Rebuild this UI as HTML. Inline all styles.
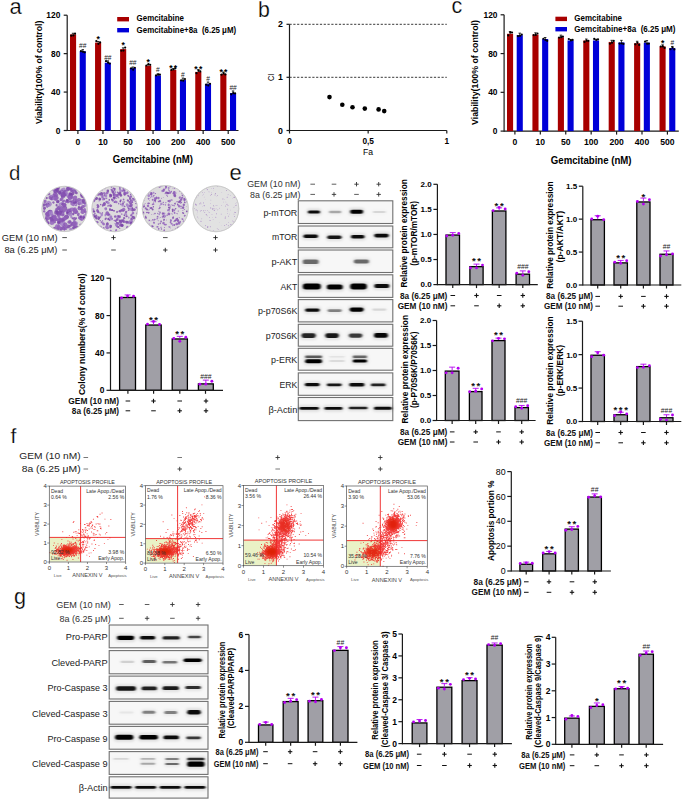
<!DOCTYPE html>
<html><head><meta charset="utf-8"><style>
html,body{margin:0;padding:0;background:#fff;width:685px;height:802px;overflow:hidden}
svg{display:block;font-family:"Liberation Sans", sans-serif}
</style></head><body>
<svg width="685" height="802" viewBox="0 0 685 802">
<rect width="685" height="802" fill="#fff"/>
<text x="9.51" y="13.90" font-size="22.00" stroke="#fff" stroke-width="0.25">a</text>
<line x1="67.20" y1="131.10" x2="67.20" y2="15.20" stroke="#1a1a1a" stroke-width="1.2"/>
<line x1="63.70" y1="130.50" x2="67.20" y2="130.50" stroke="#1a1a1a" stroke-width="1.2"/>
<text x="60.30" y="133.52" font-size="8.40" text-anchor="end" font-weight="bold">0</text>
<line x1="63.70" y1="92.07" x2="67.20" y2="92.07" stroke="#1a1a1a" stroke-width="1.2"/>
<text x="60.30" y="95.09" font-size="8.40" text-anchor="end" font-weight="bold">40</text>
<line x1="63.70" y1="53.63" x2="67.20" y2="53.63" stroke="#1a1a1a" stroke-width="1.2"/>
<text x="60.30" y="56.66" font-size="8.40" text-anchor="end" font-weight="bold">80</text>
<line x1="63.70" y1="15.20" x2="67.20" y2="15.20" stroke="#1a1a1a" stroke-width="1.2"/>
<text x="60.30" y="18.22" font-size="8.40" text-anchor="end" font-weight="bold">120</text>
<line x1="67.20" y1="130.50" x2="238.50" y2="130.50" stroke="#1a1a1a" stroke-width="1.2"/>
<line x1="77.90" y1="130.50" x2="77.90" y2="134.00" stroke="#1a1a1a" stroke-width="1.2"/>
<line x1="102.95" y1="130.50" x2="102.95" y2="134.00" stroke="#1a1a1a" stroke-width="1.2"/>
<line x1="128.00" y1="130.50" x2="128.00" y2="134.00" stroke="#1a1a1a" stroke-width="1.2"/>
<line x1="153.05" y1="130.50" x2="153.05" y2="134.00" stroke="#1a1a1a" stroke-width="1.2"/>
<line x1="178.10" y1="130.50" x2="178.10" y2="134.00" stroke="#1a1a1a" stroke-width="1.2"/>
<line x1="203.15" y1="130.50" x2="203.15" y2="134.00" stroke="#1a1a1a" stroke-width="1.2"/>
<line x1="228.20" y1="130.50" x2="228.20" y2="134.00" stroke="#1a1a1a" stroke-width="1.2"/>
<rect x="70.00" y="34.42" width="6.10" height="96.08" fill="#a80000"/>
<line x1="73.05" y1="33.26" x2="73.05" y2="34.42" stroke="#000" stroke-width="0.8"/>
<line x1="71.80" y1="33.26" x2="74.30" y2="33.26" stroke="#000" stroke-width="0.8"/>
<circle cx="71.25" cy="35.70" r="1.10" fill="#000"/>
<circle cx="73.35" cy="35.41" r="1.10" fill="#000"/>
<circle cx="75.05" cy="33.68" r="1.10" fill="#000"/>
<rect x="79.70" y="51.23" width="6.10" height="79.27" fill="#0000d8"/>
<line x1="82.75" y1="49.64" x2="82.75" y2="51.23" stroke="#000" stroke-width="0.8"/>
<line x1="81.50" y1="49.64" x2="84.00" y2="49.64" stroke="#000" stroke-width="0.8"/>
<circle cx="80.95" cy="51.16" r="1.10" fill="#000"/>
<circle cx="83.05" cy="51.85" r="1.10" fill="#000"/>
<circle cx="84.75" cy="52.31" r="1.10" fill="#000"/>
<text x="82.75" y="48.11" font-size="6.60" text-anchor="middle" fill="#222">##</text>
<rect x="95.05" y="42.58" width="6.10" height="87.92" fill="#a80000"/>
<line x1="98.10" y1="41.47" x2="98.10" y2="42.58" stroke="#000" stroke-width="0.8"/>
<line x1="96.85" y1="41.47" x2="99.35" y2="41.47" stroke="#000" stroke-width="0.8"/>
<circle cx="96.30" cy="41.08" r="1.10" fill="#000"/>
<circle cx="98.40" cy="43.83" r="1.10" fill="#000"/>
<circle cx="100.10" cy="42.46" r="1.10" fill="#000"/>
<text x="98.70" y="41.74" font-size="8.60" text-anchor="middle" font-weight="bold" fill="#000" letter-spacing="1.2">*</text>
<rect x="104.75" y="62.76" width="6.10" height="67.74" fill="#0000d8"/>
<line x1="107.80" y1="60.85" x2="107.80" y2="62.76" stroke="#000" stroke-width="0.8"/>
<line x1="106.55" y1="60.85" x2="109.05" y2="60.85" stroke="#000" stroke-width="0.8"/>
<circle cx="106.00" cy="61.17" r="1.10" fill="#000"/>
<circle cx="108.10" cy="62.68" r="1.10" fill="#000"/>
<circle cx="109.80" cy="63.61" r="1.10" fill="#000"/>
<text x="107.80" y="59.64" font-size="6.60" text-anchor="middle" fill="#222">##</text>
<rect x="120.10" y="49.12" width="6.10" height="81.38" fill="#a80000"/>
<line x1="123.15" y1="47.84" x2="123.15" y2="49.12" stroke="#000" stroke-width="0.8"/>
<line x1="121.90" y1="47.84" x2="124.40" y2="47.84" stroke="#000" stroke-width="0.8"/>
<circle cx="121.35" cy="50.73" r="1.10" fill="#000"/>
<circle cx="123.45" cy="50.58" r="1.10" fill="#000"/>
<circle cx="125.15" cy="47.62" r="1.10" fill="#000"/>
<text x="123.75" y="48.28" font-size="8.60" text-anchor="middle" font-weight="bold" fill="#000" letter-spacing="1.2">*</text>
<rect x="129.80" y="68.05" width="6.10" height="62.45" fill="#0000d8"/>
<line x1="132.85" y1="67.02" x2="132.85" y2="68.05" stroke="#000" stroke-width="0.8"/>
<line x1="131.60" y1="67.02" x2="134.10" y2="67.02" stroke="#000" stroke-width="0.8"/>
<circle cx="131.05" cy="68.29" r="1.10" fill="#000"/>
<circle cx="133.15" cy="69.64" r="1.10" fill="#000"/>
<circle cx="134.85" cy="67.74" r="1.10" fill="#000"/>
<text x="132.85" y="64.92" font-size="6.60" text-anchor="middle" fill="#222">##</text>
<rect x="145.15" y="65.64" width="6.10" height="64.86" fill="#a80000"/>
<line x1="148.20" y1="64.38" x2="148.20" y2="65.64" stroke="#000" stroke-width="0.8"/>
<line x1="146.95" y1="64.38" x2="149.45" y2="64.38" stroke="#000" stroke-width="0.8"/>
<circle cx="146.40" cy="65.48" r="1.10" fill="#000"/>
<circle cx="148.50" cy="64.14" r="1.10" fill="#000"/>
<circle cx="150.20" cy="64.80" r="1.10" fill="#000"/>
<text x="148.80" y="64.80" font-size="8.60" text-anchor="middle" font-weight="bold" fill="#000" letter-spacing="1.2">*</text>
<rect x="154.85" y="75.35" width="6.10" height="55.15" fill="#0000d8"/>
<line x1="157.90" y1="73.82" x2="157.90" y2="75.35" stroke="#000" stroke-width="0.8"/>
<line x1="156.65" y1="73.82" x2="159.15" y2="73.82" stroke="#000" stroke-width="0.8"/>
<circle cx="156.10" cy="75.43" r="1.10" fill="#000"/>
<circle cx="158.20" cy="74.54" r="1.10" fill="#000"/>
<circle cx="159.90" cy="74.53" r="1.10" fill="#000"/>
<text x="157.90" y="72.22" font-size="6.60" text-anchor="middle" fill="#222">#</text>
<rect x="170.20" y="69.97" width="6.10" height="60.53" fill="#a80000"/>
<line x1="173.25" y1="68.70" x2="173.25" y2="69.97" stroke="#000" stroke-width="0.8"/>
<line x1="172.00" y1="68.70" x2="174.50" y2="68.70" stroke="#000" stroke-width="0.8"/>
<circle cx="171.45" cy="69.93" r="1.10" fill="#000"/>
<circle cx="173.55" cy="69.35" r="1.10" fill="#000"/>
<circle cx="175.25" cy="68.44" r="1.10" fill="#000"/>
<text x="173.85" y="70.53" font-size="8.60" text-anchor="middle" font-weight="bold" fill="#000" letter-spacing="1.2">**</text>
<rect x="179.90" y="80.06" width="6.10" height="50.44" fill="#0000d8"/>
<line x1="182.95" y1="78.05" x2="182.95" y2="80.06" stroke="#000" stroke-width="0.8"/>
<line x1="181.70" y1="78.05" x2="184.20" y2="78.05" stroke="#000" stroke-width="0.8"/>
<circle cx="181.15" cy="80.35" r="1.10" fill="#000"/>
<circle cx="183.25" cy="80.64" r="1.10" fill="#000"/>
<circle cx="184.95" cy="79.09" r="1.10" fill="#000"/>
<text x="182.95" y="76.93" font-size="6.60" text-anchor="middle" fill="#222">#</text>
<rect x="195.25" y="71.89" width="6.10" height="58.61" fill="#a80000"/>
<line x1="198.30" y1="69.70" x2="198.30" y2="71.89" stroke="#000" stroke-width="0.8"/>
<line x1="197.05" y1="69.70" x2="199.55" y2="69.70" stroke="#000" stroke-width="0.8"/>
<circle cx="196.50" cy="73.21" r="1.10" fill="#000"/>
<circle cx="198.60" cy="70.70" r="1.10" fill="#000"/>
<circle cx="200.30" cy="71.42" r="1.10" fill="#000"/>
<text x="198.90" y="72.45" font-size="8.60" text-anchor="middle" font-weight="bold" fill="#000" letter-spacing="1.2">**</text>
<rect x="204.95" y="83.90" width="6.10" height="46.60" fill="#0000d8"/>
<line x1="208.00" y1="82.03" x2="208.00" y2="83.90" stroke="#000" stroke-width="0.8"/>
<line x1="206.75" y1="82.03" x2="209.25" y2="82.03" stroke="#000" stroke-width="0.8"/>
<circle cx="206.20" cy="84.72" r="1.10" fill="#000"/>
<circle cx="208.30" cy="85.48" r="1.10" fill="#000"/>
<circle cx="210.00" cy="83.73" r="1.10" fill="#000"/>
<text x="208.00" y="80.78" font-size="6.60" text-anchor="middle" fill="#222">#</text>
<rect x="220.30" y="74.00" width="6.10" height="56.50" fill="#a80000"/>
<line x1="223.35" y1="72.01" x2="223.35" y2="74.00" stroke="#000" stroke-width="0.8"/>
<line x1="222.10" y1="72.01" x2="224.60" y2="72.01" stroke="#000" stroke-width="0.8"/>
<circle cx="221.55" cy="74.68" r="1.10" fill="#000"/>
<circle cx="223.65" cy="73.43" r="1.10" fill="#000"/>
<circle cx="225.35" cy="74.40" r="1.10" fill="#000"/>
<text x="223.95" y="74.56" font-size="8.60" text-anchor="middle" font-weight="bold" fill="#000" letter-spacing="1.2">**</text>
<rect x="230.00" y="93.03" width="6.10" height="37.47" fill="#0000d8"/>
<line x1="233.05" y1="90.97" x2="233.05" y2="93.03" stroke="#000" stroke-width="0.8"/>
<line x1="231.80" y1="90.97" x2="234.30" y2="90.97" stroke="#000" stroke-width="0.8"/>
<circle cx="231.25" cy="94.30" r="1.10" fill="#000"/>
<circle cx="233.35" cy="93.15" r="1.10" fill="#000"/>
<circle cx="235.05" cy="93.43" r="1.10" fill="#000"/>
<text x="233.05" y="89.90" font-size="6.60" text-anchor="middle" fill="#222">##</text>
<text x="77.90" y="145.30" font-size="8.60" text-anchor="middle" font-weight="bold">0</text>
<text x="102.95" y="145.30" font-size="8.60" text-anchor="middle" font-weight="bold">10</text>
<text x="128.00" y="145.30" font-size="8.60" text-anchor="middle" font-weight="bold">50</text>
<text x="153.05" y="145.30" font-size="8.60" text-anchor="middle" font-weight="bold">100</text>
<text x="178.10" y="145.30" font-size="8.60" text-anchor="middle" font-weight="bold">200</text>
<text x="203.15" y="145.30" font-size="8.60" text-anchor="middle" font-weight="bold">400</text>
<text x="228.20" y="145.30" font-size="8.60" text-anchor="middle" font-weight="bold">500</text>
<text x="112.80" y="163.31" font-size="10.30" font-weight="bold" textLength="80.20" lengthAdjust="spacingAndGlyphs">Gemcitabine (nM)</text>
<text x="41.53" y="72.35" font-size="9.10" text-anchor="middle" transform="rotate(-90 41.53 72.35)" font-weight="bold" textLength="103.30" lengthAdjust="spacingAndGlyphs">Viability(100% of control)</text>
<rect x="117.20" y="17.00" width="11.80" height="4.40" fill="#a80000"/>
<rect x="117.20" y="28.00" width="11.80" height="4.40" fill="#0000d8"/>
<text x="136.60" y="21.49" font-size="8.30" font-weight="bold" textLength="47.40" lengthAdjust="spacingAndGlyphs">Gemcitabine</text>
<text x="136.60" y="32.99" font-size="8.30" font-weight="bold" textLength="99.60" lengthAdjust="spacingAndGlyphs">Gemcitabine+8a  (6.25 μM)</text>
<text x="451.43" y="12.80" font-size="21.50" stroke="#fff" stroke-width="0.25">c</text>
<line x1="504.10" y1="131.70" x2="504.10" y2="14.80" stroke="#1a1a1a" stroke-width="1.2"/>
<line x1="500.60" y1="131.10" x2="504.10" y2="131.10" stroke="#1a1a1a" stroke-width="1.2"/>
<text x="497.50" y="134.12" font-size="8.40" text-anchor="end" font-weight="bold">0</text>
<line x1="500.60" y1="92.33" x2="504.10" y2="92.33" stroke="#1a1a1a" stroke-width="1.2"/>
<text x="497.50" y="95.36" font-size="8.40" text-anchor="end" font-weight="bold">40</text>
<line x1="500.60" y1="53.57" x2="504.10" y2="53.57" stroke="#1a1a1a" stroke-width="1.2"/>
<text x="497.50" y="56.59" font-size="8.40" text-anchor="end" font-weight="bold">80</text>
<line x1="500.60" y1="14.80" x2="504.10" y2="14.80" stroke="#1a1a1a" stroke-width="1.2"/>
<text x="497.50" y="17.82" font-size="8.40" text-anchor="end" font-weight="bold">120</text>
<line x1="504.10" y1="131.10" x2="678.80" y2="131.10" stroke="#1a1a1a" stroke-width="1.2"/>
<line x1="514.90" y1="131.10" x2="514.90" y2="134.60" stroke="#1a1a1a" stroke-width="1.2"/>
<line x1="540.32" y1="131.10" x2="540.32" y2="134.60" stroke="#1a1a1a" stroke-width="1.2"/>
<line x1="565.74" y1="131.10" x2="565.74" y2="134.60" stroke="#1a1a1a" stroke-width="1.2"/>
<line x1="591.16" y1="131.10" x2="591.16" y2="134.60" stroke="#1a1a1a" stroke-width="1.2"/>
<line x1="616.58" y1="131.10" x2="616.58" y2="134.60" stroke="#1a1a1a" stroke-width="1.2"/>
<line x1="642.00" y1="131.10" x2="642.00" y2="134.60" stroke="#1a1a1a" stroke-width="1.2"/>
<line x1="667.42" y1="131.10" x2="667.42" y2="134.60" stroke="#1a1a1a" stroke-width="1.2"/>
<rect x="507.00" y="33.80" width="6.10" height="97.30" fill="#a80000"/>
<line x1="510.05" y1="31.65" x2="510.05" y2="33.80" stroke="#000" stroke-width="0.8"/>
<line x1="508.80" y1="31.65" x2="511.30" y2="31.65" stroke="#000" stroke-width="0.8"/>
<circle cx="508.25" cy="35.42" r="1.10" fill="#000"/>
<circle cx="510.35" cy="32.39" r="1.10" fill="#000"/>
<circle cx="512.05" cy="32.48" r="1.10" fill="#000"/>
<rect x="516.70" y="35.15" width="6.10" height="95.95" fill="#0000d8"/>
<line x1="519.75" y1="33.15" x2="519.75" y2="35.15" stroke="#000" stroke-width="0.8"/>
<line x1="518.50" y1="33.15" x2="521.00" y2="33.15" stroke="#000" stroke-width="0.8"/>
<circle cx="517.95" cy="36.05" r="1.10" fill="#000"/>
<circle cx="520.05" cy="35.83" r="1.10" fill="#000"/>
<circle cx="521.75" cy="34.60" r="1.10" fill="#000"/>
<rect x="532.42" y="34.57" width="6.10" height="96.53" fill="#a80000"/>
<line x1="535.47" y1="32.84" x2="535.47" y2="34.57" stroke="#000" stroke-width="0.8"/>
<line x1="534.22" y1="32.84" x2="536.72" y2="32.84" stroke="#000" stroke-width="0.8"/>
<circle cx="533.67" cy="35.03" r="1.10" fill="#000"/>
<circle cx="535.77" cy="34.95" r="1.10" fill="#000"/>
<circle cx="537.47" cy="33.51" r="1.10" fill="#000"/>
<rect x="542.12" y="39.03" width="6.10" height="92.07" fill="#0000d8"/>
<line x1="545.17" y1="37.51" x2="545.17" y2="39.03" stroke="#000" stroke-width="0.8"/>
<line x1="543.92" y1="37.51" x2="546.42" y2="37.51" stroke="#000" stroke-width="0.8"/>
<circle cx="543.37" cy="38.77" r="1.10" fill="#000"/>
<circle cx="545.47" cy="39.89" r="1.10" fill="#000"/>
<circle cx="547.17" cy="40.81" r="1.10" fill="#000"/>
<rect x="557.84" y="37.28" width="6.10" height="93.82" fill="#a80000"/>
<line x1="560.89" y1="35.15" x2="560.89" y2="37.28" stroke="#000" stroke-width="0.8"/>
<line x1="559.64" y1="35.15" x2="562.14" y2="35.15" stroke="#000" stroke-width="0.8"/>
<circle cx="559.09" cy="37.53" r="1.10" fill="#000"/>
<circle cx="561.19" cy="37.20" r="1.10" fill="#000"/>
<circle cx="562.89" cy="36.60" r="1.10" fill="#000"/>
<rect x="567.54" y="40.48" width="6.10" height="90.62" fill="#0000d8"/>
<line x1="570.59" y1="39.44" x2="570.59" y2="40.48" stroke="#000" stroke-width="0.8"/>
<line x1="569.34" y1="39.44" x2="571.84" y2="39.44" stroke="#000" stroke-width="0.8"/>
<circle cx="568.79" cy="38.98" r="1.10" fill="#000"/>
<circle cx="570.89" cy="40.46" r="1.10" fill="#000"/>
<circle cx="572.59" cy="39.97" r="1.10" fill="#000"/>
<rect x="583.26" y="40.48" width="6.10" height="90.62" fill="#a80000"/>
<line x1="586.31" y1="39.03" x2="586.31" y2="40.48" stroke="#000" stroke-width="0.8"/>
<line x1="585.06" y1="39.03" x2="587.56" y2="39.03" stroke="#000" stroke-width="0.8"/>
<circle cx="584.51" cy="41.92" r="1.10" fill="#000"/>
<circle cx="586.61" cy="40.67" r="1.10" fill="#000"/>
<circle cx="588.31" cy="40.79" r="1.10" fill="#000"/>
<rect x="592.96" y="40.48" width="6.10" height="90.62" fill="#0000d8"/>
<line x1="596.01" y1="39.20" x2="596.01" y2="40.48" stroke="#000" stroke-width="0.8"/>
<line x1="594.76" y1="39.20" x2="597.26" y2="39.20" stroke="#000" stroke-width="0.8"/>
<circle cx="594.21" cy="38.96" r="1.10" fill="#000"/>
<circle cx="596.31" cy="39.99" r="1.10" fill="#000"/>
<circle cx="598.01" cy="39.35" r="1.10" fill="#000"/>
<rect x="608.68" y="41.94" width="6.10" height="89.16" fill="#a80000"/>
<line x1="611.73" y1="40.32" x2="611.73" y2="41.94" stroke="#000" stroke-width="0.8"/>
<line x1="610.48" y1="40.32" x2="612.98" y2="40.32" stroke="#000" stroke-width="0.8"/>
<circle cx="609.93" cy="43.73" r="1.10" fill="#000"/>
<circle cx="612.03" cy="42.63" r="1.10" fill="#000"/>
<circle cx="613.73" cy="40.95" r="1.10" fill="#000"/>
<rect x="618.38" y="42.42" width="6.10" height="88.68" fill="#0000d8"/>
<line x1="621.43" y1="40.35" x2="621.43" y2="42.42" stroke="#000" stroke-width="0.8"/>
<line x1="620.18" y1="40.35" x2="622.68" y2="40.35" stroke="#000" stroke-width="0.8"/>
<circle cx="619.63" cy="43.53" r="1.10" fill="#000"/>
<circle cx="621.73" cy="43.32" r="1.10" fill="#000"/>
<circle cx="623.43" cy="43.90" r="1.10" fill="#000"/>
<rect x="634.10" y="43.20" width="6.10" height="87.90" fill="#a80000"/>
<line x1="637.15" y1="41.28" x2="637.15" y2="43.20" stroke="#000" stroke-width="0.8"/>
<line x1="635.90" y1="41.28" x2="638.40" y2="41.28" stroke="#000" stroke-width="0.8"/>
<circle cx="635.35" cy="44.28" r="1.10" fill="#000"/>
<circle cx="637.45" cy="42.80" r="1.10" fill="#000"/>
<circle cx="639.15" cy="44.93" r="1.10" fill="#000"/>
<rect x="643.80" y="42.71" width="6.10" height="88.39" fill="#0000d8"/>
<line x1="646.85" y1="40.56" x2="646.85" y2="42.71" stroke="#000" stroke-width="0.8"/>
<line x1="645.60" y1="40.56" x2="648.10" y2="40.56" stroke="#000" stroke-width="0.8"/>
<circle cx="645.05" cy="41.66" r="1.10" fill="#000"/>
<circle cx="647.15" cy="43.68" r="1.10" fill="#000"/>
<circle cx="648.85" cy="43.54" r="1.10" fill="#000"/>
<rect x="659.52" y="46.39" width="6.10" height="84.71" fill="#a80000"/>
<line x1="662.57" y1="44.84" x2="662.57" y2="46.39" stroke="#000" stroke-width="0.8"/>
<line x1="661.32" y1="44.84" x2="663.82" y2="44.84" stroke="#000" stroke-width="0.8"/>
<circle cx="660.77" cy="46.60" r="1.10" fill="#000"/>
<circle cx="662.87" cy="46.46" r="1.10" fill="#000"/>
<circle cx="664.57" cy="47.94" r="1.10" fill="#000"/>
<text x="663.17" y="45.55" font-size="8.60" text-anchor="middle" font-weight="bold" fill="#000" letter-spacing="1.2">*</text>
<rect x="669.22" y="48.04" width="6.10" height="83.06" fill="#0000d8"/>
<line x1="672.27" y1="46.44" x2="672.27" y2="48.04" stroke="#000" stroke-width="0.8"/>
<line x1="671.02" y1="46.44" x2="673.52" y2="46.44" stroke="#000" stroke-width="0.8"/>
<circle cx="670.47" cy="49.27" r="1.10" fill="#000"/>
<circle cx="672.57" cy="47.65" r="1.10" fill="#000"/>
<circle cx="674.27" cy="49.44" r="1.10" fill="#000"/>
<text x="672.27" y="44.92" font-size="6.60" text-anchor="middle" fill="#222">#</text>
<text x="514.90" y="145.40" font-size="8.60" text-anchor="middle" font-weight="bold">0</text>
<text x="540.32" y="145.40" font-size="8.60" text-anchor="middle" font-weight="bold">10</text>
<text x="565.74" y="145.40" font-size="8.60" text-anchor="middle" font-weight="bold">50</text>
<text x="591.16" y="145.40" font-size="8.60" text-anchor="middle" font-weight="bold">100</text>
<text x="616.58" y="145.40" font-size="8.60" text-anchor="middle" font-weight="bold">200</text>
<text x="642.00" y="145.40" font-size="8.60" text-anchor="middle" font-weight="bold">400</text>
<text x="667.42" y="145.40" font-size="8.60" text-anchor="middle" font-weight="bold">500</text>
<text x="550.80" y="164.41" font-size="10.30" font-weight="bold" textLength="80.70" lengthAdjust="spacingAndGlyphs">Gemcitabine (nM)</text>
<text x="478.23" y="72.50" font-size="9.10" text-anchor="middle" transform="rotate(-90 478.23 72.50)" font-weight="bold" textLength="105.00" lengthAdjust="spacingAndGlyphs">Viability(100% of control)</text>
<rect x="555.40" y="16.70" width="11.60" height="4.40" fill="#a80000"/>
<rect x="555.40" y="27.00" width="11.60" height="4.40" fill="#0000d8"/>
<text x="574.30" y="21.29" font-size="8.30" font-weight="bold" textLength="47.70" lengthAdjust="spacingAndGlyphs">Gemcitabine</text>
<text x="574.30" y="32.39" font-size="8.30" font-weight="bold" textLength="101.20" lengthAdjust="spacingAndGlyphs">Gemcitabine+8a  (6.25 μM)</text>
<text x="258.09" y="16.90" font-size="21.30" stroke="#fff" stroke-width="0.25">b</text>
<line x1="289.50" y1="131.10" x2="289.50" y2="24.30" stroke="#1a1a1a" stroke-width="1.2"/>
<line x1="289.50" y1="130.50" x2="446.80" y2="130.50" stroke="#1a1a1a" stroke-width="1.2"/>
<line x1="286.50" y1="130.50" x2="289.50" y2="130.50" stroke="#1a1a1a" stroke-width="1.2"/>
<text x="282.80" y="133.67" font-size="8.80" text-anchor="end" font-weight="bold">0</text>
<line x1="286.50" y1="77.30" x2="289.50" y2="77.30" stroke="#1a1a1a" stroke-width="1.2"/>
<text x="282.80" y="80.47" font-size="8.80" text-anchor="end" font-weight="bold">1</text>
<line x1="286.50" y1="24.30" x2="289.50" y2="24.30" stroke="#1a1a1a" stroke-width="1.2"/>
<text x="282.80" y="27.47" font-size="8.80" text-anchor="end" font-weight="bold">2</text>
<line x1="289.50" y1="130.50" x2="289.50" y2="133.50" stroke="#1a1a1a" stroke-width="1.2"/>
<text x="289.50" y="143.69" font-size="8.30" text-anchor="middle" font-weight="bold">0</text>
<line x1="368.15" y1="130.50" x2="368.15" y2="133.50" stroke="#1a1a1a" stroke-width="1.2"/>
<text x="368.15" y="143.69" font-size="8.30" text-anchor="middle" font-weight="bold">0,5</text>
<line x1="446.80" y1="130.50" x2="446.80" y2="133.50" stroke="#1a1a1a" stroke-width="1.2"/>
<text x="446.80" y="143.69" font-size="8.30" text-anchor="middle" font-weight="bold">1</text>
<line x1="289.50" y1="77.30" x2="446.80" y2="77.30" stroke="#222" stroke-width="0.9" stroke-dasharray="2.2,1.6"/>
<line x1="289.50" y1="24.30" x2="446.80" y2="24.30" stroke="#222" stroke-width="0.9" stroke-dasharray="2.2,1.6"/>
<text x="368.10" y="154.90" font-size="8.60" text-anchor="middle">Fa</text>
<text x="274.00" y="77.40" font-size="8.60" text-anchor="middle" transform="rotate(-90 274.00 77.40)" textLength="7.20" lengthAdjust="spacingAndGlyphs">CI</text>
<circle cx="329.50" cy="97.10" r="2.30" fill="#000"/>
<circle cx="342.30" cy="104.80" r="2.30" fill="#000"/>
<circle cx="352.50" cy="107.30" r="2.30" fill="#000"/>
<circle cx="364.80" cy="108.60" r="2.30" fill="#000"/>
<circle cx="378.60" cy="109.40" r="2.30" fill="#000"/>
<circle cx="384.20" cy="111.10" r="2.30" fill="#000"/>
<text x="8.98" y="180.10" font-size="20.40" stroke="#fff" stroke-width="0.25">d</text>
<defs><filter id="pb" x="-20%" y="-20%" width="140%" height="140%"><feGaussianBlur stdDeviation="0.45"/></filter><clipPath id="cp1"><circle cx="64.6" cy="208.9" r="22.3"/></clipPath><clipPath id="cp2"><circle cx="114.7" cy="208.9" r="22.6"/></clipPath><clipPath id="cp3"><circle cx="165.3" cy="208.6" r="22.8"/></clipPath><clipPath id="cp4"><circle cx="215.9" cy="208.8" r="22.8"/></clipPath></defs>
<circle cx="64.60" cy="208.90" r="23.00" fill="#d4d4d4"/>
<circle cx="64.60" cy="208.90" r="22.20" fill="#dddbdd"/>
<g clip-path="url(#cp1)" filter="url(#pb)">
<ellipse cx="48.2" cy="214.0" rx="2.46" ry="2.27" fill="#8a58b4" fill-opacity="0.82" transform="rotate(34 48.2 214.0)"/>
<ellipse cx="69.9" cy="193.9" rx="1.68" ry="1.74" fill="#9262bc" fill-opacity="0.82" transform="rotate(16 69.9 193.9)"/>
<ellipse cx="71.6" cy="191.1" rx="1.25" ry="1.14" fill="#8a58b4" fill-opacity="0.82" transform="rotate(117 71.6 191.1)"/>
<ellipse cx="49.6" cy="194.2" rx="0.82" ry="1.14" fill="#8a58b4" fill-opacity="0.82" transform="rotate(5 49.6 194.2)"/>
<ellipse cx="49.7" cy="212.3" rx="2.38" ry="2.29" fill="#a07cc6" fill-opacity="0.82" transform="rotate(1 49.7 212.3)"/>
<ellipse cx="80.6" cy="218.4" rx="1.67" ry="1.81" fill="#8450b0" fill-opacity="0.82" transform="rotate(127 80.6 218.4)"/>
<ellipse cx="60.2" cy="219.0" rx="1.14" ry="1.48" fill="#a07cc6" fill-opacity="0.82" transform="rotate(19 60.2 219.0)"/>
<ellipse cx="63.1" cy="214.7" rx="1.06" ry="0.75" fill="#8450b0" fill-opacity="0.82" transform="rotate(85 63.1 214.7)"/>
<ellipse cx="79.0" cy="207.1" rx="1.13" ry="1.11" fill="#7a44a8" fill-opacity="0.82" transform="rotate(61 79.0 207.1)"/>
<ellipse cx="63.5" cy="211.5" rx="1.96" ry="1.19" fill="#8450b0" fill-opacity="0.82" transform="rotate(2 63.5 211.5)"/>
<ellipse cx="48.9" cy="212.4" rx="1.78" ry="1.90" fill="#9262bc" fill-opacity="0.82" transform="rotate(75 48.9 212.4)"/>
<ellipse cx="53.8" cy="218.5" rx="1.99" ry="2.81" fill="#8a58b4" fill-opacity="0.82" transform="rotate(55 53.8 218.5)"/>
<ellipse cx="72.5" cy="201.9" rx="1.88" ry="1.56" fill="#8450b0" fill-opacity="0.82" transform="rotate(8 72.5 201.9)"/>
<ellipse cx="73.9" cy="221.1" rx="1.01" ry="1.02" fill="#a07cc6" fill-opacity="0.82" transform="rotate(13 73.9 221.1)"/>
<ellipse cx="79.4" cy="218.3" rx="1.42" ry="1.14" fill="#a07cc6" fill-opacity="0.82" transform="rotate(23 79.4 218.3)"/>
<ellipse cx="46.7" cy="198.0" rx="1.11" ry="1.13" fill="#7a44a8" fill-opacity="0.82" transform="rotate(164 46.7 198.0)"/>
<ellipse cx="69.3" cy="198.4" rx="1.41" ry="1.41" fill="#9262bc" fill-opacity="0.82" transform="rotate(124 69.3 198.4)"/>
<ellipse cx="52.4" cy="219.2" rx="0.84" ry="0.77" fill="#8a58b4" fill-opacity="0.82" transform="rotate(173 52.4 219.2)"/>
<ellipse cx="66.0" cy="228.2" rx="1.59" ry="1.31" fill="#7a44a8" fill-opacity="0.82" transform="rotate(94 66.0 228.2)"/>
<ellipse cx="85.1" cy="199.1" rx="1.15" ry="1.13" fill="#8a58b4" fill-opacity="0.82" transform="rotate(111 85.1 199.1)"/>
<ellipse cx="60.4" cy="230.5" rx="0.99" ry="1.02" fill="#a07cc6" fill-opacity="0.82" transform="rotate(45 60.4 230.5)"/>
<ellipse cx="76.3" cy="212.4" rx="2.25" ry="1.31" fill="#9262bc" fill-opacity="0.82" transform="rotate(160 76.3 212.4)"/>
<ellipse cx="83.1" cy="206.6" rx="2.19" ry="1.54" fill="#8450b0" fill-opacity="0.82" transform="rotate(166 83.1 206.6)"/>
<ellipse cx="51.0" cy="211.1" rx="1.14" ry="1.40" fill="#8450b0" fill-opacity="0.82" transform="rotate(87 51.0 211.1)"/>
<ellipse cx="63.0" cy="196.0" rx="2.09" ry="2.43" fill="#8450b0" fill-opacity="0.82" transform="rotate(162 63.0 196.0)"/>
<ellipse cx="63.0" cy="189.7" rx="2.73" ry="1.90" fill="#a07cc6" fill-opacity="0.82" transform="rotate(162 63.0 189.7)"/>
<ellipse cx="74.8" cy="198.1" rx="2.67" ry="2.14" fill="#8a58b4" fill-opacity="0.82" transform="rotate(119 74.8 198.1)"/>
<ellipse cx="62.7" cy="210.7" rx="0.86" ry="0.77" fill="#7a44a8" fill-opacity="0.82" transform="rotate(158 62.7 210.7)"/>
<ellipse cx="62.6" cy="194.7" rx="2.26" ry="1.91" fill="#8a58b4" fill-opacity="0.82" transform="rotate(15 62.6 194.7)"/>
<ellipse cx="64.6" cy="204.9" rx="1.94" ry="1.52" fill="#8450b0" fill-opacity="0.82" transform="rotate(90 64.6 204.9)"/>
<ellipse cx="48.0" cy="194.4" rx="1.05" ry="1.11" fill="#8a58b4" fill-opacity="0.82" transform="rotate(36 48.0 194.4)"/>
<ellipse cx="75.2" cy="228.1" rx="2.00" ry="2.24" fill="#7a44a8" fill-opacity="0.82" transform="rotate(73 75.2 228.1)"/>
<ellipse cx="64.5" cy="227.2" rx="2.57" ry="1.75" fill="#9262bc" fill-opacity="0.82" transform="rotate(69 64.5 227.2)"/>
<ellipse cx="53.4" cy="202.4" rx="1.17" ry="1.25" fill="#8450b0" fill-opacity="0.82" transform="rotate(128 53.4 202.4)"/>
<ellipse cx="76.1" cy="205.2" rx="1.20" ry="0.98" fill="#9262bc" fill-opacity="0.82" transform="rotate(150 76.1 205.2)"/>
<ellipse cx="52.3" cy="220.1" rx="2.29" ry="2.21" fill="#8a58b4" fill-opacity="0.82" transform="rotate(81 52.3 220.1)"/>
<ellipse cx="68.2" cy="210.7" rx="1.88" ry="2.42" fill="#8a58b4" fill-opacity="0.82" transform="rotate(64 68.2 210.7)"/>
<ellipse cx="54.4" cy="195.0" rx="1.93" ry="1.53" fill="#7a44a8" fill-opacity="0.82" transform="rotate(43 54.4 195.0)"/>
<ellipse cx="67.8" cy="212.8" rx="1.95" ry="1.94" fill="#7a44a8" fill-opacity="0.82" transform="rotate(173 67.8 212.8)"/>
<ellipse cx="60.5" cy="199.5" rx="1.48" ry="1.17" fill="#a07cc6" fill-opacity="0.82" transform="rotate(96 60.5 199.5)"/>
<ellipse cx="75.3" cy="211.4" rx="2.30" ry="2.52" fill="#8a58b4" fill-opacity="0.82" transform="rotate(111 75.3 211.4)"/>
<ellipse cx="65.2" cy="194.5" rx="2.72" ry="1.61" fill="#a07cc6" fill-opacity="0.82" transform="rotate(23 65.2 194.5)"/>
<ellipse cx="47.2" cy="214.1" rx="2.33" ry="2.32" fill="#8a58b4" fill-opacity="0.82" transform="rotate(143 47.2 214.1)"/>
<ellipse cx="79.3" cy="203.5" rx="1.75" ry="2.06" fill="#8450b0" fill-opacity="0.82" transform="rotate(38 79.3 203.5)"/>
<ellipse cx="83.0" cy="195.5" rx="2.63" ry="2.70" fill="#7a44a8" fill-opacity="0.82" transform="rotate(47 83.0 195.5)"/>
<ellipse cx="64.0" cy="206.1" rx="1.40" ry="1.49" fill="#a07cc6" fill-opacity="0.82" transform="rotate(138 64.0 206.1)"/>
<ellipse cx="60.7" cy="209.2" rx="1.83" ry="2.41" fill="#9262bc" fill-opacity="0.82" transform="rotate(96 60.7 209.2)"/>
<ellipse cx="56.1" cy="188.6" rx="2.15" ry="1.90" fill="#8a58b4" fill-opacity="0.82" transform="rotate(151 56.1 188.6)"/>
<ellipse cx="56.3" cy="188.1" rx="2.15" ry="1.25" fill="#9262bc" fill-opacity="0.82" transform="rotate(79 56.3 188.1)"/>
<ellipse cx="45.0" cy="201.3" rx="1.59" ry="1.72" fill="#8a58b4" fill-opacity="0.82" transform="rotate(46 45.0 201.3)"/>
<ellipse cx="53.9" cy="189.1" rx="2.53" ry="1.95" fill="#9262bc" fill-opacity="0.82" transform="rotate(174 53.9 189.1)"/>
<ellipse cx="47.4" cy="206.3" rx="1.30" ry="1.16" fill="#8a58b4" fill-opacity="0.82" transform="rotate(68 47.4 206.3)"/>
<ellipse cx="59.9" cy="207.8" rx="2.54" ry="2.83" fill="#8450b0" fill-opacity="0.82" transform="rotate(88 59.9 207.8)"/>
<ellipse cx="62.5" cy="203.4" rx="1.77" ry="2.08" fill="#a07cc6" fill-opacity="0.82" transform="rotate(48 62.5 203.4)"/>
<ellipse cx="56.5" cy="210.3" rx="1.93" ry="1.83" fill="#a07cc6" fill-opacity="0.82" transform="rotate(94 56.5 210.3)"/>
<ellipse cx="76.2" cy="218.3" rx="0.88" ry="1.00" fill="#8450b0" fill-opacity="0.82" transform="rotate(6 76.2 218.3)"/>
<ellipse cx="66.0" cy="211.0" rx="1.57" ry="1.11" fill="#a07cc6" fill-opacity="0.82" transform="rotate(19 66.0 211.0)"/>
<ellipse cx="63.6" cy="200.9" rx="1.59" ry="1.37" fill="#8a58b4" fill-opacity="0.82" transform="rotate(158 63.6 200.9)"/>
<ellipse cx="82.7" cy="211.6" rx="2.46" ry="2.15" fill="#8a58b4" fill-opacity="0.82" transform="rotate(115 82.7 211.6)"/>
<ellipse cx="43.7" cy="205.0" rx="2.31" ry="1.53" fill="#7a44a8" fill-opacity="0.82" transform="rotate(162 43.7 205.0)"/>
<ellipse cx="59.4" cy="220.7" rx="2.16" ry="2.85" fill="#8450b0" fill-opacity="0.82" transform="rotate(24 59.4 220.7)"/>
<ellipse cx="65.9" cy="228.5" rx="1.12" ry="1.47" fill="#a07cc6" fill-opacity="0.82" transform="rotate(98 65.9 228.5)"/>
<ellipse cx="61.7" cy="199.0" rx="2.28" ry="1.42" fill="#8a58b4" fill-opacity="0.82" transform="rotate(123 61.7 199.0)"/>
<ellipse cx="83.8" cy="196.9" rx="1.14" ry="1.17" fill="#8a58b4" fill-opacity="0.82" transform="rotate(180 83.8 196.9)"/>
<ellipse cx="74.9" cy="191.0" rx="1.36" ry="1.81" fill="#8a58b4" fill-opacity="0.82" transform="rotate(93 74.9 191.0)"/>
<ellipse cx="56.6" cy="205.2" rx="1.08" ry="1.34" fill="#7a44a8" fill-opacity="0.82" transform="rotate(167 56.6 205.2)"/>
<ellipse cx="69.3" cy="212.1" rx="2.50" ry="2.62" fill="#7a44a8" fill-opacity="0.82" transform="rotate(70 69.3 212.1)"/>
<ellipse cx="52.3" cy="215.0" rx="1.22" ry="1.26" fill="#8450b0" fill-opacity="0.82" transform="rotate(152 52.3 215.0)"/>
<ellipse cx="71.1" cy="223.0" rx="2.09" ry="1.66" fill="#9262bc" fill-opacity="0.82" transform="rotate(17 71.1 223.0)"/>
<ellipse cx="68.0" cy="196.3" rx="1.26" ry="1.18" fill="#a07cc6" fill-opacity="0.82" transform="rotate(103 68.0 196.3)"/>
<ellipse cx="71.0" cy="225.3" rx="1.71" ry="1.21" fill="#8450b0" fill-opacity="0.82" transform="rotate(134 71.0 225.3)"/>
<ellipse cx="68.2" cy="188.5" rx="1.93" ry="1.77" fill="#7a44a8" fill-opacity="0.82" transform="rotate(138 68.2 188.5)"/>
<ellipse cx="66.0" cy="194.3" rx="1.72" ry="1.79" fill="#a07cc6" fill-opacity="0.82" transform="rotate(18 66.0 194.3)"/>
<ellipse cx="82.1" cy="194.1" rx="1.93" ry="1.96" fill="#7a44a8" fill-opacity="0.82" transform="rotate(61 82.1 194.1)"/>
<ellipse cx="55.3" cy="194.3" rx="1.74" ry="2.10" fill="#9262bc" fill-opacity="0.82" transform="rotate(126 55.3 194.3)"/>
<ellipse cx="66.3" cy="186.2" rx="1.04" ry="1.00" fill="#7a44a8" fill-opacity="0.82" transform="rotate(80 66.3 186.2)"/>
<ellipse cx="44.5" cy="208.3" rx="1.56" ry="1.61" fill="#7a44a8" fill-opacity="0.82" transform="rotate(163 44.5 208.3)"/>
<ellipse cx="49.0" cy="203.8" rx="2.65" ry="2.93" fill="#a07cc6" fill-opacity="0.82" transform="rotate(146 49.0 203.8)"/>
<ellipse cx="80.4" cy="217.1" rx="1.74" ry="2.46" fill="#9262bc" fill-opacity="0.82" transform="rotate(69 80.4 217.1)"/>
<ellipse cx="85.5" cy="204.9" rx="1.94" ry="1.62" fill="#a07cc6" fill-opacity="0.82" transform="rotate(76 85.5 204.9)"/>
<ellipse cx="47.1" cy="205.9" rx="1.40" ry="1.53" fill="#8a58b4" fill-opacity="0.82" transform="rotate(167 47.1 205.9)"/>
<ellipse cx="54.3" cy="191.9" rx="1.12" ry="0.94" fill="#9262bc" fill-opacity="0.82" transform="rotate(74 54.3 191.9)"/>
<ellipse cx="62.5" cy="204.1" rx="1.40" ry="1.39" fill="#7a44a8" fill-opacity="0.82" transform="rotate(13 62.5 204.1)"/>
<ellipse cx="77.1" cy="200.5" rx="2.14" ry="1.37" fill="#8a58b4" fill-opacity="0.82" transform="rotate(18 77.1 200.5)"/>
<ellipse cx="72.7" cy="188.5" rx="1.45" ry="0.93" fill="#8450b0" fill-opacity="0.82" transform="rotate(9 72.7 188.5)"/>
<ellipse cx="57.7" cy="212.8" rx="2.23" ry="1.77" fill="#7a44a8" fill-opacity="0.82" transform="rotate(80 57.7 212.8)"/>
<ellipse cx="56.9" cy="195.4" rx="1.44" ry="1.20" fill="#8a58b4" fill-opacity="0.82" transform="rotate(147 56.9 195.4)"/>
<ellipse cx="72.7" cy="218.3" rx="1.15" ry="1.05" fill="#7a44a8" fill-opacity="0.82" transform="rotate(141 72.7 218.3)"/>
<ellipse cx="54.9" cy="199.2" rx="1.52" ry="1.31" fill="#8a58b4" fill-opacity="0.82" transform="rotate(34 54.9 199.2)"/>
<ellipse cx="62.6" cy="220.0" rx="2.55" ry="2.49" fill="#9262bc" fill-opacity="0.82" transform="rotate(158 62.6 220.0)"/>
<ellipse cx="70.1" cy="210.3" rx="1.35" ry="1.35" fill="#8450b0" fill-opacity="0.82" transform="rotate(40 70.1 210.3)"/>
<ellipse cx="61.1" cy="228.6" rx="2.08" ry="1.93" fill="#7a44a8" fill-opacity="0.82" transform="rotate(87 61.1 228.6)"/>
<ellipse cx="56.5" cy="219.5" rx="1.47" ry="1.92" fill="#8450b0" fill-opacity="0.82" transform="rotate(81 56.5 219.5)"/>
<ellipse cx="73.8" cy="190.0" rx="2.18" ry="2.29" fill="#a07cc6" fill-opacity="0.82" transform="rotate(146 73.8 190.0)"/>
<ellipse cx="52.0" cy="222.5" rx="2.39" ry="2.42" fill="#9262bc" fill-opacity="0.82" transform="rotate(77 52.0 222.5)"/>
<ellipse cx="59.7" cy="214.1" rx="1.93" ry="1.71" fill="#8a58b4" fill-opacity="0.82" transform="rotate(102 59.7 214.1)"/>
<ellipse cx="70.8" cy="194.5" rx="1.78" ry="1.90" fill="#8a58b4" fill-opacity="0.82" transform="rotate(15 70.8 194.5)"/>
<ellipse cx="58.1" cy="227.4" rx="1.89" ry="1.55" fill="#7a44a8" fill-opacity="0.82" transform="rotate(118 58.1 227.4)"/>
<ellipse cx="54.4" cy="228.3" rx="1.44" ry="1.41" fill="#7a44a8" fill-opacity="0.82" transform="rotate(79 54.4 228.3)"/>
<ellipse cx="68.8" cy="196.9" rx="1.41" ry="1.64" fill="#8a58b4" fill-opacity="0.82" transform="rotate(45 68.8 196.9)"/>
<ellipse cx="55.6" cy="219.5" rx="1.48" ry="1.32" fill="#9262bc" fill-opacity="0.82" transform="rotate(133 55.6 219.5)"/>
<ellipse cx="54.9" cy="219.5" rx="1.26" ry="0.91" fill="#8450b0" fill-opacity="0.82" transform="rotate(137 54.9 219.5)"/>
<ellipse cx="73.5" cy="200.6" rx="0.99" ry="0.91" fill="#8a58b4" fill-opacity="0.82" transform="rotate(53 73.5 200.6)"/>
<ellipse cx="85.5" cy="211.9" rx="1.72" ry="1.34" fill="#8a58b4" fill-opacity="0.82" transform="rotate(15 85.5 211.9)"/>
<ellipse cx="81.8" cy="218.6" rx="1.97" ry="2.38" fill="#9262bc" fill-opacity="0.82" transform="rotate(18 81.8 218.6)"/>
<ellipse cx="70.6" cy="195.2" rx="2.13" ry="2.35" fill="#7a44a8" fill-opacity="0.82" transform="rotate(138 70.6 195.2)"/>
<ellipse cx="54.1" cy="217.1" rx="2.78" ry="2.32" fill="#8a58b4" fill-opacity="0.82" transform="rotate(145 54.1 217.1)"/>
<ellipse cx="80.8" cy="216.9" rx="1.15" ry="1.16" fill="#7a44a8" fill-opacity="0.82" transform="rotate(154 80.8 216.9)"/>
<ellipse cx="71.8" cy="189.2" rx="2.97" ry="2.37" fill="#8a58b4" fill-opacity="0.82" transform="rotate(65 71.8 189.2)"/>
<ellipse cx="72.2" cy="209.4" rx="2.99" ry="1.96" fill="#9262bc" fill-opacity="0.82" transform="rotate(178 72.2 209.4)"/>
<ellipse cx="57.9" cy="215.5" rx="1.24" ry="1.04" fill="#8450b0" fill-opacity="0.82" transform="rotate(85 57.9 215.5)"/>
<ellipse cx="63.1" cy="196.3" rx="1.45" ry="1.33" fill="#a07cc6" fill-opacity="0.82" transform="rotate(3 63.1 196.3)"/>
<ellipse cx="44.2" cy="211.3" rx="1.26" ry="1.23" fill="#8a58b4" fill-opacity="0.82" transform="rotate(42 44.2 211.3)"/>
<ellipse cx="61.0" cy="191.5" rx="1.12" ry="1.06" fill="#9262bc" fill-opacity="0.82" transform="rotate(164 61.0 191.5)"/>
<ellipse cx="81.4" cy="201.9" rx="2.59" ry="2.71" fill="#a07cc6" fill-opacity="0.82" transform="rotate(160 81.4 201.9)"/>
<ellipse cx="76.1" cy="202.0" rx="2.27" ry="1.67" fill="#9262bc" fill-opacity="0.82" transform="rotate(72 76.1 202.0)"/>
<ellipse cx="66.3" cy="217.2" rx="2.80" ry="2.39" fill="#7a44a8" fill-opacity="0.82" transform="rotate(142 66.3 217.2)"/>
<ellipse cx="85.3" cy="216.8" rx="2.88" ry="2.68" fill="#a07cc6" fill-opacity="0.82" transform="rotate(143 85.3 216.8)"/>
<ellipse cx="60.5" cy="191.5" rx="1.01" ry="0.99" fill="#7a44a8" fill-opacity="0.82" transform="rotate(163 60.5 191.5)"/>
<ellipse cx="67.7" cy="201.2" rx="2.32" ry="2.00" fill="#8450b0" fill-opacity="0.82" transform="rotate(27 67.7 201.2)"/>
<ellipse cx="64.7" cy="208.1" rx="2.71" ry="2.46" fill="#8450b0" fill-opacity="0.82" transform="rotate(63 64.7 208.1)"/>
<ellipse cx="52.1" cy="197.9" rx="2.66" ry="1.72" fill="#8a58b4" fill-opacity="0.82" transform="rotate(98 52.1 197.9)"/>
<ellipse cx="61.4" cy="208.8" rx="1.08" ry="1.25" fill="#a07cc6" fill-opacity="0.82" transform="rotate(38 61.4 208.8)"/>
<ellipse cx="48.5" cy="204.4" rx="1.40" ry="0.99" fill="#7a44a8" fill-opacity="0.82" transform="rotate(73 48.5 204.4)"/>
<ellipse cx="43.1" cy="200.9" rx="1.64" ry="1.45" fill="#9262bc" fill-opacity="0.82" transform="rotate(19 43.1 200.9)"/>
<ellipse cx="52.3" cy="218.5" rx="2.97" ry="2.51" fill="#8450b0" fill-opacity="0.82" transform="rotate(155 52.3 218.5)"/>
<ellipse cx="60.8" cy="193.5" rx="1.17" ry="1.49" fill="#9262bc" fill-opacity="0.82" transform="rotate(162 60.8 193.5)"/>
<ellipse cx="75.1" cy="223.8" rx="2.82" ry="2.82" fill="#a07cc6" fill-opacity="0.82" transform="rotate(100 75.1 223.8)"/>
<ellipse cx="73.1" cy="214.1" rx="1.28" ry="1.28" fill="#7a44a8" fill-opacity="0.82" transform="rotate(101 73.1 214.1)"/>
<ellipse cx="62.4" cy="195.8" rx="1.88" ry="1.71" fill="#8450b0" fill-opacity="0.82" transform="rotate(24 62.4 195.8)"/>
<ellipse cx="58.0" cy="201.8" rx="0.99" ry="1.13" fill="#8450b0" fill-opacity="0.82" transform="rotate(18 58.0 201.8)"/>
<ellipse cx="87.0" cy="213.5" rx="1.89" ry="1.39" fill="#a07cc6" fill-opacity="0.82" transform="rotate(167 87.0 213.5)"/>
<ellipse cx="71.3" cy="216.9" rx="1.30" ry="1.07" fill="#a07cc6" fill-opacity="0.82" transform="rotate(112 71.3 216.9)"/>
<ellipse cx="62.0" cy="191.1" rx="1.68" ry="1.16" fill="#8a58b4" fill-opacity="0.82" transform="rotate(95 62.0 191.1)"/>
<ellipse cx="63.9" cy="218.9" rx="1.42" ry="1.36" fill="#9262bc" fill-opacity="0.82" transform="rotate(92 63.9 218.9)"/>
<ellipse cx="69.6" cy="188.6" rx="1.65" ry="2.03" fill="#7a44a8" fill-opacity="0.82" transform="rotate(99 69.6 188.6)"/>
<ellipse cx="54.8" cy="221.9" rx="1.30" ry="1.34" fill="#8a58b4" fill-opacity="0.82" transform="rotate(180 54.8 221.9)"/>
<ellipse cx="58.6" cy="187.5" rx="1.47" ry="1.86" fill="#8450b0" fill-opacity="0.82" transform="rotate(25 58.6 187.5)"/>
<ellipse cx="49.9" cy="211.0" rx="1.21" ry="1.63" fill="#7a44a8" fill-opacity="0.82" transform="rotate(83 49.9 211.0)"/>
<ellipse cx="80.7" cy="224.8" rx="1.40" ry="1.09" fill="#8a58b4" fill-opacity="0.82" transform="rotate(11 80.7 224.8)"/>
<ellipse cx="72.7" cy="204.1" rx="2.61" ry="1.82" fill="#9262bc" fill-opacity="0.82" transform="rotate(22 72.7 204.1)"/>
<ellipse cx="70.2" cy="197.9" rx="2.15" ry="2.30" fill="#9262bc" fill-opacity="0.82" transform="rotate(33 70.2 197.9)"/>
<ellipse cx="58.5" cy="207.0" rx="0.85" ry="1.14" fill="#9262bc" fill-opacity="0.82" transform="rotate(55 58.5 207.0)"/>
<ellipse cx="55.2" cy="191.5" rx="1.66" ry="1.66" fill="#8450b0" fill-opacity="0.82" transform="rotate(29 55.2 191.5)"/>
<ellipse cx="61.0" cy="211.1" rx="1.50" ry="1.58" fill="#7a44a8" fill-opacity="0.82" transform="rotate(94 61.0 211.1)"/>
<ellipse cx="63.1" cy="226.2" rx="1.60" ry="1.03" fill="#9262bc" fill-opacity="0.82" transform="rotate(73 63.1 226.2)"/>
<ellipse cx="57.2" cy="209.0" rx="1.81" ry="1.68" fill="#8a58b4" fill-opacity="0.82" transform="rotate(136 57.2 209.0)"/>
<ellipse cx="64.8" cy="192.9" rx="3.04" ry="2.81" fill="#a07cc6" fill-opacity="0.82" transform="rotate(149 64.8 192.9)"/>
<ellipse cx="70.4" cy="214.1" rx="2.32" ry="2.31" fill="#a07cc6" fill-opacity="0.82" transform="rotate(163 70.4 214.1)"/>
<ellipse cx="62.3" cy="213.8" rx="2.58" ry="2.20" fill="#8a58b4" fill-opacity="0.82" transform="rotate(58 62.3 213.8)"/>
<ellipse cx="69.9" cy="188.0" rx="2.12" ry="2.58" fill="#9262bc" fill-opacity="0.82" transform="rotate(90 69.9 188.0)"/>
<ellipse cx="60.4" cy="212.1" rx="2.14" ry="1.65" fill="#7a44a8" fill-opacity="0.82" transform="rotate(118 60.4 212.1)"/>
<ellipse cx="84.7" cy="201.0" rx="2.91" ry="2.84" fill="#7a44a8" fill-opacity="0.82" transform="rotate(156 84.7 201.0)"/>
<ellipse cx="46.4" cy="218.7" rx="1.47" ry="1.23" fill="#8450b0" fill-opacity="0.82" transform="rotate(18 46.4 218.7)"/>
<ellipse cx="66.7" cy="201.1" rx="2.25" ry="1.23" fill="#9262bc" fill-opacity="0.82" transform="rotate(131 66.7 201.1)"/>
<ellipse cx="74.0" cy="210.3" rx="1.65" ry="1.55" fill="#9262bc" fill-opacity="0.82" transform="rotate(64 74.0 210.3)"/>
<ellipse cx="60.4" cy="206.4" rx="1.19" ry="0.81" fill="#a07cc6" fill-opacity="0.82" transform="rotate(26 60.4 206.4)"/>
<ellipse cx="68.0" cy="188.9" rx="2.08" ry="2.60" fill="#8450b0" fill-opacity="0.82" transform="rotate(35 68.0 188.9)"/>
<ellipse cx="71.8" cy="197.2" rx="1.47" ry="1.89" fill="#8a58b4" fill-opacity="0.82" transform="rotate(36 71.8 197.2)"/>
<ellipse cx="57.8" cy="201.5" rx="1.90" ry="1.74" fill="#7a44a8" fill-opacity="0.82" transform="rotate(173 57.8 201.5)"/>
<ellipse cx="62.4" cy="223.6" rx="2.23" ry="2.72" fill="#a07cc6" fill-opacity="0.82" transform="rotate(75 62.4 223.6)"/>
<ellipse cx="75.0" cy="227.6" rx="1.25" ry="0.91" fill="#9262bc" fill-opacity="0.82" transform="rotate(90 75.0 227.6)"/>
<ellipse cx="61.2" cy="220.4" rx="2.32" ry="1.66" fill="#8a58b4" fill-opacity="0.82" transform="rotate(41 61.2 220.4)"/>
<ellipse cx="57.6" cy="229.9" rx="1.85" ry="2.01" fill="#8450b0" fill-opacity="0.82" transform="rotate(83 57.6 229.9)"/>
<ellipse cx="84.1" cy="219.1" rx="1.28" ry="0.72" fill="#8a58b4" fill-opacity="0.82" transform="rotate(51 84.1 219.1)"/>
<ellipse cx="64.5" cy="229.5" rx="0.98" ry="1.12" fill="#9262bc" fill-opacity="0.82" transform="rotate(32 64.5 229.5)"/>
<ellipse cx="64.2" cy="205.0" rx="1.89" ry="2.49" fill="#8a58b4" fill-opacity="0.82" transform="rotate(83 64.2 205.0)"/>
<ellipse cx="64.7" cy="194.6" rx="2.51" ry="1.89" fill="#8a58b4" fill-opacity="0.82" transform="rotate(140 64.7 194.6)"/>
<ellipse cx="75.6" cy="201.9" rx="1.37" ry="1.42" fill="#8a58b4" fill-opacity="0.82" transform="rotate(134 75.6 201.9)"/>
<ellipse cx="47.2" cy="205.4" rx="1.83" ry="1.96" fill="#a07cc6" fill-opacity="0.82" transform="rotate(99 47.2 205.4)"/>
<ellipse cx="63.8" cy="228.3" rx="1.91" ry="2.00" fill="#8a58b4" fill-opacity="0.82" transform="rotate(109 63.8 228.3)"/>
<ellipse cx="63.9" cy="219.2" rx="2.03" ry="2.27" fill="#9262bc" fill-opacity="0.82" transform="rotate(59 63.9 219.2)"/>
<ellipse cx="50.7" cy="197.6" rx="2.30" ry="2.32" fill="#8450b0" fill-opacity="0.82" transform="rotate(13 50.7 197.6)"/>
<ellipse cx="79.1" cy="199.4" rx="2.12" ry="1.45" fill="#9262bc" fill-opacity="0.82" transform="rotate(10 79.1 199.4)"/>
<ellipse cx="47.5" cy="217.6" rx="2.59" ry="2.41" fill="#8a58b4" fill-opacity="0.82" transform="rotate(90 47.5 217.6)"/>
<ellipse cx="54.9" cy="195.6" rx="1.39" ry="1.43" fill="#8a58b4" fill-opacity="0.82" transform="rotate(142 54.9 195.6)"/>
<ellipse cx="78.3" cy="214.4" rx="1.35" ry="1.76" fill="#8450b0" fill-opacity="0.82" transform="rotate(23 78.3 214.4)"/>
<ellipse cx="65.2" cy="191.1" rx="1.31" ry="1.07" fill="#8450b0" fill-opacity="0.82" transform="rotate(1 65.2 191.1)"/>
<ellipse cx="50.5" cy="217.8" rx="1.13" ry="0.98" fill="#8450b0" fill-opacity="0.82" transform="rotate(175 50.5 217.8)"/>
<ellipse cx="56.3" cy="191.3" rx="2.72" ry="2.09" fill="#8450b0" fill-opacity="0.82" transform="rotate(99 56.3 191.3)"/>
<ellipse cx="65.4" cy="224.5" rx="2.35" ry="2.08" fill="#8a58b4" fill-opacity="0.82" transform="rotate(39 65.4 224.5)"/>
<ellipse cx="74.0" cy="223.8" rx="2.91" ry="2.45" fill="#8a58b4" fill-opacity="0.82" transform="rotate(166 74.0 223.8)"/>
<ellipse cx="74.0" cy="228.0" rx="2.17" ry="2.13" fill="#8450b0" fill-opacity="0.82" transform="rotate(39 74.0 228.0)"/>
<ellipse cx="58.9" cy="217.0" rx="1.57" ry="1.43" fill="#9262bc" fill-opacity="0.82" transform="rotate(107 58.9 217.0)"/>
<ellipse cx="65.6" cy="193.1" rx="1.88" ry="1.33" fill="#a07cc6" fill-opacity="0.82" transform="rotate(37 65.6 193.1)"/>
<ellipse cx="60.0" cy="213.1" rx="1.97" ry="1.68" fill="#8450b0" fill-opacity="0.82" transform="rotate(93 60.0 213.1)"/>
<ellipse cx="63.7" cy="192.5" rx="2.03" ry="1.46" fill="#8450b0" fill-opacity="0.82" transform="rotate(65 63.7 192.5)"/>
<ellipse cx="77.3" cy="227.2" rx="1.75" ry="1.57" fill="#8450b0" fill-opacity="0.82" transform="rotate(4 77.3 227.2)"/>
<ellipse cx="58.4" cy="221.7" rx="1.28" ry="0.89" fill="#8a58b4" fill-opacity="0.82" transform="rotate(120 58.4 221.7)"/>
<ellipse cx="58.8" cy="225.9" rx="1.50" ry="1.61" fill="#9262bc" fill-opacity="0.82" transform="rotate(6 58.8 225.9)"/>
<ellipse cx="58.9" cy="222.7" rx="1.54" ry="1.86" fill="#7a44a8" fill-opacity="0.82" transform="rotate(56 58.9 222.7)"/>
<ellipse cx="51.1" cy="213.1" rx="2.81" ry="2.23" fill="#a07cc6" fill-opacity="0.82" transform="rotate(73 51.1 213.1)"/>
<ellipse cx="48.4" cy="222.9" rx="1.19" ry="1.10" fill="#9262bc" fill-opacity="0.82" transform="rotate(25 48.4 222.9)"/>
<ellipse cx="76.1" cy="192.7" rx="1.35" ry="1.81" fill="#7a44a8" fill-opacity="0.82" transform="rotate(119 76.1 192.7)"/>
<ellipse cx="84.0" cy="217.6" rx="1.75" ry="1.36" fill="#7a44a8" fill-opacity="0.82" transform="rotate(42 84.0 217.6)"/>
<ellipse cx="60.0" cy="203.8" rx="1.58" ry="1.16" fill="#a07cc6" fill-opacity="0.82" transform="rotate(168 60.0 203.8)"/>
<ellipse cx="60.4" cy="227.7" rx="1.58" ry="1.00" fill="#9262bc" fill-opacity="0.82" transform="rotate(63 60.4 227.7)"/>
<ellipse cx="60.7" cy="192.8" rx="2.62" ry="2.30" fill="#a07cc6" fill-opacity="0.82" transform="rotate(105 60.7 192.8)"/>
<ellipse cx="59.5" cy="192.6" rx="1.64" ry="1.81" fill="#7a44a8" fill-opacity="0.82" transform="rotate(164 59.5 192.6)"/>
<ellipse cx="74.8" cy="202.6" rx="1.84" ry="1.28" fill="#7a44a8" fill-opacity="0.82" transform="rotate(159 74.8 202.6)"/>
<ellipse cx="68.5" cy="210.8" rx="1.40" ry="1.20" fill="#9262bc" fill-opacity="0.82" transform="rotate(116 68.5 210.8)"/>
<ellipse cx="54.6" cy="217.8" rx="1.91" ry="2.46" fill="#9262bc" fill-opacity="0.82" transform="rotate(139 54.6 217.8)"/>
<ellipse cx="52.0" cy="195.9" rx="1.57" ry="1.31" fill="#a07cc6" fill-opacity="0.82" transform="rotate(158 52.0 195.9)"/>
<ellipse cx="48.4" cy="223.7" rx="0.83" ry="0.92" fill="#7a44a8" fill-opacity="0.82" transform="rotate(89 48.4 223.7)"/>
<ellipse cx="61.3" cy="209.5" rx="1.75" ry="1.55" fill="#9262bc" fill-opacity="0.82" transform="rotate(42 61.3 209.5)"/>
<ellipse cx="81.6" cy="209.0" rx="1.41" ry="1.45" fill="#8a58b4" fill-opacity="0.82" transform="rotate(14 81.6 209.0)"/>
<ellipse cx="74.2" cy="189.5" rx="2.40" ry="1.67" fill="#8450b0" fill-opacity="0.82" transform="rotate(160 74.2 189.5)"/>
<ellipse cx="57.1" cy="226.8" rx="2.30" ry="2.38" fill="#9262bc" fill-opacity="0.82" transform="rotate(29 57.1 226.8)"/>
<ellipse cx="53.0" cy="197.8" rx="1.77" ry="1.52" fill="#8a58b4" fill-opacity="0.82" transform="rotate(90 53.0 197.8)"/>
<ellipse cx="56.2" cy="197.9" rx="2.56" ry="2.17" fill="#8450b0" fill-opacity="0.82" transform="rotate(178 56.2 197.9)"/>
<ellipse cx="73.5" cy="189.2" rx="1.71" ry="1.34" fill="#a07cc6" fill-opacity="0.82" transform="rotate(7 73.5 189.2)"/>
<ellipse cx="53.9" cy="198.7" rx="1.62" ry="1.50" fill="#a07cc6" fill-opacity="0.82" transform="rotate(46 53.9 198.7)"/>
<ellipse cx="55.4" cy="198.5" rx="1.78" ry="2.25" fill="#9262bc" fill-opacity="0.82" transform="rotate(152 55.4 198.5)"/>
<ellipse cx="72.8" cy="193.6" rx="1.81" ry="1.59" fill="#7a44a8" fill-opacity="0.82" transform="rotate(144 72.8 193.6)"/>
<ellipse cx="74.6" cy="218.9" rx="1.80" ry="1.56" fill="#8450b0" fill-opacity="0.82" transform="rotate(85 74.6 218.9)"/>
<ellipse cx="57.5" cy="189.7" rx="2.23" ry="1.99" fill="#7a44a8" fill-opacity="0.82" transform="rotate(114 57.5 189.7)"/>
<ellipse cx="46.9" cy="222.3" rx="2.05" ry="2.62" fill="#8450b0" fill-opacity="0.82" transform="rotate(157 46.9 222.3)"/>
<ellipse cx="69.3" cy="221.8" rx="2.12" ry="1.59" fill="#8450b0" fill-opacity="0.82" transform="rotate(150 69.3 221.8)"/>
<ellipse cx="70.5" cy="201.4" rx="1.03" ry="1.14" fill="#7a44a8" fill-opacity="0.82" transform="rotate(40 70.5 201.4)"/>
<ellipse cx="62.0" cy="194.4" rx="1.23" ry="1.17" fill="#9262bc" fill-opacity="0.82" transform="rotate(98 62.0 194.4)"/>
<ellipse cx="67.3" cy="200.5" rx="1.01" ry="1.38" fill="#7a44a8" fill-opacity="0.82" transform="rotate(158 67.3 200.5)"/>
<ellipse cx="56.4" cy="212.6" rx="2.16" ry="2.28" fill="#7a44a8" fill-opacity="0.82" transform="rotate(113 56.4 212.6)"/>
<ellipse cx="63.0" cy="219.7" rx="1.64" ry="1.39" fill="#8450b0" fill-opacity="0.82" transform="rotate(27 63.0 219.7)"/>
<ellipse cx="84.6" cy="209.8" rx="1.58" ry="1.71" fill="#9262bc" fill-opacity="0.82" transform="rotate(179 84.6 209.8)"/>
<ellipse cx="70.9" cy="229.4" rx="1.69" ry="1.85" fill="#a07cc6" fill-opacity="0.82" transform="rotate(100 70.9 229.4)"/>
<ellipse cx="68.5" cy="226.5" rx="2.06" ry="1.77" fill="#7a44a8" fill-opacity="0.82" transform="rotate(156 68.5 226.5)"/>
<ellipse cx="79.9" cy="208.4" rx="2.60" ry="1.76" fill="#8450b0" fill-opacity="0.82" transform="rotate(170 79.9 208.4)"/>
<ellipse cx="46.3" cy="204.3" rx="1.08" ry="1.30" fill="#8450b0" fill-opacity="0.82" transform="rotate(93 46.3 204.3)"/>
<ellipse cx="75.1" cy="209.6" rx="1.96" ry="2.35" fill="#9262bc" fill-opacity="0.82" transform="rotate(143 75.1 209.6)"/>
<ellipse cx="63.3" cy="194.4" rx="2.65" ry="2.37" fill="#8450b0" fill-opacity="0.82" transform="rotate(169 63.3 194.4)"/>
</g>
<circle cx="64.6" cy="208.9" r="22.70" fill="none" stroke="#c4c4c4" stroke-width="0.7"/>
<circle cx="114.70" cy="208.90" r="23.20" fill="#d4d4d4"/>
<circle cx="114.70" cy="208.90" r="22.40" fill="#dddbdd"/>
<g clip-path="url(#cp2)" filter="url(#pb)">
<ellipse cx="93.6" cy="211.3" rx="1.31" ry="1.06" fill="#8450b0" fill-opacity="0.85" transform="rotate(104 93.6 211.3)"/>
<ellipse cx="116.8" cy="223.2" rx="1.14" ry="1.11" fill="#7a44a8" fill-opacity="0.85" transform="rotate(113 116.8 223.2)"/>
<ellipse cx="102.4" cy="212.9" rx="0.76" ry="0.67" fill="#7a44a8" fill-opacity="0.85" transform="rotate(60 102.4 212.9)"/>
<ellipse cx="114.1" cy="198.2" rx="1.52" ry="1.47" fill="#9262bc" fill-opacity="0.85" transform="rotate(63 114.1 198.2)"/>
<ellipse cx="122.6" cy="220.6" rx="0.65" ry="0.72" fill="#8450b0" fill-opacity="0.85" transform="rotate(73 122.6 220.6)"/>
<ellipse cx="107.3" cy="224.2" rx="1.49" ry="1.88" fill="#7a44a8" fill-opacity="0.85" transform="rotate(12 107.3 224.2)"/>
<ellipse cx="99.7" cy="199.5" rx="0.99" ry="1.12" fill="#a07cc6" fill-opacity="0.85" transform="rotate(73 99.7 199.5)"/>
<ellipse cx="112.0" cy="199.5" rx="1.03" ry="1.06" fill="#7a44a8" fill-opacity="0.85" transform="rotate(159 112.0 199.5)"/>
<ellipse cx="117.6" cy="192.3" rx="0.71" ry="0.63" fill="#8450b0" fill-opacity="0.85" transform="rotate(38 117.6 192.3)"/>
<ellipse cx="98.4" cy="194.3" rx="1.72" ry="1.47" fill="#8a58b4" fill-opacity="0.85" transform="rotate(166 98.4 194.3)"/>
<ellipse cx="129.1" cy="222.7" rx="1.44" ry="1.32" fill="#a07cc6" fill-opacity="0.85" transform="rotate(90 129.1 222.7)"/>
<ellipse cx="102.6" cy="220.9" rx="0.81" ry="0.62" fill="#a07cc6" fill-opacity="0.85" transform="rotate(80 102.6 220.9)"/>
<ellipse cx="99.8" cy="199.0" rx="1.42" ry="1.52" fill="#7a44a8" fill-opacity="0.85" transform="rotate(133 99.8 199.0)"/>
<ellipse cx="107.0" cy="227.3" rx="1.69" ry="1.91" fill="#9262bc" fill-opacity="0.85" transform="rotate(136 107.0 227.3)"/>
<ellipse cx="120.9" cy="204.3" rx="1.02" ry="0.88" fill="#9262bc" fill-opacity="0.85" transform="rotate(149 120.9 204.3)"/>
<ellipse cx="119.6" cy="193.0" rx="1.41" ry="1.92" fill="#7a44a8" fill-opacity="0.85" transform="rotate(45 119.6 193.0)"/>
<ellipse cx="120.2" cy="194.3" rx="1.47" ry="0.95" fill="#7a44a8" fill-opacity="0.85" transform="rotate(173 120.2 194.3)"/>
<ellipse cx="115.2" cy="216.5" rx="1.28" ry="1.23" fill="#8450b0" fill-opacity="0.85" transform="rotate(144 115.2 216.5)"/>
<ellipse cx="127.2" cy="192.8" rx="1.51" ry="1.32" fill="#9262bc" fill-opacity="0.85" transform="rotate(146 127.2 192.8)"/>
<ellipse cx="120.5" cy="221.0" rx="2.07" ry="1.31" fill="#7a44a8" fill-opacity="0.85" transform="rotate(21 120.5 221.0)"/>
<ellipse cx="120.7" cy="222.1" rx="1.70" ry="1.77" fill="#8450b0" fill-opacity="0.85" transform="rotate(16 120.7 222.1)"/>
<ellipse cx="104.7" cy="195.3" rx="1.21" ry="1.12" fill="#8a58b4" fill-opacity="0.85" transform="rotate(120 104.7 195.3)"/>
<ellipse cx="112.1" cy="210.1" rx="0.93" ry="0.99" fill="#7a44a8" fill-opacity="0.85" transform="rotate(118 112.1 210.1)"/>
<ellipse cx="117.4" cy="219.2" rx="1.28" ry="1.43" fill="#8450b0" fill-opacity="0.85" transform="rotate(23 117.4 219.2)"/>
<ellipse cx="131.5" cy="223.9" rx="1.24" ry="1.01" fill="#8450b0" fill-opacity="0.85" transform="rotate(124 131.5 223.9)"/>
<ellipse cx="113.5" cy="195.0" rx="0.95" ry="0.73" fill="#7a44a8" fill-opacity="0.85" transform="rotate(76 113.5 195.0)"/>
<ellipse cx="121.0" cy="195.5" rx="1.16" ry="1.29" fill="#7a44a8" fill-opacity="0.85" transform="rotate(92 121.0 195.5)"/>
<ellipse cx="100.5" cy="216.9" rx="0.63" ry="0.83" fill="#8450b0" fill-opacity="0.85" transform="rotate(122 100.5 216.9)"/>
<ellipse cx="93.2" cy="215.2" rx="1.20" ry="1.03" fill="#a07cc6" fill-opacity="0.85" transform="rotate(115 93.2 215.2)"/>
<ellipse cx="105.7" cy="218.8" rx="1.40" ry="1.04" fill="#8450b0" fill-opacity="0.85" transform="rotate(121 105.7 218.8)"/>
<ellipse cx="115.2" cy="223.8" rx="0.93" ry="0.62" fill="#a07cc6" fill-opacity="0.85" transform="rotate(50 115.2 223.8)"/>
<ellipse cx="132.1" cy="221.9" rx="1.23" ry="1.49" fill="#a07cc6" fill-opacity="0.85" transform="rotate(161 132.1 221.9)"/>
<ellipse cx="126.6" cy="216.3" rx="1.18" ry="1.05" fill="#7a44a8" fill-opacity="0.85" transform="rotate(178 126.6 216.3)"/>
<ellipse cx="123.4" cy="189.0" rx="1.17" ry="0.98" fill="#9262bc" fill-opacity="0.85" transform="rotate(84 123.4 189.0)"/>
<ellipse cx="107.0" cy="226.3" rx="1.63" ry="1.50" fill="#a07cc6" fill-opacity="0.85" transform="rotate(78 107.0 226.3)"/>
<ellipse cx="116.8" cy="225.8" rx="0.60" ry="0.87" fill="#a07cc6" fill-opacity="0.85" transform="rotate(142 116.8 225.8)"/>
<ellipse cx="129.9" cy="202.0" rx="1.30" ry="1.39" fill="#8a58b4" fill-opacity="0.85" transform="rotate(71 129.9 202.0)"/>
<ellipse cx="114.4" cy="202.2" rx="0.88" ry="0.79" fill="#7a44a8" fill-opacity="0.85" transform="rotate(119 114.4 202.2)"/>
<ellipse cx="130.4" cy="205.9" rx="1.60" ry="1.22" fill="#7a44a8" fill-opacity="0.85" transform="rotate(155 130.4 205.9)"/>
<ellipse cx="135.3" cy="201.4" rx="0.61" ry="0.61" fill="#8a58b4" fill-opacity="0.85" transform="rotate(175 135.3 201.4)"/>
<ellipse cx="115.9" cy="201.9" rx="1.84" ry="1.25" fill="#9262bc" fill-opacity="0.85" transform="rotate(23 115.9 201.9)"/>
<ellipse cx="128.8" cy="217.7" rx="1.10" ry="0.76" fill="#a07cc6" fill-opacity="0.85" transform="rotate(84 128.8 217.7)"/>
<ellipse cx="132.5" cy="207.8" rx="0.67" ry="0.61" fill="#8450b0" fill-opacity="0.85" transform="rotate(146 132.5 207.8)"/>
<ellipse cx="105.9" cy="208.7" rx="1.08" ry="1.23" fill="#8450b0" fill-opacity="0.85" transform="rotate(74 105.9 208.7)"/>
<ellipse cx="123.8" cy="209.5" rx="1.75" ry="1.58" fill="#9262bc" fill-opacity="0.85" transform="rotate(53 123.8 209.5)"/>
<ellipse cx="103.9" cy="198.9" rx="1.44" ry="1.11" fill="#8450b0" fill-opacity="0.85" transform="rotate(70 103.9 198.9)"/>
<ellipse cx="111.4" cy="219.1" rx="1.34" ry="1.08" fill="#a07cc6" fill-opacity="0.85" transform="rotate(37 111.4 219.1)"/>
<ellipse cx="132.0" cy="208.2" rx="0.97" ry="0.87" fill="#8450b0" fill-opacity="0.85" transform="rotate(71 132.0 208.2)"/>
<ellipse cx="108.6" cy="227.9" rx="0.87" ry="0.81" fill="#a07cc6" fill-opacity="0.85" transform="rotate(69 108.6 227.9)"/>
<ellipse cx="106.7" cy="198.1" rx="0.70" ry="0.70" fill="#9262bc" fill-opacity="0.85" transform="rotate(95 106.7 198.1)"/>
<ellipse cx="100.7" cy="204.6" rx="0.72" ry="0.75" fill="#7a44a8" fill-opacity="0.85" transform="rotate(65 100.7 204.6)"/>
<ellipse cx="130.6" cy="203.8" rx="1.38" ry="1.05" fill="#8a58b4" fill-opacity="0.85" transform="rotate(174 130.6 203.8)"/>
<ellipse cx="132.6" cy="209.7" rx="1.63" ry="1.66" fill="#7a44a8" fill-opacity="0.85" transform="rotate(151 132.6 209.7)"/>
<ellipse cx="119.8" cy="228.5" rx="0.59" ry="0.50" fill="#7a44a8" fill-opacity="0.85" transform="rotate(10 119.8 228.5)"/>
<ellipse cx="124.4" cy="215.3" rx="1.07" ry="0.82" fill="#7a44a8" fill-opacity="0.85" transform="rotate(72 124.4 215.3)"/>
<ellipse cx="110.4" cy="227.5" rx="0.90" ry="0.77" fill="#7a44a8" fill-opacity="0.85" transform="rotate(6 110.4 227.5)"/>
<ellipse cx="120.1" cy="216.3" rx="0.86" ry="1.10" fill="#a07cc6" fill-opacity="0.85" transform="rotate(9 120.1 216.3)"/>
<ellipse cx="102.5" cy="196.7" rx="1.81" ry="1.15" fill="#9262bc" fill-opacity="0.85" transform="rotate(104 102.5 196.7)"/>
<ellipse cx="134.6" cy="209.6" rx="1.21" ry="1.26" fill="#8450b0" fill-opacity="0.85" transform="rotate(31 134.6 209.6)"/>
<ellipse cx="131.3" cy="218.5" rx="0.89" ry="0.78" fill="#8450b0" fill-opacity="0.85" transform="rotate(80 131.3 218.5)"/>
<ellipse cx="130.5" cy="197.0" rx="1.94" ry="1.33" fill="#8a58b4" fill-opacity="0.85" transform="rotate(128 130.5 197.0)"/>
<ellipse cx="110.4" cy="194.9" rx="1.53" ry="1.03" fill="#9262bc" fill-opacity="0.85" transform="rotate(17 110.4 194.9)"/>
<ellipse cx="110.8" cy="216.7" rx="1.44" ry="1.37" fill="#a07cc6" fill-opacity="0.85" transform="rotate(6 110.8 216.7)"/>
<ellipse cx="101.7" cy="214.8" rx="1.70" ry="1.27" fill="#a07cc6" fill-opacity="0.85" transform="rotate(92 101.7 214.8)"/>
<ellipse cx="97.6" cy="210.9" rx="1.83" ry="1.33" fill="#8450b0" fill-opacity="0.85" transform="rotate(62 97.6 210.9)"/>
<ellipse cx="121.8" cy="220.7" rx="1.33" ry="1.12" fill="#8a58b4" fill-opacity="0.85" transform="rotate(106 121.8 220.7)"/>
<ellipse cx="94.9" cy="213.7" rx="0.88" ry="0.68" fill="#8450b0" fill-opacity="0.85" transform="rotate(126 94.9 213.7)"/>
<ellipse cx="115.9" cy="220.7" rx="1.53" ry="1.16" fill="#8450b0" fill-opacity="0.85" transform="rotate(144 115.9 220.7)"/>
<ellipse cx="114.4" cy="220.3" rx="1.05" ry="0.61" fill="#9262bc" fill-opacity="0.85" transform="rotate(176 114.4 220.3)"/>
<ellipse cx="127.9" cy="200.5" rx="1.04" ry="1.22" fill="#8450b0" fill-opacity="0.85" transform="rotate(122 127.9 200.5)"/>
<ellipse cx="105.7" cy="208.9" rx="1.65" ry="1.32" fill="#a07cc6" fill-opacity="0.85" transform="rotate(60 105.7 208.9)"/>
<ellipse cx="127.8" cy="227.3" rx="1.73" ry="1.08" fill="#9262bc" fill-opacity="0.85" transform="rotate(39 127.8 227.3)"/>
<ellipse cx="120.0" cy="225.0" rx="1.09" ry="1.38" fill="#8a58b4" fill-opacity="0.85" transform="rotate(30 120.0 225.0)"/>
<ellipse cx="128.8" cy="208.6" rx="0.82" ry="1.05" fill="#7a44a8" fill-opacity="0.85" transform="rotate(109 128.8 208.6)"/>
<ellipse cx="125.9" cy="188.8" rx="0.71" ry="0.57" fill="#7a44a8" fill-opacity="0.85" transform="rotate(120 125.9 188.8)"/>
<ellipse cx="110.8" cy="225.8" rx="0.74" ry="0.64" fill="#7a44a8" fill-opacity="0.85" transform="rotate(170 110.8 225.8)"/>
<ellipse cx="123.1" cy="220.7" rx="1.61" ry="1.15" fill="#8450b0" fill-opacity="0.85" transform="rotate(98 123.1 220.7)"/>
<ellipse cx="113.0" cy="192.0" rx="1.67" ry="1.44" fill="#7a44a8" fill-opacity="0.85" transform="rotate(55 113.0 192.0)"/>
<ellipse cx="96.3" cy="218.0" rx="1.41" ry="1.24" fill="#7a44a8" fill-opacity="0.85" transform="rotate(62 96.3 218.0)"/>
<ellipse cx="118.6" cy="227.0" rx="1.04" ry="1.03" fill="#8450b0" fill-opacity="0.85" transform="rotate(171 118.6 227.0)"/>
<ellipse cx="132.0" cy="223.3" rx="1.11" ry="1.52" fill="#8450b0" fill-opacity="0.85" transform="rotate(168 132.0 223.3)"/>
<ellipse cx="124.6" cy="206.4" rx="0.98" ry="0.77" fill="#8450b0" fill-opacity="0.85" transform="rotate(25 124.6 206.4)"/>
<ellipse cx="107.2" cy="213.4" rx="2.05" ry="1.89" fill="#8a58b4" fill-opacity="0.85" transform="rotate(98 107.2 213.4)"/>
<ellipse cx="97.1" cy="216.3" rx="0.80" ry="0.70" fill="#9262bc" fill-opacity="0.85" transform="rotate(158 97.1 216.3)"/>
<ellipse cx="121.7" cy="214.1" rx="0.93" ry="0.58" fill="#8a58b4" fill-opacity="0.85" transform="rotate(16 121.7 214.1)"/>
<ellipse cx="124.2" cy="202.0" rx="0.79" ry="0.65" fill="#8a58b4" fill-opacity="0.85" transform="rotate(171 124.2 202.0)"/>
<ellipse cx="133.9" cy="199.2" rx="1.32" ry="1.54" fill="#8a58b4" fill-opacity="0.85" transform="rotate(179 133.9 199.2)"/>
<ellipse cx="94.9" cy="199.4" rx="0.84" ry="1.03" fill="#9262bc" fill-opacity="0.85" transform="rotate(173 94.9 199.4)"/>
<ellipse cx="122.3" cy="210.4" rx="1.99" ry="1.11" fill="#8450b0" fill-opacity="0.85" transform="rotate(27 122.3 210.4)"/>
<ellipse cx="121.7" cy="225.5" rx="1.81" ry="1.59" fill="#8450b0" fill-opacity="0.85" transform="rotate(0 121.7 225.5)"/>
<ellipse cx="133.5" cy="217.5" rx="2.04" ry="1.51" fill="#7a44a8" fill-opacity="0.85" transform="rotate(39 133.5 217.5)"/>
<ellipse cx="97.6" cy="222.7" rx="0.71" ry="0.77" fill="#7a44a8" fill-opacity="0.85" transform="rotate(94 97.6 222.7)"/>
<ellipse cx="103.5" cy="223.9" rx="1.64" ry="1.30" fill="#9262bc" fill-opacity="0.85" transform="rotate(46 103.5 223.9)"/>
<ellipse cx="94.3" cy="211.6" rx="0.89" ry="0.99" fill="#7a44a8" fill-opacity="0.85" transform="rotate(107 94.3 211.6)"/>
<ellipse cx="99.0" cy="201.0" rx="0.60" ry="0.46" fill="#8a58b4" fill-opacity="0.85" transform="rotate(59 99.0 201.0)"/>
<ellipse cx="111.9" cy="190.1" rx="1.57" ry="1.09" fill="#8a58b4" fill-opacity="0.85" transform="rotate(44 111.9 190.1)"/>
<ellipse cx="117.7" cy="223.5" rx="1.66" ry="1.48" fill="#8450b0" fill-opacity="0.85" transform="rotate(178 117.7 223.5)"/>
<ellipse cx="108.2" cy="214.5" rx="1.75" ry="1.28" fill="#9262bc" fill-opacity="0.85" transform="rotate(68 108.2 214.5)"/>
<ellipse cx="110.6" cy="226.3" rx="1.47" ry="1.57" fill="#8450b0" fill-opacity="0.85" transform="rotate(9 110.6 226.3)"/>
<ellipse cx="136.9" cy="213.6" rx="0.94" ry="0.78" fill="#9262bc" fill-opacity="0.85" transform="rotate(158 136.9 213.6)"/>
<ellipse cx="136.4" cy="203.4" rx="1.24" ry="0.75" fill="#7a44a8" fill-opacity="0.85" transform="rotate(170 136.4 203.4)"/>
<ellipse cx="117.7" cy="216.9" rx="1.67" ry="1.43" fill="#a07cc6" fill-opacity="0.85" transform="rotate(66 117.7 216.9)"/>
<ellipse cx="111.5" cy="186.8" rx="0.94" ry="0.91" fill="#7a44a8" fill-opacity="0.85" transform="rotate(122 111.5 186.8)"/>
<ellipse cx="124.1" cy="218.1" rx="1.16" ry="1.19" fill="#8a58b4" fill-opacity="0.85" transform="rotate(80 124.1 218.1)"/>
<ellipse cx="118.6" cy="197.7" rx="0.79" ry="0.50" fill="#7a44a8" fill-opacity="0.85" transform="rotate(176 118.6 197.7)"/>
<ellipse cx="132.2" cy="201.2" rx="1.03" ry="0.82" fill="#8450b0" fill-opacity="0.85" transform="rotate(53 132.2 201.2)"/>
<ellipse cx="120.8" cy="186.8" rx="1.22" ry="1.24" fill="#a07cc6" fill-opacity="0.85" transform="rotate(7 120.8 186.8)"/>
<ellipse cx="124.2" cy="221.6" rx="1.37" ry="1.34" fill="#8a58b4" fill-opacity="0.85" transform="rotate(9 124.2 221.6)"/>
<ellipse cx="119.7" cy="217.1" rx="1.28" ry="1.00" fill="#9262bc" fill-opacity="0.85" transform="rotate(76 119.7 217.1)"/>
<ellipse cx="132.3" cy="204.5" rx="0.54" ry="0.58" fill="#9262bc" fill-opacity="0.85" transform="rotate(55 132.3 204.5)"/>
<ellipse cx="126.1" cy="212.0" rx="1.26" ry="1.20" fill="#8a58b4" fill-opacity="0.85" transform="rotate(134 126.1 212.0)"/>
<ellipse cx="119.1" cy="216.5" rx="1.37" ry="1.13" fill="#8a58b4" fill-opacity="0.85" transform="rotate(83 119.1 216.5)"/>
<ellipse cx="103.7" cy="228.2" rx="1.09" ry="0.97" fill="#9262bc" fill-opacity="0.85" transform="rotate(84 103.7 228.2)"/>
<ellipse cx="94.1" cy="200.5" rx="1.83" ry="1.24" fill="#8a58b4" fill-opacity="0.85" transform="rotate(105 94.1 200.5)"/>
<ellipse cx="127.1" cy="227.8" rx="0.77" ry="0.95" fill="#7a44a8" fill-opacity="0.85" transform="rotate(86 127.1 227.8)"/>
<ellipse cx="130.0" cy="221.9" rx="1.67" ry="1.54" fill="#a07cc6" fill-opacity="0.85" transform="rotate(72 130.0 221.9)"/>
<ellipse cx="93.4" cy="209.2" rx="1.01" ry="1.05" fill="#a07cc6" fill-opacity="0.85" transform="rotate(11 93.4 209.2)"/>
<ellipse cx="117.1" cy="211.9" rx="0.98" ry="1.00" fill="#8450b0" fill-opacity="0.85" transform="rotate(42 117.1 211.9)"/>
<ellipse cx="124.6" cy="190.7" rx="1.10" ry="0.84" fill="#a07cc6" fill-opacity="0.85" transform="rotate(64 124.6 190.7)"/>
<ellipse cx="120.5" cy="211.1" rx="1.35" ry="1.33" fill="#8a58b4" fill-opacity="0.85" transform="rotate(91 120.5 211.1)"/>
<ellipse cx="131.4" cy="200.6" rx="1.39" ry="1.15" fill="#9262bc" fill-opacity="0.85" transform="rotate(123 131.4 200.6)"/>
<ellipse cx="120.4" cy="190.2" rx="1.79" ry="1.17" fill="#a07cc6" fill-opacity="0.85" transform="rotate(55 120.4 190.2)"/>
<ellipse cx="115.5" cy="231.1" rx="0.66" ry="0.54" fill="#8a58b4" fill-opacity="0.85" transform="rotate(122 115.5 231.1)"/>
<ellipse cx="96.5" cy="222.1" rx="2.00" ry="1.21" fill="#7a44a8" fill-opacity="0.85" transform="rotate(177 96.5 222.1)"/>
<ellipse cx="123.6" cy="199.5" rx="0.92" ry="0.87" fill="#8a58b4" fill-opacity="0.85" transform="rotate(117 123.6 199.5)"/>
<ellipse cx="114.6" cy="189.9" rx="1.08" ry="0.97" fill="#8450b0" fill-opacity="0.85" transform="rotate(102 114.6 189.9)"/>
<ellipse cx="132.1" cy="202.4" rx="1.13" ry="1.00" fill="#8450b0" fill-opacity="0.85" transform="rotate(159 132.1 202.4)"/>
<ellipse cx="91.7" cy="208.9" rx="0.95" ry="0.65" fill="#9262bc" fill-opacity="0.85" transform="rotate(93 91.7 208.9)"/>
<ellipse cx="109.8" cy="220.0" rx="0.91" ry="0.84" fill="#8450b0" fill-opacity="0.85" transform="rotate(60 109.8 220.0)"/>
<ellipse cx="134.6" cy="199.1" rx="1.17" ry="0.93" fill="#a07cc6" fill-opacity="0.85" transform="rotate(139 134.6 199.1)"/>
<ellipse cx="108.6" cy="219.5" rx="1.23" ry="0.84" fill="#8a58b4" fill-opacity="0.85" transform="rotate(9 108.6 219.5)"/>
<ellipse cx="115.4" cy="192.1" rx="1.16" ry="0.81" fill="#a07cc6" fill-opacity="0.85" transform="rotate(59 115.4 192.1)"/>
<ellipse cx="119.5" cy="211.2" rx="1.05" ry="1.16" fill="#8a58b4" fill-opacity="0.85" transform="rotate(75 119.5 211.2)"/>
<ellipse cx="105.3" cy="215.1" rx="1.43" ry="0.85" fill="#a07cc6" fill-opacity="0.85" transform="rotate(86 105.3 215.1)"/>
<ellipse cx="98.8" cy="218.2" rx="1.88" ry="1.42" fill="#7a44a8" fill-opacity="0.85" transform="rotate(106 98.8 218.2)"/>
<ellipse cx="112.5" cy="210.1" rx="0.62" ry="0.83" fill="#8a58b4" fill-opacity="0.85" transform="rotate(27 112.5 210.1)"/>
<ellipse cx="103.2" cy="205.1" rx="1.62" ry="1.20" fill="#8450b0" fill-opacity="0.85" transform="rotate(127 103.2 205.1)"/>
<ellipse cx="100.0" cy="213.0" rx="0.74" ry="0.84" fill="#8450b0" fill-opacity="0.85" transform="rotate(99 100.0 213.0)"/>
<ellipse cx="130.5" cy="209.1" rx="1.58" ry="1.53" fill="#a07cc6" fill-opacity="0.85" transform="rotate(103 130.5 209.1)"/>
<ellipse cx="114.2" cy="194.2" rx="1.50" ry="1.32" fill="#8450b0" fill-opacity="0.85" transform="rotate(16 114.2 194.2)"/>
<ellipse cx="104.1" cy="204.4" rx="1.23" ry="1.09" fill="#a07cc6" fill-opacity="0.85" transform="rotate(131 104.1 204.4)"/>
<ellipse cx="106.9" cy="201.7" rx="1.02" ry="1.04" fill="#7a44a8" fill-opacity="0.85" transform="rotate(167 106.9 201.7)"/>
<ellipse cx="106.0" cy="198.6" rx="0.76" ry="0.66" fill="#8a58b4" fill-opacity="0.85" transform="rotate(74 106.0 198.6)"/>
<ellipse cx="97.1" cy="221.9" rx="1.06" ry="0.93" fill="#a07cc6" fill-opacity="0.85" transform="rotate(37 97.1 221.9)"/>
<ellipse cx="109.2" cy="199.9" rx="0.98" ry="0.77" fill="#7a44a8" fill-opacity="0.85" transform="rotate(112 109.2 199.9)"/>
<ellipse cx="131.6" cy="219.5" rx="1.38" ry="1.33" fill="#8a58b4" fill-opacity="0.85" transform="rotate(176 131.6 219.5)"/>
<ellipse cx="118.0" cy="194.6" rx="1.57" ry="1.14" fill="#8a58b4" fill-opacity="0.85" transform="rotate(171 118.0 194.6)"/>
<ellipse cx="104.1" cy="193.2" rx="1.22" ry="0.88" fill="#8450b0" fill-opacity="0.85" transform="rotate(97 104.1 193.2)"/>
<ellipse cx="128.2" cy="207.2" rx="1.12" ry="1.26" fill="#a07cc6" fill-opacity="0.85" transform="rotate(47 128.2 207.2)"/>
<ellipse cx="106.5" cy="201.8" rx="1.35" ry="0.83" fill="#a07cc6" fill-opacity="0.85" transform="rotate(11 106.5 201.8)"/>
<ellipse cx="96.5" cy="198.4" rx="1.51" ry="1.51" fill="#7a44a8" fill-opacity="0.85" transform="rotate(134 96.5 198.4)"/>
<ellipse cx="104.5" cy="203.4" rx="1.49" ry="1.34" fill="#8450b0" fill-opacity="0.85" transform="rotate(25 104.5 203.4)"/>
<ellipse cx="117.2" cy="195.9" rx="1.78" ry="1.17" fill="#8a58b4" fill-opacity="0.85" transform="rotate(62 117.2 195.9)"/>
<ellipse cx="127.4" cy="205.1" rx="1.93" ry="1.53" fill="#a07cc6" fill-opacity="0.85" transform="rotate(52 127.4 205.1)"/>
<ellipse cx="119.9" cy="194.8" rx="0.84" ry="0.71" fill="#8a58b4" fill-opacity="0.85" transform="rotate(100 119.9 194.8)"/>
<ellipse cx="111.5" cy="210.2" rx="0.93" ry="0.67" fill="#8450b0" fill-opacity="0.85" transform="rotate(54 111.5 210.2)"/>
<ellipse cx="107.8" cy="190.9" rx="1.50" ry="1.26" fill="#7a44a8" fill-opacity="0.85" transform="rotate(104 107.8 190.9)"/>
<ellipse cx="97.7" cy="207.4" rx="1.04" ry="1.14" fill="#8a58b4" fill-opacity="0.85" transform="rotate(45 97.7 207.4)"/>
<ellipse cx="118.2" cy="216.1" rx="0.83" ry="0.74" fill="#7a44a8" fill-opacity="0.85" transform="rotate(4 118.2 216.1)"/>
<ellipse cx="131.3" cy="215.2" rx="1.26" ry="1.15" fill="#8a58b4" fill-opacity="0.85" transform="rotate(127 131.3 215.2)"/>
<ellipse cx="110.5" cy="196.1" rx="1.42" ry="1.47" fill="#7a44a8" fill-opacity="0.85" transform="rotate(5 110.5 196.1)"/>
<ellipse cx="132.6" cy="198.7" rx="0.96" ry="0.80" fill="#8a58b4" fill-opacity="0.85" transform="rotate(40 132.6 198.7)"/>
<ellipse cx="108.1" cy="202.8" rx="1.61" ry="1.53" fill="#a07cc6" fill-opacity="0.85" transform="rotate(32 108.1 202.8)"/>
<ellipse cx="122.1" cy="225.2" rx="1.49" ry="1.44" fill="#7a44a8" fill-opacity="0.85" transform="rotate(39 122.1 225.2)"/>
<ellipse cx="130.7" cy="194.3" rx="0.83" ry="0.69" fill="#8450b0" fill-opacity="0.85" transform="rotate(153 130.7 194.3)"/>
<ellipse cx="114.1" cy="188.6" rx="1.71" ry="0.96" fill="#7a44a8" fill-opacity="0.85" transform="rotate(8 114.1 188.6)"/>
<ellipse cx="100.8" cy="227.3" rx="1.55" ry="0.92" fill="#8450b0" fill-opacity="0.85" transform="rotate(75 100.8 227.3)"/>
<ellipse cx="130.0" cy="199.0" rx="0.99" ry="0.94" fill="#7a44a8" fill-opacity="0.85" transform="rotate(10 130.0 199.0)"/>
<ellipse cx="116.7" cy="198.2" rx="0.58" ry="0.44" fill="#7a44a8" fill-opacity="0.85" transform="rotate(54 116.7 198.2)"/>
<ellipse cx="128.6" cy="210.2" rx="0.94" ry="0.83" fill="#9262bc" fill-opacity="0.85" transform="rotate(152 128.6 210.2)"/>
<ellipse cx="98.4" cy="212.1" rx="1.17" ry="1.02" fill="#8a58b4" fill-opacity="0.85" transform="rotate(144 98.4 212.1)"/>
<ellipse cx="96.2" cy="215.6" rx="1.05" ry="0.77" fill="#7a44a8" fill-opacity="0.85" transform="rotate(84 96.2 215.6)"/>
<ellipse cx="98.0" cy="205.8" rx="1.83" ry="1.19" fill="#8450b0" fill-opacity="0.85" transform="rotate(53 98.0 205.8)"/>
<ellipse cx="100.2" cy="220.7" rx="0.66" ry="0.62" fill="#7a44a8" fill-opacity="0.85" transform="rotate(156 100.2 220.7)"/>
<ellipse cx="124.6" cy="192.5" rx="1.60" ry="1.26" fill="#a07cc6" fill-opacity="0.85" transform="rotate(90 124.6 192.5)"/>
<ellipse cx="117.3" cy="226.4" rx="1.63" ry="1.05" fill="#8450b0" fill-opacity="0.85" transform="rotate(44 117.3 226.4)"/>
<ellipse cx="131.5" cy="205.8" rx="1.11" ry="1.32" fill="#8a58b4" fill-opacity="0.85" transform="rotate(64 131.5 205.8)"/>
<ellipse cx="131.0" cy="204.2" rx="0.89" ry="0.80" fill="#8450b0" fill-opacity="0.85" transform="rotate(81 131.0 204.2)"/>
<ellipse cx="136.6" cy="207.5" rx="1.34" ry="0.91" fill="#9262bc" fill-opacity="0.85" transform="rotate(12 136.6 207.5)"/>
<ellipse cx="114.3" cy="197.5" rx="1.46" ry="1.18" fill="#7a44a8" fill-opacity="0.85" transform="rotate(178 114.3 197.5)"/>
<ellipse cx="130.7" cy="200.3" rx="0.71" ry="0.71" fill="#8a58b4" fill-opacity="0.85" transform="rotate(13 130.7 200.3)"/>
<ellipse cx="115.7" cy="195.5" rx="1.78" ry="1.24" fill="#9262bc" fill-opacity="0.85" transform="rotate(47 115.7 195.5)"/>
<ellipse cx="122.5" cy="190.8" rx="1.19" ry="1.03" fill="#9262bc" fill-opacity="0.85" transform="rotate(142 122.5 190.8)"/>
<ellipse cx="101.4" cy="194.0" rx="1.77" ry="1.88" fill="#7a44a8" fill-opacity="0.85" transform="rotate(162 101.4 194.0)"/>
<ellipse cx="114.0" cy="195.8" rx="0.58" ry="0.76" fill="#8a58b4" fill-opacity="0.85" transform="rotate(55 114.0 195.8)"/>
<ellipse cx="128.3" cy="195.9" rx="1.15" ry="0.93" fill="#8450b0" fill-opacity="0.85" transform="rotate(43 128.3 195.9)"/>
<ellipse cx="110.7" cy="230.8" rx="1.12" ry="1.06" fill="#9262bc" fill-opacity="0.85" transform="rotate(69 110.7 230.8)"/>
<ellipse cx="132.1" cy="201.5" rx="0.82" ry="0.75" fill="#a07cc6" fill-opacity="0.85" transform="rotate(168 132.1 201.5)"/>
<ellipse cx="113.9" cy="210.7" rx="1.15" ry="0.80" fill="#7a44a8" fill-opacity="0.85" transform="rotate(9 113.9 210.7)"/>
<ellipse cx="137.3" cy="212.9" rx="0.97" ry="0.78" fill="#8a58b4" fill-opacity="0.85" transform="rotate(116 137.3 212.9)"/>
<ellipse cx="106.5" cy="202.3" rx="0.69" ry="0.63" fill="#9262bc" fill-opacity="0.85" transform="rotate(81 106.5 202.3)"/>
<ellipse cx="109.9" cy="209.4" rx="1.53" ry="0.92" fill="#a07cc6" fill-opacity="0.85" transform="rotate(84 109.9 209.4)"/>
<ellipse cx="124.9" cy="193.7" rx="1.68" ry="1.51" fill="#8450b0" fill-opacity="0.85" transform="rotate(63 124.9 193.7)"/>
<ellipse cx="125.8" cy="213.9" rx="1.59" ry="1.05" fill="#a07cc6" fill-opacity="0.85" transform="rotate(26 125.8 213.9)"/>
<ellipse cx="112.7" cy="200.5" rx="1.26" ry="1.08" fill="#8a58b4" fill-opacity="0.85" transform="rotate(20 112.7 200.5)"/>
<ellipse cx="112.4" cy="218.8" rx="0.65" ry="0.74" fill="#9262bc" fill-opacity="0.85" transform="rotate(13 112.4 218.8)"/>
<ellipse cx="124.2" cy="190.6" rx="1.04" ry="1.13" fill="#8450b0" fill-opacity="0.85" transform="rotate(70 124.2 190.6)"/>
<ellipse cx="110.1" cy="209.6" rx="1.14" ry="1.11" fill="#8450b0" fill-opacity="0.85" transform="rotate(76 110.1 209.6)"/>
<ellipse cx="119.9" cy="188.1" rx="0.87" ry="0.95" fill="#9262bc" fill-opacity="0.85" transform="rotate(69 119.9 188.1)"/>
<ellipse cx="111.0" cy="195.2" rx="1.73" ry="0.99" fill="#7a44a8" fill-opacity="0.85" transform="rotate(53 111.0 195.2)"/>
<ellipse cx="115.5" cy="232.0" rx="0.83" ry="0.72" fill="#a07cc6" fill-opacity="0.85" transform="rotate(156 115.5 232.0)"/>
<ellipse cx="108.4" cy="218.7" rx="1.04" ry="1.10" fill="#7a44a8" fill-opacity="0.85" transform="rotate(106 108.4 218.7)"/>
<ellipse cx="106.9" cy="193.1" rx="1.95" ry="1.32" fill="#9262bc" fill-opacity="0.85" transform="rotate(151 106.9 193.1)"/>
<ellipse cx="102.0" cy="190.0" rx="0.76" ry="0.74" fill="#9262bc" fill-opacity="0.85" transform="rotate(140 102.0 190.0)"/>
<ellipse cx="106.1" cy="196.2" rx="1.12" ry="1.46" fill="#a07cc6" fill-opacity="0.85" transform="rotate(34 106.1 196.2)"/>
<ellipse cx="94.4" cy="215.9" rx="1.57" ry="1.49" fill="#8a58b4" fill-opacity="0.85" transform="rotate(34 94.4 215.9)"/>
<ellipse cx="120.7" cy="200.5" rx="1.18" ry="0.85" fill="#8450b0" fill-opacity="0.85" transform="rotate(124 120.7 200.5)"/>
<ellipse cx="101.7" cy="195.6" rx="1.18" ry="0.80" fill="#a07cc6" fill-opacity="0.85" transform="rotate(129 101.7 195.6)"/>
<ellipse cx="116.5" cy="224.9" rx="1.71" ry="1.63" fill="#a07cc6" fill-opacity="0.85" transform="rotate(48 116.5 224.9)"/>
<ellipse cx="104.2" cy="204.6" rx="1.66" ry="1.35" fill="#8a58b4" fill-opacity="0.85" transform="rotate(27 104.2 204.6)"/>
<ellipse cx="119.4" cy="186.6" rx="0.91" ry="0.64" fill="#8450b0" fill-opacity="0.85" transform="rotate(76 119.4 186.6)"/>
<ellipse cx="124.3" cy="194.7" rx="0.93" ry="0.72" fill="#8450b0" fill-opacity="0.85" transform="rotate(66 124.3 194.7)"/>
<ellipse cx="122.6" cy="205.4" rx="1.25" ry="1.11" fill="#a07cc6" fill-opacity="0.85" transform="rotate(154 122.6 205.4)"/>
<ellipse cx="109.3" cy="214.5" rx="1.06" ry="1.06" fill="#8450b0" fill-opacity="0.85" transform="rotate(106 109.3 214.5)"/>
<ellipse cx="120.3" cy="201.5" rx="0.83" ry="1.03" fill="#7a44a8" fill-opacity="0.85" transform="rotate(165 120.3 201.5)"/>
<ellipse cx="101.7" cy="222.3" rx="1.02" ry="1.03" fill="#9262bc" fill-opacity="0.85" transform="rotate(155 101.7 222.3)"/>
<ellipse cx="104.6" cy="188.3" rx="1.09" ry="0.93" fill="#a07cc6" fill-opacity="0.85" transform="rotate(38 104.6 188.3)"/>
<ellipse cx="94.7" cy="216.6" rx="1.42" ry="0.88" fill="#7a44a8" fill-opacity="0.85" transform="rotate(11 94.7 216.6)"/>
<ellipse cx="126.9" cy="222.2" rx="1.75" ry="1.48" fill="#7a44a8" fill-opacity="0.85" transform="rotate(13 126.9 222.2)"/>
<ellipse cx="103.0" cy="199.4" rx="1.16" ry="0.95" fill="#a07cc6" fill-opacity="0.85" transform="rotate(123 103.0 199.4)"/>
<ellipse cx="118.7" cy="203.7" rx="0.84" ry="0.71" fill="#9262bc" fill-opacity="0.85" transform="rotate(80 118.7 203.7)"/>
<ellipse cx="108.1" cy="205.9" rx="0.75" ry="0.87" fill="#7a44a8" fill-opacity="0.85" transform="rotate(66 108.1 205.9)"/>
<ellipse cx="122.9" cy="202.0" rx="0.76" ry="0.58" fill="#9262bc" fill-opacity="0.85" transform="rotate(29 122.9 202.0)"/>
<ellipse cx="131.1" cy="223.1" rx="1.52" ry="1.09" fill="#7a44a8" fill-opacity="0.85" transform="rotate(80 131.1 223.1)"/>
<ellipse cx="110.6" cy="205.7" rx="1.58" ry="1.26" fill="#8450b0" fill-opacity="0.85" transform="rotate(20 110.6 205.7)"/>
<ellipse cx="132.9" cy="213.2" rx="1.40" ry="1.22" fill="#9262bc" fill-opacity="0.85" transform="rotate(149 132.9 213.2)"/>
<ellipse cx="123.0" cy="203.7" rx="1.09" ry="1.04" fill="#8450b0" fill-opacity="0.85" transform="rotate(75 123.0 203.7)"/>
<ellipse cx="123.3" cy="222.0" rx="0.66" ry="0.73" fill="#8450b0" fill-opacity="0.85" transform="rotate(147 123.3 222.0)"/>
<ellipse cx="116.2" cy="230.2" rx="1.25" ry="0.98" fill="#9262bc" fill-opacity="0.85" transform="rotate(99 116.2 230.2)"/>
<ellipse cx="110.8" cy="217.6" rx="1.67" ry="1.23" fill="#a07cc6" fill-opacity="0.85" transform="rotate(156 110.8 217.6)"/>
</g>
<circle cx="114.7" cy="208.9" r="22.90" fill="none" stroke="#c4c4c4" stroke-width="0.7"/>
<circle cx="165.30" cy="208.60" r="23.40" fill="#d4d4d4"/>
<circle cx="165.30" cy="208.60" r="22.60" fill="#dddbdd"/>
<g clip-path="url(#cp3)" filter="url(#pb)">
<ellipse cx="175.5" cy="204.3" rx="0.43" ry="0.33" fill="#9262bc" fill-opacity="0.85" transform="rotate(149 175.5 204.3)"/>
<ellipse cx="146.5" cy="209.0" rx="0.65" ry="0.52" fill="#8a58b4" fill-opacity="0.85" transform="rotate(109 146.5 209.0)"/>
<ellipse cx="178.8" cy="222.8" rx="0.95" ry="0.93" fill="#8a58b4" fill-opacity="0.85" transform="rotate(143 178.8 222.8)"/>
<ellipse cx="168.4" cy="193.5" rx="0.71" ry="0.64" fill="#7a44a8" fill-opacity="0.85" transform="rotate(22 168.4 193.5)"/>
<ellipse cx="165.3" cy="224.6" rx="0.77" ry="0.86" fill="#9262bc" fill-opacity="0.85" transform="rotate(152 165.3 224.6)"/>
<ellipse cx="151.1" cy="220.9" rx="0.54" ry="0.42" fill="#9262bc" fill-opacity="0.85" transform="rotate(166 151.1 220.9)"/>
<ellipse cx="160.6" cy="222.2" rx="0.39" ry="0.46" fill="#8450b0" fill-opacity="0.85" transform="rotate(96 160.6 222.2)"/>
<ellipse cx="168.1" cy="192.5" rx="0.36" ry="0.45" fill="#9262bc" fill-opacity="0.85" transform="rotate(144 168.1 192.5)"/>
<ellipse cx="184.5" cy="200.0" rx="0.63" ry="0.49" fill="#8a58b4" fill-opacity="0.85" transform="rotate(144 184.5 200.0)"/>
<ellipse cx="160.6" cy="217.7" rx="0.38" ry="0.50" fill="#8a58b4" fill-opacity="0.85" transform="rotate(100 160.6 217.7)"/>
<ellipse cx="166.1" cy="224.6" rx="0.73" ry="0.73" fill="#a07cc6" fill-opacity="0.85" transform="rotate(64 166.1 224.6)"/>
<ellipse cx="179.1" cy="206.2" rx="1.40" ry="1.12" fill="#9262bc" fill-opacity="0.85" transform="rotate(62 179.1 206.2)"/>
<ellipse cx="158.6" cy="201.5" rx="0.95" ry="0.72" fill="#8a58b4" fill-opacity="0.85" transform="rotate(28 158.6 201.5)"/>
<ellipse cx="183.1" cy="207.7" rx="1.42" ry="1.20" fill="#8450b0" fill-opacity="0.85" transform="rotate(85 183.1 207.7)"/>
<ellipse cx="168.6" cy="189.7" rx="0.52" ry="0.44" fill="#8a58b4" fill-opacity="0.85" transform="rotate(134 168.6 189.7)"/>
<ellipse cx="179.8" cy="197.5" rx="1.24" ry="0.97" fill="#9262bc" fill-opacity="0.85" transform="rotate(134 179.8 197.5)"/>
<ellipse cx="180.1" cy="191.1" rx="0.87" ry="0.78" fill="#9262bc" fill-opacity="0.85" transform="rotate(102 180.1 191.1)"/>
<ellipse cx="161.5" cy="228.9" rx="0.77" ry="0.70" fill="#8450b0" fill-opacity="0.85" transform="rotate(89 161.5 228.9)"/>
<ellipse cx="149.2" cy="224.0" rx="0.52" ry="0.54" fill="#8a58b4" fill-opacity="0.85" transform="rotate(137 149.2 224.0)"/>
<ellipse cx="170.9" cy="220.8" rx="0.92" ry="0.65" fill="#8450b0" fill-opacity="0.85" transform="rotate(122 170.9 220.8)"/>
<ellipse cx="172.1" cy="214.0" rx="0.55" ry="0.51" fill="#8450b0" fill-opacity="0.85" transform="rotate(173 172.1 214.0)"/>
<ellipse cx="169.6" cy="227.0" rx="0.92" ry="0.91" fill="#a07cc6" fill-opacity="0.85" transform="rotate(32 169.6 227.0)"/>
<ellipse cx="166.1" cy="187.5" rx="1.04" ry="0.87" fill="#9262bc" fill-opacity="0.85" transform="rotate(77 166.1 187.5)"/>
<ellipse cx="171.3" cy="204.9" rx="0.43" ry="0.41" fill="#8450b0" fill-opacity="0.85" transform="rotate(43 171.3 204.9)"/>
<ellipse cx="153.5" cy="192.7" rx="1.03" ry="0.94" fill="#a07cc6" fill-opacity="0.85" transform="rotate(140 153.5 192.7)"/>
<ellipse cx="169.8" cy="192.6" rx="1.43" ry="1.37" fill="#9262bc" fill-opacity="0.85" transform="rotate(28 169.8 192.6)"/>
<ellipse cx="148.0" cy="205.8" rx="1.22" ry="1.31" fill="#9262bc" fill-opacity="0.85" transform="rotate(151 148.0 205.8)"/>
<ellipse cx="178.2" cy="211.1" rx="0.63" ry="0.51" fill="#8a58b4" fill-opacity="0.85" transform="rotate(124 178.2 211.1)"/>
<ellipse cx="155.3" cy="199.4" rx="0.49" ry="0.47" fill="#9262bc" fill-opacity="0.85" transform="rotate(34 155.3 199.4)"/>
<ellipse cx="174.7" cy="187.9" rx="0.51" ry="0.49" fill="#8450b0" fill-opacity="0.85" transform="rotate(133 174.7 187.9)"/>
<ellipse cx="160.2" cy="223.5" rx="0.68" ry="0.71" fill="#7a44a8" fill-opacity="0.85" transform="rotate(168 160.2 223.5)"/>
<ellipse cx="177.1" cy="213.6" rx="0.68" ry="0.48" fill="#7a44a8" fill-opacity="0.85" transform="rotate(36 177.1 213.6)"/>
<ellipse cx="168.0" cy="200.9" rx="0.62" ry="0.68" fill="#7a44a8" fill-opacity="0.85" transform="rotate(37 168.0 200.9)"/>
<ellipse cx="182.7" cy="195.6" rx="0.65" ry="0.66" fill="#7a44a8" fill-opacity="0.85" transform="rotate(145 182.7 195.6)"/>
<ellipse cx="160.1" cy="212.5" rx="1.09" ry="0.98" fill="#a07cc6" fill-opacity="0.85" transform="rotate(132 160.1 212.5)"/>
<ellipse cx="159.3" cy="218.0" rx="0.33" ry="0.37" fill="#8a58b4" fill-opacity="0.85" transform="rotate(53 159.3 218.0)"/>
<ellipse cx="180.6" cy="200.8" rx="0.68" ry="0.48" fill="#8a58b4" fill-opacity="0.85" transform="rotate(88 180.6 200.8)"/>
<ellipse cx="156.6" cy="217.0" rx="0.37" ry="0.33" fill="#8450b0" fill-opacity="0.85" transform="rotate(43 156.6 217.0)"/>
<ellipse cx="171.3" cy="191.6" rx="0.79" ry="0.69" fill="#8a58b4" fill-opacity="0.85" transform="rotate(95 171.3 191.6)"/>
<ellipse cx="172.7" cy="209.7" rx="1.10" ry="0.96" fill="#7a44a8" fill-opacity="0.85" transform="rotate(70 172.7 209.7)"/>
<ellipse cx="163.5" cy="223.1" rx="1.35" ry="1.28" fill="#9262bc" fill-opacity="0.85" transform="rotate(121 163.5 223.1)"/>
<ellipse cx="148.7" cy="212.7" rx="0.89" ry="0.93" fill="#8450b0" fill-opacity="0.85" transform="rotate(150 148.7 212.7)"/>
<ellipse cx="173.2" cy="193.4" rx="1.03" ry="0.82" fill="#9262bc" fill-opacity="0.85" transform="rotate(68 173.2 193.4)"/>
<ellipse cx="174.3" cy="205.6" rx="0.72" ry="0.89" fill="#a07cc6" fill-opacity="0.85" transform="rotate(20 174.3 205.6)"/>
<ellipse cx="151.2" cy="192.8" rx="0.69" ry="0.82" fill="#a07cc6" fill-opacity="0.85" transform="rotate(158 151.2 192.8)"/>
<ellipse cx="167.4" cy="196.5" rx="0.48" ry="0.45" fill="#8450b0" fill-opacity="0.85" transform="rotate(106 167.4 196.5)"/>
<ellipse cx="163.3" cy="202.4" rx="0.67" ry="0.57" fill="#8a58b4" fill-opacity="0.85" transform="rotate(159 163.3 202.4)"/>
<ellipse cx="172.9" cy="205.3" rx="0.68" ry="0.76" fill="#8450b0" fill-opacity="0.85" transform="rotate(33 172.9 205.3)"/>
<ellipse cx="152.7" cy="219.8" rx="0.69" ry="0.68" fill="#8450b0" fill-opacity="0.85" transform="rotate(168 152.7 219.8)"/>
<ellipse cx="183.1" cy="196.9" rx="0.50" ry="0.51" fill="#a07cc6" fill-opacity="0.85" transform="rotate(109 183.1 196.9)"/>
<ellipse cx="151.7" cy="227.5" rx="0.50" ry="0.46" fill="#9262bc" fill-opacity="0.85" transform="rotate(178 151.7 227.5)"/>
<ellipse cx="187.0" cy="201.8" rx="0.77" ry="0.69" fill="#8450b0" fill-opacity="0.85" transform="rotate(162 187.0 201.8)"/>
<ellipse cx="164.7" cy="216.1" rx="1.51" ry="1.24" fill="#a07cc6" fill-opacity="0.85" transform="rotate(23 164.7 216.1)"/>
<ellipse cx="152.1" cy="226.5" rx="1.28" ry="1.00" fill="#7a44a8" fill-opacity="0.85" transform="rotate(134 152.1 226.5)"/>
<ellipse cx="173.1" cy="217.6" rx="1.03" ry="1.24" fill="#8450b0" fill-opacity="0.85" transform="rotate(171 173.1 217.6)"/>
<ellipse cx="184.4" cy="198.9" rx="1.30" ry="1.05" fill="#8450b0" fill-opacity="0.85" transform="rotate(159 184.4 198.9)"/>
<ellipse cx="183.8" cy="200.6" rx="0.40" ry="0.38" fill="#a07cc6" fill-opacity="0.85" transform="rotate(9 183.8 200.6)"/>
<ellipse cx="148.6" cy="198.7" rx="0.97" ry="0.92" fill="#a07cc6" fill-opacity="0.85" transform="rotate(66 148.6 198.7)"/>
<ellipse cx="161.4" cy="203.9" rx="1.30" ry="1.23" fill="#a07cc6" fill-opacity="0.85" transform="rotate(170 161.4 203.9)"/>
<ellipse cx="174.4" cy="221.2" rx="1.21" ry="0.82" fill="#a07cc6" fill-opacity="0.85" transform="rotate(165 174.4 221.2)"/>
<ellipse cx="169.7" cy="201.2" rx="1.42" ry="1.17" fill="#9262bc" fill-opacity="0.85" transform="rotate(122 169.7 201.2)"/>
<ellipse cx="186.9" cy="211.4" rx="1.01" ry="0.87" fill="#7a44a8" fill-opacity="0.85" transform="rotate(15 186.9 211.4)"/>
<ellipse cx="156.4" cy="198.0" rx="1.46" ry="1.16" fill="#8450b0" fill-opacity="0.85" transform="rotate(120 156.4 198.0)"/>
<ellipse cx="148.8" cy="195.6" rx="1.41" ry="1.39" fill="#a07cc6" fill-opacity="0.85" transform="rotate(140 148.8 195.6)"/>
<ellipse cx="150.7" cy="197.8" rx="0.60" ry="0.44" fill="#8450b0" fill-opacity="0.85" transform="rotate(1 150.7 197.8)"/>
<ellipse cx="174.3" cy="192.4" rx="1.30" ry="1.34" fill="#8a58b4" fill-opacity="0.85" transform="rotate(178 174.3 192.4)"/>
<ellipse cx="143.8" cy="213.8" rx="0.55" ry="0.59" fill="#7a44a8" fill-opacity="0.85" transform="rotate(11 143.8 213.8)"/>
<ellipse cx="153.4" cy="203.0" rx="0.50" ry="0.40" fill="#a07cc6" fill-opacity="0.85" transform="rotate(134 153.4 203.0)"/>
<ellipse cx="179.3" cy="217.7" rx="0.54" ry="0.66" fill="#9262bc" fill-opacity="0.85" transform="rotate(104 179.3 217.7)"/>
<ellipse cx="161.1" cy="221.3" rx="0.80" ry="0.83" fill="#7a44a8" fill-opacity="0.85" transform="rotate(88 161.1 221.3)"/>
<ellipse cx="153.4" cy="206.8" rx="0.67" ry="0.70" fill="#7a44a8" fill-opacity="0.85" transform="rotate(171 153.4 206.8)"/>
<ellipse cx="168.7" cy="187.9" rx="1.04" ry="1.02" fill="#a07cc6" fill-opacity="0.85" transform="rotate(10 168.7 187.9)"/>
<ellipse cx="179.1" cy="223.4" rx="1.38" ry="1.16" fill="#9262bc" fill-opacity="0.85" transform="rotate(149 179.1 223.4)"/>
<ellipse cx="177.3" cy="218.4" rx="0.74" ry="0.64" fill="#7a44a8" fill-opacity="0.85" transform="rotate(11 177.3 218.4)"/>
<ellipse cx="145.6" cy="216.4" rx="0.79" ry="0.73" fill="#9262bc" fill-opacity="0.85" transform="rotate(54 145.6 216.4)"/>
<ellipse cx="155.0" cy="200.4" rx="1.15" ry="1.09" fill="#7a44a8" fill-opacity="0.85" transform="rotate(162 155.0 200.4)"/>
<ellipse cx="154.0" cy="222.7" rx="1.08" ry="0.99" fill="#9262bc" fill-opacity="0.85" transform="rotate(40 154.0 222.7)"/>
<ellipse cx="162.2" cy="191.0" rx="0.91" ry="1.18" fill="#a07cc6" fill-opacity="0.85" transform="rotate(154 162.2 191.0)"/>
<ellipse cx="149.6" cy="209.1" rx="0.65" ry="0.41" fill="#a07cc6" fill-opacity="0.85" transform="rotate(122 149.6 209.1)"/>
<ellipse cx="180.1" cy="221.9" rx="0.91" ry="1.03" fill="#8a58b4" fill-opacity="0.85" transform="rotate(23 180.1 221.9)"/>
<ellipse cx="144.0" cy="206.5" rx="1.24" ry="0.92" fill="#8450b0" fill-opacity="0.85" transform="rotate(139 144.0 206.5)"/>
<ellipse cx="158.5" cy="216.2" rx="0.45" ry="0.38" fill="#8a58b4" fill-opacity="0.85" transform="rotate(88 158.5 216.2)"/>
<ellipse cx="143.4" cy="212.4" rx="0.92" ry="0.85" fill="#7a44a8" fill-opacity="0.85" transform="rotate(49 143.4 212.4)"/>
<ellipse cx="168.0" cy="210.2" rx="0.94" ry="1.06" fill="#a07cc6" fill-opacity="0.85" transform="rotate(66 168.0 210.2)"/>
<ellipse cx="177.8" cy="204.6" rx="1.12" ry="0.79" fill="#8450b0" fill-opacity="0.85" transform="rotate(64 177.8 204.6)"/>
<ellipse cx="153.0" cy="197.1" rx="0.48" ry="0.48" fill="#9262bc" fill-opacity="0.85" transform="rotate(44 153.0 197.1)"/>
<ellipse cx="178.1" cy="227.7" rx="1.42" ry="1.10" fill="#8450b0" fill-opacity="0.85" transform="rotate(148 178.1 227.7)"/>
<ellipse cx="171.7" cy="199.8" rx="0.56" ry="0.35" fill="#7a44a8" fill-opacity="0.85" transform="rotate(156 171.7 199.8)"/>
<ellipse cx="168.7" cy="204.9" rx="1.06" ry="1.30" fill="#9262bc" fill-opacity="0.85" transform="rotate(17 168.7 204.9)"/>
<ellipse cx="159.9" cy="207.4" rx="0.87" ry="0.60" fill="#8450b0" fill-opacity="0.85" transform="rotate(44 159.9 207.4)"/>
<ellipse cx="149.0" cy="221.5" rx="0.38" ry="0.34" fill="#a07cc6" fill-opacity="0.85" transform="rotate(171 149.0 221.5)"/>
<ellipse cx="161.5" cy="198.2" rx="0.54" ry="0.44" fill="#8a58b4" fill-opacity="0.85" transform="rotate(178 161.5 198.2)"/>
<ellipse cx="151.6" cy="207.8" rx="1.15" ry="0.78" fill="#a07cc6" fill-opacity="0.85" transform="rotate(159 151.6 207.8)"/>
<ellipse cx="147.4" cy="223.4" rx="0.58" ry="0.58" fill="#9262bc" fill-opacity="0.85" transform="rotate(179 147.4 223.4)"/>
<ellipse cx="166.1" cy="224.6" rx="0.79" ry="0.72" fill="#a07cc6" fill-opacity="0.85" transform="rotate(21 166.1 224.6)"/>
<ellipse cx="159.9" cy="201.8" rx="0.51" ry="0.47" fill="#8a58b4" fill-opacity="0.85" transform="rotate(25 159.9 201.8)"/>
<ellipse cx="162.3" cy="217.0" rx="0.62" ry="0.87" fill="#a07cc6" fill-opacity="0.85" transform="rotate(160 162.3 217.0)"/>
<ellipse cx="171.6" cy="223.8" rx="1.18" ry="0.83" fill="#9262bc" fill-opacity="0.85" transform="rotate(10 171.6 223.8)"/>
<ellipse cx="166.7" cy="192.6" rx="1.12" ry="1.09" fill="#7a44a8" fill-opacity="0.85" transform="rotate(136 166.7 192.6)"/>
<ellipse cx="181.9" cy="193.5" rx="0.64" ry="0.43" fill="#8a58b4" fill-opacity="0.85" transform="rotate(91 181.9 193.5)"/>
<ellipse cx="176.1" cy="222.6" rx="0.42" ry="0.30" fill="#a07cc6" fill-opacity="0.85" transform="rotate(86 176.1 222.6)"/>
<ellipse cx="167.1" cy="215.2" rx="0.71" ry="0.74" fill="#8450b0" fill-opacity="0.85" transform="rotate(103 167.1 215.2)"/>
<ellipse cx="157.8" cy="213.5" rx="0.62" ry="0.56" fill="#8450b0" fill-opacity="0.85" transform="rotate(118 157.8 213.5)"/>
<ellipse cx="171.2" cy="213.4" rx="0.35" ry="0.38" fill="#9262bc" fill-opacity="0.85" transform="rotate(148 171.2 213.4)"/>
<ellipse cx="181.2" cy="199.4" rx="1.25" ry="1.12" fill="#8450b0" fill-opacity="0.85" transform="rotate(36 181.2 199.4)"/>
<ellipse cx="145.8" cy="217.6" rx="1.26" ry="0.96" fill="#8450b0" fill-opacity="0.85" transform="rotate(39 145.8 217.6)"/>
<ellipse cx="153.2" cy="226.4" rx="0.81" ry="0.63" fill="#a07cc6" fill-opacity="0.85" transform="rotate(5 153.2 226.4)"/>
<ellipse cx="173.0" cy="188.2" rx="0.39" ry="0.48" fill="#9262bc" fill-opacity="0.85" transform="rotate(33 173.0 188.2)"/>
<ellipse cx="172.4" cy="230.6" rx="0.93" ry="0.78" fill="#7a44a8" fill-opacity="0.85" transform="rotate(137 172.4 230.6)"/>
<ellipse cx="164.2" cy="230.4" rx="1.15" ry="0.81" fill="#8a58b4" fill-opacity="0.85" transform="rotate(105 164.2 230.4)"/>
<ellipse cx="164.4" cy="227.4" rx="0.53" ry="0.44" fill="#8a58b4" fill-opacity="0.85" transform="rotate(45 164.4 227.4)"/>
<ellipse cx="174.6" cy="212.8" rx="1.15" ry="0.86" fill="#9262bc" fill-opacity="0.85" transform="rotate(65 174.6 212.8)"/>
<ellipse cx="184.7" cy="199.8" rx="1.37" ry="1.06" fill="#9262bc" fill-opacity="0.85" transform="rotate(112 184.7 199.8)"/>
<ellipse cx="153.7" cy="202.0" rx="0.73" ry="0.55" fill="#a07cc6" fill-opacity="0.85" transform="rotate(156 153.7 202.0)"/>
<ellipse cx="163.2" cy="197.7" rx="0.37" ry="0.34" fill="#8a58b4" fill-opacity="0.85" transform="rotate(53 163.2 197.7)"/>
<ellipse cx="181.7" cy="195.2" rx="0.34" ry="0.42" fill="#8a58b4" fill-opacity="0.85" transform="rotate(42 181.7 195.2)"/>
<ellipse cx="176.4" cy="219.5" rx="1.41" ry="0.93" fill="#8a58b4" fill-opacity="0.85" transform="rotate(71 176.4 219.5)"/>
<ellipse cx="179.7" cy="201.5" rx="1.29" ry="1.22" fill="#7a44a8" fill-opacity="0.85" transform="rotate(149 179.7 201.5)"/>
<ellipse cx="184.3" cy="209.5" rx="0.58" ry="0.50" fill="#8a58b4" fill-opacity="0.85" transform="rotate(143 184.3 209.5)"/>
<ellipse cx="168.7" cy="192.9" rx="0.49" ry="0.45" fill="#8a58b4" fill-opacity="0.85" transform="rotate(39 168.7 192.9)"/>
<ellipse cx="163.4" cy="190.8" rx="1.31" ry="1.15" fill="#9262bc" fill-opacity="0.85" transform="rotate(52 163.4 190.8)"/>
<ellipse cx="154.6" cy="219.6" rx="1.13" ry="0.77" fill="#9262bc" fill-opacity="0.85" transform="rotate(177 154.6 219.6)"/>
<ellipse cx="142.0" cy="209.3" rx="0.87" ry="0.65" fill="#8450b0" fill-opacity="0.85" transform="rotate(57 142.0 209.3)"/>
<ellipse cx="165.7" cy="187.0" rx="0.65" ry="0.65" fill="#a07cc6" fill-opacity="0.85" transform="rotate(109 165.7 187.0)"/>
<ellipse cx="153.8" cy="195.7" rx="0.99" ry="0.68" fill="#8a58b4" fill-opacity="0.85" transform="rotate(127 153.8 195.7)"/>
<ellipse cx="144.6" cy="218.7" rx="0.67" ry="0.73" fill="#7a44a8" fill-opacity="0.85" transform="rotate(54 144.6 218.7)"/>
<ellipse cx="174.3" cy="210.2" rx="0.93" ry="1.02" fill="#9262bc" fill-opacity="0.85" transform="rotate(179 174.3 210.2)"/>
<ellipse cx="183.7" cy="220.1" rx="0.46" ry="0.41" fill="#a07cc6" fill-opacity="0.85" transform="rotate(14 183.7 220.1)"/>
<ellipse cx="170.4" cy="186.1" rx="1.06" ry="0.91" fill="#8450b0" fill-opacity="0.85" transform="rotate(110 170.4 186.1)"/>
<ellipse cx="186.3" cy="206.3" rx="0.38" ry="0.32" fill="#9262bc" fill-opacity="0.85" transform="rotate(172 186.3 206.3)"/>
<ellipse cx="155.4" cy="201.5" rx="1.01" ry="0.59" fill="#9262bc" fill-opacity="0.85" transform="rotate(88 155.4 201.5)"/>
<ellipse cx="163.1" cy="217.7" rx="0.56" ry="0.50" fill="#8a58b4" fill-opacity="0.85" transform="rotate(160 163.1 217.7)"/>
<ellipse cx="147.0" cy="212.5" rx="1.13" ry="0.70" fill="#8a58b4" fill-opacity="0.85" transform="rotate(176 147.0 212.5)"/>
<ellipse cx="152.3" cy="204.7" rx="0.65" ry="0.52" fill="#7a44a8" fill-opacity="0.85" transform="rotate(109 152.3 204.7)"/>
<ellipse cx="154.9" cy="198.5" rx="1.19" ry="1.09" fill="#9262bc" fill-opacity="0.85" transform="rotate(94 154.9 198.5)"/>
<ellipse cx="148.6" cy="203.4" rx="1.36" ry="0.86" fill="#8450b0" fill-opacity="0.85" transform="rotate(3 148.6 203.4)"/>
<ellipse cx="185.3" cy="215.5" rx="0.48" ry="0.46" fill="#a07cc6" fill-opacity="0.85" transform="rotate(19 185.3 215.5)"/>
<ellipse cx="143.0" cy="214.1" rx="0.72" ry="0.56" fill="#a07cc6" fill-opacity="0.85" transform="rotate(88 143.0 214.1)"/>
<ellipse cx="183.8" cy="204.9" rx="1.18" ry="1.24" fill="#8a58b4" fill-opacity="0.85" transform="rotate(43 183.8 204.9)"/>
<ellipse cx="154.0" cy="220.3" rx="0.56" ry="0.42" fill="#9262bc" fill-opacity="0.85" transform="rotate(28 154.0 220.3)"/>
<ellipse cx="165.6" cy="192.3" rx="0.45" ry="0.55" fill="#8450b0" fill-opacity="0.85" transform="rotate(34 165.6 192.3)"/>
<ellipse cx="145.9" cy="207.9" rx="0.62" ry="0.54" fill="#8450b0" fill-opacity="0.85" transform="rotate(60 145.9 207.9)"/>
<ellipse cx="181.1" cy="208.2" rx="0.70" ry="0.58" fill="#8450b0" fill-opacity="0.85" transform="rotate(154 181.1 208.2)"/>
<ellipse cx="169.1" cy="211.7" rx="0.47" ry="0.41" fill="#8a58b4" fill-opacity="0.85" transform="rotate(80 169.1 211.7)"/>
<ellipse cx="176.9" cy="224.0" rx="1.33" ry="1.10" fill="#8a58b4" fill-opacity="0.85" transform="rotate(36 176.9 224.0)"/>
<ellipse cx="165.3" cy="193.3" rx="0.65" ry="0.88" fill="#9262bc" fill-opacity="0.85" transform="rotate(15 165.3 193.3)"/>
<ellipse cx="168.4" cy="226.8" rx="0.45" ry="0.50" fill="#a07cc6" fill-opacity="0.85" transform="rotate(47 168.4 226.8)"/>
<ellipse cx="188.5" cy="210.0" rx="0.58" ry="0.62" fill="#7a44a8" fill-opacity="0.85" transform="rotate(124 188.5 210.0)"/>
<ellipse cx="158.4" cy="224.1" rx="0.65" ry="0.71" fill="#8450b0" fill-opacity="0.85" transform="rotate(142 158.4 224.1)"/>
<ellipse cx="158.7" cy="228.9" rx="0.81" ry="0.84" fill="#8450b0" fill-opacity="0.85" transform="rotate(45 158.7 228.9)"/>
<ellipse cx="152.7" cy="199.8" rx="0.94" ry="1.02" fill="#8a58b4" fill-opacity="0.85" transform="rotate(129 152.7 199.8)"/>
<ellipse cx="147.1" cy="209.5" rx="1.01" ry="0.99" fill="#8450b0" fill-opacity="0.85" transform="rotate(133 147.1 209.5)"/>
<ellipse cx="175.6" cy="224.0" rx="0.41" ry="0.34" fill="#8450b0" fill-opacity="0.85" transform="rotate(25 175.6 224.0)"/>
<ellipse cx="153.3" cy="204.1" rx="1.15" ry="0.92" fill="#9262bc" fill-opacity="0.85" transform="rotate(8 153.3 204.1)"/>
<ellipse cx="165.9" cy="202.6" rx="0.65" ry="0.59" fill="#9262bc" fill-opacity="0.85" transform="rotate(84 165.9 202.6)"/>
<ellipse cx="182.9" cy="210.5" rx="0.54" ry="0.41" fill="#9262bc" fill-opacity="0.85" transform="rotate(52 182.9 210.5)"/>
<ellipse cx="169.2" cy="192.6" rx="0.79" ry="0.70" fill="#a07cc6" fill-opacity="0.85" transform="rotate(74 169.2 192.6)"/>
<ellipse cx="174.6" cy="194.3" rx="1.42" ry="1.22" fill="#8a58b4" fill-opacity="0.85" transform="rotate(95 174.6 194.3)"/>
<ellipse cx="160.0" cy="205.4" rx="0.66" ry="0.46" fill="#a07cc6" fill-opacity="0.85" transform="rotate(109 160.0 205.4)"/>
<ellipse cx="155.0" cy="213.5" rx="0.70" ry="0.69" fill="#7a44a8" fill-opacity="0.85" transform="rotate(84 155.0 213.5)"/>
<ellipse cx="159.3" cy="208.4" rx="1.05" ry="0.60" fill="#8a58b4" fill-opacity="0.85" transform="rotate(146 159.3 208.4)"/>
<ellipse cx="161.8" cy="185.8" rx="0.75" ry="0.75" fill="#7a44a8" fill-opacity="0.85" transform="rotate(37 161.8 185.8)"/>
<ellipse cx="164.0" cy="219.8" rx="1.05" ry="0.87" fill="#7a44a8" fill-opacity="0.85" transform="rotate(117 164.0 219.8)"/>
<ellipse cx="145.2" cy="203.6" rx="0.54" ry="0.31" fill="#7a44a8" fill-opacity="0.85" transform="rotate(143 145.2 203.6)"/>
<ellipse cx="160.1" cy="201.0" rx="1.12" ry="1.18" fill="#8a58b4" fill-opacity="0.85" transform="rotate(148 160.1 201.0)"/>
<ellipse cx="170.3" cy="200.1" rx="0.66" ry="0.69" fill="#a07cc6" fill-opacity="0.85" transform="rotate(60 170.3 200.1)"/>
<ellipse cx="164.0" cy="189.6" rx="1.17" ry="1.24" fill="#8a58b4" fill-opacity="0.85" transform="rotate(108 164.0 189.6)"/>
<ellipse cx="155.4" cy="193.6" rx="0.75" ry="0.56" fill="#8a58b4" fill-opacity="0.85" transform="rotate(157 155.4 193.6)"/>
<ellipse cx="170.7" cy="220.0" rx="0.90" ry="0.96" fill="#a07cc6" fill-opacity="0.85" transform="rotate(8 170.7 220.0)"/>
<ellipse cx="180.3" cy="203.1" rx="0.62" ry="0.53" fill="#8a58b4" fill-opacity="0.85" transform="rotate(99 180.3 203.1)"/>
<ellipse cx="164.7" cy="224.6" rx="0.73" ry="0.74" fill="#9262bc" fill-opacity="0.85" transform="rotate(135 164.7 224.6)"/>
<ellipse cx="170.6" cy="222.2" rx="0.92" ry="0.94" fill="#9262bc" fill-opacity="0.85" transform="rotate(110 170.6 222.2)"/>
<ellipse cx="158.5" cy="198.1" rx="1.09" ry="1.25" fill="#9262bc" fill-opacity="0.85" transform="rotate(35 158.5 198.1)"/>
<ellipse cx="151.8" cy="214.7" rx="0.36" ry="0.36" fill="#7a44a8" fill-opacity="0.85" transform="rotate(68 151.8 214.7)"/>
<ellipse cx="158.2" cy="220.7" rx="0.49" ry="0.36" fill="#7a44a8" fill-opacity="0.85" transform="rotate(47 158.2 220.7)"/>
<ellipse cx="175.3" cy="228.7" rx="0.45" ry="0.50" fill="#7a44a8" fill-opacity="0.85" transform="rotate(164 175.3 228.7)"/>
<ellipse cx="178.9" cy="202.2" rx="0.71" ry="0.75" fill="#7a44a8" fill-opacity="0.85" transform="rotate(72 178.9 202.2)"/>
<ellipse cx="150.7" cy="226.4" rx="0.92" ry="0.54" fill="#8450b0" fill-opacity="0.85" transform="rotate(114 150.7 226.4)"/>
<ellipse cx="176.8" cy="223.9" rx="0.61" ry="0.50" fill="#a07cc6" fill-opacity="0.85" transform="rotate(44 176.8 223.9)"/>
<ellipse cx="144.0" cy="204.9" rx="0.61" ry="0.46" fill="#8450b0" fill-opacity="0.85" transform="rotate(148 144.0 204.9)"/>
<ellipse cx="151.4" cy="193.3" rx="1.21" ry="1.18" fill="#8a58b4" fill-opacity="0.85" transform="rotate(9 151.4 193.3)"/>
<ellipse cx="171.0" cy="220.2" rx="0.48" ry="0.38" fill="#8450b0" fill-opacity="0.85" transform="rotate(122 171.0 220.2)"/>
<ellipse cx="166.0" cy="186.2" rx="1.16" ry="0.87" fill="#8a58b4" fill-opacity="0.85" transform="rotate(25 166.0 186.2)"/>
<ellipse cx="152.6" cy="209.4" rx="1.07" ry="0.98" fill="#7a44a8" fill-opacity="0.85" transform="rotate(51 152.6 209.4)"/>
<ellipse cx="163.7" cy="204.5" rx="0.66" ry="0.53" fill="#8a58b4" fill-opacity="0.85" transform="rotate(97 163.7 204.5)"/>
<ellipse cx="168.9" cy="213.9" rx="1.45" ry="1.37" fill="#8a58b4" fill-opacity="0.85" transform="rotate(24 168.9 213.9)"/>
<ellipse cx="164.3" cy="217.6" rx="0.56" ry="0.41" fill="#8a58b4" fill-opacity="0.85" transform="rotate(8 164.3 217.6)"/>
<ellipse cx="163.2" cy="216.2" rx="1.04" ry="0.84" fill="#7a44a8" fill-opacity="0.85" transform="rotate(94 163.2 216.2)"/>
<ellipse cx="161.6" cy="222.8" rx="0.29" ry="0.25" fill="#7a44a8" fill-opacity="0.85" transform="rotate(98 161.6 222.8)"/>
<ellipse cx="181.3" cy="202.4" rx="0.79" ry="0.85" fill="#8a58b4" fill-opacity="0.85" transform="rotate(113 181.3 202.4)"/>
<ellipse cx="183.5" cy="221.4" rx="0.83" ry="0.81" fill="#a07cc6" fill-opacity="0.85" transform="rotate(77 183.5 221.4)"/>
<ellipse cx="159.9" cy="207.7" rx="0.64" ry="0.44" fill="#a07cc6" fill-opacity="0.85" transform="rotate(174 159.9 207.7)"/>
<ellipse cx="166.9" cy="195.2" rx="0.83" ry="0.84" fill="#a07cc6" fill-opacity="0.85" transform="rotate(71 166.9 195.2)"/>
<ellipse cx="165.4" cy="204.9" rx="0.70" ry="0.73" fill="#9262bc" fill-opacity="0.85" transform="rotate(155 165.4 204.9)"/>
<ellipse cx="145.9" cy="207.8" rx="0.47" ry="0.49" fill="#8a58b4" fill-opacity="0.85" transform="rotate(141 145.9 207.8)"/>
<ellipse cx="164.1" cy="213.6" rx="1.07" ry="1.29" fill="#a07cc6" fill-opacity="0.85" transform="rotate(93 164.1 213.6)"/>
<ellipse cx="183.1" cy="213.0" rx="1.19" ry="0.83" fill="#8450b0" fill-opacity="0.85" transform="rotate(33 183.1 213.0)"/>
<ellipse cx="149.5" cy="207.8" rx="0.46" ry="0.39" fill="#9262bc" fill-opacity="0.85" transform="rotate(57 149.5 207.8)"/>
<ellipse cx="170.0" cy="205.3" rx="0.62" ry="0.55" fill="#a07cc6" fill-opacity="0.85" transform="rotate(26 170.0 205.3)"/>
<ellipse cx="177.9" cy="220.3" rx="1.34" ry="1.29" fill="#8450b0" fill-opacity="0.85" transform="rotate(51 177.9 220.3)"/>
<ellipse cx="181.9" cy="218.5" rx="0.35" ry="0.34" fill="#8450b0" fill-opacity="0.85" transform="rotate(144 181.9 218.5)"/>
<ellipse cx="151.8" cy="195.7" rx="0.41" ry="0.44" fill="#8450b0" fill-opacity="0.85" transform="rotate(113 151.8 195.7)"/>
<ellipse cx="159.3" cy="214.2" rx="1.07" ry="0.77" fill="#a07cc6" fill-opacity="0.85" transform="rotate(126 159.3 214.2)"/>
<ellipse cx="170.7" cy="228.1" rx="0.32" ry="0.31" fill="#8450b0" fill-opacity="0.85" transform="rotate(133 170.7 228.1)"/>
<ellipse cx="157.5" cy="216.4" rx="0.64" ry="0.67" fill="#8450b0" fill-opacity="0.85" transform="rotate(175 157.5 216.4)"/>
<ellipse cx="180.1" cy="199.0" rx="0.49" ry="0.43" fill="#a07cc6" fill-opacity="0.85" transform="rotate(90 180.1 199.0)"/>
<ellipse cx="181.0" cy="206.3" rx="0.82" ry="0.80" fill="#8a58b4" fill-opacity="0.85" transform="rotate(79 181.0 206.3)"/>
<ellipse cx="175.2" cy="220.5" rx="0.95" ry="0.84" fill="#7a44a8" fill-opacity="0.85" transform="rotate(108 175.2 220.5)"/>
<ellipse cx="148.6" cy="192.9" rx="0.96" ry="0.89" fill="#9262bc" fill-opacity="0.85" transform="rotate(178 148.6 192.9)"/>
<ellipse cx="159.6" cy="186.4" rx="1.38" ry="1.24" fill="#7a44a8" fill-opacity="0.85" transform="rotate(99 159.6 186.4)"/>
<ellipse cx="162.9" cy="213.6" rx="1.20" ry="1.14" fill="#8450b0" fill-opacity="0.85" transform="rotate(117 162.9 213.6)"/>
<ellipse cx="168.8" cy="207.6" rx="0.93" ry="0.77" fill="#7a44a8" fill-opacity="0.85" transform="rotate(81 168.8 207.6)"/>
<ellipse cx="169.1" cy="209.8" rx="0.95" ry="0.84" fill="#8450b0" fill-opacity="0.85" transform="rotate(88 169.1 209.8)"/>
<ellipse cx="158.9" cy="211.2" rx="0.50" ry="0.45" fill="#7a44a8" fill-opacity="0.85" transform="rotate(66 158.9 211.2)"/>
<ellipse cx="148.8" cy="198.8" rx="0.65" ry="0.48" fill="#9262bc" fill-opacity="0.85" transform="rotate(169 148.8 198.8)"/>
<ellipse cx="151.0" cy="208.1" rx="0.98" ry="0.96" fill="#7a44a8" fill-opacity="0.85" transform="rotate(143 151.0 208.1)"/>
<ellipse cx="157.7" cy="218.0" rx="0.76" ry="0.70" fill="#8450b0" fill-opacity="0.85" transform="rotate(121 157.7 218.0)"/>
<ellipse cx="184.8" cy="202.4" rx="0.98" ry="0.76" fill="#7a44a8" fill-opacity="0.85" transform="rotate(58 184.8 202.4)"/>
<ellipse cx="172.7" cy="211.1" rx="1.04" ry="0.77" fill="#7a44a8" fill-opacity="0.85" transform="rotate(68 172.7 211.1)"/>
<ellipse cx="167.7" cy="193.0" rx="0.99" ry="1.10" fill="#7a44a8" fill-opacity="0.85" transform="rotate(4 167.7 193.0)"/>
<ellipse cx="177.1" cy="201.8" rx="0.78" ry="0.68" fill="#8450b0" fill-opacity="0.85" transform="rotate(84 177.1 201.8)"/>
<ellipse cx="174.3" cy="224.9" rx="0.98" ry="0.85" fill="#8450b0" fill-opacity="0.85" transform="rotate(91 174.3 224.9)"/>
<ellipse cx="169.1" cy="190.4" rx="0.74" ry="0.64" fill="#8450b0" fill-opacity="0.85" transform="rotate(71 169.1 190.4)"/>
<ellipse cx="149.3" cy="220.3" rx="0.87" ry="0.66" fill="#8450b0" fill-opacity="0.85" transform="rotate(19 149.3 220.3)"/>
<ellipse cx="175.0" cy="203.5" rx="0.93" ry="0.77" fill="#7a44a8" fill-opacity="0.85" transform="rotate(142 175.0 203.5)"/>
<ellipse cx="144.1" cy="200.4" rx="0.37" ry="0.39" fill="#8450b0" fill-opacity="0.85" transform="rotate(76 144.1 200.4)"/>
<ellipse cx="151.7" cy="226.6" rx="0.79" ry="0.82" fill="#8450b0" fill-opacity="0.85" transform="rotate(132 151.7 226.6)"/>
<ellipse cx="157.1" cy="218.9" rx="0.79" ry="0.68" fill="#a07cc6" fill-opacity="0.85" transform="rotate(105 157.1 218.9)"/>
<ellipse cx="157.9" cy="226.8" rx="0.48" ry="0.36" fill="#9262bc" fill-opacity="0.85" transform="rotate(72 157.9 226.8)"/>
<ellipse cx="169.6" cy="207.5" rx="0.91" ry="0.94" fill="#8450b0" fill-opacity="0.85" transform="rotate(115 169.6 207.5)"/>
<ellipse cx="172.9" cy="225.2" rx="0.96" ry="0.63" fill="#9262bc" fill-opacity="0.85" transform="rotate(103 172.9 225.2)"/>
<ellipse cx="175.6" cy="208.7" rx="0.92" ry="0.66" fill="#7a44a8" fill-opacity="0.85" transform="rotate(145 175.6 208.7)"/>
<ellipse cx="171.9" cy="200.1" rx="0.67" ry="0.62" fill="#7a44a8" fill-opacity="0.85" transform="rotate(100 171.9 200.1)"/>
<ellipse cx="166.5" cy="220.0" rx="0.35" ry="0.42" fill="#8450b0" fill-opacity="0.85" transform="rotate(116 166.5 220.0)"/>
<ellipse cx="172.8" cy="218.4" rx="0.77" ry="0.73" fill="#a07cc6" fill-opacity="0.85" transform="rotate(69 172.8 218.4)"/>
<ellipse cx="156.9" cy="218.6" rx="0.38" ry="0.29" fill="#a07cc6" fill-opacity="0.85" transform="rotate(110 156.9 218.6)"/>
<ellipse cx="156.9" cy="226.8" rx="0.67" ry="0.90" fill="#a07cc6" fill-opacity="0.85" transform="rotate(64 156.9 226.8)"/>
<ellipse cx="165.7" cy="188.0" rx="0.76" ry="0.57" fill="#9262bc" fill-opacity="0.85" transform="rotate(146 165.7 188.0)"/>
<ellipse cx="153.9" cy="214.2" rx="0.39" ry="0.41" fill="#8450b0" fill-opacity="0.85" transform="rotate(108 153.9 214.2)"/>
<ellipse cx="182.1" cy="197.8" rx="1.10" ry="0.98" fill="#8a58b4" fill-opacity="0.85" transform="rotate(146 182.1 197.8)"/>
<ellipse cx="179.4" cy="201.5" rx="0.70" ry="0.54" fill="#8450b0" fill-opacity="0.85" transform="rotate(90 179.4 201.5)"/>
<ellipse cx="157.8" cy="226.9" rx="0.71" ry="0.72" fill="#8a58b4" fill-opacity="0.85" transform="rotate(144 157.8 226.9)"/>
<ellipse cx="145.4" cy="208.8" rx="0.82" ry="0.58" fill="#7a44a8" fill-opacity="0.85" transform="rotate(17 145.4 208.8)"/>
<ellipse cx="151.6" cy="196.4" rx="0.92" ry="0.83" fill="#a07cc6" fill-opacity="0.85" transform="rotate(47 151.6 196.4)"/>
<ellipse cx="174.8" cy="195.7" rx="1.46" ry="1.38" fill="#8450b0" fill-opacity="0.85" transform="rotate(42 174.8 195.7)"/>
<ellipse cx="174.7" cy="188.2" rx="0.57" ry="0.62" fill="#9262bc" fill-opacity="0.85" transform="rotate(106 174.7 188.2)"/>
<ellipse cx="182.9" cy="194.6" rx="0.55" ry="0.36" fill="#8a58b4" fill-opacity="0.85" transform="rotate(5 182.9 194.6)"/>
<ellipse cx="148.8" cy="210.0" rx="0.53" ry="0.48" fill="#8a58b4" fill-opacity="0.85" transform="rotate(17 148.8 210.0)"/>
<ellipse cx="151.2" cy="194.2" rx="1.35" ry="0.98" fill="#8450b0" fill-opacity="0.85" transform="rotate(172 151.2 194.2)"/>
<ellipse cx="161.0" cy="227.4" rx="0.86" ry="0.63" fill="#a07cc6" fill-opacity="0.85" transform="rotate(123 161.0 227.4)"/>
<ellipse cx="168.6" cy="201.0" rx="1.01" ry="0.69" fill="#8a58b4" fill-opacity="0.85" transform="rotate(119 168.6 201.0)"/>
<ellipse cx="182.5" cy="219.2" rx="0.88" ry="0.91" fill="#9262bc" fill-opacity="0.85" transform="rotate(89 182.5 219.2)"/>
<ellipse cx="170.7" cy="206.5" rx="0.47" ry="0.49" fill="#9262bc" fill-opacity="0.85" transform="rotate(98 170.7 206.5)"/>
<ellipse cx="169.8" cy="208.5" rx="0.52" ry="0.54" fill="#8a58b4" fill-opacity="0.85" transform="rotate(36 169.8 208.5)"/>
<ellipse cx="148.2" cy="198.4" rx="0.36" ry="0.37" fill="#a07cc6" fill-opacity="0.85" transform="rotate(167 148.2 198.4)"/>
<ellipse cx="149.3" cy="200.5" rx="0.30" ry="0.40" fill="#8a58b4" fill-opacity="0.85" transform="rotate(165 149.3 200.5)"/>
<ellipse cx="178.1" cy="221.7" rx="0.81" ry="0.66" fill="#8a58b4" fill-opacity="0.85" transform="rotate(152 178.1 221.7)"/>
<ellipse cx="176.1" cy="224.6" rx="0.49" ry="0.65" fill="#9262bc" fill-opacity="0.85" transform="rotate(3 176.1 224.6)"/>
<ellipse cx="175.9" cy="193.1" rx="0.77" ry="0.54" fill="#9262bc" fill-opacity="0.85" transform="rotate(94 175.9 193.1)"/>
<ellipse cx="184.6" cy="215.8" rx="0.82" ry="0.97" fill="#9262bc" fill-opacity="0.85" transform="rotate(14 184.6 215.8)"/>
</g>
<circle cx="165.3" cy="208.6" r="23.10" fill="none" stroke="#c4c4c4" stroke-width="0.7"/>
<circle cx="215.90" cy="208.80" r="23.30" fill="#d4d4d4"/>
<circle cx="215.90" cy="208.80" r="22.50" fill="#e2e2e2"/>
<g clip-path="url(#cp4)" filter="url(#pb)">
<ellipse cx="210.5" cy="207.9" rx="0.55" ry="0.48" fill="#a07cc6" fill-opacity="0.75" transform="rotate(60 210.5 207.9)"/>
<ellipse cx="209.6" cy="217.4" rx="0.45" ry="0.37" fill="#9262bc" fill-opacity="0.75" transform="rotate(63 209.6 217.4)"/>
<ellipse cx="197.4" cy="210.9" rx="0.38" ry="0.34" fill="#7a44a8" fill-opacity="0.75" transform="rotate(149 197.4 210.9)"/>
<ellipse cx="204.8" cy="212.6" rx="0.41" ry="0.34" fill="#8450b0" fill-opacity="0.75" transform="rotate(61 204.8 212.6)"/>
<ellipse cx="221.6" cy="225.6" rx="0.20" ry="0.18" fill="#9262bc" fill-opacity="0.75" transform="rotate(137 221.6 225.6)"/>
<ellipse cx="228.5" cy="227.3" rx="0.17" ry="0.14" fill="#8a58b4" fill-opacity="0.75" transform="rotate(92 228.5 227.3)"/>
<ellipse cx="226.6" cy="190.4" rx="0.41" ry="0.36" fill="#7a44a8" fill-opacity="0.75" transform="rotate(33 226.6 190.4)"/>
<ellipse cx="209.8" cy="220.5" rx="0.33" ry="0.41" fill="#a07cc6" fill-opacity="0.75" transform="rotate(57 209.8 220.5)"/>
<ellipse cx="225.7" cy="227.9" rx="0.24" ry="0.19" fill="#9262bc" fill-opacity="0.75" transform="rotate(17 225.7 227.9)"/>
<ellipse cx="225.2" cy="218.1" rx="0.39" ry="0.55" fill="#8a58b4" fill-opacity="0.75" transform="rotate(114 225.2 218.1)"/>
<ellipse cx="216.6" cy="213.9" rx="0.41" ry="0.44" fill="#8a58b4" fill-opacity="0.75" transform="rotate(44 216.6 213.9)"/>
<ellipse cx="234.1" cy="207.0" rx="0.19" ry="0.25" fill="#7a44a8" fill-opacity="0.75" transform="rotate(119 234.1 207.0)"/>
<ellipse cx="238.2" cy="212.1" rx="0.36" ry="0.30" fill="#a07cc6" fill-opacity="0.75" transform="rotate(16 238.2 212.1)"/>
<ellipse cx="232.4" cy="198.2" rx="0.22" ry="0.17" fill="#7a44a8" fill-opacity="0.75" transform="rotate(131 232.4 198.2)"/>
<ellipse cx="213.5" cy="188.3" rx="0.49" ry="0.39" fill="#a07cc6" fill-opacity="0.75" transform="rotate(24 213.5 188.3)"/>
<ellipse cx="236.0" cy="205.4" rx="0.63" ry="0.46" fill="#8a58b4" fill-opacity="0.75" transform="rotate(112 236.0 205.4)"/>
<ellipse cx="194.7" cy="208.5" rx="0.38" ry="0.29" fill="#7a44a8" fill-opacity="0.75" transform="rotate(124 194.7 208.5)"/>
<ellipse cx="195.5" cy="204.8" rx="0.38" ry="0.26" fill="#8a58b4" fill-opacity="0.75" transform="rotate(159 195.5 204.8)"/>
<ellipse cx="230.9" cy="224.7" rx="0.52" ry="0.59" fill="#8a58b4" fill-opacity="0.75" transform="rotate(104 230.9 224.7)"/>
<ellipse cx="210.5" cy="195.7" rx="0.30" ry="0.37" fill="#8a58b4" fill-opacity="0.75" transform="rotate(25 210.5 195.7)"/>
<ellipse cx="212.5" cy="217.3" rx="0.22" ry="0.19" fill="#7a44a8" fill-opacity="0.75" transform="rotate(103 212.5 217.3)"/>
<ellipse cx="235.9" cy="203.2" rx="0.25" ry="0.22" fill="#7a44a8" fill-opacity="0.75" transform="rotate(114 235.9 203.2)"/>
<ellipse cx="223.6" cy="202.0" rx="0.32" ry="0.33" fill="#8a58b4" fill-opacity="0.75" transform="rotate(178 223.6 202.0)"/>
<ellipse cx="234.1" cy="197.3" rx="0.63" ry="0.58" fill="#8450b0" fill-opacity="0.75" transform="rotate(130 234.1 197.3)"/>
<ellipse cx="234.6" cy="216.4" rx="0.45" ry="0.39" fill="#8450b0" fill-opacity="0.75" transform="rotate(8 234.6 216.4)"/>
<ellipse cx="219.7" cy="222.2" rx="0.20" ry="0.26" fill="#a07cc6" fill-opacity="0.75" transform="rotate(9 219.7 222.2)"/>
<ellipse cx="209.0" cy="191.9" rx="0.39" ry="0.34" fill="#8a58b4" fill-opacity="0.75" transform="rotate(10 209.0 191.9)"/>
<ellipse cx="218.3" cy="229.4" rx="0.30" ry="0.28" fill="#7a44a8" fill-opacity="0.75" transform="rotate(91 218.3 229.4)"/>
<ellipse cx="224.3" cy="199.8" rx="0.27" ry="0.23" fill="#9262bc" fill-opacity="0.75" transform="rotate(64 224.3 199.8)"/>
<ellipse cx="210.6" cy="203.6" rx="0.34" ry="0.31" fill="#a07cc6" fill-opacity="0.75" transform="rotate(117 210.6 203.6)"/>
<ellipse cx="198.3" cy="223.6" rx="0.63" ry="0.51" fill="#9262bc" fill-opacity="0.75" transform="rotate(177 198.3 223.6)"/>
<ellipse cx="233.8" cy="221.9" rx="0.46" ry="0.37" fill="#8a58b4" fill-opacity="0.75" transform="rotate(157 233.8 221.9)"/>
<ellipse cx="222.9" cy="199.0" rx="0.43" ry="0.39" fill="#7a44a8" fill-opacity="0.75" transform="rotate(113 222.9 199.0)"/>
<ellipse cx="212.0" cy="214.7" rx="0.29" ry="0.32" fill="#7a44a8" fill-opacity="0.75" transform="rotate(113 212.0 214.7)"/>
<ellipse cx="216.4" cy="208.5" rx="0.23" ry="0.24" fill="#a07cc6" fill-opacity="0.75" transform="rotate(117 216.4 208.5)"/>
<ellipse cx="206.8" cy="188.4" rx="0.31" ry="0.21" fill="#7a44a8" fill-opacity="0.75" transform="rotate(108 206.8 188.4)"/>
<ellipse cx="213.7" cy="205.5" rx="0.42" ry="0.29" fill="#7a44a8" fill-opacity="0.75" transform="rotate(100 213.7 205.5)"/>
<ellipse cx="211.3" cy="188.2" rx="0.26" ry="0.22" fill="#7a44a8" fill-opacity="0.75" transform="rotate(49 211.3 188.2)"/>
<ellipse cx="213.1" cy="219.5" rx="0.37" ry="0.34" fill="#8a58b4" fill-opacity="0.75" transform="rotate(89 213.1 219.5)"/>
<ellipse cx="233.9" cy="207.3" rx="0.27" ry="0.29" fill="#8450b0" fill-opacity="0.75" transform="rotate(3 233.9 207.3)"/>
<ellipse cx="211.7" cy="208.3" rx="0.21" ry="0.21" fill="#a07cc6" fill-opacity="0.75" transform="rotate(14 211.7 208.3)"/>
<ellipse cx="211.9" cy="207.9" rx="0.18" ry="0.21" fill="#9262bc" fill-opacity="0.75" transform="rotate(99 211.9 207.9)"/>
<ellipse cx="227.4" cy="209.1" rx="0.47" ry="0.41" fill="#8a58b4" fill-opacity="0.75" transform="rotate(152 227.4 209.1)"/>
<ellipse cx="207.7" cy="227.0" rx="0.66" ry="0.63" fill="#8a58b4" fill-opacity="0.75" transform="rotate(142 207.7 227.0)"/>
<ellipse cx="211.4" cy="194.3" rx="0.51" ry="0.39" fill="#8450b0" fill-opacity="0.75" transform="rotate(40 211.4 194.3)"/>
<ellipse cx="204.3" cy="192.5" rx="0.31" ry="0.28" fill="#9262bc" fill-opacity="0.75" transform="rotate(138 204.3 192.5)"/>
<ellipse cx="236.9" cy="202.4" rx="0.30" ry="0.26" fill="#8450b0" fill-opacity="0.75" transform="rotate(2 236.9 202.4)"/>
<ellipse cx="210.4" cy="220.4" rx="0.31" ry="0.30" fill="#8450b0" fill-opacity="0.75" transform="rotate(164 210.4 220.4)"/>
<ellipse cx="225.3" cy="217.0" rx="0.41" ry="0.36" fill="#8450b0" fill-opacity="0.75" transform="rotate(157 225.3 217.0)"/>
<ellipse cx="196.2" cy="205.0" rx="0.52" ry="0.51" fill="#7a44a8" fill-opacity="0.75" transform="rotate(28 196.2 205.0)"/>
<ellipse cx="235.1" cy="212.5" rx="0.43" ry="0.55" fill="#7a44a8" fill-opacity="0.75" transform="rotate(30 235.1 212.5)"/>
<ellipse cx="226.5" cy="224.4" rx="0.37" ry="0.48" fill="#9262bc" fill-opacity="0.75" transform="rotate(89 226.5 224.4)"/>
<ellipse cx="213.9" cy="206.2" rx="0.37" ry="0.32" fill="#8450b0" fill-opacity="0.75" transform="rotate(80 213.9 206.2)"/>
<ellipse cx="206.3" cy="214.7" rx="0.48" ry="0.57" fill="#8450b0" fill-opacity="0.75" transform="rotate(149 206.3 214.7)"/>
<ellipse cx="227.6" cy="213.3" rx="0.36" ry="0.39" fill="#a07cc6" fill-opacity="0.75" transform="rotate(162 227.6 213.3)"/>
<ellipse cx="200.8" cy="203.1" rx="0.47" ry="0.45" fill="#8450b0" fill-opacity="0.75" transform="rotate(41 200.8 203.1)"/>
<ellipse cx="217.3" cy="205.5" rx="0.21" ry="0.19" fill="#8450b0" fill-opacity="0.75" transform="rotate(155 217.3 205.5)"/>
<ellipse cx="217.2" cy="228.8" rx="0.38" ry="0.33" fill="#8450b0" fill-opacity="0.75" transform="rotate(17 217.2 228.8)"/>
<ellipse cx="202.4" cy="195.3" rx="0.30" ry="0.25" fill="#8a58b4" fill-opacity="0.75" transform="rotate(85 202.4 195.3)"/>
<ellipse cx="229.4" cy="214.1" rx="0.29" ry="0.28" fill="#a07cc6" fill-opacity="0.75" transform="rotate(109 229.4 214.1)"/>
<ellipse cx="200.3" cy="211.0" rx="0.45" ry="0.46" fill="#8a58b4" fill-opacity="0.75" transform="rotate(90 200.3 211.0)"/>
<ellipse cx="203.3" cy="194.2" rx="0.37" ry="0.41" fill="#a07cc6" fill-opacity="0.75" transform="rotate(97 203.3 194.2)"/>
<ellipse cx="196.8" cy="197.8" rx="0.39" ry="0.47" fill="#a07cc6" fill-opacity="0.75" transform="rotate(47 196.8 197.8)"/>
<ellipse cx="209.9" cy="229.9" rx="0.25" ry="0.24" fill="#a07cc6" fill-opacity="0.75" transform="rotate(67 209.9 229.9)"/>
<ellipse cx="228.6" cy="216.2" rx="0.37" ry="0.43" fill="#8a58b4" fill-opacity="0.75" transform="rotate(16 228.6 216.2)"/>
<ellipse cx="205.6" cy="225.6" rx="0.53" ry="0.47" fill="#a07cc6" fill-opacity="0.75" transform="rotate(91 205.6 225.6)"/>
<ellipse cx="215.9" cy="209.0" rx="0.29" ry="0.30" fill="#9262bc" fill-opacity="0.75" transform="rotate(83 215.9 209.0)"/>
<ellipse cx="217.5" cy="186.0" rx="0.51" ry="0.44" fill="#8450b0" fill-opacity="0.75" transform="rotate(107 217.5 186.0)"/>
<ellipse cx="197.0" cy="214.0" rx="0.28" ry="0.24" fill="#8a58b4" fill-opacity="0.75" transform="rotate(98 197.0 214.0)"/>
<ellipse cx="219.3" cy="208.2" rx="0.35" ry="0.36" fill="#8a58b4" fill-opacity="0.75" transform="rotate(83 219.3 208.2)"/>
<ellipse cx="216.1" cy="205.6" rx="0.44" ry="0.40" fill="#9262bc" fill-opacity="0.75" transform="rotate(62 216.1 205.6)"/>
<ellipse cx="198.6" cy="218.1" rx="0.23" ry="0.19" fill="#8a58b4" fill-opacity="0.75" transform="rotate(121 198.6 218.1)"/>
<ellipse cx="221.3" cy="205.4" rx="0.30" ry="0.25" fill="#8a58b4" fill-opacity="0.75" transform="rotate(57 221.3 205.4)"/>
<ellipse cx="203.5" cy="202.9" rx="0.55" ry="0.51" fill="#a07cc6" fill-opacity="0.75" transform="rotate(65 203.5 202.9)"/>
<ellipse cx="215.4" cy="193.7" rx="0.47" ry="0.45" fill="#7a44a8" fill-opacity="0.75" transform="rotate(160 215.4 193.7)"/>
<ellipse cx="201.5" cy="210.6" rx="0.51" ry="0.34" fill="#8a58b4" fill-opacity="0.75" transform="rotate(131 201.5 210.6)"/>
<ellipse cx="209.5" cy="212.5" rx="0.47" ry="0.30" fill="#a07cc6" fill-opacity="0.75" transform="rotate(102 209.5 212.5)"/>
<ellipse cx="228.1" cy="194.7" rx="0.50" ry="0.38" fill="#a07cc6" fill-opacity="0.75" transform="rotate(141 228.1 194.7)"/>
<ellipse cx="217.8" cy="209.9" rx="0.34" ry="0.44" fill="#8a58b4" fill-opacity="0.75" transform="rotate(40 217.8 209.9)"/>
<ellipse cx="228.4" cy="222.2" rx="0.29" ry="0.32" fill="#8a58b4" fill-opacity="0.75" transform="rotate(48 228.4 222.2)"/>
<ellipse cx="225.4" cy="206.1" rx="0.46" ry="0.33" fill="#8a58b4" fill-opacity="0.75" transform="rotate(149 225.4 206.1)"/>
<ellipse cx="197.6" cy="212.3" rx="0.20" ry="0.22" fill="#8450b0" fill-opacity="0.75" transform="rotate(42 197.6 212.3)"/>
<ellipse cx="228.0" cy="205.6" rx="0.38" ry="0.44" fill="#9262bc" fill-opacity="0.75" transform="rotate(63 228.0 205.6)"/>
<ellipse cx="221.8" cy="192.5" rx="0.26" ry="0.28" fill="#a07cc6" fill-opacity="0.75" transform="rotate(49 221.8 192.5)"/>
<ellipse cx="234.0" cy="214.1" rx="0.35" ry="0.30" fill="#8450b0" fill-opacity="0.75" transform="rotate(96 234.0 214.1)"/>
<ellipse cx="205.6" cy="229.0" rx="0.43" ry="0.25" fill="#9262bc" fill-opacity="0.75" transform="rotate(88 205.6 229.0)"/>
<ellipse cx="207.5" cy="215.8" rx="0.29" ry="0.35" fill="#a07cc6" fill-opacity="0.75" transform="rotate(37 207.5 215.8)"/>
<ellipse cx="237.7" cy="210.6" rx="0.21" ry="0.17" fill="#8a58b4" fill-opacity="0.75" transform="rotate(26 237.7 210.6)"/>
<ellipse cx="221.3" cy="214.1" rx="0.54" ry="0.38" fill="#a07cc6" fill-opacity="0.75" transform="rotate(164 221.3 214.1)"/>
<ellipse cx="224.6" cy="225.6" rx="0.52" ry="0.30" fill="#9262bc" fill-opacity="0.75" transform="rotate(12 224.6 225.6)"/>
<ellipse cx="222.1" cy="230.9" rx="0.42" ry="0.47" fill="#8450b0" fill-opacity="0.75" transform="rotate(170 222.1 230.9)"/>
<ellipse cx="227.8" cy="211.0" rx="0.42" ry="0.34" fill="#a07cc6" fill-opacity="0.75" transform="rotate(12 227.8 211.0)"/>
<ellipse cx="201.0" cy="221.3" rx="0.52" ry="0.56" fill="#9262bc" fill-opacity="0.75" transform="rotate(74 201.0 221.3)"/>
<ellipse cx="211.6" cy="192.6" rx="0.30" ry="0.27" fill="#9262bc" fill-opacity="0.75" transform="rotate(43 211.6 192.6)"/>
<ellipse cx="204.2" cy="205.6" rx="0.67" ry="0.61" fill="#a07cc6" fill-opacity="0.75" transform="rotate(99 204.2 205.6)"/>
<ellipse cx="197.3" cy="217.0" rx="0.40" ry="0.34" fill="#9262bc" fill-opacity="0.75" transform="rotate(130 197.3 217.0)"/>
<ellipse cx="225.9" cy="202.1" rx="0.26" ry="0.26" fill="#7a44a8" fill-opacity="0.75" transform="rotate(53 225.9 202.1)"/>
<ellipse cx="214.0" cy="208.6" rx="0.35" ry="0.42" fill="#8a58b4" fill-opacity="0.75" transform="rotate(24 214.0 208.6)"/>
<ellipse cx="207.4" cy="210.5" rx="0.36" ry="0.24" fill="#7a44a8" fill-opacity="0.75" transform="rotate(133 207.4 210.5)"/>
<ellipse cx="215.0" cy="195.0" rx="0.45" ry="0.41" fill="#8a58b4" fill-opacity="0.75" transform="rotate(132 215.0 195.0)"/>
<ellipse cx="210.3" cy="226.8" rx="0.45" ry="0.37" fill="#8a58b4" fill-opacity="0.75" transform="rotate(122 210.3 226.8)"/>
<ellipse cx="203.7" cy="210.8" rx="0.56" ry="0.42" fill="#7a44a8" fill-opacity="0.75" transform="rotate(179 203.7 210.8)"/>
<ellipse cx="210.9" cy="200.1" rx="0.33" ry="0.46" fill="#9262bc" fill-opacity="0.75" transform="rotate(3 210.9 200.1)"/>
<ellipse cx="198.3" cy="195.8" rx="0.41" ry="0.35" fill="#8a58b4" fill-opacity="0.75" transform="rotate(138 198.3 195.8)"/>
<ellipse cx="196.1" cy="209.9" rx="0.56" ry="0.40" fill="#8a58b4" fill-opacity="0.75" transform="rotate(92 196.1 209.9)"/>
<ellipse cx="232.5" cy="220.9" rx="0.49" ry="0.33" fill="#a07cc6" fill-opacity="0.75" transform="rotate(1 232.5 220.9)"/>
<ellipse cx="208.5" cy="212.0" rx="0.39" ry="0.26" fill="#a07cc6" fill-opacity="0.75" transform="rotate(160 208.5 212.0)"/>
<ellipse cx="199.4" cy="203.9" rx="0.45" ry="0.35" fill="#8a58b4" fill-opacity="0.75" transform="rotate(143 199.4 203.9)"/>
<ellipse cx="212.8" cy="209.0" rx="0.63" ry="0.55" fill="#7a44a8" fill-opacity="0.75" transform="rotate(66 212.8 209.0)"/>
<ellipse cx="234.6" cy="212.0" rx="0.29" ry="0.20" fill="#7a44a8" fill-opacity="0.75" transform="rotate(116 234.6 212.0)"/>
<ellipse cx="216.9" cy="196.3" rx="0.22" ry="0.20" fill="#9262bc" fill-opacity="0.75" transform="rotate(10 216.9 196.3)"/>
<ellipse cx="230.2" cy="195.8" rx="0.33" ry="0.26" fill="#8a58b4" fill-opacity="0.75" transform="rotate(22 230.2 195.8)"/>
<ellipse cx="202.7" cy="206.6" rx="0.23" ry="0.27" fill="#8450b0" fill-opacity="0.75" transform="rotate(102 202.7 206.6)"/>
<ellipse cx="227.2" cy="197.3" rx="0.63" ry="0.45" fill="#a07cc6" fill-opacity="0.75" transform="rotate(117 227.2 197.3)"/>
<ellipse cx="195.6" cy="204.1" rx="0.50" ry="0.38" fill="#8450b0" fill-opacity="0.75" transform="rotate(47 195.6 204.1)"/>
<ellipse cx="214.3" cy="210.3" rx="0.55" ry="0.48" fill="#8450b0" fill-opacity="0.75" transform="rotate(137 214.3 210.3)"/>
<ellipse cx="228.3" cy="225.8" rx="0.43" ry="0.40" fill="#8a58b4" fill-opacity="0.75" transform="rotate(38 228.3 225.8)"/>
<ellipse cx="213.7" cy="190.1" rx="0.22" ry="0.17" fill="#7a44a8" fill-opacity="0.75" transform="rotate(96 213.7 190.1)"/>
<ellipse cx="230.5" cy="210.0" rx="0.26" ry="0.23" fill="#8450b0" fill-opacity="0.75" transform="rotate(0 230.5 210.0)"/>
<ellipse cx="227.0" cy="204.3" rx="0.51" ry="0.42" fill="#8450b0" fill-opacity="0.75" transform="rotate(129 227.0 204.3)"/>
<ellipse cx="207.3" cy="189.6" rx="0.59" ry="0.42" fill="#9262bc" fill-opacity="0.75" transform="rotate(106 207.3 189.6)"/>
<ellipse cx="204.2" cy="197.1" rx="0.26" ry="0.32" fill="#a07cc6" fill-opacity="0.75" transform="rotate(32 204.2 197.1)"/>
<ellipse cx="201.0" cy="204.3" rx="0.31" ry="0.21" fill="#8a58b4" fill-opacity="0.75" transform="rotate(107 201.0 204.3)"/>
<ellipse cx="215.8" cy="217.3" rx="0.57" ry="0.41" fill="#9262bc" fill-opacity="0.75" transform="rotate(84 215.8 217.3)"/>
<ellipse cx="205.2" cy="210.6" rx="0.31" ry="0.25" fill="#8a58b4" fill-opacity="0.75" transform="rotate(133 205.2 210.6)"/>
<ellipse cx="201.8" cy="218.8" rx="0.35" ry="0.28" fill="#7a44a8" fill-opacity="0.75" transform="rotate(76 201.8 218.8)"/>
<ellipse cx="213.7" cy="230.6" rx="0.41" ry="0.45" fill="#a07cc6" fill-opacity="0.75" transform="rotate(10 213.7 230.6)"/>
<ellipse cx="202.7" cy="192.5" rx="0.41" ry="0.26" fill="#7a44a8" fill-opacity="0.75" transform="rotate(44 202.7 192.5)"/>
<ellipse cx="205.2" cy="199.9" rx="0.18" ry="0.21" fill="#8450b0" fill-opacity="0.75" transform="rotate(46 205.2 199.9)"/>
<ellipse cx="217.5" cy="195.3" rx="0.36" ry="0.34" fill="#7a44a8" fill-opacity="0.75" transform="rotate(37 217.5 195.3)"/>
</g>
<circle cx="215.9" cy="208.8" r="23.00" fill="none" stroke="#c4c4c4" stroke-width="0.7"/>
<text x="1.75" y="240.95" font-size="9.30" fill="#222" textLength="55.75" lengthAdjust="spacingAndGlyphs">GEM (10 nM)</text>
<line x1="62.30" y1="237.60" x2="66.90" y2="237.60" stroke="#222" stroke-width="0.8"/>
<line x1="111.30" y1="237.60" x2="115.70" y2="237.60" stroke="#222" stroke-width="0.9"/>
<line x1="113.50" y1="235.40" x2="113.50" y2="239.80" stroke="#222" stroke-width="0.9"/>
<line x1="163.00" y1="237.60" x2="167.60" y2="237.60" stroke="#222" stroke-width="0.8"/>
<line x1="213.30" y1="237.60" x2="217.70" y2="237.60" stroke="#222" stroke-width="0.9"/>
<line x1="215.50" y1="235.40" x2="215.50" y2="239.80" stroke="#222" stroke-width="0.9"/>
<text x="4.40" y="253.35" font-size="9.30" fill="#222" textLength="53.10" lengthAdjust="spacingAndGlyphs">8a (6.25 μM)</text>
<line x1="62.30" y1="250.00" x2="66.90" y2="250.00" stroke="#222" stroke-width="0.8"/>
<line x1="111.20" y1="250.00" x2="115.80" y2="250.00" stroke="#222" stroke-width="0.8"/>
<line x1="163.10" y1="250.00" x2="167.50" y2="250.00" stroke="#222" stroke-width="0.9"/>
<line x1="165.30" y1="247.80" x2="165.30" y2="252.20" stroke="#222" stroke-width="0.9"/>
<line x1="213.30" y1="250.00" x2="217.70" y2="250.00" stroke="#222" stroke-width="0.9"/>
<line x1="215.50" y1="247.80" x2="215.50" y2="252.20" stroke="#222" stroke-width="0.9"/>
<rect x="119.60" y="297.48" width="15.90" height="92.82" fill="#a09fa6" stroke="#000" stroke-width="1.3"/>
<line x1="127.55" y1="294.91" x2="127.55" y2="296.88" stroke="#b400f0" stroke-width="0.9"/>
<line x1="124.55" y1="294.91" x2="130.55" y2="294.91" stroke="#b400f0" stroke-width="0.9"/>
<circle cx="121.55" cy="298.02" r="1.45" fill="#b400f0"/>
<circle cx="127.55" cy="296.10" r="1.45" fill="#b400f0"/>
<circle cx="133.55" cy="296.20" r="1.45" fill="#b400f0"/>
<rect x="145.80" y="325.04" width="15.40" height="65.26" fill="#a09fa6" stroke="#000" stroke-width="1.3"/>
<line x1="153.50" y1="321.69" x2="153.50" y2="324.44" stroke="#b400f0" stroke-width="0.9"/>
<line x1="150.50" y1="321.69" x2="156.50" y2="321.69" stroke="#b400f0" stroke-width="0.9"/>
<circle cx="147.50" cy="324.14" r="1.45" fill="#b400f0"/>
<circle cx="153.50" cy="321.52" r="1.45" fill="#b400f0"/>
<circle cx="159.50" cy="324.45" r="1.45" fill="#b400f0"/>
<text x="154.30" y="322.80" font-size="9.60" text-anchor="middle" font-weight="bold" fill="#111" letter-spacing="1.6">**</text>
<rect x="172.20" y="338.96" width="15.20" height="51.34" fill="#a09fa6" stroke="#000" stroke-width="1.3"/>
<line x1="179.80" y1="336.34" x2="179.80" y2="338.36" stroke="#b400f0" stroke-width="0.9"/>
<line x1="176.80" y1="336.34" x2="182.80" y2="336.34" stroke="#b400f0" stroke-width="0.9"/>
<circle cx="173.80" cy="338.56" r="1.45" fill="#b400f0"/>
<circle cx="179.80" cy="341.33" r="1.45" fill="#b400f0"/>
<circle cx="185.80" cy="337.27" r="1.45" fill="#b400f0"/>
<text x="180.60" y="336.72" font-size="9.60" text-anchor="middle" font-weight="bold" fill="#111" letter-spacing="1.6">**</text>
<rect x="198.40" y="383.89" width="14.90" height="6.41" fill="#a09fa6" stroke="#000" stroke-width="1.3"/>
<line x1="205.85" y1="380.12" x2="205.85" y2="383.29" stroke="#b400f0" stroke-width="0.9"/>
<line x1="202.85" y1="380.12" x2="208.85" y2="380.12" stroke="#b400f0" stroke-width="0.9"/>
<circle cx="199.85" cy="384.22" r="1.45" fill="#b400f0"/>
<circle cx="205.85" cy="384.13" r="1.45" fill="#b400f0"/>
<circle cx="211.85" cy="381.25" r="1.45" fill="#b400f0"/>
<text x="205.85" y="378.94" font-size="6.80" text-anchor="middle" fill="#222">###</text>
<line x1="110.50" y1="390.90" x2="110.50" y2="278.20" stroke="#1a1a1a" stroke-width="1.2"/>
<line x1="106.50" y1="390.30" x2="110.50" y2="390.30" stroke="#1a1a1a" stroke-width="1.2"/>
<text x="104.40" y="393.32" font-size="8.40" text-anchor="end" font-weight="bold">0</text>
<line x1="106.50" y1="352.93" x2="110.50" y2="352.93" stroke="#1a1a1a" stroke-width="1.2"/>
<text x="104.40" y="355.96" font-size="8.40" text-anchor="end" font-weight="bold">40</text>
<line x1="106.50" y1="315.57" x2="110.50" y2="315.57" stroke="#1a1a1a" stroke-width="1.2"/>
<text x="104.40" y="318.59" font-size="8.40" text-anchor="end" font-weight="bold">80</text>
<line x1="106.50" y1="278.20" x2="110.50" y2="278.20" stroke="#1a1a1a" stroke-width="1.2"/>
<text x="104.40" y="281.22" font-size="8.40" text-anchor="end" font-weight="bold">120</text>
<line x1="110.50" y1="390.30" x2="223.00" y2="390.30" stroke="#1a1a1a" stroke-width="1.2"/>
<line x1="127.90" y1="390.30" x2="127.90" y2="393.80" stroke="#1a1a1a" stroke-width="1.2"/>
<line x1="153.60" y1="390.30" x2="153.60" y2="393.80" stroke="#1a1a1a" stroke-width="1.2"/>
<line x1="179.80" y1="390.30" x2="179.80" y2="393.80" stroke="#1a1a1a" stroke-width="1.2"/>
<line x1="205.50" y1="390.30" x2="205.50" y2="393.80" stroke="#1a1a1a" stroke-width="1.2"/>
<text x="85.35" y="334.25" font-size="8.50" text-anchor="middle" transform="rotate(-90 85.35 334.25)" font-weight="bold" textLength="121.50" lengthAdjust="spacingAndGlyphs">Colony numbers(% of control)</text>
<text x="68.30" y="404.02" font-size="8.40" font-weight="bold" fill="#111" textLength="50.80" lengthAdjust="spacingAndGlyphs">GEM (10 nM)</text>
<line x1="125.60" y1="401.00" x2="130.20" y2="401.00" stroke="#111" stroke-width="1.0"/>
<line x1="151.30" y1="401.00" x2="155.70" y2="401.00" stroke="#111" stroke-width="1.1"/>
<line x1="153.50" y1="398.80" x2="153.50" y2="403.20" stroke="#111" stroke-width="1.1"/>
<line x1="177.40" y1="401.00" x2="182.00" y2="401.00" stroke="#111" stroke-width="1.0"/>
<line x1="203.80" y1="401.00" x2="208.20" y2="401.00" stroke="#111" stroke-width="1.1"/>
<line x1="206.00" y1="398.80" x2="206.00" y2="403.20" stroke="#111" stroke-width="1.1"/>
<text x="71.80" y="413.82" font-size="8.40" font-weight="bold" fill="#111" textLength="47.30" lengthAdjust="spacingAndGlyphs">8a (6.25 μM)</text>
<line x1="125.60" y1="410.80" x2="130.20" y2="410.80" stroke="#111" stroke-width="1.0"/>
<line x1="151.20" y1="410.80" x2="155.80" y2="410.80" stroke="#111" stroke-width="1.0"/>
<line x1="177.50" y1="410.80" x2="181.90" y2="410.80" stroke="#111" stroke-width="1.1"/>
<line x1="179.70" y1="408.60" x2="179.70" y2="413.00" stroke="#111" stroke-width="1.1"/>
<line x1="203.80" y1="410.80" x2="208.20" y2="410.80" stroke="#111" stroke-width="1.1"/>
<line x1="206.00" y1="408.60" x2="206.00" y2="413.00" stroke="#111" stroke-width="1.1"/>
<defs><filter id="bb" x="-30%" y="-150%" width="160%" height="400%"><feGaussianBlur stdDeviation="0.8 0.7"/></filter><filter id="bb2" x="-30%" y="-150%" width="160%" height="400%"><feGaussianBlur stdDeviation="1.4 1.2"/></filter><linearGradient id="bg" x1="0" y1="0" x2="0" y2="1"><stop offset="0" stop-color="#f3f3f3"/><stop offset="1" stop-color="#ececec"/></linearGradient></defs>
<text x="229.51" y="180.30" font-size="22.00" stroke="#fff" stroke-width="0.25">e</text>
<text x="247.20" y="187.40" font-size="8.90" fill="#333" textLength="53.20" lengthAdjust="spacingAndGlyphs">GEM (10 nM)</text>
<line x1="310.40" y1="184.20" x2="315.00" y2="184.20" stroke="#333" stroke-width="0.8"/>
<line x1="331.70" y1="184.20" x2="336.30" y2="184.20" stroke="#333" stroke-width="0.8"/>
<line x1="354.30" y1="184.20" x2="358.70" y2="184.20" stroke="#333" stroke-width="0.9"/>
<line x1="356.50" y1="182.00" x2="356.50" y2="186.40" stroke="#333" stroke-width="0.9"/>
<line x1="376.50" y1="184.20" x2="380.90" y2="184.20" stroke="#333" stroke-width="0.9"/>
<line x1="378.70" y1="182.00" x2="378.70" y2="186.40" stroke="#333" stroke-width="0.9"/>
<text x="250.00" y="197.60" font-size="8.90" fill="#333" textLength="50.40" lengthAdjust="spacingAndGlyphs">8a (6.25 μM)</text>
<line x1="310.40" y1="194.40" x2="315.00" y2="194.40" stroke="#333" stroke-width="0.8"/>
<line x1="331.80" y1="194.40" x2="336.20" y2="194.40" stroke="#333" stroke-width="0.9"/>
<line x1="334.00" y1="192.20" x2="334.00" y2="196.60" stroke="#333" stroke-width="0.9"/>
<line x1="354.20" y1="194.40" x2="358.80" y2="194.40" stroke="#333" stroke-width="0.8"/>
<line x1="376.50" y1="194.40" x2="380.90" y2="194.40" stroke="#333" stroke-width="0.9"/>
<line x1="378.70" y1="192.20" x2="378.70" y2="196.60" stroke="#333" stroke-width="0.9"/>
<rect x="298.30" y="200.80" width="94.50" height="22.70" fill="#f7f7f7" stroke="#707070" stroke-width="1.1"/>
<rect x="306.4" y="208.4" width="15.1" height="7.0" rx="3" fill="#000" fill-opacity="0.10" filter="url(#bb2)"/>
<rect x="307.9" y="210.4" width="12.1" height="3.0" rx="1.5" fill="#000" fill-opacity="0.95" filter="url(#bb)"/>
<rect x="327.6" y="208.8" width="15.1" height="6.5" rx="3" fill="#000" fill-opacity="0.03" filter="url(#bb2)"/>
<rect x="329.1" y="210.8" width="12.1" height="2.5" rx="1.2" fill="#000" fill-opacity="0.30" filter="url(#bb)"/>
<rect x="348.7" y="207.8" width="15.9" height="8.0" rx="3" fill="#000" fill-opacity="0.10" filter="url(#bb2)"/>
<rect x="350.2" y="209.8" width="12.9" height="4.0" rx="2.0" fill="#000" fill-opacity="1.00" filter="url(#bb)"/>
<rect x="371.4" y="209.0" width="15.8" height="6.0" rx="3" fill="#000" fill-opacity="0.01" filter="url(#bb2)"/>
<rect x="372.9" y="211.0" width="12.8" height="2.0" rx="1.0" fill="#000" fill-opacity="0.12" filter="url(#bb)"/>
<text x="263.40" y="215.69" font-size="9.00" fill="#222" textLength="33.90" lengthAdjust="spacingAndGlyphs">p-mTOR</text>
<rect x="298.30" y="226.00" width="94.50" height="21.80" fill="#f7f7f7" stroke="#707070" stroke-width="1.1"/>
<rect x="302.0" y="232.5" width="17.4" height="7.4" rx="3" fill="#000" fill-opacity="0.10" filter="url(#bb2)"/>
<rect x="303.5" y="234.5" width="14.4" height="3.4" rx="1.7" fill="#000" fill-opacity="0.95" filter="url(#bb)"/>
<rect x="325.8" y="233.6" width="17.2" height="7.4" rx="3" fill="#000" fill-opacity="0.09" filter="url(#bb2)"/>
<rect x="327.3" y="235.6" width="14.2" height="3.4" rx="1.7" fill="#000" fill-opacity="0.90" filter="url(#bb)"/>
<rect x="349.5" y="233.0" width="16.5" height="7.6" rx="3" fill="#000" fill-opacity="0.10" filter="url(#bb2)"/>
<rect x="351.0" y="235.0" width="13.5" height="3.6" rx="1.8" fill="#000" fill-opacity="0.95" filter="url(#bb)"/>
<rect x="372.8" y="231.8" width="17.4" height="7.6" rx="3" fill="#000" fill-opacity="0.10" filter="url(#bb2)"/>
<rect x="374.3" y="233.8" width="14.4" height="3.6" rx="1.8" fill="#000" fill-opacity="0.95" filter="url(#bb)"/>
<text x="272.00" y="240.44" font-size="9.00" fill="#222" textLength="25.30" lengthAdjust="spacingAndGlyphs">mTOR</text>
<rect x="298.30" y="250.00" width="94.50" height="22.50" fill="#f7f7f7" stroke="#707070" stroke-width="1.1"/>
<rect x="301.3" y="257.6" width="18.8" height="8.5" rx="3" fill="#000" fill-opacity="0.06" filter="url(#bb2)"/>
<rect x="302.8" y="259.6" width="15.8" height="4.5" rx="2.2" fill="#000" fill-opacity="0.55" filter="url(#bb)"/>
<rect x="352.4" y="257.5" width="18.1" height="8.0" rx="3" fill="#000" fill-opacity="0.06" filter="url(#bb2)"/>
<rect x="353.9" y="259.5" width="15.1" height="4.0" rx="2.0" fill="#000" fill-opacity="0.55" filter="url(#bb)"/>
<text x="271.40" y="264.79" font-size="9.00" fill="#222" textLength="25.90" lengthAdjust="spacingAndGlyphs">p-AKT</text>
<rect x="298.30" y="274.80" width="94.50" height="22.60" fill="#f7f7f7" stroke="#707070" stroke-width="1.1"/>
<rect x="301.3" y="281.6" width="21.0" height="10.0" rx="3" fill="#000" fill-opacity="0.10" filter="url(#bb2)"/>
<rect x="302.8" y="283.6" width="18.0" height="6.0" rx="3.0" fill="#000" fill-opacity="1.00" filter="url(#bb)"/>
<rect x="325.4" y="282.5" width="18.8" height="9.0" rx="3" fill="#000" fill-opacity="0.10" filter="url(#bb2)"/>
<rect x="326.9" y="284.5" width="15.8" height="5.0" rx="2.5" fill="#000" fill-opacity="1.00" filter="url(#bb)"/>
<rect x="348.7" y="281.4" width="19.6" height="10.0" rx="3" fill="#000" fill-opacity="0.10" filter="url(#bb2)"/>
<rect x="350.2" y="283.4" width="16.6" height="6.0" rx="3.0" fill="#000" fill-opacity="1.00" filter="url(#bb)"/>
<rect x="372.8" y="282.0" width="18.1" height="8.0" rx="3" fill="#000" fill-opacity="0.10" filter="url(#bb2)"/>
<rect x="374.3" y="284.0" width="15.1" height="4.0" rx="2.0" fill="#000" fill-opacity="0.95" filter="url(#bb)"/>
<text x="280.50" y="289.64" font-size="9.00" fill="#222" textLength="16.80" lengthAdjust="spacingAndGlyphs">AKT</text>
<rect x="298.30" y="299.60" width="94.50" height="22.30" fill="#f7f7f7" stroke="#707070" stroke-width="1.1"/>
<rect x="303.7" y="306.5" width="17.4" height="7.2" rx="3" fill="#000" fill-opacity="0.10" filter="url(#bb2)"/>
<rect x="305.2" y="308.5" width="14.4" height="3.2" rx="1.6" fill="#000" fill-opacity="0.95" filter="url(#bb)"/>
<rect x="326.2" y="307.2" width="16.9" height="6.8" rx="3" fill="#000" fill-opacity="0.05" filter="url(#bb2)"/>
<rect x="327.7" y="309.2" width="13.9" height="2.8" rx="1.4" fill="#000" fill-opacity="0.45" filter="url(#bb)"/>
<rect x="348.2" y="305.5" width="16.9" height="8.2" rx="3" fill="#000" fill-opacity="0.10" filter="url(#bb2)"/>
<rect x="349.7" y="307.5" width="13.9" height="4.2" rx="2.1" fill="#000" fill-opacity="1.00" filter="url(#bb)"/>
<rect x="370.9" y="306.5" width="16.9" height="6.2" rx="3" fill="#000" fill-opacity="0.01" filter="url(#bb2)"/>
<rect x="372.4" y="308.5" width="13.9" height="2.2" rx="1.1" fill="#000" fill-opacity="0.12" filter="url(#bb)"/>
<text x="257.90" y="314.29" font-size="9.00" fill="#222" textLength="39.40" lengthAdjust="spacingAndGlyphs">p-p70S6K</text>
<rect x="298.30" y="324.30" width="94.50" height="21.90" fill="#f7f7f7" stroke="#707070" stroke-width="1.1"/>
<rect x="300.0" y="331.3" width="17.2" height="8.6" rx="3" fill="#000" fill-opacity="0.09" filter="url(#bb2)"/>
<rect x="301.5" y="333.3" width="14.2" height="4.6" rx="2.3" fill="#000" fill-opacity="0.85" filter="url(#bb)"/>
<rect x="323.8" y="331.3" width="16.5" height="8.6" rx="3" fill="#000" fill-opacity="0.09" filter="url(#bb2)"/>
<rect x="325.3" y="333.3" width="13.5" height="4.6" rx="2.3" fill="#000" fill-opacity="0.90" filter="url(#bb)"/>
<rect x="347.4" y="331.5" width="16.4" height="8.2" rx="3" fill="#000" fill-opacity="0.08" filter="url(#bb2)"/>
<rect x="348.9" y="333.5" width="13.4" height="4.2" rx="2.1" fill="#000" fill-opacity="0.75" filter="url(#bb)"/>
<rect x="372.5" y="331.0" width="16.9" height="8.8" rx="3" fill="#000" fill-opacity="0.10" filter="url(#bb2)"/>
<rect x="374.0" y="333.0" width="13.9" height="4.8" rx="2.4" fill="#000" fill-opacity="0.98" filter="url(#bb)"/>
<text x="265.70" y="338.79" font-size="9.00" fill="#222" textLength="31.60" lengthAdjust="spacingAndGlyphs">p70S6K</text>
<rect x="298.30" y="348.30" width="94.50" height="21.90" fill="#f7f7f7" stroke="#707070" stroke-width="1.1"/>
<rect x="303.7" y="357.2" width="19.8" height="8.0" rx="3" fill="#000" fill-opacity="0.10" filter="url(#bb2)"/>
<rect x="305.2" y="359.2" width="16.8" height="4.0" rx="2.0" fill="#000" fill-opacity="1.00" filter="url(#bb)"/>
<rect x="303.7" y="353.4" width="19.8" height="6.5" rx="3" fill="#000" fill-opacity="0.06" filter="url(#bb2)"/>
<rect x="305.2" y="355.4" width="16.8" height="2.5" rx="1.2" fill="#000" fill-opacity="0.60" filter="url(#bb)"/>
<rect x="327.8" y="358.0" width="18.4" height="6.0" rx="3" fill="#000" fill-opacity="0.01" filter="url(#bb2)"/>
<rect x="329.3" y="360.0" width="15.4" height="2.0" rx="1.0" fill="#000" fill-opacity="0.10" filter="url(#bb)"/>
<rect x="327.8" y="354.0" width="18.4" height="5.6" rx="3" fill="#000" fill-opacity="0.01" filter="url(#bb2)"/>
<rect x="329.3" y="356.0" width="15.4" height="1.6" rx="0.8" fill="#000" fill-opacity="0.07" filter="url(#bb)"/>
<rect x="351.3" y="357.4" width="17.2" height="7.2" rx="3" fill="#000" fill-opacity="0.10" filter="url(#bb2)"/>
<rect x="352.8" y="359.4" width="14.2" height="3.2" rx="1.6" fill="#000" fill-opacity="1.00" filter="url(#bb)"/>
<rect x="351.3" y="353.5" width="17.2" height="6.4" rx="3" fill="#000" fill-opacity="0.06" filter="url(#bb2)"/>
<rect x="352.8" y="355.5" width="14.2" height="2.4" rx="1.2" fill="#000" fill-opacity="0.55" filter="url(#bb)"/>
<text x="271.00" y="362.79" font-size="9.00" fill="#222" textLength="26.30" lengthAdjust="spacingAndGlyphs">p-ERK</text>
<rect x="298.30" y="372.90" width="94.50" height="22.40" fill="#f7f7f7" stroke="#707070" stroke-width="1.1"/>
<rect x="303.4" y="381.0" width="17.7" height="7.2" rx="3" fill="#000" fill-opacity="0.10" filter="url(#bb2)"/>
<rect x="304.9" y="383.0" width="14.7" height="3.2" rx="1.6" fill="#000" fill-opacity="0.95" filter="url(#bb)"/>
<rect x="325.4" y="381.4" width="17.7" height="6.8" rx="3" fill="#000" fill-opacity="0.09" filter="url(#bb2)"/>
<rect x="326.9" y="383.4" width="14.7" height="2.8" rx="1.4" fill="#000" fill-opacity="0.90" filter="url(#bb)"/>
<rect x="347.8" y="381.1" width="18.1" height="7.3" rx="3" fill="#000" fill-opacity="0.10" filter="url(#bb2)"/>
<rect x="349.3" y="383.1" width="15.1" height="3.3" rx="1.6" fill="#000" fill-opacity="0.95" filter="url(#bb)"/>
<rect x="369.4" y="381.5" width="17.6" height="6.8" rx="3" fill="#000" fill-opacity="0.09" filter="url(#bb2)"/>
<rect x="370.9" y="383.5" width="14.6" height="2.8" rx="1.4" fill="#000" fill-opacity="0.85" filter="url(#bb)"/>
<text x="279.40" y="387.64" font-size="9.00" fill="#222" textLength="17.90" lengthAdjust="spacingAndGlyphs">ERK</text>
<rect x="298.30" y="397.50" width="94.50" height="23.10" fill="#f7f7f7" stroke="#707070" stroke-width="1.1"/>
<rect x="297.9" y="404.9" width="22.4" height="6.8" rx="3" fill="#000" fill-opacity="0.10" filter="url(#bb2)"/>
<rect x="299.4" y="406.9" width="19.4" height="2.8" rx="1.4" fill="#000" fill-opacity="0.95" filter="url(#bb)"/>
<rect x="323.0" y="405.0" width="20.9" height="6.8" rx="3" fill="#000" fill-opacity="0.10" filter="url(#bb2)"/>
<rect x="324.5" y="407.0" width="17.9" height="2.8" rx="1.4" fill="#000" fill-opacity="0.95" filter="url(#bb)"/>
<rect x="347.4" y="404.7" width="21.6" height="6.6" rx="3" fill="#000" fill-opacity="0.09" filter="url(#bb2)"/>
<rect x="348.9" y="406.7" width="18.6" height="2.6" rx="1.3" fill="#000" fill-opacity="0.85" filter="url(#bb)"/>
<rect x="372.5" y="404.8" width="20.8" height="7.0" rx="3" fill="#000" fill-opacity="0.10" filter="url(#bb2)"/>
<rect x="374.0" y="406.8" width="17.8" height="3.0" rx="1.5" fill="#000" fill-opacity="0.95" filter="url(#bb)"/>
<text x="268.40" y="412.59" font-size="9.00" fill="#222" textLength="28.90" lengthAdjust="spacingAndGlyphs">β-Actin</text>
<rect x="446.00" y="235.05" width="13.50" height="49.55" fill="#a09fa6" stroke="#000" stroke-width="1.3"/>
<line x1="452.75" y1="232.62" x2="452.75" y2="234.45" stroke="#b400f0" stroke-width="0.9"/>
<line x1="449.75" y1="232.62" x2="455.75" y2="232.62" stroke="#b400f0" stroke-width="0.9"/>
<circle cx="446.75" cy="236.02" r="1.45" fill="#b400f0"/>
<circle cx="452.75" cy="235.26" r="1.45" fill="#b400f0"/>
<circle cx="458.75" cy="233.39" r="1.45" fill="#b400f0"/>
<rect x="469.90" y="266.64" width="13.20" height="17.96" fill="#a09fa6" stroke="#000" stroke-width="1.3"/>
<line x1="476.50" y1="264.11" x2="476.50" y2="266.04" stroke="#b400f0" stroke-width="0.9"/>
<line x1="473.50" y1="264.11" x2="479.50" y2="264.11" stroke="#b400f0" stroke-width="0.9"/>
<circle cx="470.50" cy="267.92" r="1.45" fill="#b400f0"/>
<circle cx="476.50" cy="267.89" r="1.45" fill="#b400f0"/>
<circle cx="482.50" cy="265.08" r="1.45" fill="#b400f0"/>
<text x="477.30" y="264.40" font-size="9.60" text-anchor="middle" font-weight="bold" fill="#111" letter-spacing="1.6">**</text>
<rect x="492.40" y="210.98" width="13.50" height="73.62" fill="#a09fa6" stroke="#000" stroke-width="1.3"/>
<line x1="499.15" y1="207.87" x2="499.15" y2="210.38" stroke="#b400f0" stroke-width="0.9"/>
<line x1="496.15" y1="207.87" x2="502.15" y2="207.87" stroke="#b400f0" stroke-width="0.9"/>
<circle cx="493.15" cy="210.59" r="1.45" fill="#b400f0"/>
<circle cx="499.15" cy="207.40" r="1.45" fill="#b400f0"/>
<circle cx="505.15" cy="208.99" r="1.45" fill="#b400f0"/>
<text x="499.95" y="208.74" font-size="9.60" text-anchor="middle" font-weight="bold" fill="#111" letter-spacing="1.6">**</text>
<rect x="516.10" y="274.17" width="13.40" height="10.43" fill="#a09fa6" stroke="#000" stroke-width="1.3"/>
<line x1="522.80" y1="270.90" x2="522.80" y2="273.57" stroke="#b400f0" stroke-width="0.9"/>
<line x1="519.80" y1="270.90" x2="525.80" y2="270.90" stroke="#b400f0" stroke-width="0.9"/>
<circle cx="516.80" cy="273.27" r="1.45" fill="#b400f0"/>
<circle cx="522.80" cy="275.33" r="1.45" fill="#b400f0"/>
<circle cx="528.80" cy="271.76" r="1.45" fill="#b400f0"/>
<text x="522.80" y="269.21" font-size="6.80" text-anchor="middle" fill="#222">###</text>
<line x1="437.40" y1="285.20" x2="437.40" y2="184.30" stroke="#1a1a1a" stroke-width="1.2"/>
<line x1="433.40" y1="284.60" x2="437.40" y2="284.60" stroke="#1a1a1a" stroke-width="1.2"/>
<text x="431.60" y="287.48" font-size="8.00" text-anchor="end" font-weight="bold">0.0</text>
<line x1="433.40" y1="259.53" x2="437.40" y2="259.53" stroke="#1a1a1a" stroke-width="1.2"/>
<text x="431.60" y="262.41" font-size="8.00" text-anchor="end" font-weight="bold">0.5</text>
<line x1="433.40" y1="234.45" x2="437.40" y2="234.45" stroke="#1a1a1a" stroke-width="1.2"/>
<text x="431.60" y="237.33" font-size="8.00" text-anchor="end" font-weight="bold">1.0</text>
<line x1="433.40" y1="209.38" x2="437.40" y2="209.38" stroke="#1a1a1a" stroke-width="1.2"/>
<text x="431.60" y="212.25" font-size="8.00" text-anchor="end" font-weight="bold">1.5</text>
<line x1="433.40" y1="184.30" x2="437.40" y2="184.30" stroke="#1a1a1a" stroke-width="1.2"/>
<text x="431.60" y="187.18" font-size="8.00" text-anchor="end" font-weight="bold">2.0</text>
<line x1="437.40" y1="284.60" x2="537.80" y2="284.60" stroke="#1a1a1a" stroke-width="1.2"/>
<line x1="452.75" y1="284.60" x2="452.75" y2="288.10" stroke="#1a1a1a" stroke-width="1.2"/>
<line x1="476.50" y1="284.60" x2="476.50" y2="288.10" stroke="#1a1a1a" stroke-width="1.2"/>
<line x1="499.15" y1="284.60" x2="499.15" y2="288.10" stroke="#1a1a1a" stroke-width="1.2"/>
<line x1="522.80" y1="284.60" x2="522.80" y2="288.10" stroke="#1a1a1a" stroke-width="1.2"/>
<text x="407.45" y="233.40" font-size="8.50" text-anchor="middle" transform="rotate(-90 407.45 233.40)" font-weight="bold" textLength="108.40" lengthAdjust="spacingAndGlyphs">Relative protein expression</text>
<text x="416.65" y="233.35" font-size="8.50" text-anchor="middle" transform="rotate(-90 416.65 233.35)" font-weight="bold" textLength="64.70" lengthAdjust="spacingAndGlyphs">(p-mTOR/mTOR)</text>
<text x="399.90" y="298.52" font-size="8.40" font-weight="bold" fill="#111" textLength="47.50" lengthAdjust="spacingAndGlyphs">8a (6.25 μM)</text>
<line x1="450.50" y1="295.50" x2="455.10" y2="295.50" stroke="#111" stroke-width="1.0"/>
<line x1="474.30" y1="295.50" x2="478.70" y2="295.50" stroke="#111" stroke-width="1.1"/>
<line x1="476.50" y1="293.30" x2="476.50" y2="297.70" stroke="#111" stroke-width="1.1"/>
<line x1="496.90" y1="295.50" x2="501.50" y2="295.50" stroke="#111" stroke-width="1.0"/>
<line x1="520.60" y1="295.50" x2="525.00" y2="295.50" stroke="#111" stroke-width="1.1"/>
<line x1="522.80" y1="293.30" x2="522.80" y2="297.70" stroke="#111" stroke-width="1.1"/>
<text x="397.70" y="308.82" font-size="8.40" font-weight="bold" fill="#111" textLength="49.70" lengthAdjust="spacingAndGlyphs">GEM (10 nM)</text>
<line x1="450.50" y1="305.80" x2="455.10" y2="305.80" stroke="#111" stroke-width="1.0"/>
<line x1="474.20" y1="305.80" x2="478.80" y2="305.80" stroke="#111" stroke-width="1.0"/>
<line x1="497.00" y1="305.80" x2="501.40" y2="305.80" stroke="#111" stroke-width="1.1"/>
<line x1="499.20" y1="303.60" x2="499.20" y2="308.00" stroke="#111" stroke-width="1.1"/>
<line x1="520.60" y1="305.80" x2="525.00" y2="305.80" stroke="#111" stroke-width="1.1"/>
<line x1="522.80" y1="303.60" x2="522.80" y2="308.00" stroke="#111" stroke-width="1.1"/>
<rect x="591.00" y="219.73" width="13.40" height="65.27" fill="#a09fa6" stroke="#000" stroke-width="1.3"/>
<line x1="597.70" y1="215.72" x2="597.70" y2="219.13" stroke="#b400f0" stroke-width="0.9"/>
<line x1="594.70" y1="215.72" x2="600.70" y2="215.72" stroke="#b400f0" stroke-width="0.9"/>
<circle cx="591.70" cy="219.05" r="1.45" fill="#b400f0"/>
<circle cx="597.70" cy="216.28" r="1.45" fill="#b400f0"/>
<circle cx="603.70" cy="219.63" r="1.45" fill="#b400f0"/>
<rect x="614.00" y="262.88" width="13.40" height="22.12" fill="#a09fa6" stroke="#000" stroke-width="1.3"/>
<line x1="620.70" y1="260.41" x2="620.70" y2="262.28" stroke="#b400f0" stroke-width="0.9"/>
<line x1="617.70" y1="260.41" x2="623.70" y2="260.41" stroke="#b400f0" stroke-width="0.9"/>
<circle cx="614.70" cy="262.14" r="1.45" fill="#b400f0"/>
<circle cx="620.70" cy="263.18" r="1.45" fill="#b400f0"/>
<circle cx="626.70" cy="260.81" r="1.45" fill="#b400f0"/>
<text x="621.50" y="260.64" font-size="9.60" text-anchor="middle" font-weight="bold" fill="#111" letter-spacing="1.6">**</text>
<rect x="636.80" y="201.95" width="13.20" height="83.05" fill="#a09fa6" stroke="#000" stroke-width="1.3"/>
<line x1="643.40" y1="198.07" x2="643.40" y2="201.35" stroke="#b400f0" stroke-width="0.9"/>
<line x1="640.40" y1="198.07" x2="646.40" y2="198.07" stroke="#b400f0" stroke-width="0.9"/>
<circle cx="637.40" cy="201.54" r="1.45" fill="#b400f0"/>
<circle cx="643.40" cy="204.11" r="1.45" fill="#b400f0"/>
<circle cx="649.40" cy="199.81" r="1.45" fill="#b400f0"/>
<text x="644.20" y="199.71" font-size="9.60" text-anchor="middle" font-weight="bold" fill="#111" letter-spacing="1.6">*</text>
<rect x="660.00" y="254.25" width="13.00" height="30.75" fill="#a09fa6" stroke="#000" stroke-width="1.3"/>
<line x1="666.50" y1="250.95" x2="666.50" y2="253.65" stroke="#b400f0" stroke-width="0.9"/>
<line x1="663.50" y1="250.95" x2="669.50" y2="250.95" stroke="#b400f0" stroke-width="0.9"/>
<circle cx="660.50" cy="255.94" r="1.45" fill="#b400f0"/>
<circle cx="666.50" cy="254.76" r="1.45" fill="#b400f0"/>
<circle cx="672.50" cy="253.92" r="1.45" fill="#b400f0"/>
<text x="666.50" y="249.30" font-size="6.80" text-anchor="middle" fill="#222">##</text>
<line x1="582.80" y1="285.60" x2="582.80" y2="186.20" stroke="#1a1a1a" stroke-width="1.2"/>
<line x1="578.80" y1="285.00" x2="582.80" y2="285.00" stroke="#1a1a1a" stroke-width="1.2"/>
<text x="577.10" y="287.88" font-size="8.00" text-anchor="end" font-weight="bold">0.0</text>
<line x1="578.80" y1="252.07" x2="582.80" y2="252.07" stroke="#1a1a1a" stroke-width="1.2"/>
<text x="577.10" y="254.95" font-size="8.00" text-anchor="end" font-weight="bold">0.5</text>
<line x1="578.80" y1="219.13" x2="582.80" y2="219.13" stroke="#1a1a1a" stroke-width="1.2"/>
<text x="577.10" y="222.01" font-size="8.00" text-anchor="end" font-weight="bold">1.0</text>
<line x1="578.80" y1="186.20" x2="582.80" y2="186.20" stroke="#1a1a1a" stroke-width="1.2"/>
<text x="577.10" y="189.08" font-size="8.00" text-anchor="end" font-weight="bold">1.5</text>
<line x1="582.80" y1="285.00" x2="681.30" y2="285.00" stroke="#1a1a1a" stroke-width="1.2"/>
<line x1="597.70" y1="285.00" x2="597.70" y2="288.50" stroke="#1a1a1a" stroke-width="1.2"/>
<line x1="620.70" y1="285.00" x2="620.70" y2="288.50" stroke="#1a1a1a" stroke-width="1.2"/>
<line x1="643.40" y1="285.00" x2="643.40" y2="288.50" stroke="#1a1a1a" stroke-width="1.2"/>
<line x1="666.50" y1="285.00" x2="666.50" y2="288.50" stroke="#1a1a1a" stroke-width="1.2"/>
<text x="552.85" y="235.05" font-size="8.50" text-anchor="middle" transform="rotate(-90 552.85 235.05)" font-weight="bold" textLength="107.30" lengthAdjust="spacingAndGlyphs">Relative protein expression</text>
<text x="562.75" y="236.70" font-size="8.50" text-anchor="middle" transform="rotate(-90 562.75 236.70)" font-weight="bold" textLength="51.40" lengthAdjust="spacingAndGlyphs">(p-AKT/AKT)</text>
<text x="546.00" y="299.42" font-size="8.40" font-weight="bold" fill="#111" textLength="47.00" lengthAdjust="spacingAndGlyphs">8a (6.25 μM)</text>
<line x1="595.40" y1="296.40" x2="600.00" y2="296.40" stroke="#111" stroke-width="1.0"/>
<line x1="618.50" y1="296.40" x2="622.90" y2="296.40" stroke="#111" stroke-width="1.1"/>
<line x1="620.70" y1="294.20" x2="620.70" y2="298.60" stroke="#111" stroke-width="1.1"/>
<line x1="641.10" y1="296.40" x2="645.70" y2="296.40" stroke="#111" stroke-width="1.0"/>
<line x1="664.30" y1="296.40" x2="668.70" y2="296.40" stroke="#111" stroke-width="1.1"/>
<line x1="666.50" y1="294.20" x2="666.50" y2="298.60" stroke="#111" stroke-width="1.1"/>
<text x="544.00" y="309.22" font-size="8.40" font-weight="bold" fill="#111" textLength="49.00" lengthAdjust="spacingAndGlyphs">GEM (10 nM)</text>
<line x1="595.40" y1="306.20" x2="600.00" y2="306.20" stroke="#111" stroke-width="1.0"/>
<line x1="618.40" y1="306.20" x2="623.00" y2="306.20" stroke="#111" stroke-width="1.0"/>
<line x1="641.20" y1="306.20" x2="645.60" y2="306.20" stroke="#111" stroke-width="1.1"/>
<line x1="643.40" y1="304.00" x2="643.40" y2="308.40" stroke="#111" stroke-width="1.1"/>
<line x1="664.30" y1="306.20" x2="668.70" y2="306.20" stroke="#111" stroke-width="1.1"/>
<line x1="666.50" y1="304.00" x2="666.50" y2="308.40" stroke="#111" stroke-width="1.1"/>
<rect x="445.30" y="371.10" width="13.70" height="49.40" fill="#a09fa6" stroke="#000" stroke-width="1.3"/>
<line x1="452.15" y1="367.15" x2="452.15" y2="370.50" stroke="#b400f0" stroke-width="0.9"/>
<line x1="449.15" y1="367.15" x2="455.15" y2="367.15" stroke="#b400f0" stroke-width="0.9"/>
<circle cx="446.15" cy="372.85" r="1.45" fill="#b400f0"/>
<circle cx="452.15" cy="372.85" r="1.45" fill="#b400f0"/>
<circle cx="458.15" cy="368.25" r="1.45" fill="#b400f0"/>
<rect x="469.40" y="391.60" width="12.60" height="28.90" fill="#a09fa6" stroke="#000" stroke-width="1.3"/>
<line x1="475.70" y1="388.32" x2="475.70" y2="391.00" stroke="#b400f0" stroke-width="0.9"/>
<line x1="472.70" y1="388.32" x2="478.70" y2="388.32" stroke="#b400f0" stroke-width="0.9"/>
<circle cx="469.70" cy="391.77" r="1.45" fill="#b400f0"/>
<circle cx="475.70" cy="391.18" r="1.45" fill="#b400f0"/>
<circle cx="481.70" cy="388.89" r="1.45" fill="#b400f0"/>
<text x="476.50" y="389.36" font-size="9.60" text-anchor="middle" font-weight="bold" fill="#111" letter-spacing="1.6">**</text>
<rect x="492.00" y="340.60" width="13.00" height="79.90" fill="#a09fa6" stroke="#000" stroke-width="1.3"/>
<line x1="498.50" y1="338.12" x2="498.50" y2="340.00" stroke="#b400f0" stroke-width="0.9"/>
<line x1="495.50" y1="338.12" x2="501.50" y2="338.12" stroke="#b400f0" stroke-width="0.9"/>
<circle cx="492.50" cy="340.83" r="1.45" fill="#b400f0"/>
<circle cx="498.50" cy="338.33" r="1.45" fill="#b400f0"/>
<circle cx="504.50" cy="338.87" r="1.45" fill="#b400f0"/>
<text x="499.30" y="338.36" font-size="9.60" text-anchor="middle" font-weight="bold" fill="#111" letter-spacing="1.6">**</text>
<rect x="515.00" y="407.60" width="13.40" height="12.90" fill="#a09fa6" stroke="#000" stroke-width="1.3"/>
<line x1="521.70" y1="405.45" x2="521.70" y2="407.00" stroke="#b400f0" stroke-width="0.9"/>
<line x1="518.70" y1="405.45" x2="524.70" y2="405.45" stroke="#b400f0" stroke-width="0.9"/>
<circle cx="515.70" cy="406.76" r="1.45" fill="#b400f0"/>
<circle cx="521.70" cy="408.26" r="1.45" fill="#b400f0"/>
<circle cx="527.70" cy="405.76" r="1.45" fill="#b400f0"/>
<text x="521.70" y="402.65" font-size="6.80" text-anchor="middle" fill="#222">###</text>
<line x1="436.60" y1="421.10" x2="436.60" y2="320.50" stroke="#1a1a1a" stroke-width="1.2"/>
<line x1="432.60" y1="420.50" x2="436.60" y2="420.50" stroke="#1a1a1a" stroke-width="1.2"/>
<text x="431.20" y="423.38" font-size="8.00" text-anchor="end" font-weight="bold">0.0</text>
<line x1="432.60" y1="395.50" x2="436.60" y2="395.50" stroke="#1a1a1a" stroke-width="1.2"/>
<text x="431.20" y="398.38" font-size="8.00" text-anchor="end" font-weight="bold">0.5</text>
<line x1="432.60" y1="370.50" x2="436.60" y2="370.50" stroke="#1a1a1a" stroke-width="1.2"/>
<text x="431.20" y="373.38" font-size="8.00" text-anchor="end" font-weight="bold">1.0</text>
<line x1="432.60" y1="345.50" x2="436.60" y2="345.50" stroke="#1a1a1a" stroke-width="1.2"/>
<text x="431.20" y="348.38" font-size="8.00" text-anchor="end" font-weight="bold">1.5</text>
<line x1="432.60" y1="320.50" x2="436.60" y2="320.50" stroke="#1a1a1a" stroke-width="1.2"/>
<text x="431.20" y="323.38" font-size="8.00" text-anchor="end" font-weight="bold">2.0</text>
<line x1="436.60" y1="420.50" x2="535.60" y2="420.50" stroke="#1a1a1a" stroke-width="1.2"/>
<line x1="452.15" y1="420.50" x2="452.15" y2="424.00" stroke="#1a1a1a" stroke-width="1.2"/>
<line x1="475.70" y1="420.50" x2="475.70" y2="424.00" stroke="#1a1a1a" stroke-width="1.2"/>
<line x1="498.50" y1="420.50" x2="498.50" y2="424.00" stroke="#1a1a1a" stroke-width="1.2"/>
<line x1="521.70" y1="420.50" x2="521.70" y2="424.00" stroke="#1a1a1a" stroke-width="1.2"/>
<text x="407.85" y="369.25" font-size="8.50" text-anchor="middle" transform="rotate(-90 407.85 369.25)" font-weight="bold" textLength="108.50" lengthAdjust="spacingAndGlyphs">Relative protein expression</text>
<text x="417.05" y="369.75" font-size="8.50" text-anchor="middle" transform="rotate(-90 417.05 369.75)" font-weight="bold" textLength="76.50" lengthAdjust="spacingAndGlyphs">(p-P70S6K/P70S6K)</text>
<text x="399.90" y="434.92" font-size="8.40" font-weight="bold" fill="#111" textLength="47.50" lengthAdjust="spacingAndGlyphs">8a (6.25 μM)</text>
<line x1="449.90" y1="431.90" x2="454.50" y2="431.90" stroke="#111" stroke-width="1.0"/>
<line x1="473.50" y1="431.90" x2="477.90" y2="431.90" stroke="#111" stroke-width="1.1"/>
<line x1="475.70" y1="429.70" x2="475.70" y2="434.10" stroke="#111" stroke-width="1.1"/>
<line x1="496.20" y1="431.90" x2="500.80" y2="431.90" stroke="#111" stroke-width="1.0"/>
<line x1="519.50" y1="431.90" x2="523.90" y2="431.90" stroke="#111" stroke-width="1.1"/>
<line x1="521.70" y1="429.70" x2="521.70" y2="434.10" stroke="#111" stroke-width="1.1"/>
<text x="397.70" y="445.02" font-size="8.40" font-weight="bold" fill="#111" textLength="49.70" lengthAdjust="spacingAndGlyphs">GEM (10 nM)</text>
<line x1="449.90" y1="442.00" x2="454.50" y2="442.00" stroke="#111" stroke-width="1.0"/>
<line x1="473.40" y1="442.00" x2="478.00" y2="442.00" stroke="#111" stroke-width="1.0"/>
<line x1="496.30" y1="442.00" x2="500.70" y2="442.00" stroke="#111" stroke-width="1.1"/>
<line x1="498.50" y1="439.80" x2="498.50" y2="444.20" stroke="#111" stroke-width="1.1"/>
<line x1="519.50" y1="442.00" x2="523.90" y2="442.00" stroke="#111" stroke-width="1.1"/>
<line x1="521.70" y1="439.80" x2="521.70" y2="444.20" stroke="#111" stroke-width="1.1"/>
<rect x="591.00" y="355.23" width="13.40" height="66.27" fill="#a09fa6" stroke="#000" stroke-width="1.3"/>
<line x1="597.70" y1="351.71" x2="597.70" y2="354.63" stroke="#b400f0" stroke-width="0.9"/>
<line x1="594.70" y1="351.71" x2="600.70" y2="351.71" stroke="#b400f0" stroke-width="0.9"/>
<circle cx="591.70" cy="356.65" r="1.45" fill="#b400f0"/>
<circle cx="597.70" cy="352.73" r="1.45" fill="#b400f0"/>
<circle cx="603.70" cy="355.13" r="1.45" fill="#b400f0"/>
<rect x="614.00" y="414.74" width="13.40" height="6.76" fill="#a09fa6" stroke="#000" stroke-width="1.3"/>
<line x1="620.70" y1="412.26" x2="620.70" y2="414.14" stroke="#b400f0" stroke-width="0.9"/>
<line x1="617.70" y1="412.26" x2="623.70" y2="412.26" stroke="#b400f0" stroke-width="0.9"/>
<circle cx="614.70" cy="415.66" r="1.45" fill="#b400f0"/>
<circle cx="620.70" cy="411.70" r="1.45" fill="#b400f0"/>
<circle cx="626.70" cy="413.92" r="1.45" fill="#b400f0"/>
<text x="621.50" y="412.50" font-size="9.60" text-anchor="middle" font-weight="bold" fill="#111" letter-spacing="1.6">***</text>
<rect x="636.80" y="366.60" width="13.20" height="54.90" fill="#a09fa6" stroke="#000" stroke-width="1.3"/>
<line x1="643.40" y1="364.20" x2="643.40" y2="366.00" stroke="#b400f0" stroke-width="0.9"/>
<line x1="640.40" y1="364.20" x2="646.40" y2="364.20" stroke="#b400f0" stroke-width="0.9"/>
<circle cx="637.40" cy="367.62" r="1.45" fill="#b400f0"/>
<circle cx="643.40" cy="367.35" r="1.45" fill="#b400f0"/>
<circle cx="649.40" cy="365.80" r="1.45" fill="#b400f0"/>
<rect x="660.00" y="417.75" width="13.00" height="3.75" fill="#a09fa6" stroke="#000" stroke-width="1.3"/>
<line x1="666.50" y1="414.77" x2="666.50" y2="417.15" stroke="#b400f0" stroke-width="0.9"/>
<line x1="663.50" y1="414.77" x2="669.50" y2="414.77" stroke="#b400f0" stroke-width="0.9"/>
<circle cx="660.50" cy="419.25" r="1.45" fill="#b400f0"/>
<circle cx="666.50" cy="420.08" r="1.45" fill="#b400f0"/>
<circle cx="672.50" cy="415.00" r="1.45" fill="#b400f0"/>
<text x="666.50" y="412.80" font-size="6.80" text-anchor="middle" fill="#222">###</text>
<line x1="582.50" y1="422.10" x2="582.50" y2="321.20" stroke="#1a1a1a" stroke-width="1.2"/>
<line x1="578.50" y1="421.50" x2="582.50" y2="421.50" stroke="#1a1a1a" stroke-width="1.2"/>
<text x="577.30" y="424.38" font-size="8.00" text-anchor="end" font-weight="bold">0.0</text>
<line x1="578.50" y1="388.07" x2="582.50" y2="388.07" stroke="#1a1a1a" stroke-width="1.2"/>
<text x="577.30" y="390.95" font-size="8.00" text-anchor="end" font-weight="bold">0.5</text>
<line x1="578.50" y1="354.63" x2="582.50" y2="354.63" stroke="#1a1a1a" stroke-width="1.2"/>
<text x="577.30" y="357.51" font-size="8.00" text-anchor="end" font-weight="bold">1.0</text>
<line x1="578.50" y1="321.20" x2="582.50" y2="321.20" stroke="#1a1a1a" stroke-width="1.2"/>
<text x="577.30" y="324.08" font-size="8.00" text-anchor="end" font-weight="bold">1.5</text>
<line x1="582.50" y1="421.50" x2="681.30" y2="421.50" stroke="#1a1a1a" stroke-width="1.2"/>
<line x1="597.70" y1="421.50" x2="597.70" y2="425.00" stroke="#1a1a1a" stroke-width="1.2"/>
<line x1="620.70" y1="421.50" x2="620.70" y2="425.00" stroke="#1a1a1a" stroke-width="1.2"/>
<line x1="643.40" y1="421.50" x2="643.40" y2="425.00" stroke="#1a1a1a" stroke-width="1.2"/>
<line x1="666.50" y1="421.50" x2="666.50" y2="425.00" stroke="#1a1a1a" stroke-width="1.2"/>
<text x="553.05" y="370.60" font-size="8.50" text-anchor="middle" transform="rotate(-90 553.05 370.60)" font-weight="bold" textLength="108.40" lengthAdjust="spacingAndGlyphs">Relative protein expression</text>
<text x="563.05" y="370.60" font-size="8.50" text-anchor="middle" transform="rotate(-90 563.05 370.60)" font-weight="bold" textLength="51.40" lengthAdjust="spacingAndGlyphs">(p-ERK/ERK)</text>
<text x="546.00" y="435.52" font-size="8.40" font-weight="bold" fill="#111" textLength="47.00" lengthAdjust="spacingAndGlyphs">8a (6.25 μM)</text>
<line x1="595.40" y1="432.50" x2="600.00" y2="432.50" stroke="#111" stroke-width="1.0"/>
<line x1="618.50" y1="432.50" x2="622.90" y2="432.50" stroke="#111" stroke-width="1.1"/>
<line x1="620.70" y1="430.30" x2="620.70" y2="434.70" stroke="#111" stroke-width="1.1"/>
<line x1="641.10" y1="432.50" x2="645.70" y2="432.50" stroke="#111" stroke-width="1.0"/>
<line x1="664.30" y1="432.50" x2="668.70" y2="432.50" stroke="#111" stroke-width="1.1"/>
<line x1="666.50" y1="430.30" x2="666.50" y2="434.70" stroke="#111" stroke-width="1.1"/>
<text x="544.00" y="445.82" font-size="8.40" font-weight="bold" fill="#111" textLength="49.00" lengthAdjust="spacingAndGlyphs">GEM (10 nM)</text>
<line x1="595.40" y1="442.80" x2="600.00" y2="442.80" stroke="#111" stroke-width="1.0"/>
<line x1="618.40" y1="442.80" x2="623.00" y2="442.80" stroke="#111" stroke-width="1.0"/>
<line x1="641.20" y1="442.80" x2="645.60" y2="442.80" stroke="#111" stroke-width="1.1"/>
<line x1="643.40" y1="440.60" x2="643.40" y2="445.00" stroke="#111" stroke-width="1.1"/>
<line x1="664.30" y1="442.80" x2="668.70" y2="442.80" stroke="#111" stroke-width="1.1"/>
<line x1="666.50" y1="440.60" x2="666.50" y2="445.00" stroke="#111" stroke-width="1.1"/>
<text x="10.46" y="442.50" font-size="21.00" stroke="#fff" stroke-width="0.25">f</text>
<defs><filter id="fb" x="-50%" y="-50%" width="200%" height="200%"><feGaussianBlur stdDeviation="1.6"/></filter></defs>
<text x="19.30" y="458.95" font-size="9.30" fill="#222" textLength="61.30" lengthAdjust="spacingAndGlyphs">GEM (10 nM)</text>
<text x="21.70" y="472.05" font-size="9.30" fill="#222" textLength="58.90" lengthAdjust="spacingAndGlyphs">8a (6.25 μM)</text>
<line x1="83.50" y1="457.50" x2="88.10" y2="457.50" stroke="#555" stroke-width="0.8"/>
<line x1="83.50" y1="469.00" x2="88.10" y2="469.00" stroke="#555" stroke-width="0.8"/>
<line x1="177.40" y1="457.50" x2="182.00" y2="457.50" stroke="#555" stroke-width="0.8"/>
<line x1="177.50" y1="469.00" x2="181.90" y2="469.00" stroke="#333" stroke-width="0.9"/>
<line x1="179.70" y1="466.80" x2="179.70" y2="471.20" stroke="#333" stroke-width="0.9"/>
<line x1="275.50" y1="457.50" x2="279.90" y2="457.50" stroke="#333" stroke-width="0.9"/>
<line x1="277.70" y1="455.30" x2="277.70" y2="459.70" stroke="#333" stroke-width="0.9"/>
<line x1="275.40" y1="469.00" x2="280.00" y2="469.00" stroke="#555" stroke-width="0.8"/>
<line x1="378.10" y1="457.50" x2="382.50" y2="457.50" stroke="#333" stroke-width="0.9"/>
<line x1="380.30" y1="455.30" x2="380.30" y2="459.70" stroke="#333" stroke-width="0.9"/>
<line x1="378.10" y1="469.00" x2="382.50" y2="469.00" stroke="#333" stroke-width="0.9"/>
<line x1="380.30" y1="466.80" x2="380.30" y2="471.20" stroke="#333" stroke-width="0.9"/>
<rect x="49.30" y="486.10" width="76.30" height="75.90" fill="#ffffff"/>
<rect x="49.70" y="537.40" width="30.90" height="24.20" fill="#eaf2c6"/>
<path d="M61.1 553.5h.9v.9h-.9zM71.0 555.6h.9v.9h-.9zM66.7 555.8h.9v.9h-.9zM73.3 549.3h.9v.9h-.9zM74.7 551.0h.9v.9h-.9zM69.5 550.8h.9v.9h-.9zM63.5 550.2h.9v.9h-.9zM60.7 551.6h.9v.9h-.9zM71.1 549.8h.9v.9h-.9zM65.2 545.0h.9v.9h-.9zM67.7 551.6h.9v.9h-.9zM68.3 551.5h.9v.9h-.9zM65.4 551.2h.9v.9h-.9zM78.2 549.4h.9v.9h-.9zM68.4 548.5h.9v.9h-.9zM78.2 550.0h.9v.9h-.9zM64.1 544.4h.9v.9h-.9zM59.6 551.7h.9v.9h-.9zM71.0 544.4h.9v.9h-.9zM62.3 556.5h.9v.9h-.9zM71.0 551.3h.9v.9h-.9zM65.4 549.3h.9v.9h-.9zM68.6 549.4h.9v.9h-.9zM65.1 547.3h.9v.9h-.9zM75.5 549.6h.9v.9h-.9zM65.0 548.6h.9v.9h-.9zM70.0 552.6h.9v.9h-.9zM65.0 547.8h.9v.9h-.9zM66.9 551.1h.9v.9h-.9zM68.6 550.2h.9v.9h-.9zM67.4 554.9h.9v.9h-.9zM76.8 549.1h.9v.9h-.9zM62.7 548.2h.9v.9h-.9zM69.1 550.1h.9v.9h-.9zM73.0 544.3h.9v.9h-.9zM70.4 546.2h.9v.9h-.9zM78.9 551.9h.9v.9h-.9zM64.6 548.5h.9v.9h-.9zM58.3 551.5h.9v.9h-.9zM74.3 547.2h.9v.9h-.9zM70.5 554.6h.9v.9h-.9zM80.0 548.0h.9v.9h-.9zM71.5 548.7h.9v.9h-.9zM58.3 554.4h.9v.9h-.9zM60.9 546.0h.9v.9h-.9zM63.0 551.1h.9v.9h-.9zM66.1 548.9h.9v.9h-.9zM70.1 549.4h.9v.9h-.9zM60.7 558.4h.9v.9h-.9zM68.3 549.5h.9v.9h-.9zM74.0 550.0h.9v.9h-.9zM64.2 549.5h.9v.9h-.9zM59.1 553.4h.9v.9h-.9zM62.0 549.9h.9v.9h-.9zM78.6 547.6h.9v.9h-.9zM73.5 549.2h.9v.9h-.9zM68.9 551.2h.9v.9h-.9zM65.9 556.3h.9v.9h-.9zM61.0 553.8h.9v.9h-.9zM71.9 548.3h.9v.9h-.9zM73.5 546.0h.9v.9h-.9zM65.8 547.8h.9v.9h-.9zM77.9 549.5h.9v.9h-.9zM73.2 550.2h.9v.9h-.9zM58.8 550.5h.9v.9h-.9zM63.0 550.3h.9v.9h-.9zM64.9 549.6h.9v.9h-.9zM56.0 545.9h.9v.9h-.9zM74.7 550.6h.9v.9h-.9zM62.6 550.6h.9v.9h-.9zM71.0 549.0h.9v.9h-.9zM69.6 554.9h.9v.9h-.9zM61.4 547.4h.9v.9h-.9zM68.7 553.9h.9v.9h-.9zM62.8 554.1h.9v.9h-.9zM62.0 547.7h.9v.9h-.9zM66.2 547.6h.9v.9h-.9zM68.4 553.9h.9v.9h-.9zM63.9 544.8h.9v.9h-.9zM63.3 553.1h.9v.9h-.9zM74.1 549.5h.9v.9h-.9zM67.4 546.6h.9v.9h-.9zM57.8 549.9h.9v.9h-.9zM61.7 554.1h.9v.9h-.9zM63.0 547.7h.9v.9h-.9zM66.7 554.9h.9v.9h-.9zM61.4 546.9h.9v.9h-.9zM73.0 552.6h.9v.9h-.9zM80.6 550.2h.9v.9h-.9zM60.9 551.0h.9v.9h-.9zM72.5 545.9h.9v.9h-.9zM73.0 550.9h.9v.9h-.9zM64.4 554.1h.9v.9h-.9zM67.0 551.7h.9v.9h-.9zM68.8 553.3h.9v.9h-.9zM64.6 552.6h.9v.9h-.9zM60.8 553.6h.9v.9h-.9zM61.9 553.6h.9v.9h-.9zM70.5 549.8h.9v.9h-.9zM60.2 549.5h.9v.9h-.9zM69.0 546.5h.9v.9h-.9zM66.4 550.8h.9v.9h-.9zM63.7 550.2h.9v.9h-.9zM70.1 549.6h.9v.9h-.9zM66.0 548.9h.9v.9h-.9zM67.9 549.6h.9v.9h-.9zM62.3 550.1h.9v.9h-.9zM62.0 552.7h.9v.9h-.9zM68.3 544.9h.9v.9h-.9zM72.9 549.8h.9v.9h-.9zM66.4 547.8h.9v.9h-.9zM75.0 546.7h.9v.9h-.9zM66.4 549.8h.9v.9h-.9zM65.6 551.1h.9v.9h-.9zM62.8 551.2h.9v.9h-.9zM55.7 554.0h.9v.9h-.9zM69.7 552.4h.9v.9h-.9zM70.4 553.3h.9v.9h-.9zM65.4 549.4h.9v.9h-.9zM61.8 552.4h.9v.9h-.9zM80.9 551.0h.9v.9h-.9zM63.6 551.9h.9v.9h-.9zM67.6 550.3h.9v.9h-.9zM72.8 547.9h.9v.9h-.9zM65.2 551.3h.9v.9h-.9zM59.7 554.5h.9v.9h-.9zM63.4 548.7h.9v.9h-.9zM68.1 548.2h.9v.9h-.9zM72.6 550.3h.9v.9h-.9zM78.9 550.7h.9v.9h-.9zM64.0 551.5h.9v.9h-.9zM73.6 550.1h.9v.9h-.9zM63.4 549.4h.9v.9h-.9zM73.6 550.1h.9v.9h-.9zM66.0 547.6h.9v.9h-.9zM72.8 547.5h.9v.9h-.9zM63.3 549.8h.9v.9h-.9zM69.4 554.6h.9v.9h-.9zM74.0 549.5h.9v.9h-.9zM65.6 544.7h.9v.9h-.9zM68.2 552.0h.9v.9h-.9zM67.1 548.9h.9v.9h-.9zM71.9 550.1h.9v.9h-.9zM62.7 552.3h.9v.9h-.9zM63.0 553.2h.9v.9h-.9zM67.3 551.5h.9v.9h-.9zM67.7 552.3h.9v.9h-.9zM62.7 551.0h.9v.9h-.9zM65.5 547.5h.9v.9h-.9zM62.5 550.1h.9v.9h-.9zM67.2 553.5h.9v.9h-.9zM71.4 549.5h.9v.9h-.9zM56.0 549.5h.9v.9h-.9zM72.5 551.9h.9v.9h-.9zM76.7 549.2h.9v.9h-.9zM61.1 549.3h.9v.9h-.9zM65.5 553.7h.9v.9h-.9zM55.7 550.4h.9v.9h-.9zM63.4 548.9h.9v.9h-.9zM69.5 551.4h.9v.9h-.9zM64.5 546.0h.9v.9h-.9zM76.7 547.7h.9v.9h-.9zM65.5 552.8h.9v.9h-.9zM65.3 546.2h.9v.9h-.9zM69.9 550.8h.9v.9h-.9zM60.7 550.3h.9v.9h-.9zM62.6 550.5h.9v.9h-.9zM71.5 547.3h.9v.9h-.9zM68.2 551.0h.9v.9h-.9zM68.7 545.7h.9v.9h-.9zM69.5 553.6h.9v.9h-.9zM75.9 549.0h.9v.9h-.9zM86.4 550.1h.9v.9h-.9zM66.9 551.0h.9v.9h-.9zM69.5 551.5h.9v.9h-.9zM59.4 555.6h.9v.9h-.9zM66.7 551.6h.9v.9h-.9zM64.3 545.2h.9v.9h-.9zM71.7 547.2h.9v.9h-.9zM64.7 549.7h.9v.9h-.9zM66.3 550.8h.9v.9h-.9zM71.5 548.5h.9v.9h-.9zM69.1 549.8h.9v.9h-.9zM59.6 552.6h.9v.9h-.9zM69.5 551.0h.9v.9h-.9zM63.2 549.6h.9v.9h-.9zM62.4 552.2h.9v.9h-.9zM72.2 550.8h.9v.9h-.9zM75.2 548.4h.9v.9h-.9zM71.8 547.1h.9v.9h-.9zM55.7 551.2h.9v.9h-.9zM60.4 551.9h.9v.9h-.9zM66.9 547.2h.9v.9h-.9zM67.2 546.2h.9v.9h-.9zM64.6 550.6h.9v.9h-.9zM67.9 547.9h.9v.9h-.9zM67.1 551.8h.9v.9h-.9zM65.6 553.8h.9v.9h-.9zM74.2 547.9h.9v.9h-.9zM69.7 549.4h.9v.9h-.9zM64.1 551.5h.9v.9h-.9zM71.8 551.9h.9v.9h-.9zM63.2 546.6h.9v.9h-.9zM75.9 548.9h.9v.9h-.9zM70.3 549.6h.9v.9h-.9zM75.1 550.8h.9v.9h-.9zM67.9 549.0h.9v.9h-.9zM75.2 550.3h.9v.9h-.9zM68.7 551.4h.9v.9h-.9zM63.9 552.1h.9v.9h-.9zM67.9 548.0h.9v.9h-.9zM63.7 552.0h.9v.9h-.9zM65.2 549.5h.9v.9h-.9zM71.2 553.1h.9v.9h-.9zM69.3 552.6h.9v.9h-.9zM71.3 552.3h.9v.9h-.9zM61.6 552.4h.9v.9h-.9zM67.1 552.7h.9v.9h-.9zM68.6 549.8h.9v.9h-.9zM67.9 549.5h.9v.9h-.9zM72.1 551.7h.9v.9h-.9zM67.4 550.3h.9v.9h-.9zM56.4 550.0h.9v.9h-.9zM63.3 552.3h.9v.9h-.9zM65.0 550.2h.9v.9h-.9zM69.2 548.9h.9v.9h-.9zM63.7 548.8h.9v.9h-.9zM69.7 551.0h.9v.9h-.9zM67.3 548.3h.9v.9h-.9zM69.7 548.4h.9v.9h-.9zM68.0 547.4h.9v.9h-.9zM79.3 548.3h.9v.9h-.9zM58.9 546.6h.9v.9h-.9zM64.4 553.8h.9v.9h-.9zM54.7 550.1h.9v.9h-.9zM73.3 547.4h.9v.9h-.9zM65.4 546.8h.9v.9h-.9zM67.0 551.7h.9v.9h-.9zM67.8 549.7h.9v.9h-.9zM67.7 549.2h.9v.9h-.9zM55.7 547.2h.9v.9h-.9zM64.4 548.9h.9v.9h-.9zM63.2 550.1h.9v.9h-.9zM66.5 554.2h.9v.9h-.9zM69.5 548.5h.9v.9h-.9zM61.5 555.8h.9v.9h-.9zM64.0 552.5h.9v.9h-.9zM68.0 550.2h.9v.9h-.9zM76.0 548.1h.9v.9h-.9zM66.1 549.9h.9v.9h-.9zM52.0 553.5h.9v.9h-.9zM62.5 550.8h.9v.9h-.9zM69.1 549.6h.9v.9h-.9zM72.4 551.6h.9v.9h-.9zM69.1 550.4h.9v.9h-.9zM67.5 549.4h.9v.9h-.9zM65.9 549.8h.9v.9h-.9zM67.2 547.8h.9v.9h-.9zM66.8 549.5h.9v.9h-.9zM81.3 547.8h.9v.9h-.9zM70.2 547.4h.9v.9h-.9zM62.0 548.9h.9v.9h-.9zM71.4 548.9h.9v.9h-.9zM72.6 548.0h.9v.9h-.9zM73.8 551.4h.9v.9h-.9zM69.7 551.4h.9v.9h-.9zM74.0 549.4h.9v.9h-.9zM60.5 550.4h.9v.9h-.9zM62.1 548.2h.9v.9h-.9zM65.6 555.7h.9v.9h-.9zM65.4 547.9h.9v.9h-.9zM69.2 551.7h.9v.9h-.9zM70.9 548.6h.9v.9h-.9zM75.3 547.5h.9v.9h-.9zM69.4 552.0h.9v.9h-.9zM68.9 549.4h.9v.9h-.9zM67.5 549.2h.9v.9h-.9zM61.1 549.3h.9v.9h-.9zM67.5 549.4h.9v.9h-.9zM66.9 551.0h.9v.9h-.9zM68.8 548.2h.9v.9h-.9zM65.7 549.6h.9v.9h-.9zM63.4 549.5h.9v.9h-.9zM67.5 553.3h.9v.9h-.9zM73.6 552.0h.9v.9h-.9zM67.8 553.4h.9v.9h-.9zM58.2 549.3h.9v.9h-.9zM60.0 555.8h.9v.9h-.9zM66.3 554.1h.9v.9h-.9zM66.3 545.9h.9v.9h-.9zM65.3 549.5h.9v.9h-.9zM70.4 549.4h.9v.9h-.9zM66.8 546.6h.9v.9h-.9zM67.0 549.4h.9v.9h-.9zM68.0 553.3h.9v.9h-.9zM69.1 550.0h.9v.9h-.9zM70.9 548.3h.9v.9h-.9zM75.7 554.3h.9v.9h-.9zM64.5 551.6h.9v.9h-.9zM62.9 549.6h.9v.9h-.9zM67.0 549.9h.9v.9h-.9zM58.8 553.1h.9v.9h-.9zM67.1 551.3h.9v.9h-.9zM64.2 550.7h.9v.9h-.9zM66.0 552.9h.9v.9h-.9zM76.2 551.3h.9v.9h-.9zM70.9 548.6h.9v.9h-.9zM72.5 551.3h.9v.9h-.9zM62.1 549.5h.9v.9h-.9zM68.8 555.8h.9v.9h-.9zM53.6 552.5h.9v.9h-.9zM65.4 551.0h.9v.9h-.9zM69.6 552.4h.9v.9h-.9zM81.4 547.1h.9v.9h-.9zM74.3 549.1h.9v.9h-.9zM56.5 550.4h.9v.9h-.9zM64.5 549.4h.9v.9h-.9zM66.8 548.7h.9v.9h-.9zM62.8 551.4h.9v.9h-.9zM67.4 552.0h.9v.9h-.9zM65.0 548.9h.9v.9h-.9zM77.6 550.0h.9v.9h-.9zM71.8 552.7h.9v.9h-.9zM65.0 549.6h.9v.9h-.9zM70.5 552.5h.9v.9h-.9zM70.6 549.7h.9v.9h-.9zM74.3 547.5h.9v.9h-.9zM70.3 551.0h.9v.9h-.9zM68.8 552.2h.9v.9h-.9zM63.1 555.0h.9v.9h-.9zM60.6 553.8h.9v.9h-.9zM66.9 550.0h.9v.9h-.9zM60.3 551.0h.9v.9h-.9zM69.5 547.9h.9v.9h-.9zM66.9 549.8h.9v.9h-.9zM65.4 548.2h.9v.9h-.9zM59.2 550.2h.9v.9h-.9zM55.2 547.0h.9v.9h-.9zM72.3 555.0h.9v.9h-.9zM64.6 553.8h.9v.9h-.9zM58.1 551.9h.9v.9h-.9zM62.8 548.1h.9v.9h-.9zM64.6 553.1h.9v.9h-.9zM67.0 549.3h.9v.9h-.9zM71.7 548.7h.9v.9h-.9zM59.5 552.8h.9v.9h-.9zM66.4 552.3h.9v.9h-.9zM71.3 550.8h.9v.9h-.9zM67.0 551.2h.9v.9h-.9zM67.6 553.9h.9v.9h-.9zM78.4 550.9h.9v.9h-.9zM63.5 554.8h.9v.9h-.9zM66.9 553.6h.9v.9h-.9zM69.1 547.3h.9v.9h-.9zM70.6 551.1h.9v.9h-.9zM74.0 550.3h.9v.9h-.9zM67.1 550.1h.9v.9h-.9zM64.8 549.4h.9v.9h-.9zM60.9 555.0h.9v.9h-.9zM73.6 551.6h.9v.9h-.9zM65.5 549.6h.9v.9h-.9zM64.9 553.3h.9v.9h-.9zM66.3 552.6h.9v.9h-.9zM70.2 551.1h.9v.9h-.9zM66.0 548.5h.9v.9h-.9zM59.2 554.4h.9v.9h-.9zM71.2 547.0h.9v.9h-.9zM67.8 551.9h.9v.9h-.9zM73.8 548.6h.9v.9h-.9zM72.7 554.3h.9v.9h-.9zM66.7 552.8h.9v.9h-.9zM61.6 549.3h.9v.9h-.9zM71.2 551.1h.9v.9h-.9zM66.0 547.1h.9v.9h-.9zM70.8 550.3h.9v.9h-.9zM70.0 549.8h.9v.9h-.9zM60.7 552.0h.9v.9h-.9zM68.8 548.7h.9v.9h-.9zM61.0 552.6h.9v.9h-.9zM64.3 554.1h.9v.9h-.9zM73.1 548.8h.9v.9h-.9zM74.2 555.0h.9v.9h-.9zM63.1 546.2h.9v.9h-.9zM59.9 555.2h.9v.9h-.9zM68.5 546.4h.9v.9h-.9zM70.7 552.3h.9v.9h-.9zM70.2 549.1h.9v.9h-.9zM68.7 549.2h.9v.9h-.9zM71.7 547.2h.9v.9h-.9zM74.5 547.2h.9v.9h-.9zM66.6 554.8h.9v.9h-.9zM70.2 553.7h.9v.9h-.9zM79.3 552.2h.9v.9h-.9zM57.6 555.4h.9v.9h-.9zM69.4 549.4h.9v.9h-.9zM70.8 549.4h.9v.9h-.9zM63.3 548.6h.9v.9h-.9zM63.7 554.1h.9v.9h-.9zM72.1 548.7h.9v.9h-.9zM62.4 551.2h.9v.9h-.9zM72.7 547.7h.9v.9h-.9zM61.7 548.0h.9v.9h-.9zM53.7 551.0h.9v.9h-.9zM69.4 550.4h.9v.9h-.9zM67.9 554.1h.9v.9h-.9zM66.7 549.1h.9v.9h-.9zM62.5 550.3h.9v.9h-.9zM66.5 555.7h.9v.9h-.9zM64.2 549.1h.9v.9h-.9zM59.2 550.8h.9v.9h-.9zM69.1 553.2h.9v.9h-.9zM66.0 548.2h.9v.9h-.9zM71.2 552.4h.9v.9h-.9zM72.7 549.1h.9v.9h-.9zM68.0 546.6h.9v.9h-.9zM71.2 549.1h.9v.9h-.9zM72.4 548.3h.9v.9h-.9zM74.1 550.1h.9v.9h-.9zM58.0 547.2h.9v.9h-.9zM71.6 548.7h.9v.9h-.9zM67.6 550.5h.9v.9h-.9zM67.9 552.5h.9v.9h-.9zM71.5 549.8h.9v.9h-.9zM62.4 550.0h.9v.9h-.9zM65.7 550.4h.9v.9h-.9zM70.3 543.6h.9v.9h-.9zM61.8 549.7h.9v.9h-.9zM71.1 549.0h.9v.9h-.9zM75.2 550.7h.9v.9h-.9zM65.7 550.4h.9v.9h-.9zM60.2 548.1h.9v.9h-.9zM60.8 549.4h.9v.9h-.9zM73.7 551.8h.9v.9h-.9zM66.5 550.8h.9v.9h-.9zM76.5 549.0h.9v.9h-.9zM58.1 548.3h.9v.9h-.9zM72.9 554.7h.9v.9h-.9zM53.0 544.9h.9v.9h-.9zM67.9 555.3h.9v.9h-.9zM73.0 546.4h.9v.9h-.9zM54.8 548.0h.9v.9h-.9zM71.2 550.0h.9v.9h-.9zM63.7 549.6h.9v.9h-.9zM63.1 550.2h.9v.9h-.9zM66.0 551.4h.9v.9h-.9zM70.3 547.7h.9v.9h-.9zM72.1 548.8h.9v.9h-.9zM76.3 552.7h.9v.9h-.9zM67.8 549.8h.9v.9h-.9zM73.8 555.3h.9v.9h-.9zM65.1 551.2h.9v.9h-.9zM68.4 544.7h.9v.9h-.9zM68.7 550.4h.9v.9h-.9zM69.7 547.7h.9v.9h-.9zM66.5 546.2h.9v.9h-.9zM61.0 547.7h.9v.9h-.9zM71.2 547.6h.9v.9h-.9zM75.6 550.3h.9v.9h-.9zM69.6 549.4h.9v.9h-.9zM64.2 552.3h.9v.9h-.9zM63.3 548.5h.9v.9h-.9zM55.3 554.2h.9v.9h-.9zM67.8 547.1h.9v.9h-.9zM66.9 547.2h.9v.9h-.9zM67.1 551.6h.9v.9h-.9zM59.1 550.4h.9v.9h-.9zM76.6 549.4h.9v.9h-.9zM61.9 549.2h.9v.9h-.9zM60.1 553.5h.9v.9h-.9zM73.3 548.8h.9v.9h-.9zM72.5 549.3h.9v.9h-.9zM66.8 549.9h.9v.9h-.9zM65.7 547.8h.9v.9h-.9zM60.6 555.3h.9v.9h-.9zM62.9 548.4h.9v.9h-.9zM64.5 556.0h.9v.9h-.9zM82.5 551.4h.9v.9h-.9zM66.4 548.9h.9v.9h-.9zM69.4 550.5h.9v.9h-.9zM59.2 549.5h.9v.9h-.9zM62.2 551.0h.9v.9h-.9zM71.4 550.9h.9v.9h-.9zM57.9 552.4h.9v.9h-.9zM70.6 548.3h.9v.9h-.9zM60.5 550.6h.9v.9h-.9zM69.0 547.5h.9v.9h-.9zM69.6 549.7h.9v.9h-.9zM65.8 549.2h.9v.9h-.9zM71.5 550.3h.9v.9h-.9zM65.9 546.1h.9v.9h-.9zM67.2 552.2h.9v.9h-.9zM71.0 553.0h.9v.9h-.9zM61.7 548.4h.9v.9h-.9zM67.5 548.3h.9v.9h-.9zM71.5 551.8h.9v.9h-.9zM70.1 551.0h.9v.9h-.9zM68.6 549.6h.9v.9h-.9zM67.0 553.4h.9v.9h-.9zM69.0 550.1h.9v.9h-.9zM70.2 552.6h.9v.9h-.9zM68.5 550.7h.9v.9h-.9zM65.2 551.0h.9v.9h-.9zM66.1 553.6h.9v.9h-.9zM64.5 551.6h.9v.9h-.9zM69.9 550.4h.9v.9h-.9zM74.9 548.3h.9v.9h-.9zM69.1 549.6h.9v.9h-.9zM59.9 549.9h.9v.9h-.9zM74.1 552.2h.9v.9h-.9zM74.4 548.3h.9v.9h-.9zM68.9 551.2h.9v.9h-.9zM67.5 552.1h.9v.9h-.9zM67.3 550.1h.9v.9h-.9zM67.8 553.1h.9v.9h-.9zM72.3 551.5h.9v.9h-.9zM69.5 548.7h.9v.9h-.9zM66.3 544.4h.9v.9h-.9zM68.1 549.2h.9v.9h-.9zM66.1 549.5h.9v.9h-.9zM60.8 549.2h.9v.9h-.9zM65.5 551.6h.9v.9h-.9zM71.4 547.8h.9v.9h-.9zM65.2 552.8h.9v.9h-.9zM56.9 553.4h.9v.9h-.9zM70.0 548.5h.9v.9h-.9zM60.8 550.6h.9v.9h-.9zM72.9 551.7h.9v.9h-.9zM64.5 552.6h.9v.9h-.9zM69.6 554.6h.9v.9h-.9zM66.7 549.2h.9v.9h-.9zM67.1 548.0h.9v.9h-.9zM70.6 551.2h.9v.9h-.9zM62.2 553.1h.9v.9h-.9zM70.0 550.4h.9v.9h-.9zM68.0 552.4h.9v.9h-.9zM73.4 547.7h.9v.9h-.9zM71.4 552.6h.9v.9h-.9zM81.0 547.3h.9v.9h-.9zM61.8 548.3h.9v.9h-.9zM66.7 552.2h.9v.9h-.9zM63.4 549.3h.9v.9h-.9zM69.0 549.6h.9v.9h-.9zM66.3 552.8h.9v.9h-.9zM68.7 550.8h.9v.9h-.9zM66.4 548.9h.9v.9h-.9zM76.3 551.1h.9v.9h-.9zM72.5 551.6h.9v.9h-.9zM71.8 548.4h.9v.9h-.9zM67.6 549.7h.9v.9h-.9zM63.4 551.3h.9v.9h-.9zM72.4 548.1h.9v.9h-.9zM79.2 551.8h.9v.9h-.9zM65.0 550.2h.9v.9h-.9zM67.7 551.4h.9v.9h-.9zM65.2 550.6h.9v.9h-.9zM74.1 550.0h.9v.9h-.9zM63.5 549.8h.9v.9h-.9zM53.8 553.2h.9v.9h-.9zM64.1 549.7h.9v.9h-.9zM55.5 551.6h.9v.9h-.9zM61.8 548.3h.9v.9h-.9zM71.6 551.0h.9v.9h-.9zM69.9 552.8h.9v.9h-.9zM68.6 549.5h.9v.9h-.9zM73.0 550.9h.9v.9h-.9zM56.2 549.1h.9v.9h-.9zM61.8 551.9h.9v.9h-.9zM65.5 546.4h.9v.9h-.9zM67.2 547.5h.9v.9h-.9zM67.8 553.5h.9v.9h-.9zM69.8 548.8h.9v.9h-.9zM64.5 554.1h.9v.9h-.9zM82.2 544.1h.9v.9h-.9zM69.6 549.0h.9v.9h-.9zM72.3 548.5h.9v.9h-.9zM59.7 554.1h.9v.9h-.9zM71.7 546.7h.9v.9h-.9zM73.0 547.9h.9v.9h-.9zM67.4 548.0h.9v.9h-.9zM75.5 548.4h.9v.9h-.9zM73.9 546.9h.9v.9h-.9zM63.7 547.7h.9v.9h-.9zM63.5 552.7h.9v.9h-.9zM75.8 553.6h.9v.9h-.9zM66.5 548.1h.9v.9h-.9zM69.5 551.0h.9v.9h-.9zM62.6 549.4h.9v.9h-.9zM70.2 550.2h.9v.9h-.9zM62.4 554.0h.9v.9h-.9zM67.4 550.3h.9v.9h-.9zM71.8 550.7h.9v.9h-.9zM72.2 552.8h.9v.9h-.9zM58.5 548.6h.9v.9h-.9zM65.2 552.4h.9v.9h-.9zM66.7 553.2h.9v.9h-.9zM65.7 553.6h.9v.9h-.9zM68.3 551.6h.9v.9h-.9zM67.2 550.2h.9v.9h-.9zM69.7 554.1h.9v.9h-.9zM68.2 550.8h.9v.9h-.9zM61.5 551.3h.9v.9h-.9zM70.0 548.9h.9v.9h-.9zM77.7 550.3h.9v.9h-.9zM68.2 545.6h.9v.9h-.9zM64.4 552.4h.9v.9h-.9zM65.1 551.8h.9v.9h-.9zM67.3 549.9h.9v.9h-.9zM63.5 553.2h.9v.9h-.9zM67.2 553.1h.9v.9h-.9zM63.2 549.7h.9v.9h-.9zM66.9 552.6h.9v.9h-.9zM60.0 553.1h.9v.9h-.9zM59.8 549.5h.9v.9h-.9zM71.3 549.3h.9v.9h-.9zM69.0 551.3h.9v.9h-.9zM68.3 550.0h.9v.9h-.9zM67.7 551.4h.9v.9h-.9zM61.9 549.9h.9v.9h-.9zM69.4 552.7h.9v.9h-.9zM66.2 550.4h.9v.9h-.9zM70.0 554.1h.9v.9h-.9zM60.2 554.0h.9v.9h-.9zM61.0 553.2h.9v.9h-.9zM71.8 552.7h.9v.9h-.9zM78.4 548.8h.9v.9h-.9zM71.0 550.1h.9v.9h-.9zM71.9 549.0h.9v.9h-.9zM71.6 548.6h.9v.9h-.9zM70.6 549.1h.9v.9h-.9zM73.1 549.8h.9v.9h-.9zM64.8 546.7h.9v.9h-.9zM65.0 549.5h.9v.9h-.9zM78.3 551.0h.9v.9h-.9zM66.0 551.9h.9v.9h-.9zM62.6 549.0h.9v.9h-.9zM66.4 550.0h.9v.9h-.9zM58.6 549.7h.9v.9h-.9zM63.7 555.0h.9v.9h-.9zM63.7 554.3h.9v.9h-.9zM75.6 553.6h.9v.9h-.9zM68.9 552.6h.9v.9h-.9zM63.2 553.5h.9v.9h-.9zM73.7 552.4h.9v.9h-.9zM64.2 549.9h.9v.9h-.9zM65.5 548.7h.9v.9h-.9zM63.6 554.3h.9v.9h-.9zM69.8 547.3h.9v.9h-.9zM70.2 552.0h.9v.9h-.9zM73.5 548.0h.9v.9h-.9zM65.5 549.3h.9v.9h-.9zM67.3 550.0h.9v.9h-.9zM70.8 547.9h.9v.9h-.9zM67.9 550.0h.9v.9h-.9zM54.6 553.0h.9v.9h-.9zM69.8 551.9h.9v.9h-.9zM69.4 550.6h.9v.9h-.9zM67.8 550.0h.9v.9h-.9zM74.2 548.6h.9v.9h-.9zM67.7 553.0h.9v.9h-.9zM69.3 552.6h.9v.9h-.9zM73.8 551.4h.9v.9h-.9zM64.2 550.8h.9v.9h-.9zM62.3 549.4h.9v.9h-.9zM69.1 551.7h.9v.9h-.9zM64.7 546.1h.9v.9h-.9zM73.4 548.5h.9v.9h-.9zM68.9 546.6h.9v.9h-.9zM65.5 551.0h.9v.9h-.9zM66.7 552.8h.9v.9h-.9zM62.9 546.2h.9v.9h-.9zM68.2 552.2h.9v.9h-.9zM66.2 551.4h.9v.9h-.9zM65.2 550.5h.9v.9h-.9zM59.9 555.0h.9v.9h-.9zM66.4 550.8h.9v.9h-.9zM61.4 550.9h.9v.9h-.9zM64.6 549.9h.9v.9h-.9zM66.4 547.7h.9v.9h-.9zM74.6 548.2h.9v.9h-.9zM67.6 548.2h.9v.9h-.9zM71.2 548.9h.9v.9h-.9zM71.4 550.8h.9v.9h-.9zM71.5 548.7h.9v.9h-.9zM69.6 550.4h.9v.9h-.9zM65.4 549.0h.9v.9h-.9zM65.0 552.9h.9v.9h-.9zM76.1 546.8h.9v.9h-.9zM63.6 547.2h.9v.9h-.9zM57.1 549.5h.9v.9h-.9zM71.0 549.4h.9v.9h-.9zM66.5 548.4h.9v.9h-.9zM70.2 552.6h.9v.9h-.9zM63.8 548.1h.9v.9h-.9zM71.3 552.6h.9v.9h-.9zM60.0 549.7h.9v.9h-.9zM63.3 552.2h.9v.9h-.9zM64.9 549.8h.9v.9h-.9zM57.2 549.1h.9v.9h-.9zM65.7 548.2h.9v.9h-.9zM61.7 552.6h.9v.9h-.9zM70.0 547.7h.9v.9h-.9zM67.3 551.0h.9v.9h-.9zM74.4 547.2h.9v.9h-.9zM69.1 550.6h.9v.9h-.9zM74.0 548.1h.9v.9h-.9zM65.7 546.9h.9v.9h-.9zM73.2 549.3h.9v.9h-.9zM70.0 548.2h.9v.9h-.9zM65.2 553.1h.9v.9h-.9zM73.6 553.5h.9v.9h-.9zM59.8 554.0h.9v.9h-.9zM70.1 547.6h.9v.9h-.9zM64.3 547.4h.9v.9h-.9zM75.9 546.4h.9v.9h-.9zM61.0 547.6h.9v.9h-.9zM79.3 551.4h.9v.9h-.9zM59.3 547.7h.9v.9h-.9zM70.2 550.1h.9v.9h-.9zM67.3 554.2h.9v.9h-.9zM63.3 550.0h.9v.9h-.9zM70.0 547.8h.9v.9h-.9zM72.3 550.9h.9v.9h-.9zM67.2 546.9h.9v.9h-.9zM60.6 549.4h.9v.9h-.9zM63.2 550.0h.9v.9h-.9zM77.0 548.6h.9v.9h-.9zM65.3 551.9h.9v.9h-.9zM60.4 550.7h.9v.9h-.9zM55.9 551.1h.9v.9h-.9zM68.2 552.2h.9v.9h-.9zM63.5 547.7h.9v.9h-.9zM73.9 544.9h.9v.9h-.9zM73.5 549.0h.9v.9h-.9zM66.5 547.4h.9v.9h-.9zM71.1 549.5h.9v.9h-.9zM76.8 549.9h.9v.9h-.9zM68.5 547.5h.9v.9h-.9zM70.1 549.8h.9v.9h-.9zM72.9 543.3h.9v.9h-.9zM65.9 548.6h.9v.9h-.9zM69.8 549.6h.9v.9h-.9zM76.2 549.7h.9v.9h-.9zM76.3 551.8h.9v.9h-.9zM68.3 552.0h.9v.9h-.9zM69.5 548.4h.9v.9h-.9zM70.5 549.4h.9v.9h-.9zM66.3 553.1h.9v.9h-.9zM72.0 549.8h.9v.9h-.9zM73.5 553.7h.9v.9h-.9zM66.3 554.2h.9v.9h-.9zM73.2 551.5h.9v.9h-.9zM62.2 548.5h.9v.9h-.9zM67.1 549.6h.9v.9h-.9zM67.1 547.6h.9v.9h-.9zM69.0 549.4h.9v.9h-.9zM67.5 547.9h.9v.9h-.9zM73.4 550.6h.9v.9h-.9zM72.0 553.4h.9v.9h-.9zM63.5 551.7h.9v.9h-.9zM63.8 549.2h.9v.9h-.9zM60.4 554.3h.9v.9h-.9zM68.5 552.1h.9v.9h-.9zM67.8 549.9h.9v.9h-.9zM64.1 551.4h.9v.9h-.9zM71.9 549.8h.9v.9h-.9zM67.9 548.6h.9v.9h-.9zM63.8 553.3h.9v.9h-.9zM65.7 546.5h.9v.9h-.9zM70.7 544.7h.9v.9h-.9zM72.7 547.7h.9v.9h-.9zM65.0 554.2h.9v.9h-.9zM56.6 550.6h.9v.9h-.9zM61.8 553.3h.9v.9h-.9zM70.4 549.3h.9v.9h-.9zM60.9 550.0h.9v.9h-.9zM74.7 547.5h.9v.9h-.9zM64.0 548.2h.9v.9h-.9zM57.3 551.6h.9v.9h-.9zM65.2 547.4h.9v.9h-.9zM61.3 552.9h.9v.9h-.9zM65.8 548.5h.9v.9h-.9zM60.3 550.1h.9v.9h-.9zM65.7 551.4h.9v.9h-.9zM61.0 549.6h.9v.9h-.9zM68.3 549.1h.9v.9h-.9zM68.4 550.4h.9v.9h-.9zM63.0 550.5h.9v.9h-.9zM71.6 549.6h.9v.9h-.9zM70.3 547.9h.9v.9h-.9zM69.3 550.6h.9v.9h-.9zM62.5 547.6h.9v.9h-.9zM66.6 550.6h.9v.9h-.9zM68.0 548.2h.9v.9h-.9zM72.0 551.5h.9v.9h-.9zM67.1 547.5h.9v.9h-.9zM64.4 550.3h.9v.9h-.9zM63.2 553.9h.9v.9h-.9zM60.9 550.3h.9v.9h-.9zM69.1 556.2h.9v.9h-.9zM66.2 550.8h.9v.9h-.9zM59.6 550.9h.9v.9h-.9zM63.5 547.3h.9v.9h-.9zM62.4 548.1h.9v.9h-.9zM61.4 553.0h.9v.9h-.9zM74.9 551.4h.9v.9h-.9zM65.3 554.1h.9v.9h-.9zM68.3 546.8h.9v.9h-.9zM66.0 550.9h.9v.9h-.9zM67.5 552.0h.9v.9h-.9zM60.9 550.5h.9v.9h-.9zM65.8 554.4h.9v.9h-.9zM55.0 549.9h.9v.9h-.9zM61.0 549.6h.9v.9h-.9zM72.1 550.0h.9v.9h-.9zM64.4 556.4h.9v.9h-.9zM75.4 547.5h.9v.9h-.9zM63.6 553.0h.9v.9h-.9zM70.0 554.7h.9v.9h-.9zM71.2 547.7h.9v.9h-.9zM61.2 553.2h.9v.9h-.9zM76.7 550.7h.9v.9h-.9zM68.3 551.0h.9v.9h-.9zM56.9 548.6h.9v.9h-.9zM75.9 551.0h.9v.9h-.9zM62.8 546.9h.9v.9h-.9zM59.7 551.5h.9v.9h-.9zM60.5 554.4h.9v.9h-.9zM64.3 556.8h.9v.9h-.9zM61.2 550.6h.9v.9h-.9zM63.7 553.1h.9v.9h-.9zM80.3 547.5h.9v.9h-.9zM64.8 547.8h.9v.9h-.9zM70.8 549.6h.9v.9h-.9zM71.3 550.8h.9v.9h-.9zM64.5 546.2h.9v.9h-.9zM67.9 546.6h.9v.9h-.9zM57.1 553.1h.9v.9h-.9zM62.7 550.2h.9v.9h-.9zM67.1 547.9h.9v.9h-.9zM70.1 550.0h.9v.9h-.9zM70.2 548.3h.9v.9h-.9zM68.9 555.9h.9v.9h-.9zM65.0 548.9h.9v.9h-.9zM65.4 547.1h.9v.9h-.9zM64.8 550.3h.9v.9h-.9zM63.2 550.8h.9v.9h-.9zM73.2 546.5h.9v.9h-.9zM72.0 548.3h.9v.9h-.9zM68.1 553.2h.9v.9h-.9zM70.7 551.5h.9v.9h-.9zM68.9 550.4h.9v.9h-.9zM71.9 551.5h.9v.9h-.9zM71.6 549.9h.9v.9h-.9zM75.9 549.9h.9v.9h-.9zM66.6 554.7h.9v.9h-.9zM72.0 549.8h.9v.9h-.9zM56.0 549.9h.9v.9h-.9zM70.0 550.8h.9v.9h-.9zM74.2 550.0h.9v.9h-.9zM66.7 549.3h.9v.9h-.9zM61.6 549.3h.9v.9h-.9zM63.0 549.9h.9v.9h-.9zM73.2 550.7h.9v.9h-.9zM64.1 546.5h.9v.9h-.9zM67.6 547.7h.9v.9h-.9zM70.5 548.9h.9v.9h-.9zM74.9 549.8h.9v.9h-.9zM59.5 551.3h.9v.9h-.9zM64.4 553.1h.9v.9h-.9zM65.4 549.4h.9v.9h-.9zM70.1 549.8h.9v.9h-.9zM66.8 550.1h.9v.9h-.9zM65.2 552.4h.9v.9h-.9zM67.9 548.1h.9v.9h-.9zM63.8 550.4h.9v.9h-.9zM71.1 552.2h.9v.9h-.9zM69.5 549.7h.9v.9h-.9zM72.8 551.9h.9v.9h-.9zM65.3 546.7h.9v.9h-.9zM78.2 548.0h.9v.9h-.9zM74.7 551.1h.9v.9h-.9zM72.8 549.1h.9v.9h-.9zM71.1 552.8h.9v.9h-.9zM68.4 548.4h.9v.9h-.9zM73.4 548.7h.9v.9h-.9zM69.8 547.7h.9v.9h-.9zM76.5 552.8h.9v.9h-.9zM58.1 550.7h.9v.9h-.9zM76.1 545.2h.9v.9h-.9zM71.5 552.0h.9v.9h-.9zM70.8 551.3h.9v.9h-.9zM72.1 550.2h.9v.9h-.9zM76.5 551.7h.9v.9h-.9zM75.3 551.3h.9v.9h-.9zM71.3 549.1h.9v.9h-.9zM60.9 555.1h.9v.9h-.9zM66.8 550.9h.9v.9h-.9zM64.6 548.6h.9v.9h-.9zM69.2 548.6h.9v.9h-.9zM62.3 550.8h.9v.9h-.9zM71.1 544.3h.9v.9h-.9zM84.3 548.6h.9v.9h-.9zM72.5 559.0h.9v.9h-.9zM91.5 543.6h.9v.9h-.9zM77.4 546.2h.9v.9h-.9zM71.1 556.3h.9v.9h-.9zM64.0 553.5h.9v.9h-.9zM70.4 553.6h.9v.9h-.9zM74.5 545.4h.9v.9h-.9zM74.2 547.6h.9v.9h-.9zM94.5 548.1h.9v.9h-.9zM66.5 546.0h.9v.9h-.9zM69.2 541.6h.9v.9h-.9zM66.4 549.6h.9v.9h-.9zM88.6 552.7h.9v.9h-.9zM82.3 545.5h.9v.9h-.9zM74.7 542.0h.9v.9h-.9zM67.1 546.7h.9v.9h-.9zM68.0 543.7h.9v.9h-.9zM61.2 550.7h.9v.9h-.9zM67.6 554.1h.9v.9h-.9zM81.9 548.6h.9v.9h-.9zM77.9 557.6h.9v.9h-.9zM63.0 554.4h.9v.9h-.9zM75.9 554.9h.9v.9h-.9zM75.6 543.8h.9v.9h-.9zM73.3 547.8h.9v.9h-.9zM68.9 553.0h.9v.9h-.9zM72.1 547.7h.9v.9h-.9zM86.3 545.3h.9v.9h-.9zM65.8 546.1h.9v.9h-.9zM62.8 559.0h.9v.9h-.9zM70.2 552.1h.9v.9h-.9zM78.3 547.9h.9v.9h-.9zM60.2 553.9h.9v.9h-.9zM67.5 540.5h.9v.9h-.9zM60.6 555.2h.9v.9h-.9zM83.8 540.3h.9v.9h-.9zM69.1 543.3h.9v.9h-.9zM71.5 552.7h.9v.9h-.9zM71.4 544.9h.9v.9h-.9zM86.0 547.2h.9v.9h-.9zM60.1 549.8h.9v.9h-.9zM68.0 552.3h.9v.9h-.9zM76.3 547.0h.9v.9h-.9zM61.0 553.6h.9v.9h-.9zM85.3 547.3h.9v.9h-.9zM89.1 556.2h.9v.9h-.9zM62.2 550.4h.9v.9h-.9zM63.1 549.5h.9v.9h-.9zM73.0 554.4h.9v.9h-.9zM89.3 538.0h.9v.9h-.9zM56.6 552.7h.9v.9h-.9zM60.0 552.6h.9v.9h-.9zM68.0 550.5h.9v.9h-.9zM82.7 541.6h.9v.9h-.9zM69.3 547.3h.9v.9h-.9zM78.5 554.4h.9v.9h-.9zM73.0 553.0h.9v.9h-.9zM83.1 541.3h.9v.9h-.9zM75.2 541.7h.9v.9h-.9zM69.7 552.5h.9v.9h-.9zM84.9 546.4h.9v.9h-.9zM75.4 553.9h.9v.9h-.9zM79.0 547.8h.9v.9h-.9zM71.0 553.6h.9v.9h-.9zM65.1 551.8h.9v.9h-.9zM73.7 542.9h.9v.9h-.9zM55.9 557.6h.9v.9h-.9zM63.3 553.4h.9v.9h-.9zM64.4 555.2h.9v.9h-.9zM65.9 547.9h.9v.9h-.9zM68.3 553.4h.9v.9h-.9zM77.9 547.1h.9v.9h-.9zM63.0 545.1h.9v.9h-.9zM66.0 554.1h.9v.9h-.9zM75.6 551.7h.9v.9h-.9zM62.8 544.4h.9v.9h-.9zM67.9 553.7h.9v.9h-.9zM73.9 549.1h.9v.9h-.9zM53.8 553.9h.9v.9h-.9zM76.7 549.9h.9v.9h-.9zM76.3 553.1h.9v.9h-.9zM80.0 548.9h.9v.9h-.9zM65.2 555.4h.9v.9h-.9zM80.9 547.4h.9v.9h-.9zM68.4 547.9h.9v.9h-.9zM70.7 550.5h.9v.9h-.9zM75.3 550.2h.9v.9h-.9zM80.7 537.1h.9v.9h-.9zM56.2 551.4h.9v.9h-.9zM68.2 546.7h.9v.9h-.9zM53.8 542.6h.9v.9h-.9zM79.6 538.4h.9v.9h-.9zM82.9 551.4h.9v.9h-.9zM70.7 541.8h.9v.9h-.9zM82.8 550.2h.9v.9h-.9zM74.6 542.3h.9v.9h-.9zM84.5 548.2h.9v.9h-.9zM76.0 545.6h.9v.9h-.9zM70.1 550.1h.9v.9h-.9zM81.4 547.1h.9v.9h-.9zM71.7 543.6h.9v.9h-.9zM83.1 544.3h.9v.9h-.9zM68.4 552.8h.9v.9h-.9zM62.0 553.2h.9v.9h-.9zM75.2 553.8h.9v.9h-.9zM64.2 554.5h.9v.9h-.9zM74.1 550.2h.9v.9h-.9zM86.6 540.4h.9v.9h-.9zM72.8 549.1h.9v.9h-.9zM82.5 550.7h.9v.9h-.9zM81.4 552.6h.9v.9h-.9zM68.8 547.8h.9v.9h-.9zM73.6 555.4h.9v.9h-.9zM64.7 549.4h.9v.9h-.9zM57.5 543.4h.9v.9h-.9zM65.8 549.1h.9v.9h-.9zM98.5 545.2h.9v.9h-.9zM75.0 545.6h.9v.9h-.9zM71.0 553.3h.9v.9h-.9zM57.9 550.1h.9v.9h-.9zM70.3 543.1h.9v.9h-.9zM74.1 545.4h.9v.9h-.9zM62.5 551.7h.9v.9h-.9zM76.4 549.5h.9v.9h-.9zM78.6 549.3h.9v.9h-.9zM69.7 547.4h.9v.9h-.9zM61.4 539.2h.9v.9h-.9zM60.5 544.3h.9v.9h-.9zM86.7 547.2h.9v.9h-.9zM76.3 543.7h.9v.9h-.9zM75.8 545.2h.9v.9h-.9zM69.3 546.9h.9v.9h-.9zM67.2 554.5h.9v.9h-.9zM70.3 545.7h.9v.9h-.9zM75.1 546.5h.9v.9h-.9zM68.7 548.7h.9v.9h-.9zM64.9 550.5h.9v.9h-.9zM73.2 552.0h.9v.9h-.9zM86.4 554.7h.9v.9h-.9zM78.4 549.0h.9v.9h-.9zM81.9 549.2h.9v.9h-.9zM80.2 550.6h.9v.9h-.9zM65.1 550.8h.9v.9h-.9zM72.6 552.9h.9v.9h-.9zM83.3 551.4h.9v.9h-.9zM70.0 548.6h.9v.9h-.9zM71.0 544.3h.9v.9h-.9zM63.5 545.9h.9v.9h-.9zM82.9 546.7h.9v.9h-.9zM90.6 552.4h.9v.9h-.9zM66.7 555.9h.9v.9h-.9zM74.8 553.0h.9v.9h-.9zM49.6 552.4h.9v.9h-.9zM60.0 552.8h.9v.9h-.9zM67.2 543.4h.9v.9h-.9zM49.4 551.9h.9v.9h-.9zM103.9 543.2h.9v.9h-.9zM74.9 548.6h.9v.9h-.9zM80.0 545.6h.9v.9h-.9zM77.8 552.8h.9v.9h-.9zM72.0 546.7h.9v.9h-.9zM72.2 546.4h.9v.9h-.9zM82.0 541.3h.9v.9h-.9zM74.2 545.9h.9v.9h-.9zM68.5 551.0h.9v.9h-.9zM79.1 553.1h.9v.9h-.9zM83.2 551.8h.9v.9h-.9zM71.3 552.4h.9v.9h-.9zM63.9 548.1h.9v.9h-.9zM55.8 545.4h.9v.9h-.9zM56.5 548.3h.9v.9h-.9zM69.5 550.5h.9v.9h-.9zM75.3 542.5h.9v.9h-.9zM73.9 551.6h.9v.9h-.9zM72.2 544.4h.9v.9h-.9zM62.6 549.2h.9v.9h-.9zM83.8 549.5h.9v.9h-.9zM70.6 545.0h.9v.9h-.9zM66.6 549.8h.9v.9h-.9zM69.5 548.2h.9v.9h-.9zM61.6 558.0h.9v.9h-.9zM82.5 550.5h.9v.9h-.9zM63.0 546.5h.9v.9h-.9zM66.6 550.6h.9v.9h-.9zM61.4 551.9h.9v.9h-.9zM75.5 543.6h.9v.9h-.9zM79.2 552.9h.9v.9h-.9zM68.8 546.4h.9v.9h-.9zM63.9 554.3h.9v.9h-.9zM69.0 544.5h.9v.9h-.9zM61.0 547.2h.9v.9h-.9zM78.8 550.5h.9v.9h-.9zM60.3 552.1h.9v.9h-.9zM68.6 552.2h.9v.9h-.9zM72.6 538.6h.9v.9h-.9zM81.0 541.9h.9v.9h-.9zM71.5 543.7h.9v.9h-.9zM65.5 548.9h.9v.9h-.9zM82.9 536.9h.9v.9h-.9zM77.3 547.2h.9v.9h-.9zM71.5 553.1h.9v.9h-.9zM77.8 540.5h.9v.9h-.9zM78.7 547.9h.9v.9h-.9zM69.6 553.5h.9v.9h-.9zM85.0 546.6h.9v.9h-.9zM83.3 550.8h.9v.9h-.9zM79.2 544.0h.9v.9h-.9zM70.7 551.4h.9v.9h-.9zM97.1 537.2h.9v.9h-.9zM84.5 549.6h.9v.9h-.9zM85.8 543.7h.9v.9h-.9zM88.8 546.4h.9v.9h-.9zM70.0 553.8h.9v.9h-.9zM57.5 558.8h.9v.9h-.9zM68.4 549.4h.9v.9h-.9zM86.6 537.5h.9v.9h-.9zM66.6 559.8h.9v.9h-.9zM74.9 546.6h.9v.9h-.9zM68.1 553.7h.9v.9h-.9zM65.4 549.1h.9v.9h-.9zM73.6 556.2h.9v.9h-.9zM70.7 553.6h.9v.9h-.9zM62.6 550.1h.9v.9h-.9zM63.9 549.3h.9v.9h-.9zM73.8 550.7h.9v.9h-.9zM63.7 557.4h.9v.9h-.9zM61.0 543.0h.9v.9h-.9zM75.6 548.7h.9v.9h-.9zM65.6 552.9h.9v.9h-.9zM60.4 549.6h.9v.9h-.9zM80.7 552.1h.9v.9h-.9zM77.7 549.9h.9v.9h-.9zM75.0 552.5h.9v.9h-.9zM79.3 540.2h.9v.9h-.9zM66.2 551.2h.9v.9h-.9zM80.9 550.4h.9v.9h-.9zM66.6 544.8h.9v.9h-.9zM64.7 551.1h.9v.9h-.9zM69.8 552.4h.9v.9h-.9zM66.8 555.3h.9v.9h-.9zM62.5 545.5h.9v.9h-.9zM60.4 545.3h.9v.9h-.9zM58.6 545.7h.9v.9h-.9zM70.5 546.4h.9v.9h-.9zM85.3 527.3h.9v.9h-.9zM107.5 538.9h.9v.9h-.9zM82.0 529.1h.9v.9h-.9zM99.8 534.5h.9v.9h-.9zM87.7 523.7h.9v.9h-.9zM82.9 531.3h.9v.9h-.9zM89.6 522.2h.9v.9h-.9zM91.0 525.9h.9v.9h-.9zM81.7 535.4h.9v.9h-.9zM106.3 532.1h.9v.9h-.9zM84.1 535.8h.9v.9h-.9zM87.9 535.9h.9v.9h-.9zM93.6 532.9h.9v.9h-.9zM82.3 542.4h.9v.9h-.9zM83.2 542.3h.9v.9h-.9zM84.8 527.4h.9v.9h-.9zM72.8 522.0h.9v.9h-.9zM94.3 526.0h.9v.9h-.9zM84.1 524.0h.9v.9h-.9zM91.1 531.6h.9v.9h-.9zM88.7 528.5h.9v.9h-.9zM80.1 522.9h.9v.9h-.9zM75.6 531.0h.9v.9h-.9zM79.4 533.1h.9v.9h-.9zM85.4 529.4h.9v.9h-.9zM100.8 528.4h.9v.9h-.9zM92.2 525.4h.9v.9h-.9zM89.6 537.1h.9v.9h-.9zM87.3 541.4h.9v.9h-.9zM97.2 516.1h.9v.9h-.9zM88.9 525.6h.9v.9h-.9zM87.2 542.6h.9v.9h-.9zM84.7 524.2h.9v.9h-.9zM86.7 535.8h.9v.9h-.9zM62.3 531.3h.9v.9h-.9zM101.6 512.6h.9v.9h-.9zM109.5 537.3h.9v.9h-.9zM87.6 525.1h.9v.9h-.9zM82.6 529.8h.9v.9h-.9zM97.4 530.4h.9v.9h-.9zM92.9 534.6h.9v.9h-.9zM66.0 537.2h.9v.9h-.9zM91.8 524.7h.9v.9h-.9zM94.5 534.5h.9v.9h-.9zM93.0 550.0h.9v.9h-.9zM89.1 538.6h.9v.9h-.9zM87.5 538.3h.9v.9h-.9zM88.9 523.2h.9v.9h-.9zM96.8 530.3h.9v.9h-.9zM99.5 523.5h.9v.9h-.9zM99.5 525.9h.9v.9h-.9zM78.0 532.7h.9v.9h-.9zM79.4 539.6h.9v.9h-.9zM68.9 535.2h.9v.9h-.9zM98.8 533.7h.9v.9h-.9zM85.3 541.4h.9v.9h-.9zM90.7 521.0h.9v.9h-.9zM86.8 525.3h.9v.9h-.9zM93.4 529.2h.9v.9h-.9zM93.9 539.6h.9v.9h-.9zM85.9 529.4h.9v.9h-.9zM92.9 518.8h.9v.9h-.9zM85.4 536.8h.9v.9h-.9zM83.3 533.6h.9v.9h-.9zM79.3 542.8h.9v.9h-.9zM89.7 537.7h.9v.9h-.9zM87.0 530.1h.9v.9h-.9zM86.5 523.0h.9v.9h-.9zM90.5 527.5h.9v.9h-.9zM100.0 528.1h.9v.9h-.9zM75.3 538.1h.9v.9h-.9zM95.7 534.1h.9v.9h-.9zM79.8 529.4h.9v.9h-.9zM108.4 525.5h.9v.9h-.9zM96.6 516.0h.9v.9h-.9zM82.5 536.5h.9v.9h-.9zM85.1 535.8h.9v.9h-.9zM87.1 538.7h.9v.9h-.9zM84.9 531.8h.9v.9h-.9zM105.1 533.4h.9v.9h-.9zM87.9 535.3h.9v.9h-.9zM86.7 533.4h.9v.9h-.9zM79.9 534.3h.9v.9h-.9zM80.5 531.2h.9v.9h-.9zM95.7 523.6h.9v.9h-.9zM87.9 525.3h.9v.9h-.9zM85.3 527.4h.9v.9h-.9zM110.4 519.0h.9v.9h-.9zM104.5 518.7h.9v.9h-.9zM83.6 529.4h.9v.9h-.9zM78.2 529.4h.9v.9h-.9zM97.5 523.2h.9v.9h-.9zM94.7 526.9h.9v.9h-.9zM83.4 544.2h.9v.9h-.9zM91.3 522.0h.9v.9h-.9zM94.5 529.2h.9v.9h-.9zM92.2 524.5h.9v.9h-.9zM92.7 532.7h.9v.9h-.9zM77.2 547.5h.9v.9h-.9zM83.3 534.4h.9v.9h-.9zM79.9 531.7h.9v.9h-.9zM75.7 532.7h.9v.9h-.9zM100.4 526.7h.9v.9h-.9zM71.8 536.0h.9v.9h-.9zM81.8 531.9h.9v.9h-.9zM84.2 535.7h.9v.9h-.9zM89.5 522.3h.9v.9h-.9zM85.3 530.3h.9v.9h-.9zM73.4 521.1h.9v.9h-.9zM79.2 533.1h.9v.9h-.9zM74.6 531.4h.9v.9h-.9zM78.7 533.0h.9v.9h-.9zM81.4 534.6h.9v.9h-.9zM83.7 537.7h.9v.9h-.9zM85.3 536.7h.9v.9h-.9zM83.8 534.6h.9v.9h-.9zM77.5 532.5h.9v.9h-.9zM91.9 527.8h.9v.9h-.9zM73.3 531.8h.9v.9h-.9zM93.7 540.0h.9v.9h-.9zM95.2 544.0h.9v.9h-.9zM89.1 525.4h.9v.9h-.9zM97.3 516.8h.9v.9h-.9zM90.2 523.1h.9v.9h-.9zM99.6 513.8h.9v.9h-.9zM89.0 524.2h.9v.9h-.9zM76.4 539.7h.9v.9h-.9zM98.4 523.7h.9v.9h-.9zM76.7 535.2h.9v.9h-.9zM72.2 536.4h.9v.9h-.9z" fill="#f01010" fill-opacity="0.8"/>
<ellipse cx="67.4" cy="550.2" rx="6.1" ry="2.8" fill="#dc1c00" fill-opacity="0.90" filter="url(#fb)" transform="rotate(0 67.4 550.2)"/>
<line x1="80.60" y1="486.10" x2="80.60" y2="562.00" stroke="#ee2020" stroke-width="0.9"/>
<line x1="49.30" y1="537.40" x2="125.60" y2="537.40" stroke="#ee2020" stroke-width="0.9"/>
<rect x="49.30" y="486.10" width="76.30" height="75.90" fill="none" stroke="#505050" stroke-width="0.7"/>
<line x1="47.30" y1="562.00" x2="49.30" y2="562.00" stroke="#444" stroke-width="0.6"/>
<line x1="49.30" y1="562.00" x2="49.30" y2="564.00" stroke="#444" stroke-width="0.6"/>
<text x="46.90" y="564.16" font-size="6.00" text-anchor="end" fill="#333">0</text>
<text x="49.30" y="569.96" font-size="6.00" text-anchor="middle" fill="#333">0</text>
<line x1="47.30" y1="543.02" x2="49.30" y2="543.02" stroke="#444" stroke-width="0.6"/>
<line x1="68.38" y1="562.00" x2="68.38" y2="564.00" stroke="#444" stroke-width="0.6"/>
<text x="46.90" y="545.18" font-size="6.00" text-anchor="end" fill="#333">1</text>
<text x="68.38" y="569.96" font-size="6.00" text-anchor="middle" fill="#333">1</text>
<line x1="47.30" y1="524.05" x2="49.30" y2="524.05" stroke="#444" stroke-width="0.6"/>
<line x1="87.45" y1="562.00" x2="87.45" y2="564.00" stroke="#444" stroke-width="0.6"/>
<text x="46.90" y="526.21" font-size="6.00" text-anchor="end" fill="#333">2</text>
<text x="87.45" y="569.96" font-size="6.00" text-anchor="middle" fill="#333">2</text>
<line x1="47.30" y1="505.08" x2="49.30" y2="505.08" stroke="#444" stroke-width="0.6"/>
<line x1="106.52" y1="562.00" x2="106.52" y2="564.00" stroke="#444" stroke-width="0.6"/>
<text x="46.90" y="507.24" font-size="6.00" text-anchor="end" fill="#333">3</text>
<text x="106.52" y="569.96" font-size="6.00" text-anchor="middle" fill="#333">3</text>
<line x1="47.30" y1="486.10" x2="49.30" y2="486.10" stroke="#444" stroke-width="0.6"/>
<line x1="125.60" y1="562.00" x2="125.60" y2="564.00" stroke="#444" stroke-width="0.6"/>
<text x="46.90" y="488.26" font-size="6.00" text-anchor="end" fill="#333">4</text>
<text x="125.60" y="569.96" font-size="6.00" text-anchor="middle" fill="#333">4</text>
<text x="87.45" y="484.06" font-size="6.00" text-anchor="middle" fill="#333" textLength="54.94" lengthAdjust="spacingAndGlyphs">APOPTOSIS PROFILE</text>
<text x="50.90" y="492.74" font-size="5.10" fill="#333">Dead</text>
<text x="50.90" y="498.94" font-size="5.10" fill="#333">0.64 %</text>
<text x="124.20" y="492.74" font-size="5.10" text-anchor="end" fill="#333">Late Apop./Dead</text>
<text x="124.20" y="498.94" font-size="5.10" text-anchor="end" fill="#333">2.56 %</text>
<text x="50.90" y="553.64" font-size="5.10" fill="#333">92.82 %</text>
<text x="50.90" y="559.84" font-size="5.10" fill="#333">Live</text>
<text x="124.20" y="553.64" font-size="5.10" text-anchor="end" fill="#333">3.98 %</text>
<text x="124.20" y="559.84" font-size="5.10" text-anchor="end" fill="#333">Early Apop.</text>
<text x="53.80" y="577.01" font-size="4.20" fill="#555">Live</text>
<text x="87.45" y="577.32" font-size="5.60" text-anchor="middle" fill="#444">ANNEXIN V</text>
<text x="126.60" y="577.01" font-size="4.20" text-anchor="end" fill="#555">Apoptosis</text>
<text x="38.72" y="524.05" font-size="5.60" text-anchor="middle" transform="rotate(-90 38.72 524.05)" fill="#444" textLength="24.00" lengthAdjust="spacingAndGlyphs">VIABILITY</text>
<rect x="145.40" y="485.70" width="77.60" height="77.40" fill="#ffffff"/>
<rect x="145.80" y="538.60" width="31.80" height="24.10" fill="#eaf2c6"/>
<path d="M169.9 556.2h.9v.9h-.9zM164.0 550.8h.9v.9h-.9zM163.5 551.5h.9v.9h-.9zM160.4 554.3h.9v.9h-.9zM164.6 556.9h.9v.9h-.9zM163.8 556.0h.9v.9h-.9zM160.1 547.8h.9v.9h-.9zM162.2 553.2h.9v.9h-.9zM169.3 553.5h.9v.9h-.9zM161.0 552.1h.9v.9h-.9zM168.0 554.1h.9v.9h-.9zM164.3 557.0h.9v.9h-.9zM157.1 552.5h.9v.9h-.9zM160.6 551.3h.9v.9h-.9zM168.8 557.3h.9v.9h-.9zM166.3 551.2h.9v.9h-.9zM162.5 551.4h.9v.9h-.9zM159.9 550.9h.9v.9h-.9zM165.4 546.5h.9v.9h-.9zM153.4 555.5h.9v.9h-.9zM166.7 548.7h.9v.9h-.9zM157.4 555.4h.9v.9h-.9zM161.4 550.9h.9v.9h-.9zM159.1 549.5h.9v.9h-.9zM173.1 551.7h.9v.9h-.9zM171.0 555.5h.9v.9h-.9zM158.6 550.5h.9v.9h-.9zM169.5 555.1h.9v.9h-.9zM161.8 550.6h.9v.9h-.9zM164.2 553.9h.9v.9h-.9zM164.4 549.3h.9v.9h-.9zM161.6 555.5h.9v.9h-.9zM172.0 552.4h.9v.9h-.9zM152.8 551.8h.9v.9h-.9zM169.8 548.2h.9v.9h-.9zM170.0 551.3h.9v.9h-.9zM166.4 550.2h.9v.9h-.9zM174.1 550.0h.9v.9h-.9zM155.6 549.4h.9v.9h-.9zM165.5 552.0h.9v.9h-.9zM163.2 549.5h.9v.9h-.9zM164.7 550.8h.9v.9h-.9zM164.6 548.9h.9v.9h-.9zM158.0 551.0h.9v.9h-.9zM167.6 551.4h.9v.9h-.9zM173.2 546.2h.9v.9h-.9zM163.1 548.1h.9v.9h-.9zM160.6 546.1h.9v.9h-.9zM171.7 552.5h.9v.9h-.9zM169.5 549.6h.9v.9h-.9zM162.7 555.2h.9v.9h-.9zM163.7 548.7h.9v.9h-.9zM170.3 550.0h.9v.9h-.9zM167.4 553.8h.9v.9h-.9zM161.4 551.4h.9v.9h-.9zM163.4 554.5h.9v.9h-.9zM157.3 548.8h.9v.9h-.9zM164.1 550.4h.9v.9h-.9zM158.8 555.6h.9v.9h-.9zM169.9 550.2h.9v.9h-.9zM170.0 553.3h.9v.9h-.9zM162.2 550.8h.9v.9h-.9zM163.0 547.9h.9v.9h-.9zM172.2 553.1h.9v.9h-.9zM170.6 551.6h.9v.9h-.9zM169.6 550.0h.9v.9h-.9zM163.5 550.9h.9v.9h-.9zM176.0 547.6h.9v.9h-.9zM167.3 552.2h.9v.9h-.9zM179.0 546.5h.9v.9h-.9zM167.3 549.2h.9v.9h-.9zM165.4 549.5h.9v.9h-.9zM171.2 550.4h.9v.9h-.9zM165.2 552.6h.9v.9h-.9zM161.7 551.6h.9v.9h-.9zM167.8 557.3h.9v.9h-.9zM169.9 553.6h.9v.9h-.9zM170.6 547.5h.9v.9h-.9zM173.9 548.7h.9v.9h-.9zM161.0 546.0h.9v.9h-.9zM162.7 547.0h.9v.9h-.9zM160.5 551.7h.9v.9h-.9zM158.6 551.8h.9v.9h-.9zM168.9 548.2h.9v.9h-.9zM156.0 553.0h.9v.9h-.9zM160.5 548.5h.9v.9h-.9zM167.1 548.0h.9v.9h-.9zM165.5 546.4h.9v.9h-.9zM166.6 549.1h.9v.9h-.9zM169.2 550.1h.9v.9h-.9zM160.8 552.3h.9v.9h-.9zM173.7 546.6h.9v.9h-.9zM163.3 549.7h.9v.9h-.9zM155.8 548.9h.9v.9h-.9zM164.5 557.7h.9v.9h-.9zM159.8 552.6h.9v.9h-.9zM162.8 551.6h.9v.9h-.9zM160.2 556.8h.9v.9h-.9zM174.3 553.5h.9v.9h-.9zM158.5 556.1h.9v.9h-.9zM162.9 548.1h.9v.9h-.9zM171.9 545.2h.9v.9h-.9zM161.2 551.9h.9v.9h-.9zM172.9 551.3h.9v.9h-.9zM167.4 545.9h.9v.9h-.9zM159.1 554.8h.9v.9h-.9zM168.4 553.0h.9v.9h-.9zM163.5 547.9h.9v.9h-.9zM167.4 547.0h.9v.9h-.9zM160.9 551.5h.9v.9h-.9zM167.3 550.1h.9v.9h-.9zM153.3 555.3h.9v.9h-.9zM168.1 556.6h.9v.9h-.9zM155.2 554.3h.9v.9h-.9zM162.1 549.3h.9v.9h-.9zM168.5 552.5h.9v.9h-.9zM159.4 554.5h.9v.9h-.9zM171.9 549.8h.9v.9h-.9zM168.4 557.0h.9v.9h-.9zM153.9 549.3h.9v.9h-.9zM177.1 549.1h.9v.9h-.9zM160.3 556.6h.9v.9h-.9zM157.5 550.8h.9v.9h-.9zM166.7 553.2h.9v.9h-.9zM168.8 546.8h.9v.9h-.9zM167.8 552.7h.9v.9h-.9zM158.2 553.0h.9v.9h-.9zM160.6 546.7h.9v.9h-.9zM162.7 546.8h.9v.9h-.9zM162.0 550.9h.9v.9h-.9zM168.0 551.6h.9v.9h-.9zM165.9 551.0h.9v.9h-.9zM164.0 551.0h.9v.9h-.9zM172.6 545.3h.9v.9h-.9zM164.5 547.0h.9v.9h-.9zM165.0 551.0h.9v.9h-.9zM167.8 551.2h.9v.9h-.9zM171.0 551.9h.9v.9h-.9zM164.8 550.6h.9v.9h-.9zM161.6 553.7h.9v.9h-.9zM167.4 548.5h.9v.9h-.9zM163.5 554.1h.9v.9h-.9zM161.3 552.4h.9v.9h-.9zM163.2 551.9h.9v.9h-.9zM176.6 553.7h.9v.9h-.9zM158.9 553.4h.9v.9h-.9zM157.1 549.2h.9v.9h-.9zM156.7 554.2h.9v.9h-.9zM159.3 550.9h.9v.9h-.9zM164.2 553.3h.9v.9h-.9zM162.4 549.9h.9v.9h-.9zM168.0 545.7h.9v.9h-.9zM161.2 547.4h.9v.9h-.9zM177.4 548.6h.9v.9h-.9zM155.4 551.3h.9v.9h-.9zM171.0 548.6h.9v.9h-.9zM166.6 553.5h.9v.9h-.9zM169.6 549.6h.9v.9h-.9zM166.0 556.2h.9v.9h-.9zM169.5 550.1h.9v.9h-.9zM168.9 552.4h.9v.9h-.9zM174.8 547.8h.9v.9h-.9zM167.5 554.1h.9v.9h-.9zM161.6 556.2h.9v.9h-.9zM166.8 552.9h.9v.9h-.9zM163.2 558.1h.9v.9h-.9zM166.5 554.7h.9v.9h-.9zM152.0 547.5h.9v.9h-.9zM175.3 550.9h.9v.9h-.9zM152.5 552.7h.9v.9h-.9zM169.7 553.5h.9v.9h-.9zM170.2 548.2h.9v.9h-.9zM168.3 549.3h.9v.9h-.9zM158.6 553.4h.9v.9h-.9zM158.1 556.2h.9v.9h-.9zM169.6 551.9h.9v.9h-.9zM169.7 551.8h.9v.9h-.9zM159.1 548.0h.9v.9h-.9zM171.6 551.5h.9v.9h-.9zM167.9 556.4h.9v.9h-.9zM161.6 548.1h.9v.9h-.9zM165.9 551.6h.9v.9h-.9zM173.2 546.8h.9v.9h-.9zM159.2 553.1h.9v.9h-.9zM166.5 554.4h.9v.9h-.9zM168.3 549.2h.9v.9h-.9zM165.4 555.6h.9v.9h-.9zM163.9 551.5h.9v.9h-.9zM167.2 551.3h.9v.9h-.9zM163.0 546.6h.9v.9h-.9zM173.0 552.5h.9v.9h-.9zM157.7 548.8h.9v.9h-.9zM161.0 555.1h.9v.9h-.9zM166.4 554.9h.9v.9h-.9zM160.4 552.3h.9v.9h-.9zM165.3 552.8h.9v.9h-.9zM171.6 548.7h.9v.9h-.9zM176.2 549.0h.9v.9h-.9zM167.1 548.3h.9v.9h-.9zM164.4 548.2h.9v.9h-.9zM161.9 553.0h.9v.9h-.9zM149.8 554.7h.9v.9h-.9zM167.2 549.7h.9v.9h-.9zM165.7 550.1h.9v.9h-.9zM179.4 549.8h.9v.9h-.9zM166.4 551.6h.9v.9h-.9zM168.6 554.5h.9v.9h-.9zM168.0 545.5h.9v.9h-.9zM171.0 548.3h.9v.9h-.9zM160.6 555.7h.9v.9h-.9zM165.1 549.8h.9v.9h-.9zM161.5 553.5h.9v.9h-.9zM157.3 554.9h.9v.9h-.9zM174.0 549.9h.9v.9h-.9zM170.7 551.4h.9v.9h-.9zM160.2 553.0h.9v.9h-.9zM167.8 552.7h.9v.9h-.9zM170.4 549.1h.9v.9h-.9zM157.7 550.7h.9v.9h-.9zM168.6 544.9h.9v.9h-.9zM159.2 552.5h.9v.9h-.9zM164.8 552.3h.9v.9h-.9zM174.5 553.4h.9v.9h-.9zM164.5 548.4h.9v.9h-.9zM174.8 549.5h.9v.9h-.9zM172.5 551.6h.9v.9h-.9zM171.3 551.4h.9v.9h-.9zM172.4 555.0h.9v.9h-.9zM170.6 552.5h.9v.9h-.9zM163.3 551.6h.9v.9h-.9zM167.2 551.7h.9v.9h-.9zM157.9 553.9h.9v.9h-.9zM167.3 548.9h.9v.9h-.9zM164.6 551.1h.9v.9h-.9zM160.2 550.2h.9v.9h-.9zM163.0 556.0h.9v.9h-.9zM176.0 552.5h.9v.9h-.9zM164.5 547.6h.9v.9h-.9zM161.2 556.5h.9v.9h-.9zM168.1 549.3h.9v.9h-.9zM161.0 553.4h.9v.9h-.9zM170.0 552.6h.9v.9h-.9zM164.2 552.6h.9v.9h-.9zM177.3 555.2h.9v.9h-.9zM170.0 551.7h.9v.9h-.9zM173.1 558.0h.9v.9h-.9zM166.6 550.7h.9v.9h-.9zM155.9 559.5h.9v.9h-.9zM175.7 549.6h.9v.9h-.9zM161.3 554.5h.9v.9h-.9zM169.1 548.5h.9v.9h-.9zM160.9 551.8h.9v.9h-.9zM172.5 553.7h.9v.9h-.9zM168.9 547.7h.9v.9h-.9zM153.6 556.2h.9v.9h-.9zM176.9 551.3h.9v.9h-.9zM170.5 550.1h.9v.9h-.9zM170.3 547.1h.9v.9h-.9zM174.3 548.1h.9v.9h-.9zM158.6 554.7h.9v.9h-.9zM175.8 552.6h.9v.9h-.9zM163.9 555.6h.9v.9h-.9zM158.1 553.0h.9v.9h-.9zM168.6 550.9h.9v.9h-.9zM162.5 554.4h.9v.9h-.9zM154.1 550.6h.9v.9h-.9zM157.7 549.0h.9v.9h-.9zM168.5 556.3h.9v.9h-.9zM165.6 547.5h.9v.9h-.9zM157.2 551.3h.9v.9h-.9zM168.0 550.3h.9v.9h-.9zM165.1 546.4h.9v.9h-.9zM166.0 554.2h.9v.9h-.9zM159.9 553.8h.9v.9h-.9zM160.3 552.3h.9v.9h-.9zM156.7 546.1h.9v.9h-.9zM167.0 552.3h.9v.9h-.9zM173.3 546.9h.9v.9h-.9zM157.0 550.6h.9v.9h-.9zM158.5 554.3h.9v.9h-.9zM167.6 552.2h.9v.9h-.9zM167.7 553.0h.9v.9h-.9zM169.1 550.1h.9v.9h-.9zM154.4 552.8h.9v.9h-.9zM151.3 556.2h.9v.9h-.9zM166.9 548.7h.9v.9h-.9zM157.8 553.7h.9v.9h-.9zM162.5 554.9h.9v.9h-.9zM173.0 547.9h.9v.9h-.9zM165.4 552.5h.9v.9h-.9zM165.0 551.8h.9v.9h-.9zM161.5 555.4h.9v.9h-.9zM164.1 550.4h.9v.9h-.9zM164.4 547.5h.9v.9h-.9zM154.4 553.4h.9v.9h-.9zM168.6 547.7h.9v.9h-.9zM164.2 550.7h.9v.9h-.9zM165.9 550.1h.9v.9h-.9zM165.7 550.8h.9v.9h-.9zM170.2 551.5h.9v.9h-.9zM165.1 554.5h.9v.9h-.9zM160.4 552.0h.9v.9h-.9zM168.6 551.9h.9v.9h-.9zM174.6 552.0h.9v.9h-.9zM166.5 552.3h.9v.9h-.9zM173.2 551.2h.9v.9h-.9zM158.2 553.8h.9v.9h-.9zM151.2 550.1h.9v.9h-.9zM179.1 551.3h.9v.9h-.9zM169.3 548.4h.9v.9h-.9zM163.7 553.3h.9v.9h-.9zM172.3 554.0h.9v.9h-.9zM168.3 549.6h.9v.9h-.9zM159.7 557.2h.9v.9h-.9zM169.5 551.2h.9v.9h-.9zM168.8 554.5h.9v.9h-.9zM162.0 550.1h.9v.9h-.9zM166.0 550.9h.9v.9h-.9zM162.1 551.1h.9v.9h-.9zM166.3 549.0h.9v.9h-.9zM167.4 549.8h.9v.9h-.9zM164.2 543.7h.9v.9h-.9zM157.6 550.2h.9v.9h-.9zM150.5 554.4h.9v.9h-.9zM170.9 556.9h.9v.9h-.9zM171.4 554.4h.9v.9h-.9zM168.5 553.0h.9v.9h-.9zM160.7 553.4h.9v.9h-.9zM168.9 552.2h.9v.9h-.9zM169.1 551.2h.9v.9h-.9zM159.7 547.9h.9v.9h-.9zM161.2 552.6h.9v.9h-.9zM173.1 546.7h.9v.9h-.9zM166.6 548.0h.9v.9h-.9zM168.3 554.1h.9v.9h-.9zM161.4 551.5h.9v.9h-.9zM172.1 552.5h.9v.9h-.9zM161.9 554.2h.9v.9h-.9zM163.4 554.3h.9v.9h-.9zM167.2 548.9h.9v.9h-.9zM165.7 557.1h.9v.9h-.9zM156.3 552.5h.9v.9h-.9zM172.5 552.6h.9v.9h-.9zM169.2 551.5h.9v.9h-.9zM171.5 554.4h.9v.9h-.9zM157.8 553.7h.9v.9h-.9zM165.3 551.0h.9v.9h-.9zM176.8 549.4h.9v.9h-.9zM158.5 549.6h.9v.9h-.9zM153.6 550.2h.9v.9h-.9zM164.3 554.3h.9v.9h-.9zM162.2 553.2h.9v.9h-.9zM168.0 551.8h.9v.9h-.9zM170.9 552.9h.9v.9h-.9zM174.8 544.1h.9v.9h-.9zM167.6 547.2h.9v.9h-.9zM164.6 550.0h.9v.9h-.9zM167.9 557.1h.9v.9h-.9zM171.6 553.7h.9v.9h-.9zM162.7 553.0h.9v.9h-.9zM170.0 551.1h.9v.9h-.9zM163.9 552.1h.9v.9h-.9zM161.9 548.5h.9v.9h-.9zM158.9 551.4h.9v.9h-.9zM164.0 551.2h.9v.9h-.9zM161.5 553.9h.9v.9h-.9zM169.0 549.4h.9v.9h-.9zM160.2 556.0h.9v.9h-.9zM162.3 551.0h.9v.9h-.9zM159.3 554.7h.9v.9h-.9zM149.5 551.9h.9v.9h-.9zM160.1 549.2h.9v.9h-.9zM167.9 551.0h.9v.9h-.9zM166.1 549.7h.9v.9h-.9zM166.1 550.2h.9v.9h-.9zM171.6 552.8h.9v.9h-.9zM157.3 551.8h.9v.9h-.9zM162.4 546.0h.9v.9h-.9zM164.3 554.5h.9v.9h-.9zM164.9 551.5h.9v.9h-.9zM173.9 549.8h.9v.9h-.9zM171.0 550.4h.9v.9h-.9zM159.2 552.2h.9v.9h-.9zM160.8 545.3h.9v.9h-.9zM174.2 552.2h.9v.9h-.9zM150.9 554.2h.9v.9h-.9zM163.5 553.6h.9v.9h-.9zM166.9 550.1h.9v.9h-.9zM169.4 549.4h.9v.9h-.9zM161.7 553.0h.9v.9h-.9zM169.4 549.9h.9v.9h-.9zM153.2 550.8h.9v.9h-.9zM173.2 554.2h.9v.9h-.9zM164.1 546.2h.9v.9h-.9zM163.3 547.9h.9v.9h-.9zM160.7 552.2h.9v.9h-.9zM160.4 552.4h.9v.9h-.9zM166.0 553.4h.9v.9h-.9zM165.5 553.3h.9v.9h-.9zM171.0 550.9h.9v.9h-.9zM170.9 553.8h.9v.9h-.9zM164.7 548.1h.9v.9h-.9zM160.6 548.1h.9v.9h-.9zM164.0 549.9h.9v.9h-.9zM166.4 551.4h.9v.9h-.9zM168.2 549.3h.9v.9h-.9zM161.1 548.6h.9v.9h-.9zM161.4 551.7h.9v.9h-.9zM169.2 555.1h.9v.9h-.9zM166.3 549.8h.9v.9h-.9zM170.1 548.9h.9v.9h-.9zM158.7 555.4h.9v.9h-.9zM165.7 545.7h.9v.9h-.9zM170.2 553.0h.9v.9h-.9zM167.4 550.1h.9v.9h-.9zM164.4 552.6h.9v.9h-.9zM158.2 555.2h.9v.9h-.9zM168.1 551.0h.9v.9h-.9zM165.2 548.4h.9v.9h-.9zM171.0 555.2h.9v.9h-.9zM164.1 551.3h.9v.9h-.9zM161.1 552.2h.9v.9h-.9zM161.5 545.3h.9v.9h-.9zM163.4 548.8h.9v.9h-.9zM158.5 557.8h.9v.9h-.9zM172.0 549.5h.9v.9h-.9zM163.2 552.9h.9v.9h-.9zM169.0 549.6h.9v.9h-.9zM160.0 548.1h.9v.9h-.9zM173.2 551.7h.9v.9h-.9zM146.9 548.7h.9v.9h-.9zM170.5 552.3h.9v.9h-.9zM157.9 551.4h.9v.9h-.9zM171.4 548.5h.9v.9h-.9zM163.3 554.8h.9v.9h-.9zM153.8 555.5h.9v.9h-.9zM158.4 555.0h.9v.9h-.9zM171.8 554.1h.9v.9h-.9zM150.7 550.7h.9v.9h-.9zM167.0 551.7h.9v.9h-.9zM168.3 551.2h.9v.9h-.9zM170.9 553.9h.9v.9h-.9zM165.8 554.0h.9v.9h-.9zM164.0 549.8h.9v.9h-.9zM166.9 550.4h.9v.9h-.9zM170.0 546.4h.9v.9h-.9zM153.6 553.7h.9v.9h-.9zM171.0 551.3h.9v.9h-.9zM170.3 545.6h.9v.9h-.9zM170.1 548.8h.9v.9h-.9zM166.5 552.6h.9v.9h-.9zM163.8 547.4h.9v.9h-.9zM174.3 547.5h.9v.9h-.9zM164.7 555.1h.9v.9h-.9zM165.3 553.0h.9v.9h-.9zM168.9 554.1h.9v.9h-.9zM156.9 548.6h.9v.9h-.9zM163.1 551.4h.9v.9h-.9zM164.3 552.3h.9v.9h-.9zM161.0 552.5h.9v.9h-.9zM159.6 550.3h.9v.9h-.9zM162.2 555.6h.9v.9h-.9zM162.3 550.0h.9v.9h-.9zM165.2 552.5h.9v.9h-.9zM156.7 554.4h.9v.9h-.9zM163.9 552.0h.9v.9h-.9zM172.1 548.9h.9v.9h-.9zM166.7 555.3h.9v.9h-.9zM173.8 551.2h.9v.9h-.9zM151.7 549.2h.9v.9h-.9zM165.0 550.1h.9v.9h-.9zM163.7 551.1h.9v.9h-.9zM158.3 553.4h.9v.9h-.9zM167.8 547.6h.9v.9h-.9zM155.9 551.3h.9v.9h-.9zM167.4 556.3h.9v.9h-.9zM163.7 552.8h.9v.9h-.9zM157.1 554.0h.9v.9h-.9zM166.7 548.7h.9v.9h-.9zM160.2 552.1h.9v.9h-.9zM168.9 550.0h.9v.9h-.9zM156.2 549.6h.9v.9h-.9zM176.0 551.1h.9v.9h-.9zM177.8 555.6h.9v.9h-.9zM156.7 552.4h.9v.9h-.9zM173.9 550.0h.9v.9h-.9zM167.6 553.5h.9v.9h-.9zM162.8 552.5h.9v.9h-.9zM170.5 552.2h.9v.9h-.9zM160.8 551.3h.9v.9h-.9zM174.7 555.9h.9v.9h-.9zM158.8 550.1h.9v.9h-.9zM162.7 547.3h.9v.9h-.9zM156.6 555.9h.9v.9h-.9zM171.6 550.6h.9v.9h-.9zM166.1 551.5h.9v.9h-.9zM160.8 553.8h.9v.9h-.9zM168.5 549.6h.9v.9h-.9zM168.7 551.7h.9v.9h-.9zM153.3 551.4h.9v.9h-.9zM165.8 551.0h.9v.9h-.9zM158.3 554.4h.9v.9h-.9zM175.6 549.4h.9v.9h-.9zM165.7 555.3h.9v.9h-.9zM165.4 544.9h.9v.9h-.9zM168.9 540.5h.9v.9h-.9zM152.7 554.4h.9v.9h-.9zM157.2 553.2h.9v.9h-.9zM170.6 552.2h.9v.9h-.9zM158.9 545.0h.9v.9h-.9zM167.8 551.3h.9v.9h-.9zM171.0 554.8h.9v.9h-.9zM165.9 549.4h.9v.9h-.9zM175.2 548.8h.9v.9h-.9zM174.5 548.1h.9v.9h-.9zM169.6 559.2h.9v.9h-.9zM172.9 547.5h.9v.9h-.9zM167.2 550.6h.9v.9h-.9zM166.6 552.7h.9v.9h-.9zM163.4 560.0h.9v.9h-.9zM158.7 551.6h.9v.9h-.9zM171.3 553.5h.9v.9h-.9zM173.7 551.3h.9v.9h-.9zM163.1 551.3h.9v.9h-.9zM172.4 553.9h.9v.9h-.9zM170.5 547.7h.9v.9h-.9zM164.0 548.5h.9v.9h-.9zM166.1 550.4h.9v.9h-.9zM155.8 551.2h.9v.9h-.9zM162.0 557.1h.9v.9h-.9zM173.0 553.4h.9v.9h-.9zM164.8 546.5h.9v.9h-.9zM164.5 552.9h.9v.9h-.9zM177.6 550.0h.9v.9h-.9zM170.3 546.0h.9v.9h-.9zM170.5 552.0h.9v.9h-.9zM162.6 551.9h.9v.9h-.9zM174.8 548.1h.9v.9h-.9zM161.6 553.3h.9v.9h-.9zM165.6 550.4h.9v.9h-.9zM165.3 553.7h.9v.9h-.9zM175.0 548.9h.9v.9h-.9zM163.4 550.0h.9v.9h-.9zM159.7 553.0h.9v.9h-.9zM158.4 552.5h.9v.9h-.9zM160.4 552.4h.9v.9h-.9zM150.3 552.7h.9v.9h-.9zM166.3 548.5h.9v.9h-.9zM158.6 551.2h.9v.9h-.9zM160.3 548.5h.9v.9h-.9zM167.8 551.9h.9v.9h-.9zM149.4 550.0h.9v.9h-.9zM173.7 550.8h.9v.9h-.9zM160.1 549.3h.9v.9h-.9zM164.1 553.7h.9v.9h-.9zM172.4 549.3h.9v.9h-.9zM171.2 551.3h.9v.9h-.9zM171.2 552.4h.9v.9h-.9zM161.1 555.6h.9v.9h-.9zM165.7 555.6h.9v.9h-.9zM161.2 555.9h.9v.9h-.9zM164.6 545.6h.9v.9h-.9zM159.5 554.0h.9v.9h-.9zM161.2 553.7h.9v.9h-.9zM165.6 545.1h.9v.9h-.9zM166.1 548.8h.9v.9h-.9zM159.1 553.7h.9v.9h-.9zM168.7 549.9h.9v.9h-.9zM165.1 553.0h.9v.9h-.9zM162.0 551.5h.9v.9h-.9zM179.1 546.8h.9v.9h-.9zM158.7 550.8h.9v.9h-.9zM167.9 550.5h.9v.9h-.9zM151.4 553.1h.9v.9h-.9zM170.2 552.2h.9v.9h-.9zM160.7 551.9h.9v.9h-.9zM166.4 552.7h.9v.9h-.9zM163.5 549.8h.9v.9h-.9zM164.0 557.3h.9v.9h-.9zM159.9 550.9h.9v.9h-.9zM167.1 552.0h.9v.9h-.9zM165.3 554.0h.9v.9h-.9zM168.6 552.4h.9v.9h-.9zM172.7 555.0h.9v.9h-.9zM163.3 549.8h.9v.9h-.9zM163.2 552.4h.9v.9h-.9zM160.4 553.0h.9v.9h-.9zM163.4 552.8h.9v.9h-.9zM163.1 553.7h.9v.9h-.9zM156.5 554.2h.9v.9h-.9zM167.4 549.1h.9v.9h-.9zM162.8 555.9h.9v.9h-.9zM165.9 551.8h.9v.9h-.9zM160.7 550.1h.9v.9h-.9zM169.9 553.4h.9v.9h-.9zM163.2 550.1h.9v.9h-.9zM159.8 551.0h.9v.9h-.9zM172.9 550.4h.9v.9h-.9zM169.4 553.0h.9v.9h-.9zM153.4 550.5h.9v.9h-.9zM179.0 552.5h.9v.9h-.9zM164.7 553.3h.9v.9h-.9zM161.4 549.8h.9v.9h-.9zM168.1 556.0h.9v.9h-.9zM166.2 552.9h.9v.9h-.9zM167.5 542.3h.9v.9h-.9zM160.6 548.6h.9v.9h-.9zM156.5 550.1h.9v.9h-.9zM175.4 550.5h.9v.9h-.9zM172.3 553.3h.9v.9h-.9zM159.5 548.4h.9v.9h-.9zM167.2 546.5h.9v.9h-.9zM167.2 555.0h.9v.9h-.9zM164.9 555.9h.9v.9h-.9zM166.3 557.5h.9v.9h-.9zM165.6 557.7h.9v.9h-.9zM164.2 552.7h.9v.9h-.9zM168.7 545.2h.9v.9h-.9zM174.8 547.7h.9v.9h-.9zM164.2 553.1h.9v.9h-.9zM171.8 554.0h.9v.9h-.9zM165.9 548.8h.9v.9h-.9zM161.3 555.4h.9v.9h-.9zM154.9 555.0h.9v.9h-.9zM160.0 546.7h.9v.9h-.9zM175.9 551.9h.9v.9h-.9zM160.8 551.0h.9v.9h-.9zM158.9 551.9h.9v.9h-.9zM163.6 552.7h.9v.9h-.9zM164.1 550.3h.9v.9h-.9zM168.4 549.5h.9v.9h-.9zM154.8 553.5h.9v.9h-.9zM156.2 547.9h.9v.9h-.9zM150.2 552.4h.9v.9h-.9zM162.2 549.5h.9v.9h-.9zM170.2 546.8h.9v.9h-.9zM152.9 556.2h.9v.9h-.9zM154.9 552.1h.9v.9h-.9zM171.7 545.3h.9v.9h-.9zM168.2 550.4h.9v.9h-.9zM167.0 551.4h.9v.9h-.9zM182.7 552.5h.9v.9h-.9zM170.4 549.9h.9v.9h-.9zM168.9 558.5h.9v.9h-.9zM152.5 554.0h.9v.9h-.9zM156.2 550.0h.9v.9h-.9zM172.5 549.2h.9v.9h-.9zM167.1 546.9h.9v.9h-.9zM164.5 550.8h.9v.9h-.9zM160.8 551.1h.9v.9h-.9zM164.1 551.6h.9v.9h-.9zM161.1 550.9h.9v.9h-.9zM159.7 548.8h.9v.9h-.9zM164.4 554.8h.9v.9h-.9zM160.5 550.8h.9v.9h-.9zM157.4 555.0h.9v.9h-.9zM165.0 550.0h.9v.9h-.9zM163.5 553.8h.9v.9h-.9zM165.1 555.1h.9v.9h-.9zM169.3 549.7h.9v.9h-.9zM174.8 553.0h.9v.9h-.9zM153.6 560.2h.9v.9h-.9zM175.0 551.0h.9v.9h-.9zM169.6 553.6h.9v.9h-.9zM168.5 552.7h.9v.9h-.9zM180.2 553.2h.9v.9h-.9zM171.0 557.6h.9v.9h-.9zM161.1 555.7h.9v.9h-.9zM171.9 548.0h.9v.9h-.9zM175.5 547.5h.9v.9h-.9zM168.9 556.7h.9v.9h-.9zM164.5 553.8h.9v.9h-.9zM159.4 553.9h.9v.9h-.9zM170.4 553.8h.9v.9h-.9zM157.0 549.6h.9v.9h-.9zM166.3 555.4h.9v.9h-.9zM158.9 548.8h.9v.9h-.9zM162.3 552.3h.9v.9h-.9zM164.4 549.9h.9v.9h-.9zM162.0 551.8h.9v.9h-.9zM165.5 555.3h.9v.9h-.9zM170.7 547.7h.9v.9h-.9zM165.1 552.2h.9v.9h-.9zM164.1 554.8h.9v.9h-.9zM175.2 554.5h.9v.9h-.9zM157.2 555.5h.9v.9h-.9zM168.5 546.9h.9v.9h-.9zM161.8 556.2h.9v.9h-.9zM160.7 551.2h.9v.9h-.9zM162.2 550.5h.9v.9h-.9zM160.2 555.5h.9v.9h-.9zM157.4 555.5h.9v.9h-.9zM163.0 547.8h.9v.9h-.9zM167.2 555.2h.9v.9h-.9zM167.0 549.2h.9v.9h-.9zM162.9 549.3h.9v.9h-.9zM162.5 554.2h.9v.9h-.9zM168.5 544.5h.9v.9h-.9zM153.6 555.4h.9v.9h-.9zM162.2 551.1h.9v.9h-.9zM176.4 547.9h.9v.9h-.9zM167.1 551.1h.9v.9h-.9zM159.9 553.5h.9v.9h-.9zM170.0 550.5h.9v.9h-.9zM161.8 552.6h.9v.9h-.9zM161.7 550.2h.9v.9h-.9zM152.6 552.6h.9v.9h-.9zM156.5 554.7h.9v.9h-.9zM165.2 551.9h.9v.9h-.9zM173.5 547.7h.9v.9h-.9zM158.8 551.8h.9v.9h-.9zM167.7 552.9h.9v.9h-.9zM154.5 551.6h.9v.9h-.9zM164.2 552.6h.9v.9h-.9zM164.0 545.9h.9v.9h-.9zM160.4 553.7h.9v.9h-.9zM170.5 553.2h.9v.9h-.9zM168.2 552.8h.9v.9h-.9zM160.5 553.6h.9v.9h-.9zM173.3 550.8h.9v.9h-.9zM159.7 552.1h.9v.9h-.9zM162.4 548.9h.9v.9h-.9zM154.6 557.8h.9v.9h-.9zM162.8 558.5h.9v.9h-.9zM164.4 550.9h.9v.9h-.9zM171.1 546.5h.9v.9h-.9zM172.7 548.0h.9v.9h-.9zM175.0 551.0h.9v.9h-.9zM160.9 551.7h.9v.9h-.9zM166.8 552.9h.9v.9h-.9zM171.4 550.9h.9v.9h-.9zM182.0 554.7h.9v.9h-.9zM163.1 551.7h.9v.9h-.9zM158.7 551.3h.9v.9h-.9zM161.6 554.0h.9v.9h-.9zM155.3 549.1h.9v.9h-.9zM166.1 553.5h.9v.9h-.9zM163.1 551.9h.9v.9h-.9zM163.9 551.6h.9v.9h-.9zM160.9 553.9h.9v.9h-.9zM171.1 552.4h.9v.9h-.9zM169.7 546.9h.9v.9h-.9zM159.1 549.6h.9v.9h-.9zM163.9 554.4h.9v.9h-.9zM163.0 551.8h.9v.9h-.9zM164.0 550.5h.9v.9h-.9zM158.1 551.9h.9v.9h-.9zM166.1 548.8h.9v.9h-.9zM179.0 550.0h.9v.9h-.9zM168.2 553.1h.9v.9h-.9zM174.2 551.1h.9v.9h-.9zM159.8 552.0h.9v.9h-.9zM161.5 556.9h.9v.9h-.9zM166.4 554.4h.9v.9h-.9zM167.6 552.7h.9v.9h-.9zM169.1 558.9h.9v.9h-.9zM168.2 550.8h.9v.9h-.9zM160.9 555.6h.9v.9h-.9zM165.6 551.0h.9v.9h-.9zM180.6 554.1h.9v.9h-.9zM166.6 551.9h.9v.9h-.9zM164.6 554.6h.9v.9h-.9zM161.5 550.0h.9v.9h-.9zM163.4 554.4h.9v.9h-.9zM165.5 550.8h.9v.9h-.9zM170.6 550.1h.9v.9h-.9zM163.6 555.3h.9v.9h-.9zM176.6 551.9h.9v.9h-.9zM170.5 553.3h.9v.9h-.9zM155.9 552.6h.9v.9h-.9zM162.4 553.0h.9v.9h-.9zM158.7 552.9h.9v.9h-.9zM158.1 551.9h.9v.9h-.9zM156.9 552.3h.9v.9h-.9zM163.5 550.1h.9v.9h-.9zM174.5 550.9h.9v.9h-.9zM162.7 546.4h.9v.9h-.9zM165.9 553.9h.9v.9h-.9zM164.0 549.7h.9v.9h-.9zM169.2 550.9h.9v.9h-.9zM177.9 554.6h.9v.9h-.9zM154.1 558.0h.9v.9h-.9zM171.7 549.8h.9v.9h-.9zM169.3 551.6h.9v.9h-.9zM178.2 549.5h.9v.9h-.9zM154.2 556.5h.9v.9h-.9zM174.3 548.1h.9v.9h-.9zM154.7 555.2h.9v.9h-.9zM164.3 550.9h.9v.9h-.9zM161.2 553.7h.9v.9h-.9zM166.7 550.0h.9v.9h-.9zM171.5 548.8h.9v.9h-.9zM165.2 552.7h.9v.9h-.9zM168.7 546.2h.9v.9h-.9zM165.0 547.7h.9v.9h-.9zM168.9 546.3h.9v.9h-.9zM162.6 552.3h.9v.9h-.9zM160.3 548.2h.9v.9h-.9zM165.0 550.0h.9v.9h-.9zM163.8 551.2h.9v.9h-.9zM174.6 547.1h.9v.9h-.9zM165.7 541.3h.9v.9h-.9zM177.5 550.3h.9v.9h-.9zM169.6 557.4h.9v.9h-.9zM176.7 548.1h.9v.9h-.9zM164.9 558.9h.9v.9h-.9zM170.6 550.0h.9v.9h-.9zM178.1 554.2h.9v.9h-.9zM168.6 549.7h.9v.9h-.9zM171.6 548.2h.9v.9h-.9zM159.5 552.5h.9v.9h-.9zM183.9 541.2h.9v.9h-.9zM166.6 547.9h.9v.9h-.9zM164.8 551.4h.9v.9h-.9zM171.9 545.3h.9v.9h-.9zM171.6 550.5h.9v.9h-.9zM171.0 546.0h.9v.9h-.9zM164.0 555.7h.9v.9h-.9zM166.1 548.2h.9v.9h-.9zM190.5 543.9h.9v.9h-.9zM168.2 550.0h.9v.9h-.9zM159.9 557.0h.9v.9h-.9zM176.6 536.9h.9v.9h-.9zM175.2 543.5h.9v.9h-.9zM149.9 547.5h.9v.9h-.9zM156.4 550.0h.9v.9h-.9zM169.4 552.5h.9v.9h-.9zM161.2 548.9h.9v.9h-.9zM167.8 546.4h.9v.9h-.9zM184.1 534.5h.9v.9h-.9zM175.2 549.0h.9v.9h-.9zM178.6 547.4h.9v.9h-.9zM171.2 553.7h.9v.9h-.9zM161.6 549.2h.9v.9h-.9zM181.0 545.7h.9v.9h-.9zM170.2 538.3h.9v.9h-.9zM165.8 552.1h.9v.9h-.9zM176.6 552.8h.9v.9h-.9zM161.2 555.8h.9v.9h-.9zM169.9 551.9h.9v.9h-.9zM180.3 552.6h.9v.9h-.9zM171.4 556.1h.9v.9h-.9zM173.1 535.3h.9v.9h-.9zM167.8 559.2h.9v.9h-.9zM169.0 545.0h.9v.9h-.9zM193.1 555.9h.9v.9h-.9zM169.0 551.3h.9v.9h-.9zM168.0 543.4h.9v.9h-.9zM178.5 547.0h.9v.9h-.9zM152.4 555.9h.9v.9h-.9zM163.8 558.8h.9v.9h-.9zM175.4 538.8h.9v.9h-.9zM171.9 544.9h.9v.9h-.9zM167.0 552.1h.9v.9h-.9zM184.2 545.8h.9v.9h-.9zM182.1 544.1h.9v.9h-.9zM178.9 543.9h.9v.9h-.9zM177.9 550.2h.9v.9h-.9zM175.8 538.4h.9v.9h-.9zM179.2 549.8h.9v.9h-.9zM170.1 552.1h.9v.9h-.9zM176.8 547.2h.9v.9h-.9zM158.1 555.3h.9v.9h-.9zM173.6 546.1h.9v.9h-.9zM168.6 545.5h.9v.9h-.9zM162.0 543.8h.9v.9h-.9zM161.1 544.4h.9v.9h-.9zM159.6 558.8h.9v.9h-.9zM150.8 558.4h.9v.9h-.9zM162.9 545.7h.9v.9h-.9zM172.5 545.3h.9v.9h-.9zM160.4 543.0h.9v.9h-.9zM178.5 550.2h.9v.9h-.9zM166.0 546.1h.9v.9h-.9zM161.8 552.1h.9v.9h-.9zM183.9 546.7h.9v.9h-.9zM163.4 545.2h.9v.9h-.9zM149.1 549.6h.9v.9h-.9zM177.0 539.9h.9v.9h-.9zM168.8 544.4h.9v.9h-.9zM177.0 546.6h.9v.9h-.9zM167.7 545.8h.9v.9h-.9zM167.6 550.8h.9v.9h-.9zM166.9 543.8h.9v.9h-.9zM159.3 551.7h.9v.9h-.9zM173.8 544.9h.9v.9h-.9zM173.9 562.0h.9v.9h-.9zM172.4 546.6h.9v.9h-.9zM192.9 555.9h.9v.9h-.9zM152.3 544.8h.9v.9h-.9zM155.0 556.7h.9v.9h-.9zM172.4 548.0h.9v.9h-.9zM175.8 552.1h.9v.9h-.9zM182.4 541.7h.9v.9h-.9zM176.3 547.6h.9v.9h-.9zM169.9 556.3h.9v.9h-.9zM158.7 551.1h.9v.9h-.9zM165.0 551.5h.9v.9h-.9zM163.4 544.6h.9v.9h-.9zM172.2 540.2h.9v.9h-.9zM181.3 550.1h.9v.9h-.9zM174.2 544.7h.9v.9h-.9zM162.6 552.6h.9v.9h-.9zM169.3 548.3h.9v.9h-.9zM164.1 546.8h.9v.9h-.9zM190.0 536.5h.9v.9h-.9zM174.0 559.9h.9v.9h-.9zM170.8 541.6h.9v.9h-.9zM169.3 552.2h.9v.9h-.9zM159.0 554.7h.9v.9h-.9zM161.5 553.3h.9v.9h-.9zM170.5 545.0h.9v.9h-.9zM166.2 544.4h.9v.9h-.9zM165.5 547.9h.9v.9h-.9zM195.9 539.4h.9v.9h-.9zM159.3 542.9h.9v.9h-.9zM174.7 549.6h.9v.9h-.9zM173.0 545.1h.9v.9h-.9zM176.8 547.5h.9v.9h-.9zM160.4 555.0h.9v.9h-.9zM175.6 542.8h.9v.9h-.9zM161.9 555.8h.9v.9h-.9zM164.7 556.7h.9v.9h-.9zM174.6 546.7h.9v.9h-.9zM169.1 553.8h.9v.9h-.9zM167.0 556.4h.9v.9h-.9zM172.5 555.5h.9v.9h-.9zM153.9 546.9h.9v.9h-.9zM165.8 554.0h.9v.9h-.9zM174.2 551.8h.9v.9h-.9zM164.0 544.6h.9v.9h-.9zM176.3 548.0h.9v.9h-.9zM169.6 546.7h.9v.9h-.9zM164.8 553.8h.9v.9h-.9zM162.5 549.3h.9v.9h-.9zM162.9 545.4h.9v.9h-.9zM176.0 543.3h.9v.9h-.9zM176.9 543.1h.9v.9h-.9zM161.6 550.0h.9v.9h-.9zM164.4 542.0h.9v.9h-.9zM171.6 542.8h.9v.9h-.9zM178.8 548.2h.9v.9h-.9zM159.0 547.2h.9v.9h-.9zM155.4 551.0h.9v.9h-.9zM175.5 550.0h.9v.9h-.9zM160.7 550.3h.9v.9h-.9zM158.6 548.8h.9v.9h-.9zM173.2 544.7h.9v.9h-.9zM170.9 543.6h.9v.9h-.9zM167.7 545.5h.9v.9h-.9zM182.1 548.8h.9v.9h-.9zM169.0 546.9h.9v.9h-.9zM162.7 554.6h.9v.9h-.9zM168.2 549.6h.9v.9h-.9zM158.3 555.7h.9v.9h-.9zM158.7 553.3h.9v.9h-.9zM165.4 545.9h.9v.9h-.9zM169.7 540.9h.9v.9h-.9zM170.2 554.4h.9v.9h-.9zM163.4 550.0h.9v.9h-.9zM173.0 548.4h.9v.9h-.9zM163.7 551.3h.9v.9h-.9zM178.0 558.8h.9v.9h-.9zM158.6 554.3h.9v.9h-.9zM177.9 534.0h.9v.9h-.9zM153.7 548.6h.9v.9h-.9zM178.3 546.6h.9v.9h-.9zM168.9 551.6h.9v.9h-.9zM178.4 547.0h.9v.9h-.9zM164.9 558.2h.9v.9h-.9zM175.1 542.1h.9v.9h-.9zM180.7 552.6h.9v.9h-.9zM164.0 553.8h.9v.9h-.9zM171.6 544.8h.9v.9h-.9zM163.8 551.3h.9v.9h-.9zM168.7 552.2h.9v.9h-.9zM166.3 551.5h.9v.9h-.9zM163.5 558.6h.9v.9h-.9zM177.7 550.5h.9v.9h-.9zM174.9 549.0h.9v.9h-.9zM165.0 547.2h.9v.9h-.9zM168.4 548.0h.9v.9h-.9zM163.1 545.0h.9v.9h-.9zM170.6 553.6h.9v.9h-.9zM182.2 549.9h.9v.9h-.9zM169.7 557.5h.9v.9h-.9zM161.5 543.9h.9v.9h-.9zM163.5 549.3h.9v.9h-.9zM164.0 556.0h.9v.9h-.9zM183.8 544.2h.9v.9h-.9zM172.8 548.6h.9v.9h-.9zM179.3 548.8h.9v.9h-.9zM178.5 549.2h.9v.9h-.9zM158.4 548.7h.9v.9h-.9zM168.6 545.7h.9v.9h-.9zM166.2 552.8h.9v.9h-.9zM177.8 546.8h.9v.9h-.9zM181.9 551.3h.9v.9h-.9zM177.6 543.3h.9v.9h-.9zM166.2 551.0h.9v.9h-.9zM180.9 558.1h.9v.9h-.9zM162.2 556.8h.9v.9h-.9zM165.2 547.5h.9v.9h-.9zM162.7 558.3h.9v.9h-.9zM170.2 551.3h.9v.9h-.9zM189.6 545.6h.9v.9h-.9zM168.4 551.9h.9v.9h-.9zM172.7 546.2h.9v.9h-.9zM172.9 553.9h.9v.9h-.9zM176.0 547.9h.9v.9h-.9zM166.1 546.5h.9v.9h-.9zM179.4 553.5h.9v.9h-.9zM169.2 554.2h.9v.9h-.9zM169.6 544.1h.9v.9h-.9zM181.0 542.1h.9v.9h-.9zM162.0 553.5h.9v.9h-.9zM173.8 549.8h.9v.9h-.9zM167.7 550.7h.9v.9h-.9zM170.2 541.9h.9v.9h-.9zM152.9 552.3h.9v.9h-.9zM171.9 544.1h.9v.9h-.9zM165.4 546.8h.9v.9h-.9zM167.1 552.9h.9v.9h-.9zM158.2 545.9h.9v.9h-.9zM181.9 543.6h.9v.9h-.9zM161.6 549.9h.9v.9h-.9zM165.6 548.4h.9v.9h-.9zM180.2 541.7h.9v.9h-.9zM167.7 546.0h.9v.9h-.9zM174.3 541.8h.9v.9h-.9zM166.8 555.2h.9v.9h-.9zM179.9 546.3h.9v.9h-.9zM165.9 547.9h.9v.9h-.9zM170.3 553.3h.9v.9h-.9zM176.3 552.1h.9v.9h-.9zM171.6 539.2h.9v.9h-.9zM178.2 545.8h.9v.9h-.9zM167.9 547.4h.9v.9h-.9zM165.8 552.4h.9v.9h-.9zM188.6 549.2h.9v.9h-.9zM176.2 546.9h.9v.9h-.9zM163.8 556.0h.9v.9h-.9zM171.6 544.3h.9v.9h-.9zM191.0 546.2h.9v.9h-.9zM161.7 544.7h.9v.9h-.9zM183.2 547.7h.9v.9h-.9zM152.8 546.3h.9v.9h-.9zM159.2 553.9h.9v.9h-.9zM173.0 549.1h.9v.9h-.9zM173.1 547.1h.9v.9h-.9zM166.7 537.1h.9v.9h-.9zM168.9 553.2h.9v.9h-.9zM163.0 552.8h.9v.9h-.9zM162.6 549.6h.9v.9h-.9zM183.5 549.9h.9v.9h-.9zM181.8 544.5h.9v.9h-.9zM178.6 549.0h.9v.9h-.9zM172.6 547.2h.9v.9h-.9zM162.4 551.0h.9v.9h-.9zM158.0 552.8h.9v.9h-.9zM159.7 547.9h.9v.9h-.9zM161.3 553.6h.9v.9h-.9zM164.6 549.9h.9v.9h-.9zM168.8 542.0h.9v.9h-.9zM174.4 548.8h.9v.9h-.9zM179.7 545.5h.9v.9h-.9zM187.4 549.2h.9v.9h-.9zM172.8 542.0h.9v.9h-.9zM184.8 542.5h.9v.9h-.9zM189.6 540.8h.9v.9h-.9zM166.0 546.2h.9v.9h-.9zM168.3 547.1h.9v.9h-.9zM166.9 546.7h.9v.9h-.9zM180.2 545.9h.9v.9h-.9zM178.0 554.1h.9v.9h-.9zM166.3 549.9h.9v.9h-.9zM164.2 548.7h.9v.9h-.9zM153.2 549.2h.9v.9h-.9zM174.3 542.6h.9v.9h-.9zM161.4 549.2h.9v.9h-.9zM188.2 541.3h.9v.9h-.9zM175.4 549.8h.9v.9h-.9zM177.0 551.3h.9v.9h-.9zM175.4 550.9h.9v.9h-.9zM194.9 539.8h.9v.9h-.9zM169.0 547.8h.9v.9h-.9zM172.0 544.3h.9v.9h-.9zM181.9 557.2h.9v.9h-.9zM169.9 546.4h.9v.9h-.9zM189.5 536.4h.9v.9h-.9zM166.1 549.0h.9v.9h-.9zM166.8 544.1h.9v.9h-.9zM163.1 553.9h.9v.9h-.9zM172.0 553.3h.9v.9h-.9zM177.8 553.3h.9v.9h-.9zM167.5 550.4h.9v.9h-.9zM167.7 545.7h.9v.9h-.9zM183.0 553.2h.9v.9h-.9zM166.7 555.9h.9v.9h-.9zM171.7 547.8h.9v.9h-.9zM195.2 517.3h.9v.9h-.9zM185.9 507.3h.9v.9h-.9zM196.3 515.5h.9v.9h-.9zM188.8 518.8h.9v.9h-.9zM193.9 529.2h.9v.9h-.9zM183.8 522.5h.9v.9h-.9zM195.5 515.2h.9v.9h-.9zM189.9 532.3h.9v.9h-.9zM194.3 528.7h.9v.9h-.9zM194.2 509.3h.9v.9h-.9zM193.4 518.5h.9v.9h-.9zM181.8 526.2h.9v.9h-.9zM185.2 528.4h.9v.9h-.9zM188.8 527.0h.9v.9h-.9zM194.3 519.1h.9v.9h-.9zM182.4 527.7h.9v.9h-.9zM184.3 519.5h.9v.9h-.9zM194.5 525.9h.9v.9h-.9zM184.5 522.4h.9v.9h-.9zM194.2 517.2h.9v.9h-.9zM196.4 520.6h.9v.9h-.9zM182.3 522.0h.9v.9h-.9zM190.8 515.7h.9v.9h-.9zM190.3 515.1h.9v.9h-.9zM180.3 524.9h.9v.9h-.9zM190.3 526.3h.9v.9h-.9zM197.0 519.8h.9v.9h-.9zM187.6 520.3h.9v.9h-.9zM195.1 519.5h.9v.9h-.9zM186.7 525.2h.9v.9h-.9zM194.3 516.0h.9v.9h-.9zM192.7 518.1h.9v.9h-.9zM181.3 524.0h.9v.9h-.9zM185.6 516.1h.9v.9h-.9zM188.8 519.3h.9v.9h-.9zM192.2 528.0h.9v.9h-.9zM185.0 530.1h.9v.9h-.9zM188.0 522.2h.9v.9h-.9zM194.0 515.1h.9v.9h-.9zM189.2 522.9h.9v.9h-.9zM188.7 533.3h.9v.9h-.9zM181.0 530.6h.9v.9h-.9zM181.0 523.7h.9v.9h-.9zM196.6 518.5h.9v.9h-.9zM189.9 530.7h.9v.9h-.9zM194.9 522.5h.9v.9h-.9zM198.6 516.4h.9v.9h-.9zM202.9 518.7h.9v.9h-.9zM190.8 522.1h.9v.9h-.9zM185.0 533.7h.9v.9h-.9zM187.6 515.4h.9v.9h-.9zM185.6 525.6h.9v.9h-.9zM192.1 522.0h.9v.9h-.9zM194.3 512.7h.9v.9h-.9zM190.6 527.2h.9v.9h-.9zM192.4 523.2h.9v.9h-.9zM190.0 520.0h.9v.9h-.9zM192.4 524.5h.9v.9h-.9zM185.2 526.7h.9v.9h-.9zM185.8 523.8h.9v.9h-.9zM197.1 512.9h.9v.9h-.9zM185.3 521.3h.9v.9h-.9zM188.4 522.4h.9v.9h-.9zM189.9 526.2h.9v.9h-.9zM188.1 518.5h.9v.9h-.9zM198.5 516.7h.9v.9h-.9zM185.1 531.0h.9v.9h-.9zM179.4 522.9h.9v.9h-.9zM184.5 519.6h.9v.9h-.9zM191.9 525.0h.9v.9h-.9zM185.0 522.1h.9v.9h-.9zM203.3 512.9h.9v.9h-.9zM195.4 527.3h.9v.9h-.9zM201.8 517.1h.9v.9h-.9zM198.2 510.9h.9v.9h-.9zM189.3 521.0h.9v.9h-.9zM190.1 522.6h.9v.9h-.9zM191.3 523.6h.9v.9h-.9zM190.8 522.7h.9v.9h-.9zM195.9 514.2h.9v.9h-.9zM183.3 528.8h.9v.9h-.9zM194.9 515.3h.9v.9h-.9zM195.9 527.3h.9v.9h-.9zM195.0 526.5h.9v.9h-.9zM192.7 526.3h.9v.9h-.9zM182.7 522.5h.9v.9h-.9zM191.5 524.1h.9v.9h-.9zM188.5 512.3h.9v.9h-.9zM190.3 518.8h.9v.9h-.9zM194.5 533.9h.9v.9h-.9zM191.1 520.1h.9v.9h-.9zM182.9 524.0h.9v.9h-.9zM185.7 528.6h.9v.9h-.9zM187.5 522.0h.9v.9h-.9zM186.1 518.2h.9v.9h-.9zM196.4 520.1h.9v.9h-.9zM185.3 529.0h.9v.9h-.9zM184.1 528.5h.9v.9h-.9zM193.0 518.3h.9v.9h-.9zM191.7 515.8h.9v.9h-.9zM186.3 512.3h.9v.9h-.9zM191.6 520.0h.9v.9h-.9zM189.9 523.4h.9v.9h-.9zM194.0 519.1h.9v.9h-.9zM185.1 519.1h.9v.9h-.9zM182.4 528.4h.9v.9h-.9zM193.8 522.2h.9v.9h-.9zM184.9 521.5h.9v.9h-.9zM192.7 514.6h.9v.9h-.9zM192.3 523.8h.9v.9h-.9zM191.2 519.3h.9v.9h-.9zM171.4 514.5h.9v.9h-.9zM188.3 524.0h.9v.9h-.9zM193.7 521.1h.9v.9h-.9zM183.1 521.3h.9v.9h-.9zM200.9 520.1h.9v.9h-.9zM182.3 513.0h.9v.9h-.9zM181.7 529.3h.9v.9h-.9zM187.2 515.6h.9v.9h-.9zM187.3 538.5h.9v.9h-.9zM194.2 526.0h.9v.9h-.9zM197.6 515.2h.9v.9h-.9zM199.0 510.3h.9v.9h-.9zM200.4 521.4h.9v.9h-.9zM195.8 515.5h.9v.9h-.9zM183.8 530.1h.9v.9h-.9zM191.9 523.0h.9v.9h-.9zM190.2 521.0h.9v.9h-.9zM196.2 520.3h.9v.9h-.9zM181.0 530.1h.9v.9h-.9zM191.8 516.7h.9v.9h-.9zM187.1 526.2h.9v.9h-.9zM189.7 526.8h.9v.9h-.9zM184.1 526.5h.9v.9h-.9zM179.4 515.1h.9v.9h-.9zM192.0 524.7h.9v.9h-.9zM183.0 525.9h.9v.9h-.9zM190.4 518.4h.9v.9h-.9zM183.7 520.1h.9v.9h-.9zM193.6 526.0h.9v.9h-.9zM184.0 523.2h.9v.9h-.9zM194.6 519.0h.9v.9h-.9zM191.0 528.6h.9v.9h-.9zM199.8 513.1h.9v.9h-.9zM197.7 526.2h.9v.9h-.9zM190.2 526.1h.9v.9h-.9zM189.6 516.7h.9v.9h-.9zM188.5 521.1h.9v.9h-.9zM192.8 513.2h.9v.9h-.9zM191.2 522.7h.9v.9h-.9zM191.9 517.5h.9v.9h-.9zM192.9 525.8h.9v.9h-.9zM188.0 515.2h.9v.9h-.9zM189.2 528.5h.9v.9h-.9zM181.9 529.0h.9v.9h-.9zM182.7 526.0h.9v.9h-.9zM180.3 519.7h.9v.9h-.9zM196.3 522.4h.9v.9h-.9zM181.5 531.1h.9v.9h-.9zM193.8 517.2h.9v.9h-.9zM186.3 516.7h.9v.9h-.9zM191.3 527.9h.9v.9h-.9zM181.3 527.5h.9v.9h-.9zM184.9 517.1h.9v.9h-.9zM190.7 527.1h.9v.9h-.9zM190.1 522.4h.9v.9h-.9zM183.5 529.0h.9v.9h-.9zM189.2 524.1h.9v.9h-.9zM182.4 524.6h.9v.9h-.9zM186.8 534.7h.9v.9h-.9zM192.9 518.3h.9v.9h-.9zM189.2 523.0h.9v.9h-.9zM188.4 521.4h.9v.9h-.9zM184.9 528.4h.9v.9h-.9zM192.4 519.0h.9v.9h-.9zM187.5 518.5h.9v.9h-.9zM182.8 523.2h.9v.9h-.9zM189.5 520.7h.9v.9h-.9zM199.9 514.8h.9v.9h-.9zM194.8 508.6h.9v.9h-.9zM187.1 521.0h.9v.9h-.9zM188.1 523.0h.9v.9h-.9zM190.2 514.5h.9v.9h-.9zM188.5 520.4h.9v.9h-.9zM187.6 525.4h.9v.9h-.9zM193.5 521.3h.9v.9h-.9zM192.2 517.2h.9v.9h-.9zM193.8 530.3h.9v.9h-.9zM191.4 524.5h.9v.9h-.9zM184.6 519.3h.9v.9h-.9zM177.6 527.3h.9v.9h-.9zM191.1 527.2h.9v.9h-.9zM201.5 504.4h.9v.9h-.9zM200.1 519.0h.9v.9h-.9zM190.1 530.1h.9v.9h-.9zM198.4 522.2h.9v.9h-.9zM184.1 526.4h.9v.9h-.9zM188.6 523.0h.9v.9h-.9zM188.2 523.6h.9v.9h-.9zM191.8 522.8h.9v.9h-.9zM188.4 513.6h.9v.9h-.9zM192.0 518.1h.9v.9h-.9zM177.2 524.6h.9v.9h-.9zM192.3 521.1h.9v.9h-.9zM193.3 520.2h.9v.9h-.9zM192.3 528.0h.9v.9h-.9zM193.4 525.7h.9v.9h-.9zM180.8 520.0h.9v.9h-.9zM183.1 516.6h.9v.9h-.9zM187.8 523.3h.9v.9h-.9zM196.2 518.6h.9v.9h-.9zM182.1 511.1h.9v.9h-.9zM195.9 517.9h.9v.9h-.9zM189.9 526.0h.9v.9h-.9zM187.7 526.8h.9v.9h-.9zM190.4 519.4h.9v.9h-.9zM183.1 527.6h.9v.9h-.9zM185.4 524.5h.9v.9h-.9zM192.8 518.8h.9v.9h-.9zM193.6 524.1h.9v.9h-.9zM187.4 524.2h.9v.9h-.9zM190.1 519.5h.9v.9h-.9zM194.3 520.5h.9v.9h-.9zM187.1 521.1h.9v.9h-.9zM176.5 520.4h.9v.9h-.9zM189.6 521.3h.9v.9h-.9zM183.7 519.6h.9v.9h-.9zM189.2 520.5h.9v.9h-.9zM187.5 527.2h.9v.9h-.9zM201.7 526.3h.9v.9h-.9zM182.9 529.2h.9v.9h-.9zM189.9 523.6h.9v.9h-.9zM182.5 529.0h.9v.9h-.9zM191.6 527.7h.9v.9h-.9zM189.7 530.9h.9v.9h-.9zM191.8 524.3h.9v.9h-.9zM201.2 519.2h.9v.9h-.9zM193.8 517.9h.9v.9h-.9zM195.7 516.5h.9v.9h-.9zM193.6 516.0h.9v.9h-.9zM185.7 517.4h.9v.9h-.9zM189.0 519.5h.9v.9h-.9zM201.7 517.9h.9v.9h-.9zM184.3 518.2h.9v.9h-.9zM191.9 520.1h.9v.9h-.9zM182.5 525.4h.9v.9h-.9zM193.8 522.1h.9v.9h-.9zM200.4 528.0h.9v.9h-.9zM185.0 518.2h.9v.9h-.9zM196.9 515.4h.9v.9h-.9zM192.9 530.0h.9v.9h-.9zM186.2 525.5h.9v.9h-.9zM193.7 516.2h.9v.9h-.9zM188.9 522.8h.9v.9h-.9zM185.1 513.9h.9v.9h-.9zM180.3 531.3h.9v.9h-.9zM194.9 516.0h.9v.9h-.9zM190.4 514.0h.9v.9h-.9zM197.6 520.7h.9v.9h-.9zM198.9 521.1h.9v.9h-.9zM185.1 517.8h.9v.9h-.9zM173.7 550.2h.9v.9h-.9zM184.7 536.9h.9v.9h-.9zM182.4 553.0h.9v.9h-.9zM193.1 531.3h.9v.9h-.9zM169.8 540.2h.9v.9h-.9zM178.4 533.1h.9v.9h-.9zM161.3 545.8h.9v.9h-.9zM180.7 537.5h.9v.9h-.9zM172.5 542.8h.9v.9h-.9zM194.1 541.5h.9v.9h-.9zM174.5 533.4h.9v.9h-.9zM190.4 530.7h.9v.9h-.9zM188.5 519.5h.9v.9h-.9zM168.8 540.7h.9v.9h-.9zM184.6 531.9h.9v.9h-.9zM182.4 530.3h.9v.9h-.9zM186.7 528.4h.9v.9h-.9zM169.1 542.9h.9v.9h-.9zM170.3 534.1h.9v.9h-.9zM189.6 529.5h.9v.9h-.9zM179.2 538.0h.9v.9h-.9zM169.3 557.2h.9v.9h-.9zM205.5 531.0h.9v.9h-.9zM176.9 530.1h.9v.9h-.9zM183.3 533.4h.9v.9h-.9zM174.7 546.9h.9v.9h-.9zM195.4 526.9h.9v.9h-.9zM188.0 544.0h.9v.9h-.9zM173.2 533.7h.9v.9h-.9zM187.4 531.5h.9v.9h-.9zM199.2 530.8h.9v.9h-.9zM189.8 517.1h.9v.9h-.9zM186.5 533.1h.9v.9h-.9zM176.1 533.4h.9v.9h-.9zM187.1 548.3h.9v.9h-.9zM182.3 547.6h.9v.9h-.9zM166.5 556.8h.9v.9h-.9zM185.3 547.0h.9v.9h-.9zM181.5 535.6h.9v.9h-.9zM169.7 535.3h.9v.9h-.9zM180.3 540.9h.9v.9h-.9zM168.8 536.8h.9v.9h-.9zM168.0 551.3h.9v.9h-.9zM156.0 540.0h.9v.9h-.9zM188.2 516.8h.9v.9h-.9zM165.7 548.7h.9v.9h-.9zM195.7 540.3h.9v.9h-.9zM187.0 540.6h.9v.9h-.9zM183.6 525.7h.9v.9h-.9zM168.3 539.3h.9v.9h-.9zM171.6 558.8h.9v.9h-.9zM185.3 532.9h.9v.9h-.9zM180.8 527.2h.9v.9h-.9zM179.3 535.1h.9v.9h-.9zM182.9 529.4h.9v.9h-.9zM172.5 541.1h.9v.9h-.9zM181.0 536.7h.9v.9h-.9zM177.8 545.2h.9v.9h-.9zM182.2 541.6h.9v.9h-.9zM186.2 536.5h.9v.9h-.9zM192.2 516.1h.9v.9h-.9zM173.4 552.5h.9v.9h-.9zM160.0 535.8h.9v.9h-.9zM195.2 540.2h.9v.9h-.9zM187.8 553.2h.9v.9h-.9zM190.8 518.4h.9v.9h-.9zM188.3 522.1h.9v.9h-.9zM179.0 527.5h.9v.9h-.9zM179.7 531.6h.9v.9h-.9zM160.9 546.0h.9v.9h-.9zM176.5 532.8h.9v.9h-.9zM183.0 541.7h.9v.9h-.9zM182.8 533.4h.9v.9h-.9zM172.7 560.5h.9v.9h-.9zM175.5 548.7h.9v.9h-.9zM176.1 552.1h.9v.9h-.9zM194.1 531.9h.9v.9h-.9zM204.0 496.4h.9v.9h-.9zM176.5 545.7h.9v.9h-.9zM196.7 541.8h.9v.9h-.9zM172.4 532.9h.9v.9h-.9zM193.5 513.0h.9v.9h-.9zM176.3 550.1h.9v.9h-.9zM183.6 520.2h.9v.9h-.9zM198.7 535.6h.9v.9h-.9zM176.3 536.4h.9v.9h-.9zM178.4 539.0h.9v.9h-.9zM171.2 535.1h.9v.9h-.9zM195.0 537.0h.9v.9h-.9zM189.0 525.0h.9v.9h-.9zM176.0 543.0h.9v.9h-.9zM177.6 538.4h.9v.9h-.9zM178.9 548.5h.9v.9h-.9zM198.8 539.3h.9v.9h-.9zM179.3 533.5h.9v.9h-.9zM172.5 550.3h.9v.9h-.9zM179.8 544.1h.9v.9h-.9zM165.6 532.1h.9v.9h-.9zM174.0 542.5h.9v.9h-.9zM191.8 522.6h.9v.9h-.9zM173.6 518.2h.9v.9h-.9zM185.9 542.4h.9v.9h-.9zM180.8 533.9h.9v.9h-.9zM165.3 544.6h.9v.9h-.9zM188.9 527.9h.9v.9h-.9zM172.6 531.4h.9v.9h-.9zM171.5 544.6h.9v.9h-.9zM178.0 542.9h.9v.9h-.9zM179.2 546.7h.9v.9h-.9zM168.8 546.5h.9v.9h-.9zM201.7 542.7h.9v.9h-.9zM195.5 529.4h.9v.9h-.9zM166.8 543.4h.9v.9h-.9zM181.3 525.9h.9v.9h-.9zM171.7 534.4h.9v.9h-.9zM187.4 537.4h.9v.9h-.9zM177.5 536.1h.9v.9h-.9zM176.7 531.3h.9v.9h-.9zM175.9 534.2h.9v.9h-.9zM178.0 528.9h.9v.9h-.9zM169.7 537.4h.9v.9h-.9zM171.4 549.1h.9v.9h-.9zM170.3 538.0h.9v.9h-.9zM166.3 542.2h.9v.9h-.9zM162.7 521.3h.9v.9h-.9zM186.9 550.1h.9v.9h-.9zM184.6 529.5h.9v.9h-.9zM165.9 553.4h.9v.9h-.9zM163.4 536.8h.9v.9h-.9zM179.6 536.7h.9v.9h-.9zM201.4 532.0h.9v.9h-.9zM167.4 529.1h.9v.9h-.9zM184.3 522.1h.9v.9h-.9zM174.2 545.1h.9v.9h-.9zM183.4 538.7h.9v.9h-.9zM185.7 523.5h.9v.9h-.9zM180.0 538.0h.9v.9h-.9zM177.3 542.9h.9v.9h-.9zM169.0 541.5h.9v.9h-.9zM179.4 545.5h.9v.9h-.9zM181.8 543.1h.9v.9h-.9zM188.9 535.7h.9v.9h-.9zM184.6 527.6h.9v.9h-.9zM194.2 536.2h.9v.9h-.9zM178.2 532.9h.9v.9h-.9zM174.5 551.4h.9v.9h-.9zM186.4 527.4h.9v.9h-.9zM185.6 545.7h.9v.9h-.9zM193.3 534.3h.9v.9h-.9z" fill="#f01010" fill-opacity="0.8"/>
<ellipse cx="164.8" cy="551.5" rx="6.7" ry="3.3" fill="#dc1c00" fill-opacity="0.90" filter="url(#fb)" transform="rotate(0 164.8 551.5)"/>
<line x1="177.60" y1="485.70" x2="177.60" y2="563.10" stroke="#ee2020" stroke-width="0.9"/>
<line x1="145.40" y1="538.60" x2="223.00" y2="538.60" stroke="#ee2020" stroke-width="0.9"/>
<rect x="145.40" y="485.70" width="77.60" height="77.40" fill="none" stroke="#505050" stroke-width="0.7"/>
<line x1="143.40" y1="563.10" x2="145.40" y2="563.10" stroke="#444" stroke-width="0.6"/>
<line x1="145.40" y1="563.10" x2="145.40" y2="565.10" stroke="#444" stroke-width="0.6"/>
<text x="143.00" y="565.26" font-size="6.00" text-anchor="end" fill="#333">0</text>
<text x="145.40" y="571.06" font-size="6.00" text-anchor="middle" fill="#333">0</text>
<line x1="143.40" y1="543.75" x2="145.40" y2="543.75" stroke="#444" stroke-width="0.6"/>
<line x1="164.80" y1="563.10" x2="164.80" y2="565.10" stroke="#444" stroke-width="0.6"/>
<text x="143.00" y="545.91" font-size="6.00" text-anchor="end" fill="#333">1</text>
<text x="164.80" y="571.06" font-size="6.00" text-anchor="middle" fill="#333">1</text>
<line x1="143.40" y1="524.40" x2="145.40" y2="524.40" stroke="#444" stroke-width="0.6"/>
<line x1="184.20" y1="563.10" x2="184.20" y2="565.10" stroke="#444" stroke-width="0.6"/>
<text x="143.00" y="526.56" font-size="6.00" text-anchor="end" fill="#333">2</text>
<text x="184.20" y="571.06" font-size="6.00" text-anchor="middle" fill="#333">2</text>
<line x1="143.40" y1="505.05" x2="145.40" y2="505.05" stroke="#444" stroke-width="0.6"/>
<line x1="203.60" y1="563.10" x2="203.60" y2="565.10" stroke="#444" stroke-width="0.6"/>
<text x="143.00" y="507.21" font-size="6.00" text-anchor="end" fill="#333">3</text>
<text x="203.60" y="571.06" font-size="6.00" text-anchor="middle" fill="#333">3</text>
<line x1="143.40" y1="485.70" x2="145.40" y2="485.70" stroke="#444" stroke-width="0.6"/>
<line x1="223.00" y1="563.10" x2="223.00" y2="565.10" stroke="#444" stroke-width="0.6"/>
<text x="143.00" y="487.86" font-size="6.00" text-anchor="end" fill="#333">4</text>
<text x="223.00" y="571.06" font-size="6.00" text-anchor="middle" fill="#333">4</text>
<text x="184.20" y="483.66" font-size="6.00" text-anchor="middle" fill="#333" textLength="55.87" lengthAdjust="spacingAndGlyphs">APOPTOSIS PROFILE</text>
<text x="147.00" y="492.34" font-size="5.10" fill="#333">Dead</text>
<text x="147.00" y="498.54" font-size="5.10" fill="#333">1.76 %</text>
<text x="221.60" y="492.34" font-size="5.10" text-anchor="end" fill="#333">Late Apop./Dead</text>
<text x="221.60" y="498.54" font-size="5.10" text-anchor="end" fill="#333">8.36 %</text>
<text x="147.00" y="554.74" font-size="5.10" fill="#333">83.38 %</text>
<text x="147.00" y="560.94" font-size="5.10" fill="#333">Live</text>
<text x="221.60" y="554.74" font-size="5.10" text-anchor="end" fill="#333">6.50 %</text>
<text x="221.60" y="560.94" font-size="5.10" text-anchor="end" fill="#333">Early Apop.</text>
<text x="149.90" y="578.11" font-size="4.20" fill="#555">Live</text>
<text x="184.20" y="578.42" font-size="5.60" text-anchor="middle" fill="#444">ANNEXIN V</text>
<text x="224.00" y="578.11" font-size="4.20" text-anchor="end" fill="#555">Apoptosis</text>
<text x="134.82" y="524.40" font-size="5.60" text-anchor="middle" transform="rotate(-90 134.82 524.40)" fill="#444" textLength="24.00" lengthAdjust="spacingAndGlyphs">VIABILITY</text>
<rect x="243.50" y="485.50" width="80.00" height="80.20" fill="#ffffff"/>
<rect x="243.90" y="540.10" width="32.50" height="25.20" fill="#eaf2c6"/>
<path d="M274.3 547.5h.9v.9h-.9zM267.9 565.2h.9v.9h-.9zM270.5 549.9h.9v.9h-.9zM275.5 556.0h.9v.9h-.9zM275.4 548.2h.9v.9h-.9zM276.7 552.1h.9v.9h-.9zM269.3 552.4h.9v.9h-.9zM276.3 551.4h.9v.9h-.9zM267.4 553.0h.9v.9h-.9zM276.4 552.3h.9v.9h-.9zM266.2 557.6h.9v.9h-.9zM273.8 555.2h.9v.9h-.9zM275.5 555.9h.9v.9h-.9zM268.2 548.7h.9v.9h-.9zM265.4 554.0h.9v.9h-.9zM269.1 555.2h.9v.9h-.9zM276.2 557.4h.9v.9h-.9zM275.6 545.9h.9v.9h-.9zM273.9 548.4h.9v.9h-.9zM271.6 552.5h.9v.9h-.9zM275.0 551.6h.9v.9h-.9zM275.4 554.8h.9v.9h-.9zM260.2 555.0h.9v.9h-.9zM264.2 545.3h.9v.9h-.9zM271.2 555.8h.9v.9h-.9zM262.5 551.8h.9v.9h-.9zM274.9 550.4h.9v.9h-.9zM266.8 547.8h.9v.9h-.9zM278.2 553.2h.9v.9h-.9zM277.2 545.2h.9v.9h-.9zM280.3 551.3h.9v.9h-.9zM268.9 546.1h.9v.9h-.9zM276.2 547.8h.9v.9h-.9zM270.1 556.1h.9v.9h-.9zM268.6 548.0h.9v.9h-.9zM267.4 554.8h.9v.9h-.9zM270.7 549.5h.9v.9h-.9zM282.8 552.5h.9v.9h-.9zM273.7 549.7h.9v.9h-.9zM262.7 554.9h.9v.9h-.9zM258.8 558.7h.9v.9h-.9zM268.8 549.0h.9v.9h-.9zM275.6 545.8h.9v.9h-.9zM271.9 549.0h.9v.9h-.9zM274.2 552.4h.9v.9h-.9zM266.6 546.2h.9v.9h-.9zM271.3 549.2h.9v.9h-.9zM279.8 555.6h.9v.9h-.9zM266.9 548.0h.9v.9h-.9zM265.1 556.6h.9v.9h-.9zM270.1 553.5h.9v.9h-.9zM270.4 553.8h.9v.9h-.9zM272.4 552.8h.9v.9h-.9zM273.7 547.5h.9v.9h-.9zM273.5 554.4h.9v.9h-.9zM269.3 550.6h.9v.9h-.9zM270.0 554.7h.9v.9h-.9zM271.1 551.1h.9v.9h-.9zM271.5 549.6h.9v.9h-.9zM274.1 549.7h.9v.9h-.9zM274.6 554.9h.9v.9h-.9zM277.0 553.2h.9v.9h-.9zM265.0 552.3h.9v.9h-.9zM270.4 554.1h.9v.9h-.9zM271.1 546.7h.9v.9h-.9zM268.2 555.6h.9v.9h-.9zM262.8 550.1h.9v.9h-.9zM273.0 550.1h.9v.9h-.9zM266.9 557.6h.9v.9h-.9zM265.3 544.5h.9v.9h-.9zM270.4 549.2h.9v.9h-.9zM267.8 555.9h.9v.9h-.9zM273.5 551.1h.9v.9h-.9zM275.0 549.1h.9v.9h-.9zM279.7 549.7h.9v.9h-.9zM267.4 555.7h.9v.9h-.9zM271.2 549.6h.9v.9h-.9zM276.6 552.6h.9v.9h-.9zM269.9 548.1h.9v.9h-.9zM261.3 555.0h.9v.9h-.9zM267.6 552.6h.9v.9h-.9zM280.3 547.1h.9v.9h-.9zM274.4 556.4h.9v.9h-.9zM273.7 544.1h.9v.9h-.9zM263.7 552.4h.9v.9h-.9zM277.4 550.0h.9v.9h-.9zM273.6 557.7h.9v.9h-.9zM273.0 555.1h.9v.9h-.9zM271.6 544.6h.9v.9h-.9zM281.1 554.9h.9v.9h-.9zM260.6 554.3h.9v.9h-.9zM282.1 549.7h.9v.9h-.9zM272.7 549.3h.9v.9h-.9zM265.0 550.3h.9v.9h-.9zM271.2 549.4h.9v.9h-.9zM275.0 555.1h.9v.9h-.9zM263.6 550.4h.9v.9h-.9zM265.2 559.0h.9v.9h-.9zM269.2 550.7h.9v.9h-.9zM278.2 548.6h.9v.9h-.9zM270.8 550.8h.9v.9h-.9zM264.8 553.5h.9v.9h-.9zM275.1 552.7h.9v.9h-.9zM265.0 546.1h.9v.9h-.9zM270.2 553.6h.9v.9h-.9zM269.3 550.3h.9v.9h-.9zM269.7 557.1h.9v.9h-.9zM270.0 551.7h.9v.9h-.9zM267.7 552.3h.9v.9h-.9zM268.0 552.3h.9v.9h-.9zM280.9 547.2h.9v.9h-.9zM264.8 557.1h.9v.9h-.9zM270.6 552.5h.9v.9h-.9zM275.3 551.4h.9v.9h-.9zM275.6 550.6h.9v.9h-.9zM275.8 549.2h.9v.9h-.9zM269.3 555.9h.9v.9h-.9zM257.2 552.3h.9v.9h-.9zM259.3 551.8h.9v.9h-.9zM269.6 555.3h.9v.9h-.9zM273.6 553.3h.9v.9h-.9zM274.8 543.9h.9v.9h-.9zM268.0 549.1h.9v.9h-.9zM265.6 559.3h.9v.9h-.9zM259.6 556.2h.9v.9h-.9zM269.5 556.7h.9v.9h-.9zM268.7 553.9h.9v.9h-.9zM274.1 553.1h.9v.9h-.9zM278.4 553.7h.9v.9h-.9zM269.8 550.2h.9v.9h-.9zM273.3 556.6h.9v.9h-.9zM273.2 553.3h.9v.9h-.9zM273.1 549.5h.9v.9h-.9zM263.1 553.1h.9v.9h-.9zM269.9 550.6h.9v.9h-.9zM266.1 552.0h.9v.9h-.9zM278.1 560.6h.9v.9h-.9zM267.5 552.5h.9v.9h-.9zM271.7 551.2h.9v.9h-.9zM274.6 550.9h.9v.9h-.9zM271.7 548.1h.9v.9h-.9zM276.3 557.4h.9v.9h-.9zM275.7 555.2h.9v.9h-.9zM283.6 551.0h.9v.9h-.9zM270.7 548.3h.9v.9h-.9zM286.6 551.0h.9v.9h-.9zM269.3 549.7h.9v.9h-.9zM272.1 552.9h.9v.9h-.9zM274.9 551.6h.9v.9h-.9zM273.1 556.2h.9v.9h-.9zM261.6 551.5h.9v.9h-.9zM271.7 546.1h.9v.9h-.9zM272.5 545.5h.9v.9h-.9zM266.2 556.0h.9v.9h-.9zM273.0 555.3h.9v.9h-.9zM266.4 557.8h.9v.9h-.9zM277.4 553.6h.9v.9h-.9zM276.8 549.6h.9v.9h-.9zM277.6 554.2h.9v.9h-.9zM275.8 545.9h.9v.9h-.9zM271.5 553.4h.9v.9h-.9zM275.5 547.5h.9v.9h-.9zM271.6 551.0h.9v.9h-.9zM278.2 557.3h.9v.9h-.9zM275.2 551.8h.9v.9h-.9zM273.4 551.8h.9v.9h-.9zM271.9 554.9h.9v.9h-.9zM257.6 554.0h.9v.9h-.9zM270.9 555.0h.9v.9h-.9zM271.3 555.3h.9v.9h-.9zM269.8 552.1h.9v.9h-.9zM273.1 551.5h.9v.9h-.9zM275.3 551.1h.9v.9h-.9zM268.9 557.6h.9v.9h-.9zM274.7 549.3h.9v.9h-.9zM260.1 553.7h.9v.9h-.9zM272.0 549.5h.9v.9h-.9zM270.0 550.0h.9v.9h-.9zM282.2 552.9h.9v.9h-.9zM278.8 549.8h.9v.9h-.9zM270.0 550.5h.9v.9h-.9zM273.7 553.9h.9v.9h-.9zM275.3 551.0h.9v.9h-.9zM272.6 553.5h.9v.9h-.9zM278.0 550.9h.9v.9h-.9zM275.3 557.0h.9v.9h-.9zM272.0 557.0h.9v.9h-.9zM277.6 545.1h.9v.9h-.9zM275.6 549.5h.9v.9h-.9zM279.4 552.9h.9v.9h-.9zM270.1 542.5h.9v.9h-.9zM270.5 553.0h.9v.9h-.9zM267.3 553.2h.9v.9h-.9zM273.3 552.3h.9v.9h-.9zM268.0 552.6h.9v.9h-.9zM269.6 553.4h.9v.9h-.9zM275.7 545.2h.9v.9h-.9zM266.7 554.0h.9v.9h-.9zM273.3 551.0h.9v.9h-.9zM268.2 553.9h.9v.9h-.9zM273.9 553.3h.9v.9h-.9zM280.3 555.9h.9v.9h-.9zM277.1 550.4h.9v.9h-.9zM264.7 550.9h.9v.9h-.9zM272.8 551.8h.9v.9h-.9zM275.4 553.8h.9v.9h-.9zM266.3 548.4h.9v.9h-.9zM270.5 550.3h.9v.9h-.9zM273.0 551.2h.9v.9h-.9zM274.4 551.5h.9v.9h-.9zM270.1 555.5h.9v.9h-.9zM274.4 552.6h.9v.9h-.9zM273.5 549.4h.9v.9h-.9zM270.4 551.6h.9v.9h-.9zM266.7 550.2h.9v.9h-.9zM266.6 557.3h.9v.9h-.9zM273.5 553.5h.9v.9h-.9zM279.1 558.9h.9v.9h-.9zM275.3 552.3h.9v.9h-.9zM270.8 554.1h.9v.9h-.9zM275.3 554.7h.9v.9h-.9zM270.7 549.7h.9v.9h-.9zM274.2 551.7h.9v.9h-.9zM279.0 545.4h.9v.9h-.9zM272.3 552.1h.9v.9h-.9zM271.3 559.4h.9v.9h-.9zM272.8 553.0h.9v.9h-.9zM273.5 552.5h.9v.9h-.9zM274.4 548.3h.9v.9h-.9zM274.6 554.6h.9v.9h-.9zM272.0 552.0h.9v.9h-.9zM278.4 553.6h.9v.9h-.9zM274.2 552.2h.9v.9h-.9zM275.4 548.1h.9v.9h-.9zM273.7 546.4h.9v.9h-.9zM264.7 560.0h.9v.9h-.9zM271.4 547.2h.9v.9h-.9zM278.8 551.6h.9v.9h-.9zM271.7 544.5h.9v.9h-.9zM264.0 551.0h.9v.9h-.9zM268.2 546.9h.9v.9h-.9zM281.4 550.7h.9v.9h-.9zM267.5 553.6h.9v.9h-.9zM274.9 547.4h.9v.9h-.9zM271.1 544.6h.9v.9h-.9zM272.2 548.3h.9v.9h-.9zM263.9 547.9h.9v.9h-.9zM269.1 552.6h.9v.9h-.9zM274.9 551.0h.9v.9h-.9zM265.3 554.6h.9v.9h-.9zM264.4 554.0h.9v.9h-.9zM269.7 548.1h.9v.9h-.9zM282.3 552.0h.9v.9h-.9zM273.3 553.9h.9v.9h-.9zM283.6 551.4h.9v.9h-.9zM273.3 551.4h.9v.9h-.9zM270.8 544.7h.9v.9h-.9zM265.1 551.8h.9v.9h-.9zM271.5 549.8h.9v.9h-.9zM264.5 557.5h.9v.9h-.9zM268.1 557.6h.9v.9h-.9zM276.0 550.6h.9v.9h-.9zM282.0 552.4h.9v.9h-.9zM265.7 553.1h.9v.9h-.9zM273.1 553.3h.9v.9h-.9zM279.9 550.8h.9v.9h-.9zM268.4 555.2h.9v.9h-.9zM264.0 558.8h.9v.9h-.9zM265.7 551.2h.9v.9h-.9zM266.1 546.4h.9v.9h-.9zM266.4 551.2h.9v.9h-.9zM273.0 542.5h.9v.9h-.9zM279.9 551.5h.9v.9h-.9zM268.7 550.8h.9v.9h-.9zM274.2 550.6h.9v.9h-.9zM266.5 555.9h.9v.9h-.9zM274.5 552.7h.9v.9h-.9zM281.3 554.4h.9v.9h-.9zM273.8 556.3h.9v.9h-.9zM271.1 547.7h.9v.9h-.9zM273.9 554.7h.9v.9h-.9zM275.9 557.3h.9v.9h-.9zM270.8 554.1h.9v.9h-.9zM270.5 552.5h.9v.9h-.9zM272.6 550.3h.9v.9h-.9zM273.4 548.1h.9v.9h-.9zM272.6 548.2h.9v.9h-.9zM268.5 551.3h.9v.9h-.9zM277.0 541.6h.9v.9h-.9zM277.7 542.1h.9v.9h-.9zM265.9 550.1h.9v.9h-.9zM272.7 552.9h.9v.9h-.9zM276.1 553.2h.9v.9h-.9zM275.0 549.6h.9v.9h-.9zM272.9 554.7h.9v.9h-.9zM277.9 556.4h.9v.9h-.9zM275.8 555.0h.9v.9h-.9zM271.2 557.8h.9v.9h-.9zM280.2 556.7h.9v.9h-.9zM284.1 547.5h.9v.9h-.9zM276.6 551.3h.9v.9h-.9zM265.2 557.9h.9v.9h-.9zM272.2 553.2h.9v.9h-.9zM273.5 553.7h.9v.9h-.9zM270.5 554.8h.9v.9h-.9zM273.8 553.8h.9v.9h-.9zM275.9 548.9h.9v.9h-.9zM269.8 550.3h.9v.9h-.9zM284.0 551.5h.9v.9h-.9zM267.2 557.9h.9v.9h-.9zM268.2 554.6h.9v.9h-.9zM268.3 551.7h.9v.9h-.9zM280.7 549.6h.9v.9h-.9zM265.5 554.3h.9v.9h-.9zM263.6 550.6h.9v.9h-.9zM273.3 556.7h.9v.9h-.9zM271.8 557.9h.9v.9h-.9zM276.8 557.7h.9v.9h-.9zM267.5 552.3h.9v.9h-.9zM272.1 555.1h.9v.9h-.9zM273.3 550.7h.9v.9h-.9zM272.7 551.9h.9v.9h-.9zM276.6 552.7h.9v.9h-.9zM276.1 552.2h.9v.9h-.9zM266.4 552.1h.9v.9h-.9zM271.5 546.7h.9v.9h-.9zM268.0 548.9h.9v.9h-.9zM277.9 546.8h.9v.9h-.9zM279.4 549.9h.9v.9h-.9zM271.5 550.7h.9v.9h-.9zM261.0 552.7h.9v.9h-.9zM269.6 551.6h.9v.9h-.9zM265.8 548.4h.9v.9h-.9zM273.6 551.4h.9v.9h-.9zM269.6 552.5h.9v.9h-.9zM262.3 550.4h.9v.9h-.9zM266.7 556.0h.9v.9h-.9zM265.2 549.1h.9v.9h-.9zM266.5 555.1h.9v.9h-.9zM277.1 552.8h.9v.9h-.9zM269.6 549.4h.9v.9h-.9zM262.7 547.7h.9v.9h-.9zM270.2 551.3h.9v.9h-.9zM279.0 553.5h.9v.9h-.9zM276.3 555.5h.9v.9h-.9zM273.8 552.5h.9v.9h-.9zM272.3 552.3h.9v.9h-.9zM275.0 551.8h.9v.9h-.9zM275.1 547.9h.9v.9h-.9zM265.8 557.9h.9v.9h-.9zM260.8 553.4h.9v.9h-.9zM271.5 550.7h.9v.9h-.9zM270.5 549.4h.9v.9h-.9zM261.4 556.2h.9v.9h-.9zM274.5 555.4h.9v.9h-.9zM277.5 548.7h.9v.9h-.9zM269.3 557.4h.9v.9h-.9zM274.9 550.7h.9v.9h-.9zM265.4 554.3h.9v.9h-.9zM282.1 553.1h.9v.9h-.9zM271.1 555.6h.9v.9h-.9zM271.1 555.7h.9v.9h-.9zM274.7 546.9h.9v.9h-.9zM268.3 553.2h.9v.9h-.9zM274.8 548.4h.9v.9h-.9zM267.4 557.7h.9v.9h-.9zM272.3 551.4h.9v.9h-.9zM274.4 548.9h.9v.9h-.9zM268.1 550.3h.9v.9h-.9zM273.7 545.9h.9v.9h-.9zM268.3 554.7h.9v.9h-.9zM265.8 551.1h.9v.9h-.9zM266.3 549.0h.9v.9h-.9zM270.9 551.0h.9v.9h-.9zM272.6 551.2h.9v.9h-.9zM274.2 555.8h.9v.9h-.9zM268.0 554.2h.9v.9h-.9zM265.1 553.6h.9v.9h-.9zM271.2 550.1h.9v.9h-.9zM275.8 549.1h.9v.9h-.9zM269.5 556.5h.9v.9h-.9zM274.8 548.2h.9v.9h-.9zM277.0 548.7h.9v.9h-.9zM276.8 551.4h.9v.9h-.9zM265.6 554.3h.9v.9h-.9zM271.0 547.8h.9v.9h-.9zM268.0 551.3h.9v.9h-.9zM265.1 550.8h.9v.9h-.9zM267.1 547.8h.9v.9h-.9zM276.5 553.5h.9v.9h-.9zM273.4 559.6h.9v.9h-.9zM275.3 555.8h.9v.9h-.9zM276.3 552.5h.9v.9h-.9zM273.4 550.5h.9v.9h-.9zM275.2 551.3h.9v.9h-.9zM271.7 549.8h.9v.9h-.9zM272.3 550.0h.9v.9h-.9zM266.1 554.3h.9v.9h-.9zM272.7 558.6h.9v.9h-.9zM268.0 550.0h.9v.9h-.9zM266.3 550.0h.9v.9h-.9zM262.0 548.9h.9v.9h-.9zM267.5 553.5h.9v.9h-.9zM276.4 554.1h.9v.9h-.9zM268.3 552.2h.9v.9h-.9zM267.5 549.2h.9v.9h-.9zM276.9 555.9h.9v.9h-.9zM274.2 551.2h.9v.9h-.9zM270.3 548.7h.9v.9h-.9zM270.9 544.7h.9v.9h-.9zM273.5 553.0h.9v.9h-.9zM273.4 549.2h.9v.9h-.9zM271.8 550.0h.9v.9h-.9zM281.5 547.7h.9v.9h-.9zM266.3 549.0h.9v.9h-.9zM280.7 556.2h.9v.9h-.9zM271.4 555.7h.9v.9h-.9zM268.3 551.9h.9v.9h-.9zM264.1 544.6h.9v.9h-.9zM283.9 547.3h.9v.9h-.9zM273.7 545.6h.9v.9h-.9zM263.3 546.5h.9v.9h-.9zM266.7 549.2h.9v.9h-.9zM274.4 547.6h.9v.9h-.9zM275.7 546.5h.9v.9h-.9zM270.3 552.4h.9v.9h-.9zM280.0 546.0h.9v.9h-.9zM269.3 553.0h.9v.9h-.9zM275.3 550.2h.9v.9h-.9zM274.7 552.2h.9v.9h-.9zM277.8 555.9h.9v.9h-.9zM277.2 549.5h.9v.9h-.9zM271.8 551.1h.9v.9h-.9zM275.6 554.3h.9v.9h-.9zM274.4 550.9h.9v.9h-.9zM267.0 547.0h.9v.9h-.9zM272.9 554.7h.9v.9h-.9zM267.9 549.6h.9v.9h-.9zM268.5 549.9h.9v.9h-.9zM268.9 552.5h.9v.9h-.9zM271.7 553.1h.9v.9h-.9zM277.4 551.0h.9v.9h-.9zM266.1 552.6h.9v.9h-.9zM272.4 549.6h.9v.9h-.9zM274.9 550.1h.9v.9h-.9zM276.5 548.6h.9v.9h-.9zM271.3 552.6h.9v.9h-.9zM272.0 554.7h.9v.9h-.9zM277.1 551.4h.9v.9h-.9zM270.8 551.1h.9v.9h-.9zM273.0 554.2h.9v.9h-.9zM270.9 551.8h.9v.9h-.9zM270.4 553.4h.9v.9h-.9zM271.7 551.4h.9v.9h-.9zM268.5 547.0h.9v.9h-.9zM270.5 551.1h.9v.9h-.9zM278.9 551.0h.9v.9h-.9zM272.6 556.9h.9v.9h-.9zM276.6 543.5h.9v.9h-.9zM275.2 555.8h.9v.9h-.9zM266.6 550.3h.9v.9h-.9zM276.0 551.9h.9v.9h-.9zM279.2 551.4h.9v.9h-.9zM268.5 551.1h.9v.9h-.9zM269.3 558.1h.9v.9h-.9zM268.6 552.1h.9v.9h-.9zM264.8 550.6h.9v.9h-.9zM276.5 554.0h.9v.9h-.9zM265.6 554.7h.9v.9h-.9zM272.2 555.5h.9v.9h-.9zM273.3 551.0h.9v.9h-.9zM270.1 546.4h.9v.9h-.9zM262.3 558.0h.9v.9h-.9zM275.6 552.0h.9v.9h-.9zM275.5 555.5h.9v.9h-.9zM275.3 556.5h.9v.9h-.9zM262.0 553.9h.9v.9h-.9zM273.4 552.9h.9v.9h-.9zM278.6 552.7h.9v.9h-.9zM271.9 551.4h.9v.9h-.9zM266.7 547.2h.9v.9h-.9zM260.0 546.8h.9v.9h-.9zM278.6 549.8h.9v.9h-.9zM265.0 552.8h.9v.9h-.9zM268.0 553.3h.9v.9h-.9zM270.7 549.7h.9v.9h-.9zM266.5 549.9h.9v.9h-.9zM279.6 545.0h.9v.9h-.9zM270.0 552.8h.9v.9h-.9zM271.0 550.1h.9v.9h-.9zM268.7 554.8h.9v.9h-.9zM267.5 550.6h.9v.9h-.9zM277.8 545.5h.9v.9h-.9zM274.1 549.9h.9v.9h-.9zM262.4 557.6h.9v.9h-.9zM277.5 549.5h.9v.9h-.9zM269.8 557.2h.9v.9h-.9zM272.1 556.4h.9v.9h-.9zM278.0 552.9h.9v.9h-.9zM270.5 546.1h.9v.9h-.9zM275.0 548.4h.9v.9h-.9zM272.3 550.7h.9v.9h-.9zM264.7 557.5h.9v.9h-.9zM270.6 549.6h.9v.9h-.9zM268.5 556.7h.9v.9h-.9zM265.4 555.1h.9v.9h-.9zM276.8 550.1h.9v.9h-.9zM275.8 552.1h.9v.9h-.9zM274.6 552.5h.9v.9h-.9zM273.2 549.4h.9v.9h-.9zM262.6 552.3h.9v.9h-.9zM271.6 558.1h.9v.9h-.9zM263.3 557.9h.9v.9h-.9zM273.9 553.6h.9v.9h-.9zM272.1 551.1h.9v.9h-.9zM270.2 549.9h.9v.9h-.9zM267.8 552.8h.9v.9h-.9zM269.8 552.7h.9v.9h-.9zM271.7 548.6h.9v.9h-.9zM274.0 555.9h.9v.9h-.9zM278.8 552.9h.9v.9h-.9zM276.8 552.3h.9v.9h-.9zM272.2 549.2h.9v.9h-.9zM279.0 552.5h.9v.9h-.9zM263.2 554.6h.9v.9h-.9zM271.9 552.6h.9v.9h-.9zM272.7 550.4h.9v.9h-.9zM269.2 551.1h.9v.9h-.9zM270.3 555.4h.9v.9h-.9zM271.8 557.1h.9v.9h-.9zM267.2 545.1h.9v.9h-.9zM270.4 551.6h.9v.9h-.9zM269.8 550.9h.9v.9h-.9zM270.9 546.0h.9v.9h-.9zM281.9 549.4h.9v.9h-.9zM276.0 553.7h.9v.9h-.9zM268.0 557.0h.9v.9h-.9zM268.6 551.9h.9v.9h-.9zM276.6 555.4h.9v.9h-.9zM264.3 543.4h.9v.9h-.9zM271.3 553.0h.9v.9h-.9zM276.8 544.8h.9v.9h-.9zM270.8 555.0h.9v.9h-.9zM272.3 547.9h.9v.9h-.9zM269.6 547.9h.9v.9h-.9zM272.5 549.8h.9v.9h-.9zM279.2 548.9h.9v.9h-.9zM268.9 552.1h.9v.9h-.9zM268.8 550.4h.9v.9h-.9zM267.4 547.1h.9v.9h-.9zM266.1 547.6h.9v.9h-.9zM264.1 553.6h.9v.9h-.9zM277.5 551.4h.9v.9h-.9zM274.7 551.8h.9v.9h-.9zM268.2 557.2h.9v.9h-.9zM279.6 549.7h.9v.9h-.9zM266.0 550.0h.9v.9h-.9zM265.8 557.3h.9v.9h-.9zM276.9 549.8h.9v.9h-.9zM277.8 552.9h.9v.9h-.9zM266.9 551.2h.9v.9h-.9zM270.7 550.6h.9v.9h-.9zM286.2 544.7h.9v.9h-.9zM275.3 546.0h.9v.9h-.9zM271.9 547.0h.9v.9h-.9zM269.1 546.4h.9v.9h-.9zM281.0 551.0h.9v.9h-.9zM272.1 555.7h.9v.9h-.9zM267.3 555.9h.9v.9h-.9zM267.6 545.8h.9v.9h-.9zM272.5 547.8h.9v.9h-.9zM274.9 546.5h.9v.9h-.9zM278.7 548.0h.9v.9h-.9zM262.9 550.6h.9v.9h-.9zM269.4 560.3h.9v.9h-.9zM269.8 552.6h.9v.9h-.9zM271.0 555.5h.9v.9h-.9zM273.9 550.5h.9v.9h-.9zM264.9 549.5h.9v.9h-.9zM275.9 552.4h.9v.9h-.9zM280.0 552.1h.9v.9h-.9zM268.1 549.4h.9v.9h-.9zM273.2 552.1h.9v.9h-.9zM272.6 551.6h.9v.9h-.9zM275.1 554.7h.9v.9h-.9zM274.4 557.9h.9v.9h-.9zM264.2 556.2h.9v.9h-.9zM266.4 553.9h.9v.9h-.9zM272.5 555.0h.9v.9h-.9zM267.3 550.8h.9v.9h-.9zM263.0 555.4h.9v.9h-.9zM270.5 552.4h.9v.9h-.9zM277.1 549.2h.9v.9h-.9zM269.2 552.5h.9v.9h-.9zM273.0 550.6h.9v.9h-.9zM270.6 549.3h.9v.9h-.9zM269.5 556.6h.9v.9h-.9zM274.8 549.3h.9v.9h-.9zM264.3 552.3h.9v.9h-.9zM267.2 550.6h.9v.9h-.9zM273.5 551.2h.9v.9h-.9zM269.2 558.5h.9v.9h-.9zM271.0 556.1h.9v.9h-.9zM271.9 553.5h.9v.9h-.9zM272.0 552.8h.9v.9h-.9zM266.8 554.7h.9v.9h-.9zM265.1 549.3h.9v.9h-.9zM272.2 556.2h.9v.9h-.9zM270.0 552.5h.9v.9h-.9zM272.1 551.3h.9v.9h-.9zM268.2 550.4h.9v.9h-.9zM272.9 549.0h.9v.9h-.9zM273.6 550.7h.9v.9h-.9zM260.3 553.4h.9v.9h-.9zM267.5 557.3h.9v.9h-.9zM277.4 550.1h.9v.9h-.9zM281.5 552.0h.9v.9h-.9zM275.6 550.3h.9v.9h-.9zM271.3 549.4h.9v.9h-.9zM273.4 549.2h.9v.9h-.9zM274.8 549.0h.9v.9h-.9zM281.3 552.4h.9v.9h-.9zM273.2 558.6h.9v.9h-.9zM271.6 547.1h.9v.9h-.9zM270.8 548.7h.9v.9h-.9zM279.1 549.2h.9v.9h-.9zM268.9 550.4h.9v.9h-.9zM266.8 552.7h.9v.9h-.9zM275.5 541.6h.9v.9h-.9zM269.5 553.5h.9v.9h-.9zM277.3 545.5h.9v.9h-.9zM274.5 551.4h.9v.9h-.9zM267.2 553.1h.9v.9h-.9zM275.0 546.8h.9v.9h-.9zM269.5 547.1h.9v.9h-.9zM266.6 555.4h.9v.9h-.9zM269.8 551.2h.9v.9h-.9zM272.9 551.8h.9v.9h-.9zM274.5 548.3h.9v.9h-.9zM277.2 552.8h.9v.9h-.9zM270.5 550.5h.9v.9h-.9zM272.1 546.6h.9v.9h-.9zM284.0 550.6h.9v.9h-.9zM282.5 554.6h.9v.9h-.9zM271.2 550.4h.9v.9h-.9zM271.1 552.2h.9v.9h-.9zM262.3 553.3h.9v.9h-.9zM271.1 549.2h.9v.9h-.9zM272.2 547.1h.9v.9h-.9zM268.4 553.9h.9v.9h-.9zM273.5 555.3h.9v.9h-.9zM270.5 551.5h.9v.9h-.9zM267.1 551.3h.9v.9h-.9zM276.8 544.9h.9v.9h-.9zM273.6 553.6h.9v.9h-.9zM274.1 545.6h.9v.9h-.9zM260.5 553.3h.9v.9h-.9zM278.1 552.9h.9v.9h-.9zM268.4 548.4h.9v.9h-.9zM263.4 556.5h.9v.9h-.9zM270.1 548.3h.9v.9h-.9zM265.9 547.7h.9v.9h-.9zM270.0 548.5h.9v.9h-.9zM281.2 549.3h.9v.9h-.9zM278.4 542.9h.9v.9h-.9zM272.3 551.4h.9v.9h-.9zM269.1 549.0h.9v.9h-.9zM281.7 555.2h.9v.9h-.9zM275.1 548.4h.9v.9h-.9zM271.5 546.9h.9v.9h-.9zM272.6 548.8h.9v.9h-.9zM262.3 552.4h.9v.9h-.9zM278.2 552.1h.9v.9h-.9zM271.1 554.2h.9v.9h-.9zM266.4 550.4h.9v.9h-.9zM271.8 549.6h.9v.9h-.9zM278.2 550.4h.9v.9h-.9zM266.7 553.8h.9v.9h-.9zM266.9 557.3h.9v.9h-.9zM271.1 546.7h.9v.9h-.9zM272.4 554.1h.9v.9h-.9zM272.7 553.3h.9v.9h-.9zM271.5 548.8h.9v.9h-.9zM267.4 553.8h.9v.9h-.9zM262.2 551.8h.9v.9h-.9zM276.1 546.9h.9v.9h-.9zM273.1 551.1h.9v.9h-.9zM274.5 552.8h.9v.9h-.9zM272.8 560.7h.9v.9h-.9zM265.3 557.6h.9v.9h-.9zM279.5 551.5h.9v.9h-.9zM275.8 556.1h.9v.9h-.9zM274.3 553.7h.9v.9h-.9zM269.9 557.3h.9v.9h-.9zM272.6 552.9h.9v.9h-.9zM264.2 546.6h.9v.9h-.9zM272.7 557.1h.9v.9h-.9zM261.8 551.4h.9v.9h-.9zM269.5 550.4h.9v.9h-.9zM276.4 547.7h.9v.9h-.9zM291.3 541.7h.9v.9h-.9zM279.2 544.8h.9v.9h-.9zM276.1 548.9h.9v.9h-.9zM273.5 553.9h.9v.9h-.9zM269.6 557.4h.9v.9h-.9zM270.5 541.0h.9v.9h-.9zM264.3 551.1h.9v.9h-.9zM279.9 540.6h.9v.9h-.9zM284.5 547.3h.9v.9h-.9zM272.4 548.9h.9v.9h-.9zM275.2 544.9h.9v.9h-.9zM270.3 545.4h.9v.9h-.9zM277.0 546.6h.9v.9h-.9zM270.4 553.5h.9v.9h-.9zM274.3 546.6h.9v.9h-.9zM280.4 544.0h.9v.9h-.9zM278.4 549.2h.9v.9h-.9zM278.4 545.8h.9v.9h-.9zM283.7 543.4h.9v.9h-.9zM265.8 553.3h.9v.9h-.9zM278.9 550.8h.9v.9h-.9zM266.5 546.9h.9v.9h-.9zM269.2 547.3h.9v.9h-.9zM277.9 547.1h.9v.9h-.9zM274.2 545.4h.9v.9h-.9zM272.2 547.2h.9v.9h-.9zM272.8 550.2h.9v.9h-.9zM283.2 536.0h.9v.9h-.9zM281.6 551.6h.9v.9h-.9zM272.3 543.5h.9v.9h-.9zM280.7 551.4h.9v.9h-.9zM269.4 531.9h.9v.9h-.9zM275.5 545.7h.9v.9h-.9zM283.5 545.8h.9v.9h-.9zM274.8 552.5h.9v.9h-.9zM280.0 546.9h.9v.9h-.9zM293.9 545.6h.9v.9h-.9zM269.2 533.2h.9v.9h-.9zM281.1 543.3h.9v.9h-.9zM267.3 549.1h.9v.9h-.9zM274.5 549.0h.9v.9h-.9zM272.4 552.3h.9v.9h-.9zM278.5 553.4h.9v.9h-.9zM290.9 548.6h.9v.9h-.9zM271.4 553.6h.9v.9h-.9zM272.4 545.8h.9v.9h-.9zM277.2 554.9h.9v.9h-.9zM275.7 552.8h.9v.9h-.9zM266.3 548.6h.9v.9h-.9zM272.3 547.4h.9v.9h-.9zM268.5 548.7h.9v.9h-.9zM274.3 551.1h.9v.9h-.9zM280.8 541.5h.9v.9h-.9zM279.9 549.6h.9v.9h-.9zM279.4 550.8h.9v.9h-.9zM274.6 552.1h.9v.9h-.9zM293.3 543.2h.9v.9h-.9zM280.9 551.1h.9v.9h-.9zM277.9 548.8h.9v.9h-.9zM269.7 553.2h.9v.9h-.9zM276.9 547.0h.9v.9h-.9zM270.0 545.4h.9v.9h-.9zM270.4 545.7h.9v.9h-.9zM280.5 543.9h.9v.9h-.9zM271.5 554.9h.9v.9h-.9zM272.6 539.8h.9v.9h-.9zM277.7 547.1h.9v.9h-.9zM276.2 547.2h.9v.9h-.9zM262.5 556.8h.9v.9h-.9zM276.5 549.5h.9v.9h-.9zM265.6 552.8h.9v.9h-.9zM277.4 558.5h.9v.9h-.9zM279.7 539.5h.9v.9h-.9zM273.6 549.1h.9v.9h-.9zM277.8 550.0h.9v.9h-.9zM270.4 548.5h.9v.9h-.9zM275.6 545.3h.9v.9h-.9zM274.8 547.9h.9v.9h-.9zM280.3 547.4h.9v.9h-.9zM279.9 540.5h.9v.9h-.9zM264.1 552.5h.9v.9h-.9zM278.0 534.8h.9v.9h-.9zM275.7 552.8h.9v.9h-.9zM270.8 562.8h.9v.9h-.9zM286.7 548.1h.9v.9h-.9zM275.1 547.8h.9v.9h-.9zM275.2 543.9h.9v.9h-.9zM279.0 550.8h.9v.9h-.9zM275.5 557.5h.9v.9h-.9zM268.5 546.1h.9v.9h-.9zM280.7 553.4h.9v.9h-.9zM265.2 551.5h.9v.9h-.9zM274.2 555.3h.9v.9h-.9zM283.5 555.1h.9v.9h-.9zM267.8 538.1h.9v.9h-.9zM267.7 547.7h.9v.9h-.9zM261.0 548.2h.9v.9h-.9zM287.4 541.0h.9v.9h-.9zM285.3 533.5h.9v.9h-.9zM276.7 547.9h.9v.9h-.9zM276.2 546.0h.9v.9h-.9zM271.2 556.1h.9v.9h-.9zM282.6 542.0h.9v.9h-.9zM272.9 547.6h.9v.9h-.9zM261.1 544.0h.9v.9h-.9zM277.0 544.9h.9v.9h-.9zM273.5 552.8h.9v.9h-.9zM275.5 548.5h.9v.9h-.9zM274.8 556.9h.9v.9h-.9zM263.0 551.9h.9v.9h-.9zM287.6 551.4h.9v.9h-.9zM289.5 544.6h.9v.9h-.9zM285.8 541.7h.9v.9h-.9zM293.8 549.9h.9v.9h-.9zM275.2 534.9h.9v.9h-.9zM284.2 548.9h.9v.9h-.9zM271.6 553.1h.9v.9h-.9zM273.1 544.3h.9v.9h-.9zM279.0 555.2h.9v.9h-.9zM270.8 542.3h.9v.9h-.9zM276.2 551.5h.9v.9h-.9zM282.2 536.3h.9v.9h-.9zM279.2 544.2h.9v.9h-.9zM277.1 551.5h.9v.9h-.9zM272.2 561.3h.9v.9h-.9zM269.7 550.7h.9v.9h-.9zM279.6 533.6h.9v.9h-.9zM277.4 552.6h.9v.9h-.9zM264.7 553.8h.9v.9h-.9zM271.5 546.7h.9v.9h-.9zM265.5 551.9h.9v.9h-.9zM276.5 550.9h.9v.9h-.9zM264.7 549.8h.9v.9h-.9zM268.5 563.3h.9v.9h-.9zM274.0 554.2h.9v.9h-.9zM278.4 541.4h.9v.9h-.9zM274.9 553.3h.9v.9h-.9zM275.8 547.8h.9v.9h-.9zM277.7 549.4h.9v.9h-.9zM271.8 549.0h.9v.9h-.9zM274.8 549.7h.9v.9h-.9zM281.8 540.9h.9v.9h-.9zM274.3 549.4h.9v.9h-.9zM270.2 557.1h.9v.9h-.9zM274.5 554.6h.9v.9h-.9zM282.6 542.3h.9v.9h-.9zM270.9 546.0h.9v.9h-.9zM278.4 546.5h.9v.9h-.9zM269.5 551.5h.9v.9h-.9zM273.0 550.0h.9v.9h-.9zM276.6 545.7h.9v.9h-.9zM277.7 551.8h.9v.9h-.9zM276.9 536.9h.9v.9h-.9zM281.2 541.9h.9v.9h-.9zM286.0 552.5h.9v.9h-.9zM281.6 544.4h.9v.9h-.9zM275.1 539.9h.9v.9h-.9zM281.7 551.7h.9v.9h-.9zM277.3 550.7h.9v.9h-.9zM279.8 540.5h.9v.9h-.9zM270.7 553.7h.9v.9h-.9zM280.2 530.8h.9v.9h-.9zM279.2 554.1h.9v.9h-.9zM278.0 556.5h.9v.9h-.9zM271.9 551.0h.9v.9h-.9zM270.9 556.4h.9v.9h-.9zM276.1 546.2h.9v.9h-.9zM271.5 550.0h.9v.9h-.9zM283.7 556.6h.9v.9h-.9zM290.7 540.5h.9v.9h-.9zM265.8 542.1h.9v.9h-.9zM283.7 542.5h.9v.9h-.9zM277.9 548.1h.9v.9h-.9zM290.9 538.8h.9v.9h-.9zM271.0 542.5h.9v.9h-.9zM274.1 552.1h.9v.9h-.9zM281.1 545.4h.9v.9h-.9zM279.6 549.1h.9v.9h-.9zM277.5 534.5h.9v.9h-.9zM268.3 550.7h.9v.9h-.9zM275.6 544.4h.9v.9h-.9zM266.1 553.9h.9v.9h-.9zM279.1 540.0h.9v.9h-.9zM268.3 551.2h.9v.9h-.9zM273.2 539.7h.9v.9h-.9zM281.5 536.2h.9v.9h-.9zM279.2 551.9h.9v.9h-.9zM276.2 541.1h.9v.9h-.9zM272.4 556.6h.9v.9h-.9zM269.5 556.4h.9v.9h-.9zM270.1 550.1h.9v.9h-.9zM280.5 546.6h.9v.9h-.9zM265.9 553.4h.9v.9h-.9zM283.1 549.8h.9v.9h-.9zM271.7 550.9h.9v.9h-.9zM278.5 551.8h.9v.9h-.9zM275.0 553.6h.9v.9h-.9zM281.8 541.5h.9v.9h-.9zM276.6 547.2h.9v.9h-.9zM269.8 553.4h.9v.9h-.9zM269.5 538.0h.9v.9h-.9zM284.3 557.2h.9v.9h-.9zM272.5 537.1h.9v.9h-.9zM272.2 545.6h.9v.9h-.9zM276.0 536.1h.9v.9h-.9zM277.0 541.9h.9v.9h-.9zM276.8 549.3h.9v.9h-.9zM283.7 550.1h.9v.9h-.9zM270.5 550.9h.9v.9h-.9zM280.7 532.8h.9v.9h-.9zM277.3 540.4h.9v.9h-.9zM275.6 544.4h.9v.9h-.9zM267.1 551.2h.9v.9h-.9zM279.0 545.1h.9v.9h-.9zM273.0 549.5h.9v.9h-.9zM271.9 552.1h.9v.9h-.9zM285.5 539.7h.9v.9h-.9zM274.8 534.9h.9v.9h-.9zM280.3 553.6h.9v.9h-.9zM281.2 548.4h.9v.9h-.9zM275.7 553.7h.9v.9h-.9zM272.8 544.2h.9v.9h-.9zM278.4 550.2h.9v.9h-.9zM272.9 560.5h.9v.9h-.9zM272.3 559.7h.9v.9h-.9zM268.4 555.1h.9v.9h-.9zM274.0 537.0h.9v.9h-.9zM270.8 539.9h.9v.9h-.9zM270.4 557.8h.9v.9h-.9zM283.1 548.7h.9v.9h-.9zM275.8 543.8h.9v.9h-.9zM269.2 557.9h.9v.9h-.9zM276.9 542.3h.9v.9h-.9zM273.8 555.1h.9v.9h-.9zM284.2 542.7h.9v.9h-.9zM284.4 541.5h.9v.9h-.9zM283.0 545.2h.9v.9h-.9zM272.7 549.9h.9v.9h-.9zM273.9 545.9h.9v.9h-.9zM289.5 556.3h.9v.9h-.9zM287.7 547.7h.9v.9h-.9zM266.5 558.0h.9v.9h-.9zM280.9 546.7h.9v.9h-.9zM284.8 542.5h.9v.9h-.9zM269.7 544.9h.9v.9h-.9zM272.7 543.1h.9v.9h-.9zM275.2 547.9h.9v.9h-.9zM278.5 549.4h.9v.9h-.9zM279.2 537.3h.9v.9h-.9zM281.0 541.4h.9v.9h-.9zM290.9 524.3h.9v.9h-.9zM282.1 525.8h.9v.9h-.9zM283.8 538.0h.9v.9h-.9zM283.6 530.4h.9v.9h-.9zM276.4 537.7h.9v.9h-.9zM285.1 514.6h.9v.9h-.9zM293.3 524.3h.9v.9h-.9zM285.9 516.2h.9v.9h-.9zM286.7 531.6h.9v.9h-.9zM293.8 518.7h.9v.9h-.9zM286.5 530.5h.9v.9h-.9zM284.3 519.1h.9v.9h-.9zM293.5 530.5h.9v.9h-.9zM292.7 524.3h.9v.9h-.9zM281.9 527.8h.9v.9h-.9zM282.0 525.0h.9v.9h-.9zM275.7 537.1h.9v.9h-.9zM290.9 537.4h.9v.9h-.9zM287.0 523.8h.9v.9h-.9zM283.7 530.7h.9v.9h-.9zM287.2 522.9h.9v.9h-.9zM280.2 524.0h.9v.9h-.9zM289.4 530.8h.9v.9h-.9zM289.2 525.9h.9v.9h-.9zM289.0 537.3h.9v.9h-.9zM290.8 526.3h.9v.9h-.9zM291.4 518.9h.9v.9h-.9zM277.0 533.3h.9v.9h-.9zM288.1 530.2h.9v.9h-.9zM277.9 531.0h.9v.9h-.9zM281.0 526.1h.9v.9h-.9zM294.4 520.3h.9v.9h-.9zM285.7 525.8h.9v.9h-.9zM277.7 531.7h.9v.9h-.9zM280.5 536.8h.9v.9h-.9zM280.3 526.7h.9v.9h-.9zM272.9 534.4h.9v.9h-.9zM286.1 520.7h.9v.9h-.9zM288.7 522.4h.9v.9h-.9zM286.3 526.3h.9v.9h-.9zM285.5 520.3h.9v.9h-.9zM282.4 529.9h.9v.9h-.9zM282.7 529.5h.9v.9h-.9zM286.4 514.7h.9v.9h-.9zM293.9 531.3h.9v.9h-.9zM287.4 520.8h.9v.9h-.9zM286.3 521.8h.9v.9h-.9zM286.6 530.2h.9v.9h-.9zM280.8 516.3h.9v.9h-.9zM274.1 523.0h.9v.9h-.9zM284.2 520.2h.9v.9h-.9zM277.2 530.9h.9v.9h-.9zM290.0 531.3h.9v.9h-.9zM287.1 520.1h.9v.9h-.9zM284.6 539.8h.9v.9h-.9zM279.0 521.0h.9v.9h-.9zM285.9 511.4h.9v.9h-.9zM276.5 518.6h.9v.9h-.9zM274.3 531.8h.9v.9h-.9zM290.7 506.0h.9v.9h-.9zM282.3 526.0h.9v.9h-.9zM280.4 523.3h.9v.9h-.9zM290.6 531.5h.9v.9h-.9zM281.8 519.0h.9v.9h-.9zM288.6 522.9h.9v.9h-.9zM284.0 530.8h.9v.9h-.9zM283.9 525.6h.9v.9h-.9zM281.0 517.4h.9v.9h-.9zM282.0 528.5h.9v.9h-.9zM280.9 526.3h.9v.9h-.9zM285.8 526.0h.9v.9h-.9zM283.9 521.4h.9v.9h-.9zM291.3 526.9h.9v.9h-.9zM288.6 535.3h.9v.9h-.9zM288.4 520.1h.9v.9h-.9zM290.6 517.0h.9v.9h-.9zM275.0 526.5h.9v.9h-.9zM277.6 539.6h.9v.9h-.9zM284.0 529.1h.9v.9h-.9zM285.3 521.4h.9v.9h-.9zM284.3 518.1h.9v.9h-.9zM278.7 532.4h.9v.9h-.9zM284.5 516.8h.9v.9h-.9zM288.1 532.5h.9v.9h-.9zM290.3 524.4h.9v.9h-.9zM292.2 517.6h.9v.9h-.9zM292.6 520.2h.9v.9h-.9zM281.1 535.9h.9v.9h-.9zM280.2 528.8h.9v.9h-.9zM278.1 528.4h.9v.9h-.9zM281.1 518.8h.9v.9h-.9zM285.0 525.2h.9v.9h-.9zM284.3 533.6h.9v.9h-.9zM280.8 522.5h.9v.9h-.9zM282.1 522.7h.9v.9h-.9zM278.2 519.7h.9v.9h-.9zM273.8 534.8h.9v.9h-.9zM283.4 530.9h.9v.9h-.9zM277.0 532.5h.9v.9h-.9zM288.9 518.7h.9v.9h-.9zM285.9 526.8h.9v.9h-.9zM275.4 528.1h.9v.9h-.9zM275.4 533.6h.9v.9h-.9zM281.4 528.4h.9v.9h-.9zM293.0 526.2h.9v.9h-.9zM290.4 536.8h.9v.9h-.9zM275.6 535.1h.9v.9h-.9zM288.6 524.8h.9v.9h-.9zM276.8 542.4h.9v.9h-.9zM284.7 529.8h.9v.9h-.9zM281.0 525.7h.9v.9h-.9zM281.8 519.9h.9v.9h-.9zM276.4 525.5h.9v.9h-.9zM277.5 535.4h.9v.9h-.9zM281.4 527.9h.9v.9h-.9zM285.0 523.4h.9v.9h-.9zM288.8 521.5h.9v.9h-.9zM289.3 517.3h.9v.9h-.9zM287.2 529.7h.9v.9h-.9zM282.2 540.2h.9v.9h-.9zM291.2 527.3h.9v.9h-.9zM283.6 514.1h.9v.9h-.9zM282.1 536.1h.9v.9h-.9zM284.0 522.4h.9v.9h-.9zM283.1 523.2h.9v.9h-.9zM287.3 526.7h.9v.9h-.9zM275.6 529.4h.9v.9h-.9zM282.7 526.9h.9v.9h-.9zM283.3 526.3h.9v.9h-.9zM283.4 532.2h.9v.9h-.9zM281.3 539.8h.9v.9h-.9zM279.7 527.0h.9v.9h-.9zM286.6 514.5h.9v.9h-.9zM287.2 536.3h.9v.9h-.9zM285.7 529.5h.9v.9h-.9zM285.2 519.0h.9v.9h-.9zM285.7 530.6h.9v.9h-.9zM284.4 529.4h.9v.9h-.9zM279.9 526.1h.9v.9h-.9zM285.1 530.4h.9v.9h-.9zM286.6 527.4h.9v.9h-.9zM270.4 534.1h.9v.9h-.9zM286.8 520.0h.9v.9h-.9zM280.1 523.6h.9v.9h-.9zM288.1 531.3h.9v.9h-.9zM280.9 530.7h.9v.9h-.9zM287.8 519.5h.9v.9h-.9zM285.1 532.3h.9v.9h-.9zM282.9 528.0h.9v.9h-.9zM289.8 533.4h.9v.9h-.9zM284.2 524.9h.9v.9h-.9zM286.6 522.6h.9v.9h-.9zM293.9 514.8h.9v.9h-.9zM288.8 526.9h.9v.9h-.9zM291.5 528.4h.9v.9h-.9zM282.2 520.6h.9v.9h-.9zM292.2 518.9h.9v.9h-.9zM285.4 519.1h.9v.9h-.9zM290.5 515.3h.9v.9h-.9zM277.5 523.5h.9v.9h-.9zM288.7 516.5h.9v.9h-.9zM287.7 519.8h.9v.9h-.9zM279.4 514.0h.9v.9h-.9zM280.2 523.4h.9v.9h-.9zM281.3 516.5h.9v.9h-.9zM291.0 513.5h.9v.9h-.9zM287.9 525.2h.9v.9h-.9zM282.8 528.5h.9v.9h-.9zM281.9 528.7h.9v.9h-.9zM286.6 526.2h.9v.9h-.9zM281.5 529.9h.9v.9h-.9zM285.2 525.1h.9v.9h-.9zM288.3 533.5h.9v.9h-.9zM289.4 520.9h.9v.9h-.9zM286.8 523.0h.9v.9h-.9zM297.0 523.5h.9v.9h-.9zM280.7 526.0h.9v.9h-.9zM285.5 515.4h.9v.9h-.9zM281.0 527.4h.9v.9h-.9zM278.8 528.3h.9v.9h-.9zM285.5 535.0h.9v.9h-.9zM290.9 526.4h.9v.9h-.9zM287.8 524.8h.9v.9h-.9zM286.4 520.9h.9v.9h-.9zM277.9 528.9h.9v.9h-.9zM280.4 524.0h.9v.9h-.9zM287.5 532.7h.9v.9h-.9zM284.2 525.1h.9v.9h-.9zM287.5 518.2h.9v.9h-.9zM286.6 525.5h.9v.9h-.9zM283.2 517.7h.9v.9h-.9zM287.4 512.7h.9v.9h-.9zM284.8 530.5h.9v.9h-.9zM283.6 525.2h.9v.9h-.9zM286.0 516.5h.9v.9h-.9zM282.6 522.0h.9v.9h-.9zM281.0 529.2h.9v.9h-.9zM292.9 520.9h.9v.9h-.9zM289.6 523.2h.9v.9h-.9zM281.9 524.5h.9v.9h-.9zM285.5 523.7h.9v.9h-.9zM280.5 524.7h.9v.9h-.9zM288.8 529.4h.9v.9h-.9zM282.2 522.0h.9v.9h-.9zM283.0 520.0h.9v.9h-.9zM291.1 532.7h.9v.9h-.9zM294.5 516.3h.9v.9h-.9zM289.5 509.7h.9v.9h-.9zM283.8 523.8h.9v.9h-.9zM280.9 524.4h.9v.9h-.9zM289.1 527.2h.9v.9h-.9zM280.2 524.1h.9v.9h-.9zM286.8 530.2h.9v.9h-.9zM293.1 523.5h.9v.9h-.9zM286.3 522.8h.9v.9h-.9zM284.2 522.6h.9v.9h-.9zM286.5 528.1h.9v.9h-.9zM284.4 538.8h.9v.9h-.9zM280.0 525.9h.9v.9h-.9zM269.7 541.7h.9v.9h-.9zM281.7 521.8h.9v.9h-.9zM280.4 538.3h.9v.9h-.9zM285.1 529.3h.9v.9h-.9zM291.0 514.0h.9v.9h-.9zM290.0 517.6h.9v.9h-.9zM287.7 513.0h.9v.9h-.9zM292.1 509.1h.9v.9h-.9zM280.5 525.8h.9v.9h-.9zM289.1 523.5h.9v.9h-.9zM283.0 528.4h.9v.9h-.9zM290.4 517.5h.9v.9h-.9zM284.8 517.8h.9v.9h-.9zM289.4 522.2h.9v.9h-.9zM284.4 516.5h.9v.9h-.9zM288.2 522.2h.9v.9h-.9zM286.9 531.0h.9v.9h-.9zM281.4 524.1h.9v.9h-.9zM281.9 527.2h.9v.9h-.9zM284.1 525.0h.9v.9h-.9zM285.5 533.5h.9v.9h-.9zM288.0 524.2h.9v.9h-.9zM284.1 530.6h.9v.9h-.9zM279.4 519.5h.9v.9h-.9zM287.8 517.7h.9v.9h-.9zM286.5 524.4h.9v.9h-.9zM286.5 510.7h.9v.9h-.9zM291.6 525.0h.9v.9h-.9zM290.8 525.7h.9v.9h-.9zM286.7 524.3h.9v.9h-.9zM284.9 519.8h.9v.9h-.9zM283.3 524.4h.9v.9h-.9zM281.9 537.1h.9v.9h-.9zM277.4 526.9h.9v.9h-.9zM289.5 520.8h.9v.9h-.9zM285.6 530.6h.9v.9h-.9zM283.0 517.8h.9v.9h-.9zM286.3 530.4h.9v.9h-.9zM281.9 526.6h.9v.9h-.9zM285.5 529.7h.9v.9h-.9zM285.9 521.5h.9v.9h-.9zM276.4 523.3h.9v.9h-.9zM282.4 524.2h.9v.9h-.9zM281.4 525.8h.9v.9h-.9zM272.5 535.0h.9v.9h-.9zM286.6 511.7h.9v.9h-.9zM285.0 526.7h.9v.9h-.9zM289.8 519.2h.9v.9h-.9zM280.4 527.4h.9v.9h-.9zM289.2 518.8h.9v.9h-.9zM290.5 526.6h.9v.9h-.9zM281.7 522.1h.9v.9h-.9zM286.4 522.3h.9v.9h-.9zM276.4 526.5h.9v.9h-.9zM294.8 521.3h.9v.9h-.9zM284.9 520.8h.9v.9h-.9zM287.5 528.3h.9v.9h-.9zM283.2 525.5h.9v.9h-.9zM283.2 520.9h.9v.9h-.9zM292.4 511.1h.9v.9h-.9zM286.1 529.4h.9v.9h-.9zM285.0 525.3h.9v.9h-.9zM287.7 527.0h.9v.9h-.9zM289.8 521.1h.9v.9h-.9zM283.4 526.4h.9v.9h-.9zM282.9 529.0h.9v.9h-.9zM288.4 533.6h.9v.9h-.9zM283.0 530.9h.9v.9h-.9zM288.1 524.6h.9v.9h-.9zM286.9 515.0h.9v.9h-.9zM289.6 522.0h.9v.9h-.9zM279.8 528.8h.9v.9h-.9zM278.7 526.7h.9v.9h-.9zM283.0 523.7h.9v.9h-.9zM294.2 528.5h.9v.9h-.9zM281.0 529.6h.9v.9h-.9zM288.9 519.3h.9v.9h-.9zM289.8 522.7h.9v.9h-.9zM295.4 513.8h.9v.9h-.9zM274.7 532.2h.9v.9h-.9zM281.2 515.0h.9v.9h-.9zM284.0 515.9h.9v.9h-.9zM280.8 531.5h.9v.9h-.9zM277.4 532.0h.9v.9h-.9zM287.8 525.9h.9v.9h-.9zM282.5 527.6h.9v.9h-.9zM284.9 523.5h.9v.9h-.9zM291.9 530.8h.9v.9h-.9zM288.8 521.3h.9v.9h-.9zM282.4 517.7h.9v.9h-.9zM288.4 524.4h.9v.9h-.9zM287.0 521.9h.9v.9h-.9zM283.5 524.6h.9v.9h-.9zM277.5 534.9h.9v.9h-.9zM294.7 516.6h.9v.9h-.9zM289.6 528.1h.9v.9h-.9zM283.2 521.2h.9v.9h-.9zM284.3 519.5h.9v.9h-.9zM284.9 531.8h.9v.9h-.9zM282.5 523.0h.9v.9h-.9zM288.0 533.3h.9v.9h-.9zM284.3 533.6h.9v.9h-.9zM274.1 525.3h.9v.9h-.9zM281.3 527.1h.9v.9h-.9zM284.0 521.5h.9v.9h-.9zM277.4 529.7h.9v.9h-.9zM284.3 517.2h.9v.9h-.9zM291.7 536.8h.9v.9h-.9zM284.8 525.9h.9v.9h-.9zM275.6 531.7h.9v.9h-.9zM293.6 517.4h.9v.9h-.9zM271.1 535.3h.9v.9h-.9zM287.5 535.5h.9v.9h-.9zM280.3 535.9h.9v.9h-.9zM290.0 515.3h.9v.9h-.9zM289.1 527.6h.9v.9h-.9zM289.5 515.6h.9v.9h-.9zM279.8 527.6h.9v.9h-.9zM283.7 526.9h.9v.9h-.9zM280.3 533.7h.9v.9h-.9zM288.0 522.6h.9v.9h-.9zM291.3 526.6h.9v.9h-.9zM289.6 525.6h.9v.9h-.9zM282.0 522.9h.9v.9h-.9zM293.2 523.6h.9v.9h-.9zM288.3 520.2h.9v.9h-.9zM281.3 523.3h.9v.9h-.9zM289.6 528.0h.9v.9h-.9zM274.1 527.4h.9v.9h-.9zM290.8 533.7h.9v.9h-.9zM284.5 515.2h.9v.9h-.9zM275.9 519.9h.9v.9h-.9zM281.1 524.8h.9v.9h-.9zM280.3 528.1h.9v.9h-.9zM282.5 529.1h.9v.9h-.9zM286.0 528.4h.9v.9h-.9zM276.6 534.8h.9v.9h-.9zM284.2 519.7h.9v.9h-.9zM281.1 534.3h.9v.9h-.9zM284.7 523.7h.9v.9h-.9zM293.3 524.9h.9v.9h-.9zM286.8 530.0h.9v.9h-.9zM283.4 525.1h.9v.9h-.9zM278.6 535.9h.9v.9h-.9zM292.6 522.8h.9v.9h-.9zM279.0 528.2h.9v.9h-.9zM279.4 523.4h.9v.9h-.9zM287.7 516.0h.9v.9h-.9zM282.6 527.9h.9v.9h-.9zM283.7 526.2h.9v.9h-.9zM286.1 523.4h.9v.9h-.9zM278.7 526.3h.9v.9h-.9zM289.1 521.7h.9v.9h-.9zM277.4 529.1h.9v.9h-.9zM294.1 519.4h.9v.9h-.9zM284.3 528.1h.9v.9h-.9zM283.1 521.1h.9v.9h-.9zM284.0 530.3h.9v.9h-.9zM279.3 531.2h.9v.9h-.9zM287.6 531.3h.9v.9h-.9zM282.4 513.5h.9v.9h-.9zM287.4 528.2h.9v.9h-.9zM276.7 532.2h.9v.9h-.9zM279.9 521.8h.9v.9h-.9zM290.8 515.2h.9v.9h-.9zM275.4 521.1h.9v.9h-.9zM283.7 521.9h.9v.9h-.9zM282.2 521.4h.9v.9h-.9zM280.7 519.5h.9v.9h-.9zM286.0 533.5h.9v.9h-.9zM287.4 527.3h.9v.9h-.9zM276.5 516.5h.9v.9h-.9zM292.8 527.8h.9v.9h-.9zM283.8 524.2h.9v.9h-.9zM282.0 535.1h.9v.9h-.9zM293.3 520.5h.9v.9h-.9zM283.8 519.8h.9v.9h-.9zM286.4 524.6h.9v.9h-.9zM291.0 522.8h.9v.9h-.9zM281.0 523.5h.9v.9h-.9zM275.0 534.0h.9v.9h-.9zM286.3 519.3h.9v.9h-.9zM285.9 517.2h.9v.9h-.9zM286.3 520.3h.9v.9h-.9zM282.3 523.7h.9v.9h-.9zM282.7 517.5h.9v.9h-.9zM290.1 518.6h.9v.9h-.9zM285.2 524.3h.9v.9h-.9zM277.5 530.6h.9v.9h-.9zM281.8 524.1h.9v.9h-.9zM294.1 520.9h.9v.9h-.9zM286.4 522.7h.9v.9h-.9zM281.5 523.0h.9v.9h-.9zM287.4 515.3h.9v.9h-.9zM284.0 523.6h.9v.9h-.9zM281.0 527.6h.9v.9h-.9zM289.4 517.5h.9v.9h-.9zM286.5 504.4h.9v.9h-.9zM280.9 527.1h.9v.9h-.9zM280.3 519.8h.9v.9h-.9zM285.1 520.2h.9v.9h-.9zM283.7 540.3h.9v.9h-.9zM282.6 528.9h.9v.9h-.9zM284.5 521.6h.9v.9h-.9zM291.8 517.0h.9v.9h-.9zM289.2 529.5h.9v.9h-.9zM280.6 517.0h.9v.9h-.9zM276.7 530.1h.9v.9h-.9zM279.3 521.9h.9v.9h-.9zM290.9 516.8h.9v.9h-.9zM289.6 522.5h.9v.9h-.9zM286.2 518.0h.9v.9h-.9zM285.2 538.0h.9v.9h-.9zM287.8 532.6h.9v.9h-.9zM287.5 534.1h.9v.9h-.9zM285.9 519.3h.9v.9h-.9zM274.0 527.9h.9v.9h-.9zM291.9 536.8h.9v.9h-.9zM267.7 534.1h.9v.9h-.9zM281.4 526.8h.9v.9h-.9zM275.4 520.0h.9v.9h-.9zM280.0 523.5h.9v.9h-.9zM285.8 520.0h.9v.9h-.9zM285.2 537.0h.9v.9h-.9zM286.1 523.0h.9v.9h-.9zM283.4 525.2h.9v.9h-.9zM285.1 524.7h.9v.9h-.9zM284.0 533.6h.9v.9h-.9zM289.6 524.4h.9v.9h-.9zM284.3 528.7h.9v.9h-.9zM291.1 521.1h.9v.9h-.9zM288.2 521.4h.9v.9h-.9zM284.4 530.4h.9v.9h-.9zM277.0 542.7h.9v.9h-.9zM283.6 530.3h.9v.9h-.9zM286.2 522.5h.9v.9h-.9zM280.5 528.6h.9v.9h-.9zM290.1 528.9h.9v.9h-.9zM278.4 523.3h.9v.9h-.9zM289.4 526.3h.9v.9h-.9zM275.5 534.0h.9v.9h-.9zM288.1 529.0h.9v.9h-.9zM290.9 509.0h.9v.9h-.9zM273.6 526.9h.9v.9h-.9zM302.6 531.0h.9v.9h-.9zM277.7 528.3h.9v.9h-.9zM283.3 518.9h.9v.9h-.9zM291.4 527.1h.9v.9h-.9zM287.5 522.8h.9v.9h-.9zM288.4 525.8h.9v.9h-.9zM281.0 529.4h.9v.9h-.9zM292.2 529.7h.9v.9h-.9zM281.3 518.3h.9v.9h-.9zM283.0 528.2h.9v.9h-.9zM283.2 518.1h.9v.9h-.9zM283.8 533.0h.9v.9h-.9zM281.2 529.7h.9v.9h-.9zM285.2 517.5h.9v.9h-.9zM283.4 525.3h.9v.9h-.9zM285.7 538.5h.9v.9h-.9zM291.3 525.0h.9v.9h-.9zM279.4 522.5h.9v.9h-.9zM277.1 526.2h.9v.9h-.9zM282.3 525.5h.9v.9h-.9zM287.4 528.4h.9v.9h-.9zM282.6 530.8h.9v.9h-.9zM285.5 523.1h.9v.9h-.9zM285.6 529.9h.9v.9h-.9zM281.6 524.3h.9v.9h-.9zM280.3 529.1h.9v.9h-.9zM289.5 516.8h.9v.9h-.9zM280.9 519.4h.9v.9h-.9zM279.4 525.0h.9v.9h-.9zM290.8 511.5h.9v.9h-.9zM283.0 521.6h.9v.9h-.9zM286.8 530.6h.9v.9h-.9zM285.5 520.1h.9v.9h-.9zM282.6 519.1h.9v.9h-.9zM290.1 526.6h.9v.9h-.9zM287.5 526.5h.9v.9h-.9zM286.1 533.1h.9v.9h-.9zM284.4 525.8h.9v.9h-.9zM285.9 525.9h.9v.9h-.9zM283.9 527.4h.9v.9h-.9zM287.2 524.6h.9v.9h-.9zM282.8 523.5h.9v.9h-.9zM280.5 526.0h.9v.9h-.9zM282.2 523.9h.9v.9h-.9zM288.8 531.7h.9v.9h-.9zM288.5 528.3h.9v.9h-.9zM283.3 524.4h.9v.9h-.9zM278.8 532.8h.9v.9h-.9zM275.5 533.7h.9v.9h-.9zM279.8 534.2h.9v.9h-.9zM282.4 524.5h.9v.9h-.9zM274.9 534.2h.9v.9h-.9zM280.5 510.2h.9v.9h-.9zM283.4 534.3h.9v.9h-.9zM278.7 519.7h.9v.9h-.9zM287.3 524.6h.9v.9h-.9zM288.1 522.9h.9v.9h-.9zM279.8 529.4h.9v.9h-.9zM284.3 536.0h.9v.9h-.9zM292.6 522.3h.9v.9h-.9zM282.2 529.6h.9v.9h-.9zM284.2 528.1h.9v.9h-.9zM281.7 519.8h.9v.9h-.9zM290.3 518.9h.9v.9h-.9zM280.6 519.4h.9v.9h-.9zM289.5 518.2h.9v.9h-.9zM288.5 520.2h.9v.9h-.9zM287.2 519.3h.9v.9h-.9zM285.2 528.8h.9v.9h-.9zM281.0 518.8h.9v.9h-.9zM283.4 521.6h.9v.9h-.9zM281.6 528.7h.9v.9h-.9zM293.0 521.9h.9v.9h-.9zM282.3 522.8h.9v.9h-.9zM290.1 534.7h.9v.9h-.9zM280.0 523.0h.9v.9h-.9zM276.6 534.2h.9v.9h-.9zM286.3 521.9h.9v.9h-.9zM289.0 530.2h.9v.9h-.9zM283.3 530.9h.9v.9h-.9zM289.0 514.5h.9v.9h-.9zM286.4 534.8h.9v.9h-.9zM291.7 514.9h.9v.9h-.9zM278.7 521.4h.9v.9h-.9zM281.6 535.3h.9v.9h-.9zM281.0 527.0h.9v.9h-.9zM284.6 527.7h.9v.9h-.9zM285.2 530.1h.9v.9h-.9zM279.1 527.4h.9v.9h-.9zM285.4 534.0h.9v.9h-.9zM288.8 511.8h.9v.9h-.9zM284.8 530.3h.9v.9h-.9zM286.8 525.6h.9v.9h-.9zM273.9 530.2h.9v.9h-.9zM287.5 513.8h.9v.9h-.9zM290.2 526.2h.9v.9h-.9zM287.0 532.4h.9v.9h-.9zM286.9 532.5h.9v.9h-.9zM279.6 516.2h.9v.9h-.9zM294.6 515.4h.9v.9h-.9zM288.7 527.6h.9v.9h-.9zM283.3 520.6h.9v.9h-.9zM285.0 521.3h.9v.9h-.9zM277.9 528.7h.9v.9h-.9zM285.2 532.8h.9v.9h-.9zM277.5 529.9h.9v.9h-.9zM276.2 523.2h.9v.9h-.9zM291.7 523.2h.9v.9h-.9zM286.4 519.2h.9v.9h-.9zM274.5 520.2h.9v.9h-.9zM282.2 521.7h.9v.9h-.9zM286.6 517.2h.9v.9h-.9zM290.1 528.6h.9v.9h-.9zM288.0 515.9h.9v.9h-.9zM296.4 523.0h.9v.9h-.9zM281.2 529.7h.9v.9h-.9zM285.8 517.1h.9v.9h-.9zM277.6 528.5h.9v.9h-.9zM284.4 528.9h.9v.9h-.9zM278.4 523.8h.9v.9h-.9zM297.1 522.5h.9v.9h-.9zM280.3 532.0h.9v.9h-.9zM277.4 534.0h.9v.9h-.9zM279.1 535.5h.9v.9h-.9zM278.3 525.2h.9v.9h-.9zM280.1 532.6h.9v.9h-.9zM280.4 520.9h.9v.9h-.9zM293.5 524.8h.9v.9h-.9zM283.7 522.1h.9v.9h-.9zM282.5 530.5h.9v.9h-.9zM285.3 525.5h.9v.9h-.9zM286.7 527.5h.9v.9h-.9zM283.9 534.4h.9v.9h-.9zM285.1 519.0h.9v.9h-.9zM287.5 524.7h.9v.9h-.9zM279.9 528.6h.9v.9h-.9zM282.9 527.0h.9v.9h-.9zM284.0 529.8h.9v.9h-.9zM283.4 529.7h.9v.9h-.9zM275.6 527.4h.9v.9h-.9zM277.8 518.1h.9v.9h-.9zM282.2 531.1h.9v.9h-.9zM285.4 520.1h.9v.9h-.9zM284.7 529.2h.9v.9h-.9zM281.6 531.3h.9v.9h-.9zM276.6 522.0h.9v.9h-.9zM282.4 529.4h.9v.9h-.9zM290.8 527.0h.9v.9h-.9zM276.8 526.8h.9v.9h-.9zM285.8 538.4h.9v.9h-.9zM283.1 524.3h.9v.9h-.9zM288.0 518.4h.9v.9h-.9zM283.0 522.7h.9v.9h-.9zM285.3 516.3h.9v.9h-.9zM284.1 528.7h.9v.9h-.9zM278.4 527.1h.9v.9h-.9zM285.2 517.1h.9v.9h-.9zM285.5 535.4h.9v.9h-.9zM281.3 531.7h.9v.9h-.9zM279.5 516.1h.9v.9h-.9zM274.2 534.7h.9v.9h-.9zM289.3 528.4h.9v.9h-.9zM287.2 524.0h.9v.9h-.9zM285.4 518.6h.9v.9h-.9zM282.9 527.1h.9v.9h-.9zM286.9 523.8h.9v.9h-.9zM299.8 521.2h.9v.9h-.9zM290.2 524.5h.9v.9h-.9zM281.8 526.9h.9v.9h-.9zM288.7 515.5h.9v.9h-.9zM283.9 529.4h.9v.9h-.9zM290.9 517.4h.9v.9h-.9zM275.5 520.2h.9v.9h-.9zM285.1 529.5h.9v.9h-.9zM283.7 526.0h.9v.9h-.9zM284.3 520.0h.9v.9h-.9zM281.8 539.3h.9v.9h-.9zM288.2 530.4h.9v.9h-.9zM287.1 520.4h.9v.9h-.9zM280.4 519.8h.9v.9h-.9zM283.9 527.2h.9v.9h-.9zM280.4 521.6h.9v.9h-.9zM277.6 523.1h.9v.9h-.9zM288.2 525.2h.9v.9h-.9zM284.4 527.6h.9v.9h-.9zM280.3 518.6h.9v.9h-.9zM279.6 531.2h.9v.9h-.9zM279.2 533.0h.9v.9h-.9zM283.2 533.7h.9v.9h-.9zM281.2 523.8h.9v.9h-.9zM291.4 532.2h.9v.9h-.9zM283.8 519.5h.9v.9h-.9zM282.4 536.7h.9v.9h-.9zM286.2 532.4h.9v.9h-.9zM283.3 525.4h.9v.9h-.9zM289.0 515.7h.9v.9h-.9zM285.6 533.2h.9v.9h-.9zM287.3 525.5h.9v.9h-.9zM292.6 517.2h.9v.9h-.9zM278.2 525.4h.9v.9h-.9zM275.1 527.7h.9v.9h-.9zM283.4 518.1h.9v.9h-.9zM290.6 526.6h.9v.9h-.9zM285.0 527.0h.9v.9h-.9zM280.8 530.8h.9v.9h-.9zM293.3 510.2h.9v.9h-.9zM284.3 531.8h.9v.9h-.9zM282.3 519.2h.9v.9h-.9zM282.4 525.5h.9v.9h-.9zM288.3 527.2h.9v.9h-.9zM292.2 521.5h.9v.9h-.9zM281.5 524.4h.9v.9h-.9zM283.7 528.7h.9v.9h-.9zM292.7 521.3h.9v.9h-.9zM287.5 520.5h.9v.9h-.9zM284.4 537.7h.9v.9h-.9zM287.4 528.6h.9v.9h-.9zM289.4 528.1h.9v.9h-.9zM284.5 525.6h.9v.9h-.9zM277.4 527.8h.9v.9h-.9zM286.4 524.3h.9v.9h-.9zM277.8 529.1h.9v.9h-.9zM279.7 525.0h.9v.9h-.9zM288.0 525.0h.9v.9h-.9zM284.8 526.4h.9v.9h-.9zM280.6 529.2h.9v.9h-.9zM290.1 521.1h.9v.9h-.9zM279.1 528.9h.9v.9h-.9zM278.5 537.3h.9v.9h-.9zM281.7 519.4h.9v.9h-.9zM282.2 518.7h.9v.9h-.9zM291.1 527.1h.9v.9h-.9zM284.4 527.4h.9v.9h-.9zM282.7 515.3h.9v.9h-.9zM281.8 527.0h.9v.9h-.9zM271.5 527.2h.9v.9h-.9zM284.1 527.7h.9v.9h-.9zM298.9 527.6h.9v.9h-.9zM286.9 518.0h.9v.9h-.9zM288.5 530.2h.9v.9h-.9zM291.2 530.2h.9v.9h-.9zM281.7 524.5h.9v.9h-.9zM285.0 519.9h.9v.9h-.9zM278.6 527.3h.9v.9h-.9zM278.5 531.8h.9v.9h-.9zM281.9 522.9h.9v.9h-.9zM284.9 529.2h.9v.9h-.9zM286.6 511.5h.9v.9h-.9zM291.1 525.4h.9v.9h-.9zM285.3 531.2h.9v.9h-.9zM277.5 531.8h.9v.9h-.9zM284.9 514.7h.9v.9h-.9zM285.1 513.5h.9v.9h-.9zM292.5 522.0h.9v.9h-.9zM268.7 538.0h.9v.9h-.9zM284.3 521.5h.9v.9h-.9zM283.7 525.4h.9v.9h-.9zM283.9 523.1h.9v.9h-.9zM276.1 529.7h.9v.9h-.9zM283.1 518.0h.9v.9h-.9zM286.0 522.0h.9v.9h-.9zM283.8 527.5h.9v.9h-.9zM288.8 532.5h.9v.9h-.9zM287.6 531.1h.9v.9h-.9zM284.9 530.8h.9v.9h-.9zM282.2 528.0h.9v.9h-.9zM283.0 521.9h.9v.9h-.9zM287.7 527.9h.9v.9h-.9zM283.6 530.2h.9v.9h-.9zM287.0 525.2h.9v.9h-.9zM286.2 530.5h.9v.9h-.9zM280.3 521.9h.9v.9h-.9zM280.8 521.9h.9v.9h-.9zM286.1 517.0h.9v.9h-.9zM283.3 524.2h.9v.9h-.9zM282.5 534.2h.9v.9h-.9zM282.3 531.9h.9v.9h-.9zM286.0 520.0h.9v.9h-.9zM281.3 521.7h.9v.9h-.9zM289.9 525.8h.9v.9h-.9zM283.2 534.0h.9v.9h-.9zM287.5 524.0h.9v.9h-.9zM285.1 521.1h.9v.9h-.9zM287.6 524.0h.9v.9h-.9zM278.7 522.1h.9v.9h-.9zM288.6 519.1h.9v.9h-.9zM285.8 519.3h.9v.9h-.9zM283.3 534.6h.9v.9h-.9zM277.8 517.5h.9v.9h-.9zM288.5 521.2h.9v.9h-.9zM286.1 524.5h.9v.9h-.9zM281.3 523.1h.9v.9h-.9zM272.3 524.3h.9v.9h-.9zM281.8 524.1h.9v.9h-.9zM274.7 520.8h.9v.9h-.9zM288.4 528.4h.9v.9h-.9zM279.8 522.7h.9v.9h-.9zM283.5 527.9h.9v.9h-.9zM288.4 519.2h.9v.9h-.9zM277.1 533.5h.9v.9h-.9zM291.0 531.8h.9v.9h-.9zM292.6 515.4h.9v.9h-.9zM287.8 520.2h.9v.9h-.9zM288.3 525.3h.9v.9h-.9zM281.1 543.4h.9v.9h-.9zM288.4 523.9h.9v.9h-.9zM277.9 522.8h.9v.9h-.9zM275.7 532.1h.9v.9h-.9zM277.6 533.7h.9v.9h-.9zM282.7 524.7h.9v.9h-.9zM286.6 526.3h.9v.9h-.9zM282.5 533.5h.9v.9h-.9zM280.4 525.7h.9v.9h-.9zM274.6 532.3h.9v.9h-.9zM290.4 519.7h.9v.9h-.9zM291.8 526.3h.9v.9h-.9zM287.5 524.8h.9v.9h-.9zM283.1 524.7h.9v.9h-.9zM288.7 527.0h.9v.9h-.9zM292.4 530.5h.9v.9h-.9zM284.9 516.6h.9v.9h-.9zM278.5 523.5h.9v.9h-.9zM296.2 520.5h.9v.9h-.9zM290.1 536.5h.9v.9h-.9zM275.7 532.6h.9v.9h-.9zM284.6 526.3h.9v.9h-.9zM287.2 516.3h.9v.9h-.9zM285.3 525.8h.9v.9h-.9zM274.1 520.9h.9v.9h-.9zM276.6 535.4h.9v.9h-.9zM279.3 530.0h.9v.9h-.9zM292.8 534.2h.9v.9h-.9zM284.2 521.8h.9v.9h-.9zM281.0 520.8h.9v.9h-.9zM288.2 522.0h.9v.9h-.9zM281.5 531.3h.9v.9h-.9zM278.1 527.6h.9v.9h-.9zM271.6 551.5h.9v.9h-.9zM272.2 548.0h.9v.9h-.9zM277.6 534.8h.9v.9h-.9zM264.5 562.9h.9v.9h-.9zM273.3 542.4h.9v.9h-.9zM281.1 530.6h.9v.9h-.9zM278.9 540.5h.9v.9h-.9zM278.5 533.2h.9v.9h-.9zM280.9 543.9h.9v.9h-.9zM274.7 543.6h.9v.9h-.9zM278.8 536.4h.9v.9h-.9zM284.4 541.8h.9v.9h-.9zM281.8 527.6h.9v.9h-.9zM272.9 545.0h.9v.9h-.9zM273.4 540.1h.9v.9h-.9zM279.1 542.2h.9v.9h-.9zM275.7 544.9h.9v.9h-.9zM271.6 548.7h.9v.9h-.9zM279.9 534.0h.9v.9h-.9zM274.3 541.5h.9v.9h-.9zM278.4 540.7h.9v.9h-.9zM282.5 533.5h.9v.9h-.9zM290.5 530.0h.9v.9h-.9zM274.1 538.3h.9v.9h-.9zM274.3 540.3h.9v.9h-.9zM279.5 535.9h.9v.9h-.9zM277.0 540.2h.9v.9h-.9zM272.7 546.5h.9v.9h-.9zM282.8 534.9h.9v.9h-.9zM279.4 533.0h.9v.9h-.9zM280.7 540.0h.9v.9h-.9zM278.8 546.3h.9v.9h-.9zM277.4 540.8h.9v.9h-.9zM289.4 515.2h.9v.9h-.9zM279.0 529.1h.9v.9h-.9zM276.1 545.8h.9v.9h-.9zM281.7 545.7h.9v.9h-.9zM284.4 535.9h.9v.9h-.9zM275.1 543.1h.9v.9h-.9zM274.4 541.0h.9v.9h-.9zM282.5 535.5h.9v.9h-.9zM281.3 538.4h.9v.9h-.9zM280.5 530.1h.9v.9h-.9zM277.3 544.0h.9v.9h-.9zM281.5 539.2h.9v.9h-.9zM275.9 532.2h.9v.9h-.9zM278.1 537.7h.9v.9h-.9zM278.6 534.8h.9v.9h-.9zM284.5 544.0h.9v.9h-.9zM272.7 544.6h.9v.9h-.9zM278.0 540.7h.9v.9h-.9zM278.5 543.1h.9v.9h-.9zM279.3 534.1h.9v.9h-.9zM274.9 541.4h.9v.9h-.9zM271.5 551.1h.9v.9h-.9zM273.1 551.0h.9v.9h-.9zM272.3 544.9h.9v.9h-.9zM279.9 539.7h.9v.9h-.9zM273.5 542.1h.9v.9h-.9zM273.5 541.6h.9v.9h-.9zM284.0 530.0h.9v.9h-.9zM281.6 542.9h.9v.9h-.9zM283.4 548.3h.9v.9h-.9zM276.5 539.0h.9v.9h-.9zM281.7 535.1h.9v.9h-.9zM276.9 546.5h.9v.9h-.9zM284.7 535.5h.9v.9h-.9zM282.4 533.3h.9v.9h-.9zM281.4 544.9h.9v.9h-.9zM277.2 540.7h.9v.9h-.9zM281.3 540.5h.9v.9h-.9zM278.9 537.6h.9v.9h-.9zM286.8 532.0h.9v.9h-.9zM279.5 541.4h.9v.9h-.9zM277.2 538.1h.9v.9h-.9zM277.6 549.0h.9v.9h-.9zM277.1 533.8h.9v.9h-.9zM276.8 541.6h.9v.9h-.9zM275.6 539.4h.9v.9h-.9zM270.7 548.1h.9v.9h-.9zM278.0 548.6h.9v.9h-.9zM278.7 542.0h.9v.9h-.9zM283.1 530.0h.9v.9h-.9zM276.9 550.8h.9v.9h-.9zM281.4 530.7h.9v.9h-.9zM277.9 542.1h.9v.9h-.9zM277.0 543.3h.9v.9h-.9zM278.2 532.2h.9v.9h-.9zM282.3 532.2h.9v.9h-.9zM279.7 544.7h.9v.9h-.9zM276.4 537.7h.9v.9h-.9zM281.5 538.6h.9v.9h-.9zM282.2 535.7h.9v.9h-.9zM274.3 526.3h.9v.9h-.9zM280.2 526.9h.9v.9h-.9zM282.5 535.3h.9v.9h-.9zM271.1 549.8h.9v.9h-.9zM282.6 533.0h.9v.9h-.9zM277.1 552.3h.9v.9h-.9zM280.8 537.9h.9v.9h-.9zM277.2 544.8h.9v.9h-.9zM282.2 523.0h.9v.9h-.9zM273.4 549.5h.9v.9h-.9zM277.4 529.6h.9v.9h-.9zM279.2 542.7h.9v.9h-.9zM277.2 543.2h.9v.9h-.9zM276.5 545.3h.9v.9h-.9zM277.4 541.3h.9v.9h-.9zM281.8 539.3h.9v.9h-.9zM272.8 535.9h.9v.9h-.9zM283.1 539.4h.9v.9h-.9zM277.5 540.2h.9v.9h-.9zM284.5 534.3h.9v.9h-.9zM274.1 540.9h.9v.9h-.9zM283.0 533.6h.9v.9h-.9zM276.2 542.7h.9v.9h-.9zM276.1 540.4h.9v.9h-.9zM284.7 535.5h.9v.9h-.9zM281.7 536.9h.9v.9h-.9zM282.6 535.1h.9v.9h-.9zM282.3 532.8h.9v.9h-.9zM271.5 550.6h.9v.9h-.9zM285.2 534.2h.9v.9h-.9zM278.0 541.5h.9v.9h-.9zM282.3 538.8h.9v.9h-.9zM279.7 539.9h.9v.9h-.9zM280.1 540.2h.9v.9h-.9zM277.9 542.9h.9v.9h-.9zM272.2 546.8h.9v.9h-.9zM281.7 535.4h.9v.9h-.9zM279.0 534.0h.9v.9h-.9zM288.1 530.0h.9v.9h-.9zM277.9 541.2h.9v.9h-.9zM274.2 538.2h.9v.9h-.9zM278.8 534.4h.9v.9h-.9zM283.4 539.2h.9v.9h-.9zM281.1 539.2h.9v.9h-.9zM281.6 538.6h.9v.9h-.9zM279.2 537.6h.9v.9h-.9zM276.4 537.3h.9v.9h-.9zM286.4 539.5h.9v.9h-.9zM276.5 541.0h.9v.9h-.9zM273.8 541.3h.9v.9h-.9zM278.5 540.7h.9v.9h-.9zM279.5 525.7h.9v.9h-.9zM275.1 532.8h.9v.9h-.9zM285.8 530.3h.9v.9h-.9zM279.9 545.5h.9v.9h-.9zM277.1 535.7h.9v.9h-.9zM272.3 541.2h.9v.9h-.9zM277.4 542.8h.9v.9h-.9zM280.5 546.0h.9v.9h-.9zM276.9 535.8h.9v.9h-.9zM273.9 534.7h.9v.9h-.9zM273.6 536.4h.9v.9h-.9zM274.6 549.6h.9v.9h-.9zM278.2 545.1h.9v.9h-.9zM274.4 544.4h.9v.9h-.9zM272.4 549.6h.9v.9h-.9zM277.4 535.9h.9v.9h-.9zM278.9 532.3h.9v.9h-.9zM279.1 536.6h.9v.9h-.9zM281.0 538.3h.9v.9h-.9zM276.5 542.3h.9v.9h-.9zM274.8 544.7h.9v.9h-.9zM273.2 553.5h.9v.9h-.9zM271.8 543.6h.9v.9h-.9zM279.4 531.5h.9v.9h-.9zM274.2 537.3h.9v.9h-.9zM279.1 536.8h.9v.9h-.9zM280.3 540.9h.9v.9h-.9zM279.1 538.7h.9v.9h-.9zM274.9 551.0h.9v.9h-.9zM284.6 537.9h.9v.9h-.9zM282.1 545.1h.9v.9h-.9zM287.6 536.0h.9v.9h-.9zM285.4 531.2h.9v.9h-.9zM273.8 539.8h.9v.9h-.9zM278.9 542.5h.9v.9h-.9zM278.6 541.1h.9v.9h-.9zM277.0 535.7h.9v.9h-.9zM274.3 545.8h.9v.9h-.9zM285.0 534.4h.9v.9h-.9zM282.7 546.7h.9v.9h-.9zM273.4 533.7h.9v.9h-.9zM275.5 543.9h.9v.9h-.9zM278.8 528.3h.9v.9h-.9zM282.4 528.5h.9v.9h-.9zM283.2 532.4h.9v.9h-.9zM275.5 549.1h.9v.9h-.9zM284.0 528.9h.9v.9h-.9zM278.9 543.3h.9v.9h-.9zM278.6 533.3h.9v.9h-.9zM278.9 543.8h.9v.9h-.9zM283.6 544.8h.9v.9h-.9zM281.1 539.9h.9v.9h-.9zM275.9 538.5h.9v.9h-.9zM281.2 538.6h.9v.9h-.9zM274.7 539.2h.9v.9h-.9zM280.7 534.6h.9v.9h-.9zM276.5 539.2h.9v.9h-.9zM286.5 531.5h.9v.9h-.9zM279.1 537.4h.9v.9h-.9zM285.2 547.2h.9v.9h-.9zM279.5 535.6h.9v.9h-.9zM295.9 522.9h.9v.9h-.9zM288.9 517.1h.9v.9h-.9zM290.5 534.9h.9v.9h-.9zM268.6 524.9h.9v.9h-.9zM272.2 553.7h.9v.9h-.9zM286.6 558.7h.9v.9h-.9zM294.8 536.1h.9v.9h-.9zM266.3 551.4h.9v.9h-.9zM275.6 531.0h.9v.9h-.9zM270.3 542.3h.9v.9h-.9zM278.7 527.0h.9v.9h-.9zM284.7 537.7h.9v.9h-.9zM265.7 537.4h.9v.9h-.9zM295.0 549.3h.9v.9h-.9zM274.1 534.4h.9v.9h-.9zM294.1 542.7h.9v.9h-.9zM293.0 525.4h.9v.9h-.9zM273.6 525.2h.9v.9h-.9zM278.8 544.7h.9v.9h-.9zM267.2 542.6h.9v.9h-.9zM290.1 518.5h.9v.9h-.9zM265.8 521.4h.9v.9h-.9zM282.9 528.9h.9v.9h-.9zM289.8 552.2h.9v.9h-.9zM276.8 522.2h.9v.9h-.9zM270.1 539.8h.9v.9h-.9zM276.2 545.8h.9v.9h-.9zM272.3 534.4h.9v.9h-.9zM282.2 522.1h.9v.9h-.9zM298.9 534.1h.9v.9h-.9zM299.9 524.9h.9v.9h-.9zM284.4 542.9h.9v.9h-.9zM280.1 520.8h.9v.9h-.9zM277.2 543.6h.9v.9h-.9zM272.7 538.2h.9v.9h-.9zM286.0 544.5h.9v.9h-.9zM270.6 539.0h.9v.9h-.9zM283.2 526.7h.9v.9h-.9zM282.7 525.0h.9v.9h-.9zM280.4 524.6h.9v.9h-.9zM292.7 549.9h.9v.9h-.9zM285.6 524.0h.9v.9h-.9zM285.0 539.7h.9v.9h-.9zM274.3 543.9h.9v.9h-.9zM288.7 530.1h.9v.9h-.9zM264.0 551.2h.9v.9h-.9zM273.4 542.0h.9v.9h-.9zM270.5 516.9h.9v.9h-.9zM287.2 526.6h.9v.9h-.9zM270.9 535.0h.9v.9h-.9zM274.9 526.0h.9v.9h-.9zM277.7 527.0h.9v.9h-.9zM300.3 531.5h.9v.9h-.9zM289.0 537.4h.9v.9h-.9zM274.9 534.7h.9v.9h-.9zM285.9 531.5h.9v.9h-.9zM308.0 533.2h.9v.9h-.9zM276.0 521.9h.9v.9h-.9zM280.8 542.6h.9v.9h-.9zM274.6 531.9h.9v.9h-.9zM277.1 553.6h.9v.9h-.9zM277.3 544.8h.9v.9h-.9zM279.0 541.3h.9v.9h-.9zM298.7 543.6h.9v.9h-.9zM290.0 543.0h.9v.9h-.9zM279.8 556.5h.9v.9h-.9zM286.6 544.1h.9v.9h-.9zM258.6 529.4h.9v.9h-.9zM279.3 546.3h.9v.9h-.9zM272.4 529.0h.9v.9h-.9zM282.0 544.9h.9v.9h-.9zM272.1 532.5h.9v.9h-.9zM282.9 519.9h.9v.9h-.9zM272.5 529.9h.9v.9h-.9zM288.4 536.0h.9v.9h-.9zM286.5 534.8h.9v.9h-.9zM279.6 547.5h.9v.9h-.9zM285.8 515.5h.9v.9h-.9zM288.3 523.1h.9v.9h-.9zM283.6 525.1h.9v.9h-.9zM258.3 517.4h.9v.9h-.9zM293.8 545.4h.9v.9h-.9zM282.7 529.3h.9v.9h-.9zM293.6 539.1h.9v.9h-.9zM272.9 551.4h.9v.9h-.9zM266.7 544.9h.9v.9h-.9zM278.0 543.8h.9v.9h-.9zM286.9 531.7h.9v.9h-.9zM261.3 522.8h.9v.9h-.9zM281.1 527.6h.9v.9h-.9zM281.6 532.9h.9v.9h-.9zM299.6 523.5h.9v.9h-.9zM276.9 552.1h.9v.9h-.9zM288.7 535.0h.9v.9h-.9zM285.1 537.3h.9v.9h-.9zM268.6 533.1h.9v.9h-.9zM284.2 539.6h.9v.9h-.9zM278.7 547.0h.9v.9h-.9zM280.5 557.5h.9v.9h-.9zM257.5 558.7h.9v.9h-.9zM305.3 535.2h.9v.9h-.9zM282.6 538.3h.9v.9h-.9zM271.9 528.6h.9v.9h-.9zM280.6 530.2h.9v.9h-.9zM294.0 542.9h.9v.9h-.9zM271.0 551.7h.9v.9h-.9zM279.2 543.0h.9v.9h-.9zM284.2 533.3h.9v.9h-.9zM286.7 518.3h.9v.9h-.9zM273.5 552.5h.9v.9h-.9zM286.0 530.3h.9v.9h-.9zM273.2 537.2h.9v.9h-.9zM268.7 554.1h.9v.9h-.9zM300.8 524.6h.9v.9h-.9zM273.6 542.9h.9v.9h-.9zM282.4 526.2h.9v.9h-.9zM282.1 526.3h.9v.9h-.9zM291.9 531.0h.9v.9h-.9zM291.1 540.1h.9v.9h-.9zM291.2 523.8h.9v.9h-.9zM282.8 549.0h.9v.9h-.9zM267.3 536.7h.9v.9h-.9zM284.7 512.2h.9v.9h-.9zM289.3 521.2h.9v.9h-.9zM287.4 535.3h.9v.9h-.9zM281.2 521.8h.9v.9h-.9zM274.6 532.2h.9v.9h-.9zM275.2 542.1h.9v.9h-.9zM283.3 546.7h.9v.9h-.9zM273.5 541.3h.9v.9h-.9zM284.5 547.2h.9v.9h-.9zM288.6 526.6h.9v.9h-.9zM297.5 524.2h.9v.9h-.9zM273.2 555.2h.9v.9h-.9zM300.6 513.2h.9v.9h-.9zM273.7 552.9h.9v.9h-.9zM265.3 544.8h.9v.9h-.9zM277.6 538.9h.9v.9h-.9zM290.6 538.1h.9v.9h-.9zM273.1 524.3h.9v.9h-.9zM272.6 530.4h.9v.9h-.9zM271.0 530.5h.9v.9h-.9zM286.1 535.3h.9v.9h-.9z" fill="#f01010" fill-opacity="0.8"/>
<ellipse cx="271.5" cy="551.7" rx="5.8" ry="4.2" fill="#dc1c00" fill-opacity="0.90" filter="url(#fb)" transform="rotate(0 271.5 551.7)"/>
<ellipse cx="284.5" cy="525.6" rx="5.8" ry="6.9" fill="#dc1c00" fill-opacity="0.45" filter="url(#fb)" transform="rotate(-10 284.5 525.6)"/>
<line x1="276.40" y1="485.50" x2="276.40" y2="565.70" stroke="#ee2020" stroke-width="0.9"/>
<line x1="243.50" y1="540.10" x2="323.50" y2="540.10" stroke="#ee2020" stroke-width="0.9"/>
<rect x="243.50" y="485.50" width="80.00" height="80.20" fill="none" stroke="#505050" stroke-width="0.7"/>
<line x1="241.50" y1="565.70" x2="243.50" y2="565.70" stroke="#444" stroke-width="0.6"/>
<line x1="243.50" y1="565.70" x2="243.50" y2="567.70" stroke="#444" stroke-width="0.6"/>
<text x="241.10" y="567.86" font-size="6.00" text-anchor="end" fill="#333">0</text>
<text x="243.50" y="573.66" font-size="6.00" text-anchor="middle" fill="#333">0</text>
<line x1="241.50" y1="545.65" x2="243.50" y2="545.65" stroke="#444" stroke-width="0.6"/>
<line x1="263.50" y1="565.70" x2="263.50" y2="567.70" stroke="#444" stroke-width="0.6"/>
<text x="241.10" y="547.81" font-size="6.00" text-anchor="end" fill="#333">1</text>
<text x="263.50" y="573.66" font-size="6.00" text-anchor="middle" fill="#333">1</text>
<line x1="241.50" y1="525.60" x2="243.50" y2="525.60" stroke="#444" stroke-width="0.6"/>
<line x1="283.50" y1="565.70" x2="283.50" y2="567.70" stroke="#444" stroke-width="0.6"/>
<text x="241.10" y="527.76" font-size="6.00" text-anchor="end" fill="#333">2</text>
<text x="283.50" y="573.66" font-size="6.00" text-anchor="middle" fill="#333">2</text>
<line x1="241.50" y1="505.55" x2="243.50" y2="505.55" stroke="#444" stroke-width="0.6"/>
<line x1="303.50" y1="565.70" x2="303.50" y2="567.70" stroke="#444" stroke-width="0.6"/>
<text x="241.10" y="507.71" font-size="6.00" text-anchor="end" fill="#333">3</text>
<text x="303.50" y="573.66" font-size="6.00" text-anchor="middle" fill="#333">3</text>
<line x1="241.50" y1="485.50" x2="243.50" y2="485.50" stroke="#444" stroke-width="0.6"/>
<line x1="323.50" y1="565.70" x2="323.50" y2="567.70" stroke="#444" stroke-width="0.6"/>
<text x="241.10" y="487.66" font-size="6.00" text-anchor="end" fill="#333">4</text>
<text x="323.50" y="573.66" font-size="6.00" text-anchor="middle" fill="#333">4</text>
<text x="283.50" y="483.46" font-size="6.00" text-anchor="middle" fill="#333" textLength="57.60" lengthAdjust="spacingAndGlyphs">APOPTOSIS PROFILE</text>
<text x="245.10" y="492.14" font-size="5.10" fill="#333">Dead</text>
<text x="245.10" y="498.34" font-size="5.10" fill="#333">3.56 %</text>
<text x="322.10" y="492.14" font-size="5.10" text-anchor="end" fill="#333">Late Apop./Dead</text>
<text x="322.10" y="498.34" font-size="5.10" text-anchor="end" fill="#333">26.44 %</text>
<text x="245.10" y="557.34" font-size="5.10" fill="#333">59.46 %</text>
<text x="245.10" y="563.54" font-size="5.10" fill="#333">Live</text>
<text x="322.10" y="557.34" font-size="5.10" text-anchor="end" fill="#333">10.54 %</text>
<text x="322.10" y="563.54" font-size="5.10" text-anchor="end" fill="#333">Early Apop.</text>
<text x="248.00" y="580.71" font-size="4.20" fill="#555">Live</text>
<text x="283.50" y="581.02" font-size="5.60" text-anchor="middle" fill="#444">ANNEXIN V</text>
<text x="324.50" y="580.71" font-size="4.20" text-anchor="end" fill="#555">Apoptosis</text>
<text x="232.92" y="525.60" font-size="5.60" text-anchor="middle" transform="rotate(-90 232.92 525.60)" fill="#444" textLength="24.00" lengthAdjust="spacingAndGlyphs">VIABILITY</text>
<rect x="346.60" y="486.00" width="80.70" height="80.30" fill="#ffffff"/>
<rect x="347.00" y="540.60" width="33.30" height="25.30" fill="#eaf2c6"/>
<path d="M376.5 550.2h.9v.9h-.9zM372.1 556.4h.9v.9h-.9zM378.1 554.5h.9v.9h-.9zM377.2 554.7h.9v.9h-.9zM381.6 551.4h.9v.9h-.9zM381.0 553.3h.9v.9h-.9zM382.1 555.8h.9v.9h-.9zM367.0 558.2h.9v.9h-.9zM366.8 562.2h.9v.9h-.9zM368.5 546.2h.9v.9h-.9zM379.8 557.9h.9v.9h-.9zM377.6 558.5h.9v.9h-.9zM370.3 556.0h.9v.9h-.9zM368.8 555.3h.9v.9h-.9zM379.6 548.9h.9v.9h-.9zM375.5 549.0h.9v.9h-.9zM378.9 553.7h.9v.9h-.9zM364.1 550.1h.9v.9h-.9zM367.4 556.0h.9v.9h-.9zM368.6 559.7h.9v.9h-.9zM379.7 552.1h.9v.9h-.9zM381.1 551.0h.9v.9h-.9zM367.8 545.3h.9v.9h-.9zM371.7 545.4h.9v.9h-.9zM372.8 549.8h.9v.9h-.9zM379.5 546.3h.9v.9h-.9zM368.1 558.6h.9v.9h-.9zM378.2 549.4h.9v.9h-.9zM373.9 556.2h.9v.9h-.9zM386.2 554.1h.9v.9h-.9zM374.7 554.7h.9v.9h-.9zM370.6 553.1h.9v.9h-.9zM368.7 554.7h.9v.9h-.9zM371.2 550.9h.9v.9h-.9zM370.7 550.2h.9v.9h-.9zM372.0 550.0h.9v.9h-.9zM362.7 548.6h.9v.9h-.9zM366.1 554.1h.9v.9h-.9zM378.5 557.8h.9v.9h-.9zM369.0 554.7h.9v.9h-.9zM389.2 552.0h.9v.9h-.9zM377.1 555.4h.9v.9h-.9zM376.7 554.0h.9v.9h-.9zM370.8 557.6h.9v.9h-.9zM361.6 552.3h.9v.9h-.9zM366.6 556.5h.9v.9h-.9zM376.1 554.4h.9v.9h-.9zM374.5 547.2h.9v.9h-.9zM378.9 553.1h.9v.9h-.9zM363.5 561.5h.9v.9h-.9zM382.4 554.3h.9v.9h-.9zM372.5 554.7h.9v.9h-.9zM381.6 552.2h.9v.9h-.9zM368.4 552.0h.9v.9h-.9zM368.3 558.2h.9v.9h-.9zM365.3 551.6h.9v.9h-.9zM366.1 550.4h.9v.9h-.9zM383.4 546.8h.9v.9h-.9zM372.8 549.0h.9v.9h-.9zM365.3 556.4h.9v.9h-.9zM358.9 550.0h.9v.9h-.9zM369.7 549.9h.9v.9h-.9zM375.9 553.2h.9v.9h-.9zM368.1 549.1h.9v.9h-.9zM372.8 554.5h.9v.9h-.9zM371.3 548.2h.9v.9h-.9zM369.5 548.6h.9v.9h-.9zM375.6 552.5h.9v.9h-.9zM364.6 552.0h.9v.9h-.9zM369.9 553.1h.9v.9h-.9zM375.8 551.4h.9v.9h-.9zM383.2 545.8h.9v.9h-.9zM377.4 546.7h.9v.9h-.9zM365.7 549.3h.9v.9h-.9zM385.7 553.4h.9v.9h-.9zM369.4 547.5h.9v.9h-.9zM356.4 553.9h.9v.9h-.9zM377.0 560.8h.9v.9h-.9zM372.0 550.1h.9v.9h-.9zM383.4 561.0h.9v.9h-.9zM367.2 547.7h.9v.9h-.9zM376.9 550.4h.9v.9h-.9zM381.0 553.1h.9v.9h-.9zM376.5 552.4h.9v.9h-.9zM374.5 549.2h.9v.9h-.9zM373.6 551.2h.9v.9h-.9zM375.5 552.7h.9v.9h-.9zM381.2 552.4h.9v.9h-.9zM378.7 553.3h.9v.9h-.9zM369.4 557.4h.9v.9h-.9zM374.6 557.5h.9v.9h-.9zM370.7 549.8h.9v.9h-.9zM373.3 550.3h.9v.9h-.9zM371.6 545.8h.9v.9h-.9zM373.6 549.8h.9v.9h-.9zM368.2 553.1h.9v.9h-.9zM382.3 550.4h.9v.9h-.9zM369.1 549.1h.9v.9h-.9zM378.4 546.4h.9v.9h-.9zM374.2 554.8h.9v.9h-.9zM369.3 553.0h.9v.9h-.9zM371.5 557.0h.9v.9h-.9zM367.4 553.7h.9v.9h-.9zM367.1 551.2h.9v.9h-.9zM376.2 547.7h.9v.9h-.9zM369.4 558.1h.9v.9h-.9zM376.8 552.4h.9v.9h-.9zM377.8 554.4h.9v.9h-.9zM374.7 553.3h.9v.9h-.9zM371.0 555.3h.9v.9h-.9zM369.0 547.4h.9v.9h-.9zM366.7 552.3h.9v.9h-.9zM376.2 547.8h.9v.9h-.9zM379.4 545.4h.9v.9h-.9zM372.2 547.9h.9v.9h-.9zM377.6 556.6h.9v.9h-.9zM372.4 554.6h.9v.9h-.9zM379.3 553.3h.9v.9h-.9zM388.6 549.0h.9v.9h-.9zM365.0 552.6h.9v.9h-.9zM363.3 547.5h.9v.9h-.9zM373.2 560.2h.9v.9h-.9zM365.6 554.3h.9v.9h-.9zM373.9 554.1h.9v.9h-.9zM369.7 559.8h.9v.9h-.9zM374.9 555.3h.9v.9h-.9zM378.2 544.5h.9v.9h-.9zM363.2 558.0h.9v.9h-.9zM360.4 550.9h.9v.9h-.9zM380.7 550.4h.9v.9h-.9zM372.0 554.5h.9v.9h-.9zM372.1 553.6h.9v.9h-.9zM375.2 557.2h.9v.9h-.9zM384.9 552.1h.9v.9h-.9zM369.1 551.1h.9v.9h-.9zM368.8 549.3h.9v.9h-.9zM366.8 550.5h.9v.9h-.9zM373.6 554.1h.9v.9h-.9zM371.0 550.9h.9v.9h-.9zM377.6 556.3h.9v.9h-.9zM369.7 546.7h.9v.9h-.9zM371.7 553.3h.9v.9h-.9zM378.0 554.1h.9v.9h-.9zM368.0 558.0h.9v.9h-.9zM380.3 551.3h.9v.9h-.9zM372.3 551.2h.9v.9h-.9zM372.7 549.5h.9v.9h-.9zM371.8 553.6h.9v.9h-.9zM373.8 555.2h.9v.9h-.9zM376.5 547.2h.9v.9h-.9zM371.7 554.6h.9v.9h-.9zM367.8 552.7h.9v.9h-.9zM368.5 556.6h.9v.9h-.9zM372.2 555.8h.9v.9h-.9zM379.1 548.0h.9v.9h-.9zM373.3 555.7h.9v.9h-.9zM367.8 547.5h.9v.9h-.9zM376.3 556.9h.9v.9h-.9zM373.4 543.0h.9v.9h-.9zM367.2 552.1h.9v.9h-.9zM367.8 559.2h.9v.9h-.9zM369.6 551.0h.9v.9h-.9zM373.4 553.2h.9v.9h-.9zM380.3 546.5h.9v.9h-.9zM374.3 554.3h.9v.9h-.9zM383.0 548.2h.9v.9h-.9zM376.2 554.7h.9v.9h-.9zM359.3 556.6h.9v.9h-.9zM364.4 555.7h.9v.9h-.9zM375.6 555.9h.9v.9h-.9zM363.5 552.9h.9v.9h-.9zM382.3 546.5h.9v.9h-.9zM378.5 555.3h.9v.9h-.9zM370.0 547.3h.9v.9h-.9zM380.5 553.3h.9v.9h-.9zM376.8 561.9h.9v.9h-.9zM371.7 549.4h.9v.9h-.9zM376.2 560.4h.9v.9h-.9zM375.8 550.0h.9v.9h-.9zM375.6 555.0h.9v.9h-.9zM378.2 551.2h.9v.9h-.9zM375.2 546.5h.9v.9h-.9zM369.8 550.4h.9v.9h-.9zM365.1 557.2h.9v.9h-.9zM367.3 557.4h.9v.9h-.9zM382.2 544.1h.9v.9h-.9zM365.6 554.4h.9v.9h-.9zM377.4 552.7h.9v.9h-.9zM372.7 546.0h.9v.9h-.9zM369.6 555.8h.9v.9h-.9zM369.4 548.7h.9v.9h-.9zM378.6 551.3h.9v.9h-.9zM375.0 553.4h.9v.9h-.9zM381.1 558.6h.9v.9h-.9zM367.5 549.3h.9v.9h-.9zM368.1 549.7h.9v.9h-.9zM366.9 552.1h.9v.9h-.9zM377.0 554.7h.9v.9h-.9zM380.2 543.0h.9v.9h-.9zM362.8 552.2h.9v.9h-.9zM370.0 550.2h.9v.9h-.9zM367.6 550.0h.9v.9h-.9zM377.2 547.0h.9v.9h-.9zM374.6 558.3h.9v.9h-.9zM385.0 542.3h.9v.9h-.9zM366.8 552.8h.9v.9h-.9zM373.2 556.0h.9v.9h-.9zM366.6 544.2h.9v.9h-.9zM373.9 550.8h.9v.9h-.9zM378.2 556.7h.9v.9h-.9zM366.2 548.5h.9v.9h-.9zM368.1 548.4h.9v.9h-.9zM367.7 564.3h.9v.9h-.9zM377.5 555.3h.9v.9h-.9zM378.7 548.6h.9v.9h-.9zM379.6 548.6h.9v.9h-.9zM381.1 553.4h.9v.9h-.9zM363.7 553.5h.9v.9h-.9zM378.9 546.8h.9v.9h-.9zM365.1 556.4h.9v.9h-.9zM354.5 559.6h.9v.9h-.9zM377.4 555.3h.9v.9h-.9zM366.4 557.3h.9v.9h-.9zM387.3 552.1h.9v.9h-.9zM376.3 548.7h.9v.9h-.9zM365.6 551.5h.9v.9h-.9zM369.6 553.5h.9v.9h-.9zM376.4 550.3h.9v.9h-.9zM375.7 560.6h.9v.9h-.9zM355.8 555.1h.9v.9h-.9zM373.7 549.6h.9v.9h-.9zM383.3 552.5h.9v.9h-.9zM377.9 548.3h.9v.9h-.9zM371.5 548.0h.9v.9h-.9zM381.0 559.6h.9v.9h-.9zM374.1 545.3h.9v.9h-.9zM380.3 554.3h.9v.9h-.9zM364.9 556.8h.9v.9h-.9zM365.2 551.6h.9v.9h-.9zM362.3 556.2h.9v.9h-.9zM377.2 543.9h.9v.9h-.9zM372.2 559.5h.9v.9h-.9zM374.6 549.9h.9v.9h-.9zM369.0 554.8h.9v.9h-.9zM373.5 555.2h.9v.9h-.9zM377.0 558.0h.9v.9h-.9zM384.6 551.1h.9v.9h-.9zM370.6 552.4h.9v.9h-.9zM362.5 554.5h.9v.9h-.9zM375.8 552.6h.9v.9h-.9zM371.3 552.5h.9v.9h-.9zM374.6 555.2h.9v.9h-.9zM389.5 557.9h.9v.9h-.9zM369.4 551.2h.9v.9h-.9zM365.4 547.7h.9v.9h-.9zM374.4 547.8h.9v.9h-.9zM378.3 548.2h.9v.9h-.9zM370.2 551.3h.9v.9h-.9zM380.6 553.8h.9v.9h-.9zM369.5 553.5h.9v.9h-.9zM366.9 548.7h.9v.9h-.9zM374.1 553.1h.9v.9h-.9zM374.0 555.6h.9v.9h-.9zM375.1 557.3h.9v.9h-.9zM375.2 548.7h.9v.9h-.9zM365.2 553.4h.9v.9h-.9zM371.3 559.1h.9v.9h-.9zM385.1 554.6h.9v.9h-.9zM361.2 556.8h.9v.9h-.9zM372.7 558.0h.9v.9h-.9zM377.1 547.4h.9v.9h-.9zM368.6 554.1h.9v.9h-.9zM374.0 552.4h.9v.9h-.9zM370.6 552.6h.9v.9h-.9zM377.8 554.0h.9v.9h-.9zM369.1 552.2h.9v.9h-.9zM374.2 547.8h.9v.9h-.9zM386.2 551.5h.9v.9h-.9zM367.6 545.5h.9v.9h-.9zM371.7 554.7h.9v.9h-.9zM359.2 548.5h.9v.9h-.9zM366.2 558.7h.9v.9h-.9zM373.9 555.9h.9v.9h-.9zM371.6 552.7h.9v.9h-.9zM373.9 554.4h.9v.9h-.9zM366.9 556.7h.9v.9h-.9zM375.7 555.9h.9v.9h-.9zM379.1 547.5h.9v.9h-.9zM369.7 546.4h.9v.9h-.9zM377.6 547.2h.9v.9h-.9zM365.7 550.6h.9v.9h-.9zM376.7 553.4h.9v.9h-.9zM377.3 546.1h.9v.9h-.9zM372.8 552.1h.9v.9h-.9zM375.2 554.7h.9v.9h-.9zM373.6 550.8h.9v.9h-.9zM374.2 552.9h.9v.9h-.9zM371.3 558.3h.9v.9h-.9zM369.0 551.9h.9v.9h-.9zM377.7 557.8h.9v.9h-.9zM355.3 557.3h.9v.9h-.9zM363.5 557.4h.9v.9h-.9zM370.2 554.6h.9v.9h-.9zM360.9 557.1h.9v.9h-.9zM376.0 552.4h.9v.9h-.9zM371.2 557.1h.9v.9h-.9zM368.8 555.9h.9v.9h-.9zM376.8 554.5h.9v.9h-.9zM371.8 556.0h.9v.9h-.9zM365.2 551.6h.9v.9h-.9zM378.7 553.2h.9v.9h-.9zM376.9 550.0h.9v.9h-.9zM370.5 541.3h.9v.9h-.9zM368.8 551.4h.9v.9h-.9zM372.6 552.2h.9v.9h-.9zM365.7 556.6h.9v.9h-.9zM375.0 549.7h.9v.9h-.9zM371.9 553.2h.9v.9h-.9zM383.3 550.3h.9v.9h-.9zM384.1 548.0h.9v.9h-.9zM369.9 548.1h.9v.9h-.9zM358.6 554.2h.9v.9h-.9zM369.9 553.7h.9v.9h-.9zM373.7 554.8h.9v.9h-.9zM377.8 552.2h.9v.9h-.9zM369.1 549.2h.9v.9h-.9zM369.8 555.6h.9v.9h-.9zM374.8 548.9h.9v.9h-.9zM375.0 555.4h.9v.9h-.9zM374.4 554.4h.9v.9h-.9zM376.4 546.1h.9v.9h-.9zM378.2 542.7h.9v.9h-.9zM377.1 555.7h.9v.9h-.9zM370.1 552.1h.9v.9h-.9zM363.0 553.3h.9v.9h-.9zM373.5 545.4h.9v.9h-.9zM373.2 551.0h.9v.9h-.9zM384.6 552.3h.9v.9h-.9zM377.3 559.1h.9v.9h-.9zM379.0 552.8h.9v.9h-.9zM364.7 553.4h.9v.9h-.9zM367.7 550.7h.9v.9h-.9zM375.3 551.0h.9v.9h-.9zM380.3 553.1h.9v.9h-.9zM372.5 558.9h.9v.9h-.9zM368.5 551.6h.9v.9h-.9zM375.3 556.7h.9v.9h-.9zM373.2 554.6h.9v.9h-.9zM377.7 549.5h.9v.9h-.9zM362.0 553.5h.9v.9h-.9zM374.2 550.5h.9v.9h-.9zM370.4 552.5h.9v.9h-.9zM371.7 559.3h.9v.9h-.9zM369.6 553.1h.9v.9h-.9zM370.9 546.8h.9v.9h-.9zM365.6 551.7h.9v.9h-.9zM374.4 551.2h.9v.9h-.9zM368.7 556.5h.9v.9h-.9zM382.6 551.6h.9v.9h-.9zM380.3 549.9h.9v.9h-.9zM371.1 548.2h.9v.9h-.9zM371.9 553.5h.9v.9h-.9zM381.2 551.2h.9v.9h-.9zM366.1 552.9h.9v.9h-.9zM373.1 556.9h.9v.9h-.9zM375.1 548.7h.9v.9h-.9zM390.1 551.5h.9v.9h-.9zM362.5 559.1h.9v.9h-.9zM369.4 549.9h.9v.9h-.9zM366.7 545.6h.9v.9h-.9zM380.6 553.8h.9v.9h-.9zM377.3 550.7h.9v.9h-.9zM363.6 552.2h.9v.9h-.9zM383.1 553.7h.9v.9h-.9zM366.4 555.3h.9v.9h-.9zM373.4 553.9h.9v.9h-.9zM371.5 549.9h.9v.9h-.9zM368.6 556.5h.9v.9h-.9zM360.8 551.6h.9v.9h-.9zM384.9 554.2h.9v.9h-.9zM368.3 552.1h.9v.9h-.9zM373.9 546.7h.9v.9h-.9zM365.0 553.3h.9v.9h-.9zM365.7 552.6h.9v.9h-.9zM378.7 548.8h.9v.9h-.9zM366.1 560.2h.9v.9h-.9zM371.0 547.2h.9v.9h-.9zM368.0 555.8h.9v.9h-.9zM368.5 560.4h.9v.9h-.9zM379.7 547.4h.9v.9h-.9zM373.7 551.7h.9v.9h-.9zM372.9 552.4h.9v.9h-.9zM374.1 546.4h.9v.9h-.9zM362.7 555.6h.9v.9h-.9zM369.4 554.7h.9v.9h-.9zM375.1 550.9h.9v.9h-.9zM369.5 550.3h.9v.9h-.9zM379.1 551.8h.9v.9h-.9zM373.3 563.4h.9v.9h-.9zM374.8 557.9h.9v.9h-.9zM367.5 551.4h.9v.9h-.9zM371.1 553.0h.9v.9h-.9zM367.2 555.1h.9v.9h-.9zM374.5 547.9h.9v.9h-.9zM370.6 559.6h.9v.9h-.9zM378.7 553.0h.9v.9h-.9zM374.4 545.6h.9v.9h-.9zM382.5 555.7h.9v.9h-.9zM369.5 551.6h.9v.9h-.9zM376.2 552.3h.9v.9h-.9zM382.4 548.2h.9v.9h-.9zM382.5 548.2h.9v.9h-.9zM375.8 555.3h.9v.9h-.9zM376.0 557.0h.9v.9h-.9zM372.0 552.0h.9v.9h-.9zM365.4 553.4h.9v.9h-.9zM377.2 553.9h.9v.9h-.9zM367.0 549.4h.9v.9h-.9zM368.5 547.7h.9v.9h-.9zM383.2 549.0h.9v.9h-.9zM372.7 554.1h.9v.9h-.9zM375.6 547.9h.9v.9h-.9zM372.5 554.9h.9v.9h-.9zM366.1 548.5h.9v.9h-.9zM366.1 557.4h.9v.9h-.9zM381.8 541.8h.9v.9h-.9zM376.9 549.4h.9v.9h-.9zM381.6 545.6h.9v.9h-.9zM369.9 553.0h.9v.9h-.9zM380.1 549.3h.9v.9h-.9zM375.4 555.6h.9v.9h-.9zM378.6 554.9h.9v.9h-.9zM356.5 551.8h.9v.9h-.9zM369.8 555.9h.9v.9h-.9zM381.2 551.1h.9v.9h-.9zM370.3 551.4h.9v.9h-.9zM374.6 551.4h.9v.9h-.9zM385.7 557.7h.9v.9h-.9zM364.8 556.8h.9v.9h-.9zM371.7 555.1h.9v.9h-.9zM363.4 548.4h.9v.9h-.9zM374.1 551.1h.9v.9h-.9zM367.6 555.6h.9v.9h-.9zM368.3 549.3h.9v.9h-.9zM364.2 551.0h.9v.9h-.9zM371.7 555.7h.9v.9h-.9zM374.4 553.9h.9v.9h-.9zM368.6 556.4h.9v.9h-.9zM374.6 552.3h.9v.9h-.9zM366.3 548.5h.9v.9h-.9zM377.7 555.7h.9v.9h-.9zM375.2 546.1h.9v.9h-.9zM381.3 551.6h.9v.9h-.9zM376.8 550.8h.9v.9h-.9zM370.4 551.4h.9v.9h-.9zM367.7 549.6h.9v.9h-.9zM382.4 552.7h.9v.9h-.9zM387.3 548.2h.9v.9h-.9zM365.2 552.9h.9v.9h-.9zM361.7 557.0h.9v.9h-.9zM374.2 551.6h.9v.9h-.9zM377.7 550.2h.9v.9h-.9zM373.3 552.2h.9v.9h-.9zM362.0 556.8h.9v.9h-.9zM373.4 560.0h.9v.9h-.9zM367.1 547.2h.9v.9h-.9zM378.1 557.2h.9v.9h-.9zM389.3 552.3h.9v.9h-.9zM372.4 550.3h.9v.9h-.9zM376.2 552.6h.9v.9h-.9zM366.9 553.9h.9v.9h-.9zM372.5 550.5h.9v.9h-.9zM374.6 552.2h.9v.9h-.9zM371.5 548.7h.9v.9h-.9zM378.0 551.5h.9v.9h-.9zM371.7 552.4h.9v.9h-.9zM368.4 554.3h.9v.9h-.9zM372.3 552.9h.9v.9h-.9zM387.4 548.4h.9v.9h-.9zM371.7 546.1h.9v.9h-.9zM366.6 553.0h.9v.9h-.9zM379.2 551.0h.9v.9h-.9zM373.5 554.7h.9v.9h-.9zM375.0 550.7h.9v.9h-.9zM369.9 551.9h.9v.9h-.9zM378.7 553.0h.9v.9h-.9zM374.3 554.8h.9v.9h-.9zM354.8 555.3h.9v.9h-.9zM380.8 549.8h.9v.9h-.9zM379.5 549.6h.9v.9h-.9zM365.5 544.4h.9v.9h-.9zM379.2 557.1h.9v.9h-.9zM368.7 552.9h.9v.9h-.9zM362.6 557.5h.9v.9h-.9zM380.5 553.3h.9v.9h-.9zM373.0 552.9h.9v.9h-.9zM366.6 553.6h.9v.9h-.9zM378.1 560.0h.9v.9h-.9zM371.3 552.3h.9v.9h-.9zM376.7 554.8h.9v.9h-.9zM387.0 550.2h.9v.9h-.9zM383.6 542.8h.9v.9h-.9zM380.9 544.0h.9v.9h-.9zM381.7 546.6h.9v.9h-.9zM393.7 536.9h.9v.9h-.9zM376.6 549.7h.9v.9h-.9zM382.3 548.1h.9v.9h-.9zM384.9 543.8h.9v.9h-.9zM384.6 537.0h.9v.9h-.9zM383.0 543.1h.9v.9h-.9zM384.1 555.7h.9v.9h-.9zM380.5 546.0h.9v.9h-.9zM372.7 554.8h.9v.9h-.9zM377.8 553.2h.9v.9h-.9zM371.0 538.6h.9v.9h-.9zM392.4 549.3h.9v.9h-.9zM380.3 544.3h.9v.9h-.9zM369.3 538.1h.9v.9h-.9zM367.3 548.6h.9v.9h-.9zM384.0 551.8h.9v.9h-.9zM369.5 557.4h.9v.9h-.9zM372.7 555.5h.9v.9h-.9zM388.6 552.9h.9v.9h-.9zM378.4 548.7h.9v.9h-.9zM373.9 541.9h.9v.9h-.9zM376.2 543.1h.9v.9h-.9zM371.5 553.0h.9v.9h-.9zM382.2 541.4h.9v.9h-.9zM377.4 549.6h.9v.9h-.9zM378.9 545.6h.9v.9h-.9zM374.5 553.3h.9v.9h-.9zM379.5 541.9h.9v.9h-.9zM374.5 542.1h.9v.9h-.9zM375.1 547.0h.9v.9h-.9zM375.4 553.0h.9v.9h-.9zM386.4 539.1h.9v.9h-.9zM375.7 546.2h.9v.9h-.9zM372.1 557.2h.9v.9h-.9zM382.0 543.2h.9v.9h-.9zM378.9 548.8h.9v.9h-.9zM378.0 541.4h.9v.9h-.9zM380.0 547.3h.9v.9h-.9zM375.3 539.8h.9v.9h-.9zM394.0 543.6h.9v.9h-.9zM382.5 538.0h.9v.9h-.9zM382.0 548.6h.9v.9h-.9zM379.7 538.7h.9v.9h-.9zM384.8 541.8h.9v.9h-.9zM375.7 552.3h.9v.9h-.9zM376.5 549.7h.9v.9h-.9zM373.5 543.8h.9v.9h-.9zM387.8 544.5h.9v.9h-.9zM386.5 550.0h.9v.9h-.9zM386.9 534.3h.9v.9h-.9zM381.5 553.7h.9v.9h-.9zM374.4 544.4h.9v.9h-.9zM383.3 547.7h.9v.9h-.9zM375.2 554.7h.9v.9h-.9zM391.1 545.5h.9v.9h-.9zM387.9 546.5h.9v.9h-.9zM373.8 534.8h.9v.9h-.9zM373.2 546.2h.9v.9h-.9zM376.5 560.1h.9v.9h-.9zM381.5 551.2h.9v.9h-.9zM392.2 548.6h.9v.9h-.9zM367.8 545.1h.9v.9h-.9zM383.8 552.4h.9v.9h-.9zM386.7 540.3h.9v.9h-.9zM383.2 537.0h.9v.9h-.9zM382.0 541.8h.9v.9h-.9zM377.7 547.9h.9v.9h-.9zM385.7 535.5h.9v.9h-.9zM376.3 546.2h.9v.9h-.9zM387.4 548.8h.9v.9h-.9zM396.3 544.4h.9v.9h-.9zM385.8 552.1h.9v.9h-.9zM377.7 549.4h.9v.9h-.9zM374.8 547.3h.9v.9h-.9zM376.2 549.6h.9v.9h-.9zM384.4 546.2h.9v.9h-.9zM378.0 551.1h.9v.9h-.9zM387.6 549.3h.9v.9h-.9zM371.0 540.8h.9v.9h-.9zM377.6 552.1h.9v.9h-.9zM380.8 552.0h.9v.9h-.9zM380.2 541.8h.9v.9h-.9zM376.8 553.4h.9v.9h-.9zM385.1 545.0h.9v.9h-.9zM371.8 558.8h.9v.9h-.9zM387.4 544.9h.9v.9h-.9zM384.1 544.2h.9v.9h-.9zM379.7 544.3h.9v.9h-.9zM377.3 536.6h.9v.9h-.9zM379.2 541.6h.9v.9h-.9zM370.1 548.8h.9v.9h-.9zM389.4 547.1h.9v.9h-.9zM377.0 537.7h.9v.9h-.9zM368.9 549.9h.9v.9h-.9zM376.8 540.8h.9v.9h-.9zM375.9 551.9h.9v.9h-.9zM386.3 528.0h.9v.9h-.9zM374.7 545.5h.9v.9h-.9zM378.5 551.7h.9v.9h-.9zM379.0 542.0h.9v.9h-.9zM380.7 535.9h.9v.9h-.9zM376.1 540.7h.9v.9h-.9zM372.8 546.4h.9v.9h-.9zM373.0 556.9h.9v.9h-.9zM387.1 542.0h.9v.9h-.9zM377.9 552.6h.9v.9h-.9zM380.9 540.7h.9v.9h-.9zM385.9 549.9h.9v.9h-.9zM380.0 536.0h.9v.9h-.9zM381.1 546.9h.9v.9h-.9zM375.0 550.2h.9v.9h-.9zM382.9 543.9h.9v.9h-.9zM382.3 546.0h.9v.9h-.9zM371.4 537.2h.9v.9h-.9zM369.8 546.7h.9v.9h-.9zM381.4 545.1h.9v.9h-.9zM374.9 539.2h.9v.9h-.9zM360.8 555.6h.9v.9h-.9zM379.5 545.7h.9v.9h-.9zM381.3 541.4h.9v.9h-.9zM387.4 554.3h.9v.9h-.9zM384.3 544.3h.9v.9h-.9zM380.4 548.7h.9v.9h-.9zM380.6 549.1h.9v.9h-.9zM377.3 548.3h.9v.9h-.9zM377.7 543.7h.9v.9h-.9zM380.6 549.3h.9v.9h-.9zM380.6 540.2h.9v.9h-.9zM380.2 546.9h.9v.9h-.9zM379.8 549.6h.9v.9h-.9zM370.3 559.6h.9v.9h-.9zM382.5 554.7h.9v.9h-.9zM381.4 552.8h.9v.9h-.9zM386.5 546.2h.9v.9h-.9zM382.5 557.7h.9v.9h-.9zM370.2 548.7h.9v.9h-.9zM378.0 555.2h.9v.9h-.9zM378.4 548.1h.9v.9h-.9zM390.3 541.5h.9v.9h-.9zM387.5 544.8h.9v.9h-.9zM376.1 551.4h.9v.9h-.9zM383.1 553.1h.9v.9h-.9zM382.1 546.5h.9v.9h-.9zM383.6 542.6h.9v.9h-.9zM386.4 535.4h.9v.9h-.9zM375.6 549.8h.9v.9h-.9zM384.5 545.9h.9v.9h-.9zM376.7 542.8h.9v.9h-.9zM373.8 544.9h.9v.9h-.9zM377.4 546.7h.9v.9h-.9zM383.0 544.6h.9v.9h-.9zM385.6 543.7h.9v.9h-.9zM368.1 550.2h.9v.9h-.9zM389.2 542.7h.9v.9h-.9zM377.6 560.3h.9v.9h-.9zM385.1 546.4h.9v.9h-.9zM385.1 532.2h.9v.9h-.9zM380.6 554.8h.9v.9h-.9zM370.2 550.4h.9v.9h-.9zM370.7 558.9h.9v.9h-.9zM385.9 541.8h.9v.9h-.9zM379.4 538.9h.9v.9h-.9zM388.4 541.7h.9v.9h-.9zM381.8 550.4h.9v.9h-.9zM387.5 550.5h.9v.9h-.9zM379.9 540.3h.9v.9h-.9zM377.1 553.7h.9v.9h-.9zM398.2 552.5h.9v.9h-.9zM369.9 552.5h.9v.9h-.9zM376.3 554.4h.9v.9h-.9zM380.5 540.5h.9v.9h-.9zM390.9 547.4h.9v.9h-.9zM368.0 552.6h.9v.9h-.9zM382.6 538.3h.9v.9h-.9zM376.1 552.8h.9v.9h-.9zM372.1 550.7h.9v.9h-.9zM371.8 553.5h.9v.9h-.9zM383.9 546.1h.9v.9h-.9zM380.4 551.7h.9v.9h-.9zM380.2 550.0h.9v.9h-.9zM381.5 548.8h.9v.9h-.9zM388.0 547.4h.9v.9h-.9zM368.9 550.2h.9v.9h-.9zM383.3 545.3h.9v.9h-.9zM382.0 545.5h.9v.9h-.9zM375.3 545.0h.9v.9h-.9zM381.8 547.7h.9v.9h-.9zM381.5 544.4h.9v.9h-.9zM376.3 552.5h.9v.9h-.9zM378.0 536.4h.9v.9h-.9zM377.6 550.9h.9v.9h-.9zM385.7 537.0h.9v.9h-.9zM391.5 548.5h.9v.9h-.9zM372.9 551.9h.9v.9h-.9zM384.9 542.2h.9v.9h-.9zM381.2 541.3h.9v.9h-.9zM375.6 552.1h.9v.9h-.9zM390.5 548.4h.9v.9h-.9zM386.8 540.7h.9v.9h-.9zM385.3 542.3h.9v.9h-.9zM389.2 545.0h.9v.9h-.9zM375.7 546.3h.9v.9h-.9zM374.9 547.3h.9v.9h-.9zM392.2 547.1h.9v.9h-.9zM378.3 552.7h.9v.9h-.9zM379.3 546.4h.9v.9h-.9zM377.7 547.1h.9v.9h-.9zM386.5 543.0h.9v.9h-.9zM390.2 543.0h.9v.9h-.9zM377.2 553.9h.9v.9h-.9zM395.3 535.5h.9v.9h-.9zM373.0 545.4h.9v.9h-.9zM376.1 533.9h.9v.9h-.9zM377.2 541.1h.9v.9h-.9zM374.4 544.9h.9v.9h-.9zM381.9 550.8h.9v.9h-.9zM371.7 550.3h.9v.9h-.9zM370.5 546.1h.9v.9h-.9zM380.8 545.8h.9v.9h-.9zM378.0 549.3h.9v.9h-.9zM390.9 540.2h.9v.9h-.9zM376.5 546.8h.9v.9h-.9zM376.8 545.8h.9v.9h-.9zM379.9 557.0h.9v.9h-.9zM380.3 547.6h.9v.9h-.9zM374.1 548.4h.9v.9h-.9zM387.8 546.7h.9v.9h-.9zM380.8 548.1h.9v.9h-.9zM386.9 551.8h.9v.9h-.9zM386.6 546.2h.9v.9h-.9zM380.0 551.2h.9v.9h-.9zM381.6 545.7h.9v.9h-.9zM382.4 544.3h.9v.9h-.9zM370.8 552.6h.9v.9h-.9zM383.2 544.5h.9v.9h-.9zM374.7 559.4h.9v.9h-.9zM373.1 554.0h.9v.9h-.9zM377.5 555.1h.9v.9h-.9zM380.2 547.5h.9v.9h-.9zM372.3 551.2h.9v.9h-.9zM392.4 549.9h.9v.9h-.9zM378.8 546.2h.9v.9h-.9zM372.0 543.9h.9v.9h-.9zM382.3 547.7h.9v.9h-.9zM379.8 552.0h.9v.9h-.9zM376.5 545.3h.9v.9h-.9zM391.4 529.9h.9v.9h-.9zM396.7 531.3h.9v.9h-.9zM395.7 521.9h.9v.9h-.9zM392.5 525.0h.9v.9h-.9zM396.9 513.3h.9v.9h-.9zM394.6 526.7h.9v.9h-.9zM390.4 528.4h.9v.9h-.9zM401.3 523.3h.9v.9h-.9zM397.1 519.1h.9v.9h-.9zM395.9 519.4h.9v.9h-.9zM398.2 522.4h.9v.9h-.9zM388.3 522.4h.9v.9h-.9zM391.8 523.3h.9v.9h-.9zM389.1 520.3h.9v.9h-.9zM396.0 528.4h.9v.9h-.9zM394.2 526.1h.9v.9h-.9zM396.4 523.5h.9v.9h-.9zM394.3 526.0h.9v.9h-.9zM390.8 535.1h.9v.9h-.9zM393.4 531.6h.9v.9h-.9zM390.2 524.0h.9v.9h-.9zM386.5 521.1h.9v.9h-.9zM396.4 527.5h.9v.9h-.9zM392.0 518.2h.9v.9h-.9zM399.9 521.6h.9v.9h-.9zM392.0 525.7h.9v.9h-.9zM399.9 526.6h.9v.9h-.9zM395.0 515.5h.9v.9h-.9zM392.4 527.3h.9v.9h-.9zM397.8 522.7h.9v.9h-.9zM393.7 527.4h.9v.9h-.9zM387.0 532.2h.9v.9h-.9zM403.0 525.0h.9v.9h-.9zM388.0 531.6h.9v.9h-.9zM389.8 527.4h.9v.9h-.9zM390.5 530.5h.9v.9h-.9zM398.7 519.4h.9v.9h-.9zM390.2 519.7h.9v.9h-.9zM391.8 530.9h.9v.9h-.9zM389.9 531.6h.9v.9h-.9zM395.9 522.8h.9v.9h-.9zM396.7 523.1h.9v.9h-.9zM388.8 534.2h.9v.9h-.9zM390.2 524.3h.9v.9h-.9zM394.4 522.0h.9v.9h-.9zM394.6 520.1h.9v.9h-.9zM386.7 528.4h.9v.9h-.9zM388.3 524.4h.9v.9h-.9zM390.6 518.9h.9v.9h-.9zM401.1 518.4h.9v.9h-.9zM399.1 523.6h.9v.9h-.9zM393.8 520.4h.9v.9h-.9zM394.5 524.4h.9v.9h-.9zM387.4 523.2h.9v.9h-.9zM392.9 519.0h.9v.9h-.9zM398.9 520.9h.9v.9h-.9zM393.5 520.8h.9v.9h-.9zM395.5 519.6h.9v.9h-.9zM391.2 524.6h.9v.9h-.9zM393.6 523.6h.9v.9h-.9zM396.2 520.0h.9v.9h-.9zM394.3 523.6h.9v.9h-.9zM398.9 525.0h.9v.9h-.9zM395.7 519.4h.9v.9h-.9zM401.9 520.4h.9v.9h-.9zM393.1 524.5h.9v.9h-.9zM392.6 527.4h.9v.9h-.9zM397.9 526.1h.9v.9h-.9zM389.1 524.1h.9v.9h-.9zM396.1 526.7h.9v.9h-.9zM390.3 517.2h.9v.9h-.9zM389.9 519.1h.9v.9h-.9zM383.1 526.9h.9v.9h-.9zM386.4 522.2h.9v.9h-.9zM391.8 526.2h.9v.9h-.9zM387.8 524.3h.9v.9h-.9zM395.3 515.1h.9v.9h-.9zM393.1 522.7h.9v.9h-.9zM402.1 523.7h.9v.9h-.9zM387.7 520.6h.9v.9h-.9zM392.6 523.0h.9v.9h-.9zM393.6 519.7h.9v.9h-.9zM395.7 520.7h.9v.9h-.9zM393.9 520.4h.9v.9h-.9zM396.0 520.9h.9v.9h-.9zM390.3 530.0h.9v.9h-.9zM392.1 523.6h.9v.9h-.9zM394.6 522.8h.9v.9h-.9zM387.9 526.0h.9v.9h-.9zM389.8 526.9h.9v.9h-.9zM386.1 533.2h.9v.9h-.9zM386.1 531.0h.9v.9h-.9zM392.2 521.3h.9v.9h-.9zM400.4 525.7h.9v.9h-.9zM389.8 525.3h.9v.9h-.9zM392.3 525.2h.9v.9h-.9zM391.6 527.7h.9v.9h-.9zM395.7 535.1h.9v.9h-.9zM399.9 520.4h.9v.9h-.9zM394.2 515.1h.9v.9h-.9zM398.0 523.3h.9v.9h-.9zM391.1 528.9h.9v.9h-.9zM396.9 526.5h.9v.9h-.9zM392.6 527.6h.9v.9h-.9zM392.9 526.0h.9v.9h-.9zM390.4 524.3h.9v.9h-.9zM392.7 525.9h.9v.9h-.9zM397.2 522.8h.9v.9h-.9zM392.9 522.4h.9v.9h-.9zM391.7 518.5h.9v.9h-.9zM398.2 528.7h.9v.9h-.9zM397.4 517.6h.9v.9h-.9zM392.9 529.5h.9v.9h-.9zM387.4 525.0h.9v.9h-.9zM379.0 527.3h.9v.9h-.9zM388.7 533.4h.9v.9h-.9zM388.3 523.5h.9v.9h-.9zM395.1 523.0h.9v.9h-.9zM393.6 520.2h.9v.9h-.9zM389.7 524.1h.9v.9h-.9zM393.4 524.8h.9v.9h-.9zM392.0 517.3h.9v.9h-.9zM397.5 524.7h.9v.9h-.9zM396.6 521.6h.9v.9h-.9zM399.8 522.5h.9v.9h-.9zM402.9 529.7h.9v.9h-.9zM390.2 521.8h.9v.9h-.9zM391.7 523.2h.9v.9h-.9zM402.3 518.4h.9v.9h-.9zM394.9 528.2h.9v.9h-.9zM394.0 524.7h.9v.9h-.9zM395.9 523.8h.9v.9h-.9zM403.9 526.2h.9v.9h-.9zM394.5 522.2h.9v.9h-.9zM389.9 529.3h.9v.9h-.9zM398.7 520.6h.9v.9h-.9zM386.6 517.7h.9v.9h-.9zM397.5 515.8h.9v.9h-.9zM394.8 527.0h.9v.9h-.9zM393.0 528.3h.9v.9h-.9zM385.6 520.3h.9v.9h-.9zM403.1 531.9h.9v.9h-.9zM386.6 533.9h.9v.9h-.9zM392.4 523.6h.9v.9h-.9zM399.8 512.4h.9v.9h-.9zM392.2 524.4h.9v.9h-.9zM395.5 519.1h.9v.9h-.9zM394.0 524.1h.9v.9h-.9zM390.7 523.0h.9v.9h-.9zM391.6 522.2h.9v.9h-.9zM404.1 520.4h.9v.9h-.9zM403.7 520.1h.9v.9h-.9zM396.9 525.9h.9v.9h-.9zM385.0 523.7h.9v.9h-.9zM386.0 526.6h.9v.9h-.9zM391.4 532.8h.9v.9h-.9zM392.5 530.8h.9v.9h-.9zM407.9 514.9h.9v.9h-.9zM393.3 530.7h.9v.9h-.9zM380.2 526.7h.9v.9h-.9zM397.9 522.3h.9v.9h-.9zM394.6 532.7h.9v.9h-.9zM398.9 526.2h.9v.9h-.9zM391.9 524.2h.9v.9h-.9zM389.4 520.6h.9v.9h-.9zM390.4 517.0h.9v.9h-.9zM391.7 522.7h.9v.9h-.9zM390.2 524.7h.9v.9h-.9zM387.6 528.0h.9v.9h-.9zM396.6 516.9h.9v.9h-.9zM395.4 529.4h.9v.9h-.9zM392.6 523.4h.9v.9h-.9zM391.3 527.6h.9v.9h-.9zM392.9 518.8h.9v.9h-.9zM386.6 534.9h.9v.9h-.9zM386.0 526.3h.9v.9h-.9zM396.1 532.0h.9v.9h-.9zM389.8 532.2h.9v.9h-.9zM396.3 530.5h.9v.9h-.9zM390.4 532.5h.9v.9h-.9zM399.3 527.2h.9v.9h-.9zM388.6 534.0h.9v.9h-.9zM397.8 520.9h.9v.9h-.9zM393.4 527.2h.9v.9h-.9zM395.1 518.4h.9v.9h-.9zM391.3 527.4h.9v.9h-.9zM394.6 533.2h.9v.9h-.9zM385.3 534.7h.9v.9h-.9zM386.4 535.6h.9v.9h-.9zM386.4 520.7h.9v.9h-.9zM388.6 529.1h.9v.9h-.9zM396.3 529.6h.9v.9h-.9zM389.1 528.4h.9v.9h-.9zM400.0 519.5h.9v.9h-.9zM395.8 526.6h.9v.9h-.9zM397.8 525.5h.9v.9h-.9zM392.4 525.0h.9v.9h-.9zM383.2 519.0h.9v.9h-.9zM392.8 518.8h.9v.9h-.9zM392.3 525.0h.9v.9h-.9zM396.7 516.9h.9v.9h-.9zM395.5 523.3h.9v.9h-.9zM385.4 528.4h.9v.9h-.9zM394.1 524.0h.9v.9h-.9zM396.8 525.1h.9v.9h-.9zM388.3 527.2h.9v.9h-.9zM395.1 523.7h.9v.9h-.9zM384.5 526.5h.9v.9h-.9zM395.4 528.7h.9v.9h-.9zM392.7 536.6h.9v.9h-.9zM390.4 534.7h.9v.9h-.9zM391.9 528.5h.9v.9h-.9zM395.1 521.9h.9v.9h-.9zM397.7 532.4h.9v.9h-.9zM397.2 525.5h.9v.9h-.9zM396.1 523.3h.9v.9h-.9zM396.8 518.2h.9v.9h-.9zM390.8 522.6h.9v.9h-.9zM395.5 521.9h.9v.9h-.9zM397.1 518.7h.9v.9h-.9zM396.5 519.1h.9v.9h-.9zM386.1 523.7h.9v.9h-.9zM395.8 523.2h.9v.9h-.9zM390.6 521.9h.9v.9h-.9zM384.4 524.4h.9v.9h-.9zM391.7 525.7h.9v.9h-.9zM393.6 521.2h.9v.9h-.9zM392.6 517.8h.9v.9h-.9zM386.8 528.5h.9v.9h-.9zM397.0 522.3h.9v.9h-.9zM389.3 519.6h.9v.9h-.9zM391.9 525.3h.9v.9h-.9zM388.2 521.0h.9v.9h-.9zM396.3 531.7h.9v.9h-.9zM387.8 528.7h.9v.9h-.9zM391.4 529.2h.9v.9h-.9zM388.7 519.2h.9v.9h-.9zM392.3 524.3h.9v.9h-.9zM394.8 521.9h.9v.9h-.9zM393.4 513.1h.9v.9h-.9zM393.6 524.0h.9v.9h-.9zM387.4 519.8h.9v.9h-.9zM390.5 529.8h.9v.9h-.9zM392.5 519.3h.9v.9h-.9zM391.6 516.3h.9v.9h-.9zM392.1 525.4h.9v.9h-.9zM388.2 528.0h.9v.9h-.9zM393.1 518.0h.9v.9h-.9zM402.7 520.9h.9v.9h-.9zM389.5 531.5h.9v.9h-.9zM388.7 520.6h.9v.9h-.9zM390.3 526.8h.9v.9h-.9zM390.1 524.9h.9v.9h-.9zM394.0 515.8h.9v.9h-.9zM397.4 524.4h.9v.9h-.9zM388.4 518.8h.9v.9h-.9zM392.2 534.1h.9v.9h-.9zM397.4 525.7h.9v.9h-.9zM401.9 522.0h.9v.9h-.9zM395.2 518.7h.9v.9h-.9zM405.8 522.6h.9v.9h-.9zM390.5 522.6h.9v.9h-.9zM391.7 530.8h.9v.9h-.9zM394.3 524.2h.9v.9h-.9zM391.9 522.2h.9v.9h-.9zM384.8 525.4h.9v.9h-.9zM388.1 525.6h.9v.9h-.9zM387.6 528.9h.9v.9h-.9zM385.5 533.5h.9v.9h-.9zM394.1 528.6h.9v.9h-.9zM391.4 528.1h.9v.9h-.9zM397.5 536.3h.9v.9h-.9zM398.1 527.7h.9v.9h-.9zM387.9 530.3h.9v.9h-.9zM399.2 524.6h.9v.9h-.9zM398.2 527.0h.9v.9h-.9zM392.4 520.6h.9v.9h-.9zM393.9 515.0h.9v.9h-.9zM387.6 538.3h.9v.9h-.9zM383.6 529.8h.9v.9h-.9zM395.8 521.7h.9v.9h-.9zM393.1 526.5h.9v.9h-.9zM398.4 519.3h.9v.9h-.9zM401.9 522.8h.9v.9h-.9zM384.5 526.7h.9v.9h-.9zM396.6 523.3h.9v.9h-.9zM394.9 526.3h.9v.9h-.9zM388.8 528.1h.9v.9h-.9zM397.0 531.3h.9v.9h-.9zM391.2 527.2h.9v.9h-.9zM386.2 524.0h.9v.9h-.9zM398.3 516.3h.9v.9h-.9zM401.5 525.4h.9v.9h-.9zM394.1 522.1h.9v.9h-.9zM390.3 520.8h.9v.9h-.9zM396.6 525.1h.9v.9h-.9zM390.7 510.2h.9v.9h-.9zM387.4 532.0h.9v.9h-.9zM392.5 525.8h.9v.9h-.9zM392.7 515.7h.9v.9h-.9zM390.4 518.2h.9v.9h-.9zM397.0 521.1h.9v.9h-.9zM396.8 525.7h.9v.9h-.9zM391.6 520.7h.9v.9h-.9zM394.5 521.3h.9v.9h-.9zM398.0 521.4h.9v.9h-.9zM388.5 524.0h.9v.9h-.9zM386.1 524.7h.9v.9h-.9zM391.0 527.9h.9v.9h-.9zM395.1 524.2h.9v.9h-.9zM392.4 524.0h.9v.9h-.9zM393.7 521.6h.9v.9h-.9zM388.3 525.2h.9v.9h-.9zM397.4 523.6h.9v.9h-.9zM390.1 525.6h.9v.9h-.9zM387.3 525.6h.9v.9h-.9zM390.7 529.0h.9v.9h-.9zM404.4 517.5h.9v.9h-.9zM398.3 526.5h.9v.9h-.9zM390.0 526.0h.9v.9h-.9zM389.6 518.6h.9v.9h-.9zM383.7 529.1h.9v.9h-.9zM400.0 518.9h.9v.9h-.9zM395.7 528.8h.9v.9h-.9zM389.6 521.4h.9v.9h-.9zM387.8 514.7h.9v.9h-.9zM389.1 524.3h.9v.9h-.9zM402.8 516.5h.9v.9h-.9zM389.7 518.8h.9v.9h-.9zM397.9 531.5h.9v.9h-.9zM393.5 515.8h.9v.9h-.9zM399.0 523.4h.9v.9h-.9zM394.0 520.4h.9v.9h-.9zM398.6 524.5h.9v.9h-.9zM388.5 523.9h.9v.9h-.9zM396.7 531.2h.9v.9h-.9zM397.4 520.8h.9v.9h-.9zM393.5 512.9h.9v.9h-.9zM392.5 522.4h.9v.9h-.9zM398.8 516.2h.9v.9h-.9zM394.9 521.2h.9v.9h-.9zM392.6 531.2h.9v.9h-.9zM394.3 526.2h.9v.9h-.9zM388.3 522.9h.9v.9h-.9zM395.8 530.5h.9v.9h-.9zM396.0 527.8h.9v.9h-.9zM396.1 522.7h.9v.9h-.9zM393.7 527.6h.9v.9h-.9zM391.7 516.0h.9v.9h-.9zM388.8 524.3h.9v.9h-.9zM391.2 526.5h.9v.9h-.9zM383.6 522.6h.9v.9h-.9zM398.4 525.3h.9v.9h-.9zM393.7 526.5h.9v.9h-.9zM393.0 523.4h.9v.9h-.9zM397.3 526.7h.9v.9h-.9zM399.6 518.9h.9v.9h-.9zM395.4 519.9h.9v.9h-.9zM396.3 522.6h.9v.9h-.9zM389.6 528.7h.9v.9h-.9zM388.8 525.1h.9v.9h-.9zM394.1 525.2h.9v.9h-.9zM396.6 518.6h.9v.9h-.9zM392.9 529.8h.9v.9h-.9zM392.0 526.7h.9v.9h-.9zM395.6 537.3h.9v.9h-.9zM393.4 527.2h.9v.9h-.9zM383.4 527.2h.9v.9h-.9zM396.0 524.1h.9v.9h-.9zM389.2 525.6h.9v.9h-.9zM387.8 529.7h.9v.9h-.9zM392.8 523.2h.9v.9h-.9zM385.2 521.6h.9v.9h-.9zM399.4 522.6h.9v.9h-.9zM389.2 527.1h.9v.9h-.9zM391.6 527.5h.9v.9h-.9zM392.5 525.6h.9v.9h-.9zM392.2 526.6h.9v.9h-.9zM390.9 523.0h.9v.9h-.9zM395.0 525.4h.9v.9h-.9zM394.8 522.4h.9v.9h-.9zM395.8 528.6h.9v.9h-.9zM389.7 532.2h.9v.9h-.9zM394.8 520.3h.9v.9h-.9zM388.7 524.9h.9v.9h-.9zM395.5 528.9h.9v.9h-.9zM389.6 526.4h.9v.9h-.9zM395.6 524.2h.9v.9h-.9zM389.2 523.2h.9v.9h-.9zM388.0 524.8h.9v.9h-.9zM393.4 522.7h.9v.9h-.9zM396.5 523.1h.9v.9h-.9zM389.5 519.5h.9v.9h-.9zM391.1 530.3h.9v.9h-.9zM395.3 526.2h.9v.9h-.9zM389.3 522.5h.9v.9h-.9zM390.0 524.6h.9v.9h-.9zM397.0 515.1h.9v.9h-.9zM387.7 524.0h.9v.9h-.9zM393.2 521.7h.9v.9h-.9zM390.6 523.7h.9v.9h-.9zM389.6 528.1h.9v.9h-.9zM394.6 525.0h.9v.9h-.9zM395.1 516.2h.9v.9h-.9zM389.0 523.8h.9v.9h-.9zM386.2 533.4h.9v.9h-.9zM395.2 522.0h.9v.9h-.9zM392.8 524.9h.9v.9h-.9zM398.6 519.1h.9v.9h-.9zM388.2 525.0h.9v.9h-.9zM398.2 520.9h.9v.9h-.9zM399.1 529.7h.9v.9h-.9zM390.8 525.7h.9v.9h-.9zM400.9 524.3h.9v.9h-.9zM395.8 530.6h.9v.9h-.9zM389.2 517.4h.9v.9h-.9zM387.4 525.7h.9v.9h-.9zM398.3 524.5h.9v.9h-.9zM393.0 522.4h.9v.9h-.9zM395.0 518.2h.9v.9h-.9zM391.4 527.4h.9v.9h-.9zM394.2 519.6h.9v.9h-.9zM404.4 521.8h.9v.9h-.9zM392.3 519.0h.9v.9h-.9zM391.2 529.6h.9v.9h-.9zM392.1 525.2h.9v.9h-.9zM386.3 533.6h.9v.9h-.9zM392.8 522.4h.9v.9h-.9zM389.6 523.3h.9v.9h-.9zM391.9 518.6h.9v.9h-.9zM387.9 518.7h.9v.9h-.9zM398.6 525.5h.9v.9h-.9zM385.1 525.4h.9v.9h-.9zM390.1 522.4h.9v.9h-.9zM391.6 522.7h.9v.9h-.9zM390.2 524.9h.9v.9h-.9zM399.9 525.0h.9v.9h-.9zM394.2 522.3h.9v.9h-.9zM398.3 527.9h.9v.9h-.9zM381.4 536.0h.9v.9h-.9zM394.4 523.1h.9v.9h-.9zM395.8 516.8h.9v.9h-.9zM387.9 536.2h.9v.9h-.9zM396.3 513.3h.9v.9h-.9zM393.0 520.6h.9v.9h-.9zM391.4 520.8h.9v.9h-.9zM393.8 523.8h.9v.9h-.9zM397.1 520.5h.9v.9h-.9zM395.0 531.3h.9v.9h-.9zM391.5 526.9h.9v.9h-.9zM393.5 520.6h.9v.9h-.9zM395.3 526.8h.9v.9h-.9zM395.2 520.7h.9v.9h-.9zM391.3 525.2h.9v.9h-.9zM397.5 519.0h.9v.9h-.9zM401.4 525.5h.9v.9h-.9zM381.2 531.4h.9v.9h-.9zM398.2 524.9h.9v.9h-.9zM391.3 526.6h.9v.9h-.9zM390.9 525.7h.9v.9h-.9zM401.7 511.0h.9v.9h-.9zM399.4 524.1h.9v.9h-.9zM393.0 521.5h.9v.9h-.9zM380.1 533.2h.9v.9h-.9zM393.3 523.7h.9v.9h-.9zM400.1 523.9h.9v.9h-.9zM395.5 518.8h.9v.9h-.9zM393.3 508.3h.9v.9h-.9zM399.3 520.2h.9v.9h-.9zM394.3 523.4h.9v.9h-.9zM394.7 520.1h.9v.9h-.9zM397.1 518.3h.9v.9h-.9zM397.0 520.3h.9v.9h-.9zM390.1 530.6h.9v.9h-.9zM391.0 517.4h.9v.9h-.9zM390.2 526.7h.9v.9h-.9zM394.9 530.1h.9v.9h-.9zM388.2 523.3h.9v.9h-.9zM394.1 511.5h.9v.9h-.9zM402.5 518.6h.9v.9h-.9zM389.0 526.0h.9v.9h-.9zM394.8 523.7h.9v.9h-.9zM394.2 527.4h.9v.9h-.9zM392.7 517.8h.9v.9h-.9zM390.8 524.7h.9v.9h-.9zM393.5 518.9h.9v.9h-.9zM394.3 527.3h.9v.9h-.9zM392.7 519.2h.9v.9h-.9zM387.5 523.7h.9v.9h-.9zM392.8 522.8h.9v.9h-.9zM394.0 523.9h.9v.9h-.9zM395.2 522.2h.9v.9h-.9zM393.5 514.1h.9v.9h-.9zM396.8 522.7h.9v.9h-.9zM390.6 523.8h.9v.9h-.9zM394.5 527.2h.9v.9h-.9zM393.0 523.6h.9v.9h-.9zM393.8 529.3h.9v.9h-.9zM390.1 528.1h.9v.9h-.9zM392.0 521.0h.9v.9h-.9zM389.5 519.9h.9v.9h-.9zM403.5 514.9h.9v.9h-.9zM389.1 527.5h.9v.9h-.9zM394.4 515.1h.9v.9h-.9zM396.0 536.5h.9v.9h-.9zM390.2 524.1h.9v.9h-.9zM396.5 524.4h.9v.9h-.9zM399.5 522.3h.9v.9h-.9zM396.9 520.0h.9v.9h-.9zM392.9 526.0h.9v.9h-.9zM392.0 526.7h.9v.9h-.9zM394.6 523.5h.9v.9h-.9zM391.5 528.2h.9v.9h-.9zM393.8 530.3h.9v.9h-.9zM393.9 512.5h.9v.9h-.9zM392.9 525.6h.9v.9h-.9zM398.1 531.1h.9v.9h-.9zM395.6 518.5h.9v.9h-.9zM394.2 532.2h.9v.9h-.9zM386.3 527.3h.9v.9h-.9zM389.5 524.7h.9v.9h-.9zM401.2 515.3h.9v.9h-.9zM387.4 524.6h.9v.9h-.9zM394.2 531.0h.9v.9h-.9zM391.4 522.1h.9v.9h-.9zM396.0 528.0h.9v.9h-.9zM388.1 521.6h.9v.9h-.9zM395.8 524.9h.9v.9h-.9zM389.3 521.1h.9v.9h-.9zM394.5 528.1h.9v.9h-.9zM400.9 525.0h.9v.9h-.9zM387.7 533.5h.9v.9h-.9zM390.9 525.0h.9v.9h-.9zM386.0 528.9h.9v.9h-.9zM382.3 525.3h.9v.9h-.9zM392.9 514.7h.9v.9h-.9zM388.5 531.6h.9v.9h-.9zM393.5 524.7h.9v.9h-.9zM387.8 521.5h.9v.9h-.9zM390.7 528.9h.9v.9h-.9zM387.7 525.8h.9v.9h-.9zM394.0 521.2h.9v.9h-.9zM389.0 516.0h.9v.9h-.9zM388.2 527.0h.9v.9h-.9zM398.8 525.7h.9v.9h-.9zM391.2 526.8h.9v.9h-.9zM394.0 524.5h.9v.9h-.9zM390.0 521.4h.9v.9h-.9zM395.4 536.5h.9v.9h-.9zM396.7 516.6h.9v.9h-.9zM390.9 528.6h.9v.9h-.9zM396.0 522.0h.9v.9h-.9zM390.9 519.7h.9v.9h-.9zM397.4 518.7h.9v.9h-.9zM389.6 518.6h.9v.9h-.9zM388.8 527.7h.9v.9h-.9zM394.8 519.3h.9v.9h-.9zM386.5 522.6h.9v.9h-.9zM396.8 521.6h.9v.9h-.9zM392.8 522.4h.9v.9h-.9zM396.6 528.1h.9v.9h-.9zM387.8 528.9h.9v.9h-.9zM393.6 533.6h.9v.9h-.9zM391.8 532.8h.9v.9h-.9zM393.8 519.9h.9v.9h-.9zM386.4 530.2h.9v.9h-.9zM382.0 523.8h.9v.9h-.9zM393.3 522.3h.9v.9h-.9zM394.8 524.3h.9v.9h-.9zM395.9 517.5h.9v.9h-.9zM387.0 529.8h.9v.9h-.9zM387.3 521.9h.9v.9h-.9zM396.1 524.6h.9v.9h-.9zM397.2 515.4h.9v.9h-.9zM393.1 517.5h.9v.9h-.9zM399.8 525.2h.9v.9h-.9zM392.2 527.6h.9v.9h-.9zM394.8 522.8h.9v.9h-.9zM389.1 525.0h.9v.9h-.9zM392.7 518.8h.9v.9h-.9zM387.0 526.8h.9v.9h-.9zM388.2 526.2h.9v.9h-.9zM392.8 520.6h.9v.9h-.9zM397.8 516.1h.9v.9h-.9zM399.2 524.2h.9v.9h-.9zM387.4 521.8h.9v.9h-.9zM388.4 518.8h.9v.9h-.9zM386.6 527.7h.9v.9h-.9zM393.3 525.1h.9v.9h-.9zM384.0 521.4h.9v.9h-.9zM396.9 521.6h.9v.9h-.9zM395.4 532.0h.9v.9h-.9zM390.1 517.5h.9v.9h-.9zM395.9 527.7h.9v.9h-.9zM395.6 521.4h.9v.9h-.9zM393.3 524.7h.9v.9h-.9zM396.0 525.1h.9v.9h-.9zM395.6 526.9h.9v.9h-.9zM389.2 525.8h.9v.9h-.9zM387.1 529.2h.9v.9h-.9zM391.0 531.8h.9v.9h-.9zM391.5 524.6h.9v.9h-.9zM398.5 531.3h.9v.9h-.9zM393.9 515.1h.9v.9h-.9zM390.8 521.1h.9v.9h-.9zM396.5 524.5h.9v.9h-.9zM390.7 524.6h.9v.9h-.9zM395.3 521.2h.9v.9h-.9zM392.0 523.9h.9v.9h-.9zM399.9 513.9h.9v.9h-.9zM390.3 518.4h.9v.9h-.9zM390.8 524.2h.9v.9h-.9zM391.0 524.7h.9v.9h-.9zM395.4 525.6h.9v.9h-.9zM399.4 518.7h.9v.9h-.9zM393.4 531.6h.9v.9h-.9zM397.5 519.4h.9v.9h-.9zM396.5 523.5h.9v.9h-.9zM390.9 526.8h.9v.9h-.9zM396.1 515.5h.9v.9h-.9zM394.7 513.9h.9v.9h-.9zM398.1 520.0h.9v.9h-.9zM392.1 516.8h.9v.9h-.9zM392.4 531.1h.9v.9h-.9zM394.6 523.1h.9v.9h-.9zM390.1 525.2h.9v.9h-.9zM394.5 521.9h.9v.9h-.9zM402.8 519.1h.9v.9h-.9zM392.1 517.2h.9v.9h-.9zM394.2 518.0h.9v.9h-.9zM396.1 522.2h.9v.9h-.9zM395.6 519.4h.9v.9h-.9zM389.0 521.9h.9v.9h-.9zM394.5 523.9h.9v.9h-.9zM389.1 533.4h.9v.9h-.9zM397.4 508.8h.9v.9h-.9zM391.7 518.7h.9v.9h-.9zM392.6 523.3h.9v.9h-.9zM393.4 527.0h.9v.9h-.9zM397.6 534.9h.9v.9h-.9zM400.9 518.5h.9v.9h-.9zM398.6 520.8h.9v.9h-.9zM385.2 526.1h.9v.9h-.9zM387.8 518.8h.9v.9h-.9zM399.2 535.5h.9v.9h-.9zM394.3 529.3h.9v.9h-.9zM391.4 528.9h.9v.9h-.9zM395.8 515.6h.9v.9h-.9zM391.0 526.1h.9v.9h-.9zM402.9 520.8h.9v.9h-.9zM390.1 528.5h.9v.9h-.9zM395.6 530.0h.9v.9h-.9zM389.0 519.4h.9v.9h-.9zM391.8 525.6h.9v.9h-.9zM395.0 515.1h.9v.9h-.9zM395.9 517.8h.9v.9h-.9zM394.7 525.4h.9v.9h-.9zM384.5 524.8h.9v.9h-.9zM393.4 524.9h.9v.9h-.9zM395.1 519.9h.9v.9h-.9zM393.7 523.8h.9v.9h-.9zM391.9 521.3h.9v.9h-.9zM397.4 517.8h.9v.9h-.9zM396.4 509.9h.9v.9h-.9zM391.8 522.6h.9v.9h-.9zM399.9 523.4h.9v.9h-.9zM394.2 515.5h.9v.9h-.9zM393.1 532.5h.9v.9h-.9zM392.3 526.5h.9v.9h-.9zM397.9 525.6h.9v.9h-.9zM394.3 521.7h.9v.9h-.9zM397.4 528.1h.9v.9h-.9zM388.9 520.8h.9v.9h-.9zM398.1 520.9h.9v.9h-.9zM393.4 516.7h.9v.9h-.9zM397.4 524.9h.9v.9h-.9zM396.5 522.4h.9v.9h-.9zM394.7 524.2h.9v.9h-.9zM389.4 535.1h.9v.9h-.9zM386.1 517.4h.9v.9h-.9zM394.6 522.2h.9v.9h-.9zM390.1 516.3h.9v.9h-.9zM396.7 524.5h.9v.9h-.9zM395.8 526.7h.9v.9h-.9zM393.7 523.9h.9v.9h-.9zM397.1 523.5h.9v.9h-.9zM399.7 521.0h.9v.9h-.9zM388.8 525.4h.9v.9h-.9zM396.0 523.3h.9v.9h-.9zM391.9 526.4h.9v.9h-.9zM394.6 523.1h.9v.9h-.9zM398.8 506.1h.9v.9h-.9zM393.1 529.3h.9v.9h-.9zM396.5 521.9h.9v.9h-.9zM386.3 533.2h.9v.9h-.9zM394.0 526.4h.9v.9h-.9zM390.3 522.6h.9v.9h-.9zM391.6 523.8h.9v.9h-.9zM390.3 525.8h.9v.9h-.9zM395.5 519.2h.9v.9h-.9zM392.9 520.0h.9v.9h-.9zM397.5 525.3h.9v.9h-.9zM393.9 529.2h.9v.9h-.9zM391.9 522.6h.9v.9h-.9zM400.0 521.9h.9v.9h-.9zM390.5 527.1h.9v.9h-.9zM390.8 517.4h.9v.9h-.9zM392.1 527.0h.9v.9h-.9zM393.4 521.9h.9v.9h-.9zM391.8 517.3h.9v.9h-.9zM391.1 531.5h.9v.9h-.9zM390.9 525.7h.9v.9h-.9zM394.3 528.3h.9v.9h-.9zM395.0 524.6h.9v.9h-.9zM393.3 527.3h.9v.9h-.9zM383.8 532.8h.9v.9h-.9zM390.3 525.7h.9v.9h-.9zM391.3 524.5h.9v.9h-.9zM398.1 511.5h.9v.9h-.9zM398.2 521.1h.9v.9h-.9zM394.1 514.6h.9v.9h-.9zM394.8 516.3h.9v.9h-.9zM389.8 522.1h.9v.9h-.9zM395.2 527.3h.9v.9h-.9zM388.4 534.3h.9v.9h-.9zM386.5 531.0h.9v.9h-.9zM396.5 523.8h.9v.9h-.9zM393.5 523.5h.9v.9h-.9zM397.3 523.2h.9v.9h-.9zM391.0 524.8h.9v.9h-.9zM390.5 527.3h.9v.9h-.9zM393.5 515.7h.9v.9h-.9zM397.1 517.7h.9v.9h-.9zM403.3 516.6h.9v.9h-.9zM393.4 520.0h.9v.9h-.9zM396.6 527.8h.9v.9h-.9zM391.6 525.0h.9v.9h-.9zM396.3 524.2h.9v.9h-.9zM391.3 533.1h.9v.9h-.9zM392.3 529.2h.9v.9h-.9zM393.5 526.9h.9v.9h-.9zM395.5 523.6h.9v.9h-.9zM396.4 517.6h.9v.9h-.9zM382.9 526.2h.9v.9h-.9zM393.8 522.9h.9v.9h-.9zM398.2 524.5h.9v.9h-.9zM392.2 522.3h.9v.9h-.9zM391.9 525.4h.9v.9h-.9zM391.5 534.3h.9v.9h-.9zM394.1 520.0h.9v.9h-.9zM385.1 532.3h.9v.9h-.9zM386.8 520.5h.9v.9h-.9zM400.4 518.7h.9v.9h-.9zM389.9 524.3h.9v.9h-.9zM386.4 529.1h.9v.9h-.9zM400.6 521.0h.9v.9h-.9zM393.3 523.8h.9v.9h-.9zM392.5 518.7h.9v.9h-.9zM388.8 529.6h.9v.9h-.9zM394.3 513.7h.9v.9h-.9zM393.0 537.7h.9v.9h-.9zM391.1 525.3h.9v.9h-.9zM390.4 524.5h.9v.9h-.9zM393.5 521.8h.9v.9h-.9zM399.7 526.4h.9v.9h-.9zM388.3 528.8h.9v.9h-.9zM383.8 525.3h.9v.9h-.9zM394.4 528.2h.9v.9h-.9zM389.1 528.7h.9v.9h-.9zM402.2 532.2h.9v.9h-.9zM399.8 528.1h.9v.9h-.9zM396.8 519.9h.9v.9h-.9zM398.1 524.0h.9v.9h-.9zM397.0 526.0h.9v.9h-.9zM400.1 522.3h.9v.9h-.9zM397.9 525.1h.9v.9h-.9zM391.6 517.2h.9v.9h-.9zM393.2 529.9h.9v.9h-.9zM397.3 523.8h.9v.9h-.9zM393.9 521.2h.9v.9h-.9zM393.0 525.2h.9v.9h-.9zM388.7 532.0h.9v.9h-.9zM397.7 523.9h.9v.9h-.9zM389.8 527.4h.9v.9h-.9zM397.3 520.4h.9v.9h-.9zM394.9 527.6h.9v.9h-.9zM388.2 529.1h.9v.9h-.9zM391.8 528.6h.9v.9h-.9zM392.5 523.2h.9v.9h-.9zM397.0 524.4h.9v.9h-.9zM394.5 515.3h.9v.9h-.9zM394.3 528.8h.9v.9h-.9zM397.8 521.8h.9v.9h-.9zM388.7 529.0h.9v.9h-.9zM396.8 518.5h.9v.9h-.9zM398.1 515.0h.9v.9h-.9zM394.6 524.3h.9v.9h-.9zM395.7 516.8h.9v.9h-.9zM391.3 519.5h.9v.9h-.9zM395.4 526.7h.9v.9h-.9zM394.4 525.0h.9v.9h-.9zM387.1 527.5h.9v.9h-.9zM385.4 521.8h.9v.9h-.9zM393.8 520.7h.9v.9h-.9zM389.3 522.1h.9v.9h-.9zM396.9 523.2h.9v.9h-.9zM393.4 519.6h.9v.9h-.9zM394.2 526.3h.9v.9h-.9zM398.5 515.6h.9v.9h-.9zM395.7 532.0h.9v.9h-.9zM379.8 529.5h.9v.9h-.9zM401.4 513.9h.9v.9h-.9zM395.7 532.2h.9v.9h-.9zM401.7 526.9h.9v.9h-.9zM400.0 517.6h.9v.9h-.9zM389.6 531.9h.9v.9h-.9zM398.5 519.3h.9v.9h-.9zM395.2 528.0h.9v.9h-.9zM394.6 522.1h.9v.9h-.9zM394.2 526.4h.9v.9h-.9zM401.7 523.8h.9v.9h-.9zM390.9 523.6h.9v.9h-.9zM397.0 519.2h.9v.9h-.9zM389.6 521.1h.9v.9h-.9zM389.4 522.7h.9v.9h-.9zM390.9 525.3h.9v.9h-.9zM389.4 519.8h.9v.9h-.9zM389.3 526.2h.9v.9h-.9zM393.7 521.5h.9v.9h-.9zM388.9 525.5h.9v.9h-.9zM390.0 529.4h.9v.9h-.9zM388.3 518.8h.9v.9h-.9zM398.2 514.2h.9v.9h-.9zM389.3 527.1h.9v.9h-.9zM393.8 525.5h.9v.9h-.9zM389.2 517.5h.9v.9h-.9zM404.5 513.5h.9v.9h-.9zM395.2 522.1h.9v.9h-.9zM391.5 523.1h.9v.9h-.9zM391.2 526.3h.9v.9h-.9zM396.0 525.4h.9v.9h-.9zM390.6 521.1h.9v.9h-.9zM392.9 527.7h.9v.9h-.9zM388.5 522.9h.9v.9h-.9zM391.1 523.5h.9v.9h-.9zM398.1 528.0h.9v.9h-.9zM391.1 526.6h.9v.9h-.9zM403.6 515.6h.9v.9h-.9zM390.0 522.2h.9v.9h-.9zM399.5 520.1h.9v.9h-.9zM393.9 525.0h.9v.9h-.9zM390.3 521.8h.9v.9h-.9zM379.8 524.9h.9v.9h-.9zM396.6 522.0h.9v.9h-.9zM388.5 527.7h.9v.9h-.9zM389.0 525.5h.9v.9h-.9zM398.5 523.9h.9v.9h-.9zM394.0 526.1h.9v.9h-.9zM390.1 530.0h.9v.9h-.9zM398.0 527.4h.9v.9h-.9zM388.4 524.5h.9v.9h-.9zM388.0 519.7h.9v.9h-.9zM388.1 526.4h.9v.9h-.9zM397.0 518.0h.9v.9h-.9zM394.7 532.9h.9v.9h-.9zM400.2 517.9h.9v.9h-.9zM388.5 526.1h.9v.9h-.9zM397.5 523.7h.9v.9h-.9zM401.8 517.6h.9v.9h-.9zM392.8 524.6h.9v.9h-.9zM396.5 521.6h.9v.9h-.9zM393.6 523.4h.9v.9h-.9zM388.6 526.1h.9v.9h-.9zM386.5 522.0h.9v.9h-.9zM388.9 521.6h.9v.9h-.9zM395.7 522.2h.9v.9h-.9zM398.3 518.1h.9v.9h-.9zM402.4 529.2h.9v.9h-.9zM387.9 526.7h.9v.9h-.9zM392.1 524.1h.9v.9h-.9zM389.8 528.0h.9v.9h-.9zM391.4 529.9h.9v.9h-.9zM388.2 532.2h.9v.9h-.9zM389.8 525.2h.9v.9h-.9zM396.6 521.4h.9v.9h-.9zM393.4 522.9h.9v.9h-.9zM393.7 519.4h.9v.9h-.9zM394.7 528.4h.9v.9h-.9zM393.3 539.3h.9v.9h-.9zM393.3 525.1h.9v.9h-.9zM397.1 516.6h.9v.9h-.9zM391.6 514.3h.9v.9h-.9zM394.2 512.1h.9v.9h-.9zM395.3 524.6h.9v.9h-.9zM394.2 525.7h.9v.9h-.9zM386.2 519.4h.9v.9h-.9zM385.6 521.8h.9v.9h-.9zM385.3 514.7h.9v.9h-.9zM407.9 516.0h.9v.9h-.9zM397.7 526.1h.9v.9h-.9zM390.8 527.5h.9v.9h-.9zM389.0 519.6h.9v.9h-.9zM395.4 519.7h.9v.9h-.9zM390.1 540.7h.9v.9h-.9zM389.3 526.2h.9v.9h-.9zM389.5 529.3h.9v.9h-.9zM390.1 531.7h.9v.9h-.9zM387.3 516.6h.9v.9h-.9zM389.0 524.2h.9v.9h-.9zM392.0 521.5h.9v.9h-.9zM388.3 526.8h.9v.9h-.9zM397.2 513.9h.9v.9h-.9zM389.9 521.9h.9v.9h-.9zM395.1 521.7h.9v.9h-.9zM394.4 520.8h.9v.9h-.9zM397.2 527.4h.9v.9h-.9zM400.4 522.7h.9v.9h-.9zM388.8 516.4h.9v.9h-.9zM385.3 531.6h.9v.9h-.9zM397.1 522.7h.9v.9h-.9zM392.0 520.8h.9v.9h-.9zM390.9 528.7h.9v.9h-.9zM397.0 522.7h.9v.9h-.9zM389.9 522.7h.9v.9h-.9zM391.4 521.6h.9v.9h-.9zM395.3 524.5h.9v.9h-.9zM396.7 518.8h.9v.9h-.9zM395.9 527.4h.9v.9h-.9zM391.8 521.2h.9v.9h-.9zM386.1 531.0h.9v.9h-.9zM393.9 522.7h.9v.9h-.9zM390.0 525.4h.9v.9h-.9zM391.7 532.3h.9v.9h-.9zM403.8 520.4h.9v.9h-.9zM386.7 524.5h.9v.9h-.9zM401.3 526.1h.9v.9h-.9zM389.0 519.4h.9v.9h-.9zM387.4 520.0h.9v.9h-.9zM392.5 521.1h.9v.9h-.9zM389.9 519.0h.9v.9h-.9zM394.2 528.2h.9v.9h-.9zM396.3 525.8h.9v.9h-.9zM387.0 522.5h.9v.9h-.9zM389.2 525.1h.9v.9h-.9zM394.8 527.8h.9v.9h-.9zM393.2 524.5h.9v.9h-.9zM389.5 527.3h.9v.9h-.9zM396.5 519.7h.9v.9h-.9zM396.7 516.2h.9v.9h-.9zM389.8 522.2h.9v.9h-.9zM391.3 518.8h.9v.9h-.9zM389.8 520.6h.9v.9h-.9zM389.0 531.1h.9v.9h-.9zM388.0 539.3h.9v.9h-.9zM386.8 536.7h.9v.9h-.9zM389.7 524.6h.9v.9h-.9zM388.6 528.5h.9v.9h-.9zM394.2 521.0h.9v.9h-.9zM393.0 522.8h.9v.9h-.9zM394.1 524.3h.9v.9h-.9zM393.5 527.7h.9v.9h-.9zM387.3 525.9h.9v.9h-.9zM387.2 514.0h.9v.9h-.9zM393.5 521.4h.9v.9h-.9zM393.6 524.9h.9v.9h-.9zM395.2 526.3h.9v.9h-.9zM389.1 526.4h.9v.9h-.9zM389.1 517.8h.9v.9h-.9zM389.9 532.6h.9v.9h-.9zM387.2 526.8h.9v.9h-.9zM395.2 528.0h.9v.9h-.9zM393.3 530.3h.9v.9h-.9zM388.2 515.8h.9v.9h-.9zM392.3 532.6h.9v.9h-.9zM388.6 522.1h.9v.9h-.9zM395.9 514.9h.9v.9h-.9zM392.0 520.4h.9v.9h-.9zM392.7 522.9h.9v.9h-.9zM389.5 527.5h.9v.9h-.9zM398.7 515.9h.9v.9h-.9zM389.3 524.8h.9v.9h-.9zM397.8 520.9h.9v.9h-.9zM386.8 520.0h.9v.9h-.9zM394.2 526.5h.9v.9h-.9zM402.9 517.3h.9v.9h-.9zM385.8 526.1h.9v.9h-.9zM399.1 525.6h.9v.9h-.9zM392.5 524.5h.9v.9h-.9zM392.1 521.3h.9v.9h-.9zM393.7 523.0h.9v.9h-.9zM386.9 524.9h.9v.9h-.9zM393.7 524.9h.9v.9h-.9zM393.2 530.5h.9v.9h-.9zM396.0 530.4h.9v.9h-.9zM392.3 520.4h.9v.9h-.9zM398.4 520.1h.9v.9h-.9zM389.4 527.6h.9v.9h-.9zM393.7 524.9h.9v.9h-.9zM397.1 525.9h.9v.9h-.9zM390.7 510.3h.9v.9h-.9zM388.8 534.3h.9v.9h-.9zM386.4 535.4h.9v.9h-.9zM385.3 539.7h.9v.9h-.9zM379.4 544.5h.9v.9h-.9zM385.5 527.8h.9v.9h-.9zM379.5 536.9h.9v.9h-.9zM387.3 541.4h.9v.9h-.9zM386.1 530.5h.9v.9h-.9zM391.8 548.7h.9v.9h-.9zM388.2 521.4h.9v.9h-.9zM386.0 535.0h.9v.9h-.9zM382.1 543.5h.9v.9h-.9zM381.7 540.7h.9v.9h-.9zM388.4 546.7h.9v.9h-.9zM394.3 532.8h.9v.9h-.9zM383.4 536.2h.9v.9h-.9zM377.4 539.5h.9v.9h-.9zM390.2 548.7h.9v.9h-.9zM389.1 538.5h.9v.9h-.9zM388.2 539.1h.9v.9h-.9zM390.0 538.7h.9v.9h-.9zM388.1 513.8h.9v.9h-.9zM385.3 534.0h.9v.9h-.9zM378.6 548.2h.9v.9h-.9zM371.2 564.0h.9v.9h-.9zM379.6 544.3h.9v.9h-.9zM385.3 547.2h.9v.9h-.9zM386.4 529.4h.9v.9h-.9zM380.6 537.9h.9v.9h-.9zM390.7 538.2h.9v.9h-.9zM388.0 532.7h.9v.9h-.9zM382.1 536.0h.9v.9h-.9zM387.7 542.8h.9v.9h-.9zM388.6 540.2h.9v.9h-.9zM384.6 536.9h.9v.9h-.9zM380.6 548.2h.9v.9h-.9zM383.7 552.7h.9v.9h-.9zM377.6 544.9h.9v.9h-.9zM380.3 551.7h.9v.9h-.9zM384.2 538.8h.9v.9h-.9zM378.3 542.7h.9v.9h-.9zM385.0 546.6h.9v.9h-.9zM382.4 535.6h.9v.9h-.9zM382.6 537.8h.9v.9h-.9zM384.3 529.3h.9v.9h-.9zM387.2 533.7h.9v.9h-.9zM386.9 548.1h.9v.9h-.9zM383.9 546.0h.9v.9h-.9zM385.0 532.5h.9v.9h-.9zM387.0 545.2h.9v.9h-.9zM383.7 545.5h.9v.9h-.9zM380.3 538.4h.9v.9h-.9zM379.3 542.2h.9v.9h-.9zM384.7 529.8h.9v.9h-.9zM391.9 522.7h.9v.9h-.9zM389.9 531.6h.9v.9h-.9zM390.8 529.3h.9v.9h-.9zM382.6 548.9h.9v.9h-.9zM385.5 540.3h.9v.9h-.9zM386.1 537.7h.9v.9h-.9zM387.6 522.4h.9v.9h-.9zM389.4 546.5h.9v.9h-.9zM385.5 534.4h.9v.9h-.9zM381.9 555.2h.9v.9h-.9zM382.2 533.5h.9v.9h-.9zM391.1 532.7h.9v.9h-.9zM383.6 549.1h.9v.9h-.9zM392.1 528.6h.9v.9h-.9zM381.1 543.7h.9v.9h-.9zM386.2 538.3h.9v.9h-.9zM389.6 532.7h.9v.9h-.9zM378.2 551.4h.9v.9h-.9zM378.3 533.4h.9v.9h-.9zM378.3 549.0h.9v.9h-.9zM375.0 558.5h.9v.9h-.9zM379.4 542.4h.9v.9h-.9zM380.6 536.6h.9v.9h-.9zM381.4 543.3h.9v.9h-.9zM383.7 546.8h.9v.9h-.9zM383.4 534.8h.9v.9h-.9zM389.3 538.9h.9v.9h-.9zM389.6 535.9h.9v.9h-.9zM376.1 544.8h.9v.9h-.9zM382.1 545.5h.9v.9h-.9zM387.3 537.0h.9v.9h-.9zM382.8 536.1h.9v.9h-.9zM388.1 537.7h.9v.9h-.9zM381.3 540.9h.9v.9h-.9zM393.3 539.9h.9v.9h-.9zM384.9 543.5h.9v.9h-.9zM384.5 543.1h.9v.9h-.9zM374.2 555.3h.9v.9h-.9zM383.6 532.1h.9v.9h-.9zM384.6 541.9h.9v.9h-.9zM374.7 543.6h.9v.9h-.9zM376.1 542.4h.9v.9h-.9zM382.8 530.5h.9v.9h-.9zM382.0 532.2h.9v.9h-.9zM381.3 534.3h.9v.9h-.9zM387.0 532.2h.9v.9h-.9zM383.4 543.2h.9v.9h-.9zM380.0 553.1h.9v.9h-.9zM389.3 529.7h.9v.9h-.9zM388.6 544.9h.9v.9h-.9zM387.6 536.4h.9v.9h-.9zM389.0 541.2h.9v.9h-.9zM387.4 539.6h.9v.9h-.9zM392.1 529.8h.9v.9h-.9zM388.5 533.4h.9v.9h-.9zM385.7 535.3h.9v.9h-.9zM377.9 547.2h.9v.9h-.9zM396.4 549.1h.9v.9h-.9zM380.0 546.9h.9v.9h-.9zM374.3 560.7h.9v.9h-.9zM382.3 549.7h.9v.9h-.9zM380.8 537.2h.9v.9h-.9zM391.6 540.4h.9v.9h-.9zM389.9 540.1h.9v.9h-.9zM382.1 543.7h.9v.9h-.9zM385.2 534.8h.9v.9h-.9zM389.7 534.4h.9v.9h-.9zM389.3 526.5h.9v.9h-.9zM386.9 527.7h.9v.9h-.9zM380.4 534.8h.9v.9h-.9zM387.9 526.0h.9v.9h-.9zM377.0 538.2h.9v.9h-.9zM394.6 521.7h.9v.9h-.9zM392.0 528.8h.9v.9h-.9zM390.7 537.6h.9v.9h-.9zM388.4 525.9h.9v.9h-.9zM382.3 532.8h.9v.9h-.9zM388.1 539.8h.9v.9h-.9zM393.9 533.4h.9v.9h-.9zM390.3 529.4h.9v.9h-.9zM388.4 529.9h.9v.9h-.9zM383.6 534.9h.9v.9h-.9zM385.5 527.3h.9v.9h-.9zM375.1 544.4h.9v.9h-.9zM382.8 543.7h.9v.9h-.9zM390.4 523.7h.9v.9h-.9zM386.0 528.9h.9v.9h-.9zM380.8 531.7h.9v.9h-.9zM376.8 553.7h.9v.9h-.9zM388.0 524.3h.9v.9h-.9zM381.5 538.2h.9v.9h-.9zM383.0 533.7h.9v.9h-.9zM386.7 526.6h.9v.9h-.9zM378.5 545.8h.9v.9h-.9zM391.4 514.6h.9v.9h-.9zM381.9 538.6h.9v.9h-.9zM382.3 544.4h.9v.9h-.9zM386.6 542.3h.9v.9h-.9zM384.8 540.7h.9v.9h-.9zM378.3 546.1h.9v.9h-.9zM386.8 532.1h.9v.9h-.9zM379.9 540.8h.9v.9h-.9zM388.7 517.2h.9v.9h-.9zM389.8 544.4h.9v.9h-.9zM387.4 543.6h.9v.9h-.9zM378.3 549.4h.9v.9h-.9zM385.8 544.2h.9v.9h-.9zM385.8 550.2h.9v.9h-.9zM385.8 543.4h.9v.9h-.9zM380.0 542.2h.9v.9h-.9zM369.7 550.2h.9v.9h-.9zM377.0 545.3h.9v.9h-.9zM387.9 528.6h.9v.9h-.9zM381.5 538.6h.9v.9h-.9zM385.9 537.4h.9v.9h-.9zM385.8 523.4h.9v.9h-.9zM385.7 523.6h.9v.9h-.9zM392.6 529.8h.9v.9h-.9zM380.4 545.8h.9v.9h-.9zM375.8 536.1h.9v.9h-.9zM378.4 551.6h.9v.9h-.9zM391.3 534.1h.9v.9h-.9zM380.8 536.8h.9v.9h-.9zM396.9 532.1h.9v.9h-.9zM382.3 545.5h.9v.9h-.9zM396.8 525.0h.9v.9h-.9zM386.9 535.3h.9v.9h-.9zM384.4 553.9h.9v.9h-.9zM390.4 539.8h.9v.9h-.9zM389.3 528.7h.9v.9h-.9zM378.2 544.8h.9v.9h-.9zM379.7 532.7h.9v.9h-.9zM378.1 545.4h.9v.9h-.9zM391.1 538.2h.9v.9h-.9zM388.5 519.5h.9v.9h-.9zM385.0 541.0h.9v.9h-.9zM385.6 541.5h.9v.9h-.9zM390.9 527.7h.9v.9h-.9zM387.2 541.4h.9v.9h-.9zM388.7 537.9h.9v.9h-.9zM379.5 546.6h.9v.9h-.9zM377.7 531.5h.9v.9h-.9zM384.0 534.9h.9v.9h-.9zM375.0 545.0h.9v.9h-.9zM391.2 532.5h.9v.9h-.9zM381.4 538.3h.9v.9h-.9zM383.3 517.9h.9v.9h-.9zM404.5 537.3h.9v.9h-.9zM403.9 534.1h.9v.9h-.9zM386.6 543.1h.9v.9h-.9zM382.4 517.5h.9v.9h-.9zM368.3 538.9h.9v.9h-.9zM374.1 538.0h.9v.9h-.9zM384.4 551.5h.9v.9h-.9zM378.6 534.5h.9v.9h-.9zM393.1 544.5h.9v.9h-.9zM396.6 535.3h.9v.9h-.9zM390.5 530.4h.9v.9h-.9zM382.8 537.1h.9v.9h-.9zM394.1 524.5h.9v.9h-.9zM390.7 543.1h.9v.9h-.9zM410.1 514.8h.9v.9h-.9zM388.2 556.5h.9v.9h-.9zM379.7 538.5h.9v.9h-.9zM401.5 528.7h.9v.9h-.9zM385.5 538.4h.9v.9h-.9zM384.4 520.5h.9v.9h-.9zM386.2 533.1h.9v.9h-.9zM399.7 529.9h.9v.9h-.9zM395.7 542.1h.9v.9h-.9zM378.1 538.4h.9v.9h-.9zM380.0 545.3h.9v.9h-.9zM402.9 521.1h.9v.9h-.9zM384.8 530.8h.9v.9h-.9zM391.0 555.7h.9v.9h-.9zM382.0 549.6h.9v.9h-.9zM367.4 543.1h.9v.9h-.9zM387.0 527.2h.9v.9h-.9zM378.2 528.3h.9v.9h-.9zM399.5 510.8h.9v.9h-.9zM377.7 522.3h.9v.9h-.9zM385.2 552.5h.9v.9h-.9zM375.6 521.0h.9v.9h-.9zM363.1 542.2h.9v.9h-.9zM382.4 538.7h.9v.9h-.9zM366.9 535.0h.9v.9h-.9zM404.3 533.6h.9v.9h-.9zM401.9 513.6h.9v.9h-.9zM360.5 542.7h.9v.9h-.9zM406.4 528.7h.9v.9h-.9zM388.9 537.2h.9v.9h-.9zM386.9 543.5h.9v.9h-.9zM371.7 539.9h.9v.9h-.9zM388.8 531.8h.9v.9h-.9zM375.4 526.5h.9v.9h-.9zM374.5 550.9h.9v.9h-.9zM395.8 543.7h.9v.9h-.9zM388.9 520.9h.9v.9h-.9zM383.8 529.6h.9v.9h-.9zM387.3 541.7h.9v.9h-.9zM397.6 531.4h.9v.9h-.9zM407.4 525.2h.9v.9h-.9zM402.1 519.9h.9v.9h-.9zM378.7 514.8h.9v.9h-.9zM383.7 537.4h.9v.9h-.9zM389.9 535.1h.9v.9h-.9zM396.6 531.8h.9v.9h-.9zM389.1 537.5h.9v.9h-.9zM373.0 530.1h.9v.9h-.9zM380.3 552.7h.9v.9h-.9zM389.6 540.2h.9v.9h-.9zM391.9 543.6h.9v.9h-.9zM389.5 518.6h.9v.9h-.9zM376.3 561.6h.9v.9h-.9zM395.7 522.8h.9v.9h-.9zM371.4 536.0h.9v.9h-.9zM384.7 535.0h.9v.9h-.9zM378.3 535.1h.9v.9h-.9zM400.3 526.1h.9v.9h-.9zM390.5 542.7h.9v.9h-.9zM373.5 532.7h.9v.9h-.9zM397.2 523.1h.9v.9h-.9zM392.9 529.7h.9v.9h-.9zM396.0 533.7h.9v.9h-.9zM385.7 535.4h.9v.9h-.9zM402.4 514.3h.9v.9h-.9zM377.8 530.7h.9v.9h-.9zM393.4 531.6h.9v.9h-.9zM390.7 535.9h.9v.9h-.9zM382.7 541.9h.9v.9h-.9zM386.0 535.1h.9v.9h-.9zM381.6 539.5h.9v.9h-.9zM386.5 532.0h.9v.9h-.9zM376.4 532.5h.9v.9h-.9zM385.0 523.1h.9v.9h-.9zM381.2 534.8h.9v.9h-.9zM403.7 537.4h.9v.9h-.9zM374.1 541.8h.9v.9h-.9zM382.8 533.9h.9v.9h-.9zM394.0 513.1h.9v.9h-.9zM382.1 524.3h.9v.9h-.9zM386.5 533.2h.9v.9h-.9zM372.4 528.5h.9v.9h-.9zM387.5 529.2h.9v.9h-.9zM395.3 549.1h.9v.9h-.9zM388.3 533.1h.9v.9h-.9zM404.1 530.8h.9v.9h-.9zM402.7 527.6h.9v.9h-.9zM376.0 526.2h.9v.9h-.9zM392.5 524.0h.9v.9h-.9zM397.5 534.3h.9v.9h-.9zM389.0 531.6h.9v.9h-.9zM416.4 522.1h.9v.9h-.9zM385.1 549.4h.9v.9h-.9zM393.4 541.5h.9v.9h-.9zM390.2 537.4h.9v.9h-.9zM388.7 532.5h.9v.9h-.9zM374.3 539.8h.9v.9h-.9zM415.8 525.2h.9v.9h-.9zM378.4 532.2h.9v.9h-.9zM395.3 511.4h.9v.9h-.9zM359.4 548.0h.9v.9h-.9zM379.5 549.3h.9v.9h-.9zM383.9 532.0h.9v.9h-.9zM381.0 543.1h.9v.9h-.9zM362.6 522.8h.9v.9h-.9zM384.2 540.2h.9v.9h-.9zM387.1 524.9h.9v.9h-.9zM387.2 535.1h.9v.9h-.9zM386.2 531.2h.9v.9h-.9zM401.5 547.2h.9v.9h-.9zM375.6 538.4h.9v.9h-.9zM383.5 535.2h.9v.9h-.9zM389.6 544.4h.9v.9h-.9zM404.1 553.3h.9v.9h-.9zM390.6 535.8h.9v.9h-.9zM381.3 547.1h.9v.9h-.9zM384.5 542.9h.9v.9h-.9zM375.5 531.4h.9v.9h-.9zM380.5 549.0h.9v.9h-.9zM382.6 565.8h.9v.9h-.9zM368.7 550.8h.9v.9h-.9zM392.3 510.5h.9v.9h-.9zM393.5 503.8h.9v.9h-.9zM382.2 551.4h.9v.9h-.9zM381.4 511.0h.9v.9h-.9zM387.8 530.0h.9v.9h-.9zM392.3 523.8h.9v.9h-.9zM399.8 526.3h.9v.9h-.9zM380.4 526.7h.9v.9h-.9zM391.2 554.7h.9v.9h-.9zM373.6 545.5h.9v.9h-.9zM391.3 522.0h.9v.9h-.9zM389.0 552.1h.9v.9h-.9zM386.6 551.3h.9v.9h-.9zM389.6 536.0h.9v.9h-.9z" fill="#f01010" fill-opacity="0.8"/>
<ellipse cx="372.8" cy="552.2" rx="7.0" ry="4.6" fill="#dc1c00" fill-opacity="0.63" filter="url(#fb)" transform="rotate(0 372.8 552.2)"/>
<ellipse cx="393.0" cy="524.1" rx="5.1" ry="5.8" fill="#dc1c00" fill-opacity="0.81" filter="url(#fb)" transform="rotate(-9 393.0 524.1)"/>
<line x1="380.30" y1="486.00" x2="380.30" y2="566.30" stroke="#ee2020" stroke-width="0.9"/>
<line x1="346.60" y1="540.60" x2="427.30" y2="540.60" stroke="#ee2020" stroke-width="0.9"/>
<rect x="346.60" y="486.00" width="80.70" height="80.30" fill="none" stroke="#505050" stroke-width="0.7"/>
<line x1="344.60" y1="566.30" x2="346.60" y2="566.30" stroke="#444" stroke-width="0.6"/>
<line x1="346.60" y1="566.30" x2="346.60" y2="568.30" stroke="#444" stroke-width="0.6"/>
<text x="344.20" y="568.46" font-size="6.00" text-anchor="end" fill="#333">0</text>
<text x="346.60" y="574.26" font-size="6.00" text-anchor="middle" fill="#333">0</text>
<line x1="344.60" y1="546.22" x2="346.60" y2="546.22" stroke="#444" stroke-width="0.6"/>
<line x1="366.78" y1="566.30" x2="366.78" y2="568.30" stroke="#444" stroke-width="0.6"/>
<text x="344.20" y="548.38" font-size="6.00" text-anchor="end" fill="#333">1</text>
<text x="366.78" y="574.26" font-size="6.00" text-anchor="middle" fill="#333">1</text>
<line x1="344.60" y1="526.15" x2="346.60" y2="526.15" stroke="#444" stroke-width="0.6"/>
<line x1="386.95" y1="566.30" x2="386.95" y2="568.30" stroke="#444" stroke-width="0.6"/>
<text x="344.20" y="528.31" font-size="6.00" text-anchor="end" fill="#333">2</text>
<text x="386.95" y="574.26" font-size="6.00" text-anchor="middle" fill="#333">2</text>
<line x1="344.60" y1="506.07" x2="346.60" y2="506.07" stroke="#444" stroke-width="0.6"/>
<line x1="407.12" y1="566.30" x2="407.12" y2="568.30" stroke="#444" stroke-width="0.6"/>
<text x="344.20" y="508.24" font-size="6.00" text-anchor="end" fill="#333">3</text>
<text x="407.12" y="574.26" font-size="6.00" text-anchor="middle" fill="#333">3</text>
<line x1="344.60" y1="486.00" x2="346.60" y2="486.00" stroke="#444" stroke-width="0.6"/>
<line x1="427.30" y1="566.30" x2="427.30" y2="568.30" stroke="#444" stroke-width="0.6"/>
<text x="344.20" y="488.16" font-size="6.00" text-anchor="end" fill="#333">4</text>
<text x="427.30" y="574.26" font-size="6.00" text-anchor="middle" fill="#333">4</text>
<text x="386.95" y="483.96" font-size="6.00" text-anchor="middle" fill="#333" textLength="58.10" lengthAdjust="spacingAndGlyphs">APOPTOSIS PROFILE</text>
<text x="348.20" y="492.64" font-size="5.10" fill="#333">Dead</text>
<text x="348.20" y="498.84" font-size="5.10" fill="#333">3.90 %</text>
<text x="425.90" y="492.64" font-size="5.10" text-anchor="end" fill="#333">Late Apop./Dead</text>
<text x="425.90" y="498.84" font-size="5.10" text-anchor="end" fill="#333">53.06 %</text>
<text x="348.20" y="557.94" font-size="5.10" fill="#333">35.28 %</text>
<text x="348.20" y="564.14" font-size="5.10" fill="#333">Live</text>
<text x="425.90" y="557.94" font-size="5.10" text-anchor="end" fill="#333">7.76 %</text>
<text x="425.90" y="564.14" font-size="5.10" text-anchor="end" fill="#333">Early Apop.</text>
<text x="351.10" y="581.31" font-size="4.20" fill="#555">Live</text>
<text x="386.95" y="581.62" font-size="5.60" text-anchor="middle" fill="#444">ANNEXIN V</text>
<text x="428.30" y="581.31" font-size="4.20" text-anchor="end" fill="#555">Apoptosis</text>
<text x="336.02" y="526.15" font-size="5.60" text-anchor="middle" transform="rotate(-90 336.02 526.15)" fill="#444" textLength="24.00" lengthAdjust="spacingAndGlyphs">VIABILITY</text>
<rect x="519.90" y="564.27" width="12.70" height="6.73" fill="#a09fa6" stroke="#000" stroke-width="1.3"/>
<line x1="526.25" y1="562.14" x2="526.25" y2="563.67" stroke="#b400f0" stroke-width="0.9"/>
<line x1="523.25" y1="562.14" x2="529.25" y2="562.14" stroke="#b400f0" stroke-width="0.9"/>
<circle cx="520.25" cy="563.51" r="1.45" fill="#b400f0"/>
<circle cx="526.25" cy="563.03" r="1.45" fill="#b400f0"/>
<circle cx="532.25" cy="563.22" r="1.45" fill="#b400f0"/>
<rect x="542.70" y="553.83" width="12.90" height="17.17" fill="#a09fa6" stroke="#000" stroke-width="1.3"/>
<line x1="549.15" y1="551.45" x2="549.15" y2="553.23" stroke="#b400f0" stroke-width="0.9"/>
<line x1="546.15" y1="551.45" x2="552.15" y2="551.45" stroke="#b400f0" stroke-width="0.9"/>
<circle cx="543.15" cy="553.07" r="1.45" fill="#b400f0"/>
<circle cx="549.15" cy="551.62" r="1.45" fill="#b400f0"/>
<circle cx="555.15" cy="553.01" r="1.45" fill="#b400f0"/>
<text x="549.95" y="551.59" font-size="9.60" text-anchor="middle" font-weight="bold" fill="#111" letter-spacing="1.6">**</text>
<rect x="565.20" y="529.11" width="13.20" height="41.89" fill="#a09fa6" stroke="#000" stroke-width="1.3"/>
<line x1="571.80" y1="526.71" x2="571.80" y2="528.51" stroke="#b400f0" stroke-width="0.9"/>
<line x1="568.80" y1="526.71" x2="574.80" y2="526.71" stroke="#b400f0" stroke-width="0.9"/>
<circle cx="565.80" cy="530.23" r="1.45" fill="#b400f0"/>
<circle cx="571.80" cy="529.48" r="1.45" fill="#b400f0"/>
<circle cx="577.80" cy="526.42" r="1.45" fill="#b400f0"/>
<text x="572.60" y="526.87" font-size="9.60" text-anchor="middle" font-weight="bold" fill="#111" letter-spacing="1.6">**</text>
<rect x="587.90" y="497.05" width="13.50" height="73.95" fill="#a09fa6" stroke="#000" stroke-width="1.3"/>
<line x1="594.65" y1="493.88" x2="594.65" y2="496.45" stroke="#b400f0" stroke-width="0.9"/>
<line x1="591.65" y1="493.88" x2="597.65" y2="493.88" stroke="#b400f0" stroke-width="0.9"/>
<circle cx="588.65" cy="497.29" r="1.45" fill="#b400f0"/>
<circle cx="594.65" cy="495.93" r="1.45" fill="#b400f0"/>
<circle cx="600.65" cy="496.94" r="1.45" fill="#b400f0"/>
<text x="594.65" y="492.10" font-size="6.80" text-anchor="middle" fill="#222">##</text>
<line x1="511.30" y1="571.60" x2="511.30" y2="471.60" stroke="#1a1a1a" stroke-width="1.2"/>
<line x1="507.30" y1="571.00" x2="511.30" y2="571.00" stroke="#1a1a1a" stroke-width="1.2"/>
<text x="505.60" y="574.17" font-size="8.80" text-anchor="end">0</text>
<line x1="507.30" y1="546.15" x2="511.30" y2="546.15" stroke="#1a1a1a" stroke-width="1.2"/>
<text x="505.60" y="549.32" font-size="8.80" text-anchor="end">20</text>
<line x1="507.30" y1="521.30" x2="511.30" y2="521.30" stroke="#1a1a1a" stroke-width="1.2"/>
<text x="505.60" y="524.47" font-size="8.80" text-anchor="end">40</text>
<line x1="507.30" y1="496.45" x2="511.30" y2="496.45" stroke="#1a1a1a" stroke-width="1.2"/>
<text x="505.60" y="499.62" font-size="8.80" text-anchor="end">60</text>
<line x1="507.30" y1="471.60" x2="511.30" y2="471.60" stroke="#1a1a1a" stroke-width="1.2"/>
<text x="505.60" y="474.77" font-size="8.80" text-anchor="end">80</text>
<line x1="511.30" y1="571.00" x2="610.90" y2="571.00" stroke="#1a1a1a" stroke-width="1.2"/>
<line x1="526.20" y1="571.00" x2="526.20" y2="574.50" stroke="#1a1a1a" stroke-width="1.2"/>
<line x1="549.10" y1="571.00" x2="549.10" y2="574.50" stroke="#1a1a1a" stroke-width="1.2"/>
<line x1="571.80" y1="571.00" x2="571.80" y2="574.50" stroke="#1a1a1a" stroke-width="1.2"/>
<line x1="594.60" y1="571.00" x2="594.60" y2="574.50" stroke="#1a1a1a" stroke-width="1.2"/>
<text x="493.55" y="520.75" font-size="8.50" text-anchor="middle" transform="rotate(-90 493.55 520.75)" font-weight="bold" textLength="80.50" lengthAdjust="spacingAndGlyphs">Apoptosis portion %</text>
<text x="473.60" y="584.82" font-size="8.40" font-weight="bold" fill="#111" textLength="48.00" lengthAdjust="spacingAndGlyphs">8a (6.25 μM)</text>
<line x1="524.00" y1="581.80" x2="528.60" y2="581.80" stroke="#111" stroke-width="1.0"/>
<line x1="546.80" y1="581.80" x2="551.20" y2="581.80" stroke="#111" stroke-width="1.1"/>
<line x1="549.00" y1="579.60" x2="549.00" y2="584.00" stroke="#111" stroke-width="1.1"/>
<line x1="569.70" y1="581.80" x2="574.30" y2="581.80" stroke="#111" stroke-width="1.0"/>
<line x1="592.60" y1="581.80" x2="597.00" y2="581.80" stroke="#111" stroke-width="1.1"/>
<line x1="594.80" y1="579.60" x2="594.80" y2="584.00" stroke="#111" stroke-width="1.1"/>
<text x="471.60" y="595.32" font-size="8.40" font-weight="bold" fill="#111" textLength="50.00" lengthAdjust="spacingAndGlyphs">GEM (10 nM)</text>
<line x1="524.00" y1="592.30" x2="528.60" y2="592.30" stroke="#111" stroke-width="1.0"/>
<line x1="546.70" y1="592.30" x2="551.30" y2="592.30" stroke="#111" stroke-width="1.0"/>
<line x1="569.80" y1="592.30" x2="574.20" y2="592.30" stroke="#111" stroke-width="1.1"/>
<line x1="572.00" y1="590.10" x2="572.00" y2="594.50" stroke="#111" stroke-width="1.1"/>
<line x1="592.60" y1="592.30" x2="597.00" y2="592.30" stroke="#111" stroke-width="1.1"/>
<line x1="594.80" y1="590.10" x2="594.80" y2="594.50" stroke="#111" stroke-width="1.1"/>
<text x="13.93" y="604.20" font-size="21.60" stroke="#fff" stroke-width="0.25">g</text>
<text x="56.20" y="607.81" font-size="9.20" fill="#333" textLength="54.60" lengthAdjust="spacingAndGlyphs">GEM (10 nM)</text>
<line x1="119.10" y1="604.50" x2="123.70" y2="604.50" stroke="#333" stroke-width="0.8"/>
<line x1="144.80" y1="604.50" x2="149.40" y2="604.50" stroke="#333" stroke-width="0.8"/>
<line x1="170.20" y1="604.50" x2="174.60" y2="604.50" stroke="#333" stroke-width="0.9"/>
<line x1="172.40" y1="602.30" x2="172.40" y2="606.70" stroke="#333" stroke-width="0.9"/>
<line x1="195.90" y1="604.50" x2="200.30" y2="604.50" stroke="#333" stroke-width="0.9"/>
<line x1="198.10" y1="602.30" x2="198.10" y2="606.70" stroke="#333" stroke-width="0.9"/>
<text x="59.40" y="621.61" font-size="9.20" fill="#333" textLength="51.40" lengthAdjust="spacingAndGlyphs">8a (6.25 μM)</text>
<line x1="119.10" y1="618.30" x2="123.70" y2="618.30" stroke="#333" stroke-width="0.8"/>
<line x1="144.90" y1="618.30" x2="149.30" y2="618.30" stroke="#333" stroke-width="0.9"/>
<line x1="147.10" y1="616.10" x2="147.10" y2="620.50" stroke="#333" stroke-width="0.9"/>
<line x1="170.10" y1="618.30" x2="174.70" y2="618.30" stroke="#333" stroke-width="0.8"/>
<line x1="195.90" y1="618.30" x2="200.30" y2="618.30" stroke="#333" stroke-width="0.9"/>
<line x1="198.10" y1="616.10" x2="198.10" y2="620.50" stroke="#333" stroke-width="0.9"/>
<rect x="109.20" y="625.00" width="98.80" height="22.80" fill="#f7f7f7" stroke="#707070" stroke-width="1.1"/>
<rect x="115.5" y="633.7" width="20.2" height="8.2" rx="3" fill="#000" fill-opacity="0.10" filter="url(#bb2)"/>
<rect x="117.0" y="635.7" width="17.2" height="4.2" rx="2.1" fill="#000" fill-opacity="1.00" filter="url(#bb)"/>
<rect x="138.6" y="634.0" width="18.1" height="7.6" rx="3" fill="#000" fill-opacity="0.10" filter="url(#bb2)"/>
<rect x="140.1" y="636.0" width="15.1" height="3.6" rx="1.8" fill="#000" fill-opacity="0.95" filter="url(#bb)"/>
<rect x="161.1" y="634.2" width="20.2" height="7.4" rx="3" fill="#000" fill-opacity="0.09" filter="url(#bb2)"/>
<rect x="162.6" y="636.2" width="17.2" height="3.4" rx="1.7" fill="#000" fill-opacity="0.85" filter="url(#bb)"/>
<rect x="186.6" y="633.7" width="15.7" height="6.6" rx="3" fill="#000" fill-opacity="0.07" filter="url(#bb2)"/>
<rect x="188.1" y="635.7" width="12.7" height="2.6" rx="1.3" fill="#000" fill-opacity="0.70" filter="url(#bb)"/>
<text x="65.80" y="640.11" font-size="9.20" fill="#222" textLength="41.80" lengthAdjust="spacingAndGlyphs">Pro-PARP</text>
<rect x="109.20" y="650.60" width="98.80" height="23.20" fill="#f7f7f7" stroke="#707070" stroke-width="1.1"/>
<rect x="119.1" y="658.7" width="16.6" height="6.2" rx="3" fill="#000" fill-opacity="0.01" filter="url(#bb2)"/>
<rect x="120.6" y="660.7" width="13.6" height="2.2" rx="1.1" fill="#000" fill-opacity="0.15" filter="url(#bb)"/>
<rect x="141.0" y="657.9" width="16.6" height="7.2" rx="3" fill="#000" fill-opacity="0.06" filter="url(#bb2)"/>
<rect x="142.5" y="659.9" width="13.6" height="3.2" rx="1.6" fill="#000" fill-opacity="0.60" filter="url(#bb)"/>
<rect x="161.1" y="658.9" width="17.5" height="6.6" rx="3" fill="#000" fill-opacity="0.05" filter="url(#bb2)"/>
<rect x="162.6" y="660.9" width="14.5" height="2.6" rx="1.3" fill="#000" fill-opacity="0.50" filter="url(#bb)"/>
<rect x="182.1" y="656.5" width="21.1" height="7.6" rx="3" fill="#000" fill-opacity="0.10" filter="url(#bb2)"/>
<rect x="183.6" y="658.5" width="18.1" height="3.6" rx="1.8" fill="#000" fill-opacity="1.00" filter="url(#bb)"/>
<text x="51.40" y="665.91" font-size="9.20" fill="#222" textLength="56.20" lengthAdjust="spacingAndGlyphs">Cleved-PARP</text>
<rect x="109.20" y="676.10" width="98.80" height="22.90" fill="#f7f7f7" stroke="#707070" stroke-width="1.1"/>
<rect x="114.5" y="684.3" width="23.0" height="8.4" rx="3" fill="#000" fill-opacity="0.09" filter="url(#bb2)"/>
<rect x="116.0" y="686.3" width="20.0" height="4.4" rx="2.2" fill="#000" fill-opacity="0.90" filter="url(#bb)"/>
<rect x="140.1" y="684.5" width="18.4" height="7.8" rx="3" fill="#000" fill-opacity="0.09" filter="url(#bb2)"/>
<rect x="141.6" y="686.5" width="15.4" height="3.8" rx="1.9" fill="#000" fill-opacity="0.85" filter="url(#bb)"/>
<rect x="161.1" y="684.3" width="19.3" height="7.8" rx="3" fill="#000" fill-opacity="0.09" filter="url(#bb2)"/>
<rect x="162.6" y="686.3" width="16.3" height="3.8" rx="1.9" fill="#000" fill-opacity="0.88" filter="url(#bb)"/>
<rect x="183.9" y="684.1" width="18.4" height="7.0" rx="3" fill="#000" fill-opacity="0.08" filter="url(#bb2)"/>
<rect x="185.4" y="686.1" width="15.4" height="3.0" rx="1.5" fill="#000" fill-opacity="0.80" filter="url(#bb)"/>
<text x="47.50" y="691.26" font-size="9.20" fill="#222" textLength="60.10" lengthAdjust="spacingAndGlyphs">Pro-Caspase 3</text>
<rect x="109.20" y="701.40" width="98.80" height="22.80" fill="#f7f7f7" stroke="#707070" stroke-width="1.1"/>
<rect x="118.2" y="709.5" width="16.6" height="6.0" rx="3" fill="#000" fill-opacity="0.01" filter="url(#bb2)"/>
<rect x="119.7" y="711.5" width="13.6" height="2.0" rx="1.0" fill="#000" fill-opacity="0.06" filter="url(#bb)"/>
<rect x="141.0" y="708.7" width="15.7" height="7.0" rx="3" fill="#000" fill-opacity="0.05" filter="url(#bb2)"/>
<rect x="142.5" y="710.7" width="12.7" height="3.0" rx="1.5" fill="#000" fill-opacity="0.45" filter="url(#bb)"/>
<rect x="162.9" y="708.9" width="15.7" height="7.0" rx="3" fill="#000" fill-opacity="0.05" filter="url(#bb2)"/>
<rect x="164.4" y="710.9" width="12.7" height="3.0" rx="1.5" fill="#000" fill-opacity="0.45" filter="url(#bb)"/>
<rect x="185.7" y="708.0" width="16.6" height="8.6" rx="3" fill="#000" fill-opacity="0.10" filter="url(#bb2)"/>
<rect x="187.2" y="710.0" width="13.6" height="4.6" rx="2.3" fill="#000" fill-opacity="0.95" filter="url(#bb)"/>
<text x="32.10" y="716.51" font-size="9.20" fill="#222" textLength="75.50" lengthAdjust="spacingAndGlyphs">Cleved-Caspase 3</text>
<rect x="109.20" y="726.40" width="98.80" height="22.80" fill="#f7f7f7" stroke="#707070" stroke-width="1.1"/>
<rect x="113.6" y="732.8" width="21.2" height="9.0" rx="3" fill="#000" fill-opacity="0.10" filter="url(#bb2)"/>
<rect x="115.1" y="734.8" width="18.2" height="5.0" rx="2.5" fill="#000" fill-opacity="1.00" filter="url(#bb)"/>
<rect x="137.9" y="733.1" width="21.5" height="8.4" rx="3" fill="#000" fill-opacity="0.10" filter="url(#bb2)"/>
<rect x="139.4" y="735.1" width="18.5" height="4.4" rx="2.2" fill="#000" fill-opacity="1.00" filter="url(#bb)"/>
<rect x="162.0" y="733.5" width="18.4" height="7.8" rx="3" fill="#000" fill-opacity="0.10" filter="url(#bb2)"/>
<rect x="163.5" y="735.5" width="15.4" height="3.8" rx="1.9" fill="#000" fill-opacity="0.95" filter="url(#bb)"/>
<rect x="184.8" y="734.4" width="17.5" height="6.8" rx="3" fill="#000" fill-opacity="0.08" filter="url(#bb2)"/>
<rect x="186.3" y="736.4" width="14.5" height="2.8" rx="1.4" fill="#000" fill-opacity="0.75" filter="url(#bb)"/>
<text x="47.50" y="741.51" font-size="9.20" fill="#222" textLength="60.10" lengthAdjust="spacingAndGlyphs">Pro-Caspase 9</text>
<rect x="109.20" y="751.60" width="98.80" height="22.80" fill="#f7f7f7" stroke="#707070" stroke-width="1.1"/>
<rect x="111.8" y="756.1" width="18.4" height="5.6" rx="3" fill="#000" fill-opacity="0.01" filter="url(#bb2)"/>
<rect x="113.3" y="758.1" width="15.4" height="1.6" rx="0.8" fill="#000" fill-opacity="0.12" filter="url(#bb)"/>
<rect x="139.2" y="756.0" width="17.5" height="5.8" rx="3" fill="#000" fill-opacity="0.03" filter="url(#bb2)"/>
<rect x="140.7" y="758.0" width="14.5" height="1.8" rx="0.9" fill="#000" fill-opacity="0.25" filter="url(#bb)"/>
<rect x="139.2" y="760.8" width="17.5" height="6.0" rx="3" fill="#000" fill-opacity="0.03" filter="url(#bb2)"/>
<rect x="140.7" y="762.8" width="14.5" height="2.0" rx="1.0" fill="#000" fill-opacity="0.30" filter="url(#bb)"/>
<rect x="163.8" y="756.0" width="16.6" height="6.0" rx="3" fill="#000" fill-opacity="0.05" filter="url(#bb2)"/>
<rect x="165.3" y="758.0" width="13.6" height="2.0" rx="1.0" fill="#000" fill-opacity="0.45" filter="url(#bb)"/>
<rect x="163.8" y="760.9" width="16.6" height="6.2" rx="3" fill="#000" fill-opacity="0.06" filter="url(#bb2)"/>
<rect x="165.3" y="762.9" width="13.6" height="2.2" rx="1.1" fill="#000" fill-opacity="0.55" filter="url(#bb)"/>
<rect x="185.7" y="755.7" width="20.3" height="6.6" rx="3" fill="#000" fill-opacity="0.08" filter="url(#bb2)"/>
<rect x="187.2" y="757.7" width="17.3" height="2.6" rx="1.3" fill="#000" fill-opacity="0.80" filter="url(#bb)"/>
<rect x="185.7" y="759.6" width="20.3" height="9.2" rx="3" fill="#000" fill-opacity="0.10" filter="url(#bb2)"/>
<rect x="187.2" y="761.6" width="17.3" height="5.2" rx="2.6" fill="#000" fill-opacity="1.00" filter="url(#bb)"/>
<text x="32.10" y="766.71" font-size="9.20" fill="#222" textLength="75.50" lengthAdjust="spacingAndGlyphs">Cleved-Caspase 9</text>
<rect x="109.20" y="776.80" width="98.80" height="21.30" fill="#f7f7f7" stroke="#707070" stroke-width="1.1"/>
<rect x="109.1" y="783.9" width="23.9" height="6.8" rx="3" fill="#000" fill-opacity="0.10" filter="url(#bb2)"/>
<rect x="110.6" y="785.9" width="20.9" height="2.8" rx="1.4" fill="#000" fill-opacity="0.95" filter="url(#bb)"/>
<rect x="133.7" y="783.9" width="23.9" height="6.8" rx="3" fill="#000" fill-opacity="0.10" filter="url(#bb2)"/>
<rect x="135.2" y="785.9" width="20.9" height="2.8" rx="1.4" fill="#000" fill-opacity="0.95" filter="url(#bb)"/>
<rect x="158.3" y="783.9" width="23.9" height="6.8" rx="3" fill="#000" fill-opacity="0.10" filter="url(#bb2)"/>
<rect x="159.8" y="785.9" width="20.9" height="2.8" rx="1.4" fill="#000" fill-opacity="0.95" filter="url(#bb)"/>
<rect x="183.0" y="783.9" width="23.9" height="6.8" rx="3" fill="#000" fill-opacity="0.10" filter="url(#bb2)"/>
<rect x="184.5" y="785.9" width="20.9" height="2.8" rx="1.4" fill="#000" fill-opacity="0.95" filter="url(#bb)"/>
<text x="78.70" y="791.16" font-size="9.20" fill="#222" textLength="28.90" lengthAdjust="spacingAndGlyphs">β-Actin</text>
<rect x="258.50" y="724.93" width="14.40" height="17.37" fill="#a09fa6" stroke="#000" stroke-width="1.3"/>
<line x1="265.70" y1="722.07" x2="265.70" y2="724.33" stroke="#b400f0" stroke-width="0.9"/>
<line x1="262.70" y1="722.07" x2="268.70" y2="722.07" stroke="#b400f0" stroke-width="0.9"/>
<circle cx="259.70" cy="724.53" r="1.45" fill="#b400f0"/>
<circle cx="265.70" cy="722.33" r="1.45" fill="#b400f0"/>
<circle cx="271.70" cy="724.57" r="1.45" fill="#b400f0"/>
<rect x="283.20" y="701.58" width="14.90" height="40.72" fill="#a09fa6" stroke="#000" stroke-width="1.3"/>
<line x1="290.65" y1="698.32" x2="290.65" y2="700.98" stroke="#b400f0" stroke-width="0.9"/>
<line x1="287.65" y1="698.32" x2="293.65" y2="698.32" stroke="#b400f0" stroke-width="0.9"/>
<circle cx="284.65" cy="702.55" r="1.45" fill="#b400f0"/>
<circle cx="290.65" cy="701.30" r="1.45" fill="#b400f0"/>
<circle cx="296.65" cy="699.63" r="1.45" fill="#b400f0"/>
<text x="291.45" y="699.34" font-size="9.60" text-anchor="middle" font-weight="bold" fill="#111" letter-spacing="1.6">**</text>
<rect x="308.10" y="700.68" width="14.70" height="41.62" fill="#a09fa6" stroke="#000" stroke-width="1.3"/>
<line x1="315.45" y1="697.12" x2="315.45" y2="700.08" stroke="#b400f0" stroke-width="0.9"/>
<line x1="312.45" y1="697.12" x2="318.45" y2="697.12" stroke="#b400f0" stroke-width="0.9"/>
<circle cx="309.45" cy="701.31" r="1.45" fill="#b400f0"/>
<circle cx="315.45" cy="701.77" r="1.45" fill="#b400f0"/>
<circle cx="321.45" cy="699.56" r="1.45" fill="#b400f0"/>
<text x="316.25" y="698.44" font-size="9.60" text-anchor="middle" font-weight="bold" fill="#111" letter-spacing="1.6">**</text>
<rect x="332.80" y="650.37" width="15.20" height="91.93" fill="#a09fa6" stroke="#000" stroke-width="1.3"/>
<line x1="340.40" y1="646.59" x2="340.40" y2="649.77" stroke="#b400f0" stroke-width="0.9"/>
<line x1="337.40" y1="646.59" x2="343.40" y2="646.59" stroke="#b400f0" stroke-width="0.9"/>
<circle cx="334.40" cy="650.59" r="1.45" fill="#b400f0"/>
<circle cx="340.40" cy="647.70" r="1.45" fill="#b400f0"/>
<circle cx="346.40" cy="647.72" r="1.45" fill="#b400f0"/>
<text x="340.40" y="645.42" font-size="6.80" text-anchor="middle" fill="#222">##</text>
<line x1="249.00" y1="742.90" x2="249.00" y2="634.50" stroke="#1a1a1a" stroke-width="1.2"/>
<line x1="245.00" y1="742.30" x2="249.00" y2="742.30" stroke="#1a1a1a" stroke-width="1.2"/>
<text x="243.30" y="745.36" font-size="8.50" text-anchor="end" font-weight="bold">0</text>
<line x1="245.00" y1="706.37" x2="249.00" y2="706.37" stroke="#1a1a1a" stroke-width="1.2"/>
<text x="243.30" y="709.43" font-size="8.50" text-anchor="end" font-weight="bold">2</text>
<line x1="245.00" y1="670.43" x2="249.00" y2="670.43" stroke="#1a1a1a" stroke-width="1.2"/>
<text x="243.30" y="673.49" font-size="8.50" text-anchor="end" font-weight="bold">4</text>
<line x1="245.00" y1="634.50" x2="249.00" y2="634.50" stroke="#1a1a1a" stroke-width="1.2"/>
<text x="243.30" y="637.56" font-size="8.50" text-anchor="end" font-weight="bold">6</text>
<line x1="249.00" y1="742.30" x2="357.40" y2="742.30" stroke="#1a1a1a" stroke-width="1.2"/>
<line x1="265.70" y1="742.30" x2="265.70" y2="745.80" stroke="#1a1a1a" stroke-width="1.2"/>
<line x1="290.65" y1="742.30" x2="290.65" y2="745.80" stroke="#1a1a1a" stroke-width="1.2"/>
<line x1="315.45" y1="742.30" x2="315.45" y2="745.80" stroke="#1a1a1a" stroke-width="1.2"/>
<line x1="340.40" y1="742.30" x2="340.40" y2="745.80" stroke="#1a1a1a" stroke-width="1.2"/>
<text x="224.65" y="690.05" font-size="8.50" text-anchor="middle" transform="rotate(-90 224.65 690.05)" font-weight="bold" textLength="96.90" lengthAdjust="spacingAndGlyphs">Relative protein expression</text>
<text x="233.95" y="688.20" font-size="8.50" text-anchor="middle" transform="rotate(-90 233.95 688.20)" font-weight="bold" textLength="80.60" lengthAdjust="spacingAndGlyphs">(Cleaved-PARP/PARP)</text>
<text x="215.60" y="754.72" font-size="8.40" font-weight="bold" fill="#111" textLength="42.80" lengthAdjust="spacingAndGlyphs">8a (6.25 μM)</text>
<line x1="263.20" y1="751.70" x2="267.80" y2="751.70" stroke="#111" stroke-width="1.0"/>
<line x1="287.90" y1="751.70" x2="292.30" y2="751.70" stroke="#111" stroke-width="1.1"/>
<line x1="290.10" y1="749.50" x2="290.10" y2="753.90" stroke="#111" stroke-width="1.1"/>
<line x1="312.80" y1="751.70" x2="317.40" y2="751.70" stroke="#111" stroke-width="1.0"/>
<line x1="338.10" y1="751.70" x2="342.50" y2="751.70" stroke="#111" stroke-width="1.1"/>
<line x1="340.30" y1="749.50" x2="340.30" y2="753.90" stroke="#111" stroke-width="1.1"/>
<text x="213.80" y="766.72" font-size="8.40" font-weight="bold" fill="#111" textLength="44.60" lengthAdjust="spacingAndGlyphs">GEM (10 nM)</text>
<line x1="263.20" y1="763.70" x2="267.80" y2="763.70" stroke="#111" stroke-width="1.0"/>
<line x1="287.80" y1="763.70" x2="292.40" y2="763.70" stroke="#111" stroke-width="1.0"/>
<line x1="312.90" y1="763.70" x2="317.30" y2="763.70" stroke="#111" stroke-width="1.1"/>
<line x1="315.10" y1="761.50" x2="315.10" y2="765.90" stroke="#111" stroke-width="1.1"/>
<line x1="338.10" y1="763.70" x2="342.50" y2="763.70" stroke="#111" stroke-width="1.1"/>
<line x1="340.30" y1="761.50" x2="340.30" y2="765.90" stroke="#111" stroke-width="1.1"/>
<rect x="412.20" y="722.94" width="14.70" height="20.66" fill="#a09fa6" stroke="#000" stroke-width="1.3"/>
<line x1="419.55" y1="719.56" x2="419.55" y2="722.34" stroke="#b400f0" stroke-width="0.9"/>
<line x1="416.55" y1="719.56" x2="422.55" y2="719.56" stroke="#b400f0" stroke-width="0.9"/>
<circle cx="413.55" cy="721.91" r="1.45" fill="#b400f0"/>
<circle cx="419.55" cy="720.99" r="1.45" fill="#b400f0"/>
<circle cx="425.55" cy="720.51" r="1.45" fill="#b400f0"/>
<rect x="436.90" y="687.21" width="14.90" height="56.39" fill="#a09fa6" stroke="#000" stroke-width="1.3"/>
<line x1="444.35" y1="683.64" x2="444.35" y2="686.61" stroke="#b400f0" stroke-width="0.9"/>
<line x1="441.35" y1="683.64" x2="447.35" y2="683.64" stroke="#b400f0" stroke-width="0.9"/>
<circle cx="438.35" cy="688.14" r="1.45" fill="#b400f0"/>
<circle cx="444.35" cy="688.96" r="1.45" fill="#b400f0"/>
<circle cx="450.35" cy="684.37" r="1.45" fill="#b400f0"/>
<text x="445.15" y="684.97" font-size="9.60" text-anchor="middle" font-weight="bold" fill="#111" letter-spacing="1.6">**</text>
<rect x="462.10" y="680.63" width="14.90" height="62.97" fill="#a09fa6" stroke="#000" stroke-width="1.3"/>
<line x1="469.55" y1="677.69" x2="469.55" y2="680.03" stroke="#b400f0" stroke-width="0.9"/>
<line x1="466.55" y1="677.69" x2="472.55" y2="677.69" stroke="#b400f0" stroke-width="0.9"/>
<circle cx="463.55" cy="679.62" r="1.45" fill="#b400f0"/>
<circle cx="469.55" cy="678.34" r="1.45" fill="#b400f0"/>
<circle cx="475.55" cy="679.05" r="1.45" fill="#b400f0"/>
<text x="470.35" y="678.39" font-size="9.60" text-anchor="middle" font-weight="bold" fill="#111" letter-spacing="1.6">**</text>
<rect x="487.00" y="645.12" width="15.20" height="98.48" fill="#a09fa6" stroke="#000" stroke-width="1.3"/>
<line x1="494.60" y1="642.97" x2="494.60" y2="644.52" stroke="#b400f0" stroke-width="0.9"/>
<line x1="491.60" y1="642.97" x2="497.60" y2="642.97" stroke="#b400f0" stroke-width="0.9"/>
<circle cx="488.60" cy="644.62" r="1.45" fill="#b400f0"/>
<circle cx="494.60" cy="645.42" r="1.45" fill="#b400f0"/>
<circle cx="500.60" cy="643.66" r="1.45" fill="#b400f0"/>
<text x="494.60" y="640.17" font-size="6.80" text-anchor="middle" fill="#222">##</text>
<line x1="402.40" y1="744.20" x2="402.40" y2="634.00" stroke="#1a1a1a" stroke-width="1.2"/>
<line x1="398.40" y1="743.60" x2="402.40" y2="743.60" stroke="#1a1a1a" stroke-width="1.2"/>
<text x="397.10" y="746.66" font-size="8.50" text-anchor="end" font-weight="bold">0</text>
<line x1="398.40" y1="721.68" x2="402.40" y2="721.68" stroke="#1a1a1a" stroke-width="1.2"/>
<text x="397.10" y="724.74" font-size="8.50" text-anchor="end" font-weight="bold">1</text>
<line x1="398.40" y1="699.76" x2="402.40" y2="699.76" stroke="#1a1a1a" stroke-width="1.2"/>
<text x="397.10" y="702.82" font-size="8.50" text-anchor="end" font-weight="bold">2</text>
<line x1="398.40" y1="677.84" x2="402.40" y2="677.84" stroke="#1a1a1a" stroke-width="1.2"/>
<text x="397.10" y="680.90" font-size="8.50" text-anchor="end" font-weight="bold">3</text>
<line x1="398.40" y1="655.92" x2="402.40" y2="655.92" stroke="#1a1a1a" stroke-width="1.2"/>
<text x="397.10" y="658.98" font-size="8.50" text-anchor="end" font-weight="bold">4</text>
<line x1="398.40" y1="634.00" x2="402.40" y2="634.00" stroke="#1a1a1a" stroke-width="1.2"/>
<text x="397.10" y="637.06" font-size="8.50" text-anchor="end" font-weight="bold">5</text>
<line x1="402.40" y1="743.60" x2="511.90" y2="743.60" stroke="#1a1a1a" stroke-width="1.2"/>
<line x1="419.55" y1="743.60" x2="419.55" y2="747.10" stroke="#1a1a1a" stroke-width="1.2"/>
<line x1="444.35" y1="743.60" x2="444.35" y2="747.10" stroke="#1a1a1a" stroke-width="1.2"/>
<line x1="469.55" y1="743.60" x2="469.55" y2="747.10" stroke="#1a1a1a" stroke-width="1.2"/>
<line x1="494.60" y1="743.60" x2="494.60" y2="747.10" stroke="#1a1a1a" stroke-width="1.2"/>
<text x="378.15" y="690.05" font-size="8.50" text-anchor="middle" transform="rotate(-90 378.15 690.05)" font-weight="bold" textLength="99.50" lengthAdjust="spacingAndGlyphs">Relative protein expression</text>
<text x="387.75" y="689.45" font-size="8.50" text-anchor="middle" transform="rotate(-90 387.75 689.45)" font-weight="bold" textLength="115.90" lengthAdjust="spacingAndGlyphs">(Cleaved-Caspase 3/ Caspase 3)</text>
<text x="365.00" y="757.22" font-size="8.40" font-weight="bold" fill="#111" textLength="44.10" lengthAdjust="spacingAndGlyphs">8a (6.25 μM)</text>
<line x1="416.90" y1="754.20" x2="421.50" y2="754.20" stroke="#111" stroke-width="1.0"/>
<line x1="442.20" y1="754.20" x2="446.60" y2="754.20" stroke="#111" stroke-width="1.1"/>
<line x1="444.40" y1="752.00" x2="444.40" y2="756.40" stroke="#111" stroke-width="1.1"/>
<line x1="467.30" y1="754.20" x2="471.90" y2="754.20" stroke="#111" stroke-width="1.0"/>
<line x1="492.60" y1="754.20" x2="497.00" y2="754.20" stroke="#111" stroke-width="1.1"/>
<line x1="494.80" y1="752.00" x2="494.80" y2="756.40" stroke="#111" stroke-width="1.1"/>
<text x="363.00" y="768.52" font-size="8.40" font-weight="bold" fill="#111" textLength="46.10" lengthAdjust="spacingAndGlyphs">GEM (10 nM)</text>
<line x1="416.90" y1="765.50" x2="421.50" y2="765.50" stroke="#111" stroke-width="1.0"/>
<line x1="442.10" y1="765.50" x2="446.70" y2="765.50" stroke="#111" stroke-width="1.0"/>
<line x1="467.40" y1="765.50" x2="471.80" y2="765.50" stroke="#111" stroke-width="1.1"/>
<line x1="469.60" y1="763.30" x2="469.60" y2="767.70" stroke="#111" stroke-width="1.1"/>
<line x1="492.60" y1="765.50" x2="497.00" y2="765.50" stroke="#111" stroke-width="1.1"/>
<line x1="494.80" y1="763.30" x2="494.80" y2="767.70" stroke="#111" stroke-width="1.1"/>
<rect x="564.70" y="718.15" width="14.40" height="26.15" fill="#a09fa6" stroke="#000" stroke-width="1.3"/>
<line x1="571.90" y1="715.97" x2="571.90" y2="717.55" stroke="#b400f0" stroke-width="0.9"/>
<line x1="568.90" y1="715.97" x2="574.90" y2="715.97" stroke="#b400f0" stroke-width="0.9"/>
<circle cx="565.90" cy="719.14" r="1.45" fill="#b400f0"/>
<circle cx="571.90" cy="715.41" r="1.45" fill="#b400f0"/>
<circle cx="577.90" cy="716.44" r="1.45" fill="#b400f0"/>
<rect x="589.40" y="706.38" width="14.90" height="37.92" fill="#a09fa6" stroke="#000" stroke-width="1.3"/>
<line x1="596.85" y1="702.94" x2="596.85" y2="705.78" stroke="#b400f0" stroke-width="0.9"/>
<line x1="593.85" y1="702.94" x2="599.85" y2="702.94" stroke="#b400f0" stroke-width="0.9"/>
<circle cx="590.85" cy="707.66" r="1.45" fill="#b400f0"/>
<circle cx="596.85" cy="705.50" r="1.45" fill="#b400f0"/>
<circle cx="602.85" cy="704.77" r="1.45" fill="#b400f0"/>
<text x="597.65" y="704.14" font-size="9.60" text-anchor="middle" font-weight="bold" fill="#111" letter-spacing="1.6">*</text>
<rect x="614.30" y="688.73" width="14.70" height="55.57" fill="#a09fa6" stroke="#000" stroke-width="1.3"/>
<line x1="621.65" y1="686.59" x2="621.65" y2="688.12" stroke="#b400f0" stroke-width="0.9"/>
<line x1="618.65" y1="686.59" x2="624.65" y2="686.59" stroke="#b400f0" stroke-width="0.9"/>
<circle cx="615.65" cy="688.92" r="1.45" fill="#b400f0"/>
<circle cx="621.65" cy="687.36" r="1.45" fill="#b400f0"/>
<circle cx="627.65" cy="688.18" r="1.45" fill="#b400f0"/>
<text x="622.45" y="686.49" font-size="9.60" text-anchor="middle" font-weight="bold" fill="#111" letter-spacing="1.6">**</text>
<rect x="639.00" y="654.22" width="14.40" height="90.08" fill="#a09fa6" stroke="#000" stroke-width="1.3"/>
<line x1="646.20" y1="651.02" x2="646.20" y2="653.62" stroke="#b400f0" stroke-width="0.9"/>
<line x1="643.20" y1="651.02" x2="649.20" y2="651.02" stroke="#b400f0" stroke-width="0.9"/>
<circle cx="640.20" cy="655.38" r="1.45" fill="#b400f0"/>
<circle cx="646.20" cy="653.22" r="1.45" fill="#b400f0"/>
<circle cx="652.20" cy="651.65" r="1.45" fill="#b400f0"/>
<text x="646.20" y="649.27" font-size="6.80" text-anchor="middle" fill="#222">##</text>
<line x1="555.70" y1="744.90" x2="555.70" y2="637.30" stroke="#1a1a1a" stroke-width="1.2"/>
<line x1="551.70" y1="744.30" x2="555.70" y2="744.30" stroke="#1a1a1a" stroke-width="1.2"/>
<text x="550.40" y="747.36" font-size="8.50" text-anchor="end" font-weight="bold">0</text>
<line x1="551.70" y1="717.55" x2="555.70" y2="717.55" stroke="#1a1a1a" stroke-width="1.2"/>
<text x="550.40" y="720.61" font-size="8.50" text-anchor="end" font-weight="bold">1</text>
<line x1="551.70" y1="690.80" x2="555.70" y2="690.80" stroke="#1a1a1a" stroke-width="1.2"/>
<text x="550.40" y="693.86" font-size="8.50" text-anchor="end" font-weight="bold">2</text>
<line x1="551.70" y1="664.05" x2="555.70" y2="664.05" stroke="#1a1a1a" stroke-width="1.2"/>
<text x="550.40" y="667.11" font-size="8.50" text-anchor="end" font-weight="bold">3</text>
<line x1="551.70" y1="637.30" x2="555.70" y2="637.30" stroke="#1a1a1a" stroke-width="1.2"/>
<text x="550.40" y="640.36" font-size="8.50" text-anchor="end" font-weight="bold">4</text>
<line x1="555.70" y1="744.30" x2="663.10" y2="744.30" stroke="#1a1a1a" stroke-width="1.2"/>
<line x1="571.90" y1="744.30" x2="571.90" y2="747.80" stroke="#1a1a1a" stroke-width="1.2"/>
<line x1="596.85" y1="744.30" x2="596.85" y2="747.80" stroke="#1a1a1a" stroke-width="1.2"/>
<line x1="621.65" y1="744.30" x2="621.65" y2="747.80" stroke="#1a1a1a" stroke-width="1.2"/>
<line x1="646.20" y1="744.30" x2="646.20" y2="747.80" stroke="#1a1a1a" stroke-width="1.2"/>
<text x="532.15" y="691.90" font-size="8.50" text-anchor="middle" transform="rotate(-90 532.15 691.90)" font-weight="bold" textLength="95.80" lengthAdjust="spacingAndGlyphs">Relative protein expression</text>
<text x="541.45" y="691.35" font-size="8.50" text-anchor="middle" transform="rotate(-90 541.45 691.35)" font-weight="bold" textLength="112.10" lengthAdjust="spacingAndGlyphs">(Cleaved-Caspase 9/Caspase 9)</text>
<text x="521.30" y="757.92" font-size="8.40" font-weight="bold" fill="#111" textLength="44.00" lengthAdjust="spacingAndGlyphs">8a (6.25 μM)</text>
<line x1="569.80" y1="754.90" x2="574.40" y2="754.90" stroke="#111" stroke-width="1.0"/>
<line x1="594.60" y1="754.90" x2="599.00" y2="754.90" stroke="#111" stroke-width="1.1"/>
<line x1="596.80" y1="752.70" x2="596.80" y2="757.10" stroke="#111" stroke-width="1.1"/>
<line x1="619.20" y1="754.90" x2="623.80" y2="754.90" stroke="#111" stroke-width="1.0"/>
<line x1="644.20" y1="754.90" x2="648.60" y2="754.90" stroke="#111" stroke-width="1.1"/>
<line x1="646.40" y1="752.70" x2="646.40" y2="757.10" stroke="#111" stroke-width="1.1"/>
<text x="519.00" y="768.72" font-size="8.40" font-weight="bold" fill="#111" textLength="46.30" lengthAdjust="spacingAndGlyphs">GEM (10 nM)</text>
<line x1="569.80" y1="765.70" x2="574.40" y2="765.70" stroke="#111" stroke-width="1.0"/>
<line x1="594.50" y1="765.70" x2="599.10" y2="765.70" stroke="#111" stroke-width="1.0"/>
<line x1="619.30" y1="765.70" x2="623.70" y2="765.70" stroke="#111" stroke-width="1.1"/>
<line x1="621.50" y1="763.50" x2="621.50" y2="767.90" stroke="#111" stroke-width="1.1"/>
<line x1="644.20" y1="765.70" x2="648.60" y2="765.70" stroke="#111" stroke-width="1.1"/>
<line x1="646.40" y1="763.50" x2="646.40" y2="767.90" stroke="#111" stroke-width="1.1"/>
</svg>
</body></html>
